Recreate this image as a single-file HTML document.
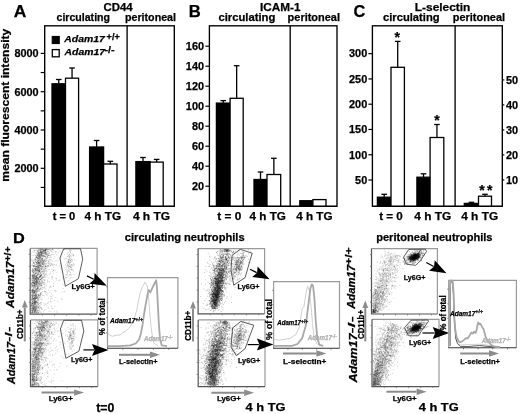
<!DOCTYPE html>
<html><head><meta charset="utf-8"><style>
html,body{margin:0;padding:0;background:#fff;}
svg{display:block;font-family:"Liberation Sans", sans-serif;}
</style></head><body>
<svg width="520" height="414" viewBox="0 0 520 414">
<defs><filter id="bl" x="-5%" y="-5%" width="110%" height="110%"><feGaussianBlur stdDeviation="0.45"/></filter><filter id="gb" x="0" y="0" width="100%" height="100%"><feGaussianBlur stdDeviation="0.35"/></filter></defs>
<g filter="url(#gb)">
<rect width="520" height="414" fill="#fff"/>
<rect x="44.7" y="25.8" width="129.60000000000002" height="180.5" fill="none" stroke="#000" stroke-width="1.35"/>
<line x1="127.1" y1="25.8" x2="127.1" y2="206.3" stroke="#000" stroke-width="1.35"/>
<line x1="40.7" y1="168.3" x2="44.7" y2="168.3" stroke="#000" stroke-width="1.2"/>
<text x="38.6" y="172.10000000000002" font-size="10.8" font-weight="bold" stroke="#000" stroke-width="0.25" text-anchor="end" textLength="24.2" lengthAdjust="spacingAndGlyphs">2000</text>
<line x1="40.7" y1="130.0" x2="44.7" y2="130.0" stroke="#000" stroke-width="1.2"/>
<text x="38.6" y="133.8" font-size="10.8" font-weight="bold" stroke="#000" stroke-width="0.25" text-anchor="end" textLength="24.2" lengthAdjust="spacingAndGlyphs">4000</text>
<line x1="40.7" y1="91.69999999999999" x2="44.7" y2="91.69999999999999" stroke="#000" stroke-width="1.2"/>
<text x="38.6" y="95.49999999999999" font-size="10.8" font-weight="bold" stroke="#000" stroke-width="0.25" text-anchor="end" textLength="24.2" lengthAdjust="spacingAndGlyphs">6000</text>
<line x1="40.7" y1="53.400000000000006" x2="44.7" y2="53.400000000000006" stroke="#000" stroke-width="1.2"/>
<text x="38.6" y="57.2" font-size="10.8" font-weight="bold" stroke="#000" stroke-width="0.25" text-anchor="end" textLength="24.2" lengthAdjust="spacingAndGlyphs">8000</text>
<line x1="40.7" y1="187.45" x2="44.7" y2="187.45" stroke="#000" stroke-width="1.2"/>
<line x1="40.7" y1="149.14999999999998" x2="44.7" y2="149.14999999999998" stroke="#000" stroke-width="1.2"/>
<line x1="40.7" y1="110.85" x2="44.7" y2="110.85" stroke="#000" stroke-width="1.2"/>
<line x1="40.7" y1="72.54999999999998" x2="44.7" y2="72.54999999999998" stroke="#000" stroke-width="1.2"/>
<line x1="58.75" y1="83.8" x2="58.75" y2="79.5" stroke="#000" stroke-width="1.3"/>
<line x1="55.95" y1="79.5" x2="61.55" y2="79.5" stroke="#000" stroke-width="1.3"/>
<rect x="52" y="83.8" width="13.5" height="122.50000000000001" fill="#000" stroke="#000" stroke-width="1.3"/>
<line x1="72.05" y1="78.2" x2="72.05" y2="68.0" stroke="#000" stroke-width="1.3"/>
<line x1="69.25" y1="68.0" x2="74.85" y2="68.0" stroke="#000" stroke-width="1.3"/>
<rect x="65.5" y="78.2" width="13.099999999999994" height="128.10000000000002" fill="#fff" stroke="#000" stroke-width="1.3"/>
<line x1="96.6" y1="147.0" x2="96.6" y2="140.5" stroke="#000" stroke-width="1.3"/>
<line x1="93.8" y1="140.5" x2="99.39999999999999" y2="140.5" stroke="#000" stroke-width="1.3"/>
<rect x="89.6" y="147.0" width="14.0" height="59.30000000000001" fill="#000" stroke="#000" stroke-width="1.3"/>
<line x1="110.3" y1="164.0" x2="110.3" y2="161.3" stroke="#000" stroke-width="1.3"/>
<line x1="107.5" y1="161.3" x2="113.1" y2="161.3" stroke="#000" stroke-width="1.3"/>
<rect x="103.6" y="164.0" width="13.400000000000006" height="42.30000000000001" fill="#fff" stroke="#000" stroke-width="1.3"/>
<line x1="143.0" y1="161.6" x2="143.0" y2="157.5" stroke="#000" stroke-width="1.3"/>
<line x1="140.2" y1="157.5" x2="145.8" y2="157.5" stroke="#000" stroke-width="1.3"/>
<rect x="135.9" y="161.6" width="14.199999999999989" height="44.70000000000002" fill="#000" stroke="#000" stroke-width="1.3"/>
<line x1="156.64999999999998" y1="162.1" x2="156.64999999999998" y2="159.4" stroke="#000" stroke-width="1.3"/>
<line x1="153.84999999999997" y1="159.4" x2="159.45" y2="159.4" stroke="#000" stroke-width="1.3"/>
<rect x="150.1" y="162.1" width="13.099999999999994" height="44.20000000000002" fill="#fff" stroke="#000" stroke-width="1.3"/>
<line x1="44.7" y1="206.3" x2="174.3" y2="206.3" stroke="#000" stroke-width="1.35"/>
<rect x="52.3" y="36.5" width="6.9" height="7.0" fill="#000" stroke="#000" stroke-width="1.2"/>
<rect x="52.3" y="49.6" width="6.9" height="7.2" fill="#fff" stroke="#000" stroke-width="1.3"/>
<text x="64.3" y="42.2" font-size="9.2" font-weight="bold" stroke="#000" stroke-width="0.25" font-style="italic" textLength="40.5" lengthAdjust="spacingAndGlyphs">Adam17</text>
<text x="106.6" y="39.6" font-size="9.4" font-weight="bold" stroke="#000" stroke-width="0.25" textLength="13.2" lengthAdjust="spacingAndGlyphs">+/+</text>
<text x="64.6" y="55.3" font-size="9.2" font-weight="bold" stroke="#000" stroke-width="0.25" font-style="italic" textLength="40.4" lengthAdjust="spacingAndGlyphs">Adam17</text>
<text x="104.4" y="53.2" font-size="9.4" font-weight="bold" stroke="#000" stroke-width="0.25" textLength="10.2" lengthAdjust="spacingAndGlyphs">-/-</text>
<text x="13.7" y="17.4" font-size="16.6" font-weight="bold" stroke="#000" stroke-width="0.25" textLength="12.6" lengthAdjust="spacingAndGlyphs">A</text>
<text x="103.5" y="11.3" font-size="11" font-weight="bold" stroke="#000" stroke-width="0.25" textLength="29.2" lengthAdjust="spacingAndGlyphs">CD44</text>
<text x="56.5" y="21.4" font-size="10.8" font-weight="bold" stroke="#000" stroke-width="0.25" textLength="53.5" lengthAdjust="spacingAndGlyphs">circulating</text>
<text x="125.0" y="21.4" font-size="10.8" font-weight="bold" stroke="#000" stroke-width="0.25" textLength="51.0" lengthAdjust="spacingAndGlyphs">peritoneal</text>
<text x="52.7" y="219.7" font-size="11" font-weight="bold" stroke="#000" stroke-width="0.25" textLength="22.6" lengthAdjust="spacingAndGlyphs">t = 0</text>
<text x="84.6" y="219.7" font-size="11" font-weight="bold" stroke="#000" stroke-width="0.25" textLength="36.4" lengthAdjust="spacingAndGlyphs">4 h TG</text>
<text x="132.9" y="219.7" font-size="11" font-weight="bold" stroke="#000" stroke-width="0.25" textLength="37.2" lengthAdjust="spacingAndGlyphs">4 h TG</text>
<text transform="translate(9.0,181.7) rotate(-90)" font-size="11.2" font-weight="bold" stroke="#000" stroke-width="0.25" textLength="153" lengthAdjust="spacingAndGlyphs">mean fluorescent intensity</text>
<rect x="209.4" y="25.8" width="127.6" height="180.5" fill="none" stroke="#000" stroke-width="1.35"/>
<line x1="290.2" y1="25.8" x2="290.2" y2="206.3" stroke="#000" stroke-width="1.35"/>
<line x1="205.4" y1="186.2" x2="209.4" y2="186.2" stroke="#000" stroke-width="1.2"/>
<text x="204.0" y="190.0" font-size="10.8" font-weight="bold" stroke="#000" stroke-width="0.25" text-anchor="end" textLength="12.1" lengthAdjust="spacingAndGlyphs">20</text>
<line x1="205.4" y1="166.2" x2="209.4" y2="166.2" stroke="#000" stroke-width="1.2"/>
<text x="204.0" y="170.0" font-size="10.8" font-weight="bold" stroke="#000" stroke-width="0.25" text-anchor="end" textLength="12.1" lengthAdjust="spacingAndGlyphs">40</text>
<line x1="205.4" y1="146.2" x2="209.4" y2="146.2" stroke="#000" stroke-width="1.2"/>
<text x="204.0" y="150.0" font-size="10.8" font-weight="bold" stroke="#000" stroke-width="0.25" text-anchor="end" textLength="12.1" lengthAdjust="spacingAndGlyphs">60</text>
<line x1="205.4" y1="126.19999999999999" x2="209.4" y2="126.19999999999999" stroke="#000" stroke-width="1.2"/>
<text x="204.0" y="130.0" font-size="10.8" font-weight="bold" stroke="#000" stroke-width="0.25" text-anchor="end" textLength="12.1" lengthAdjust="spacingAndGlyphs">80</text>
<line x1="205.4" y1="106.19999999999999" x2="209.4" y2="106.19999999999999" stroke="#000" stroke-width="1.2"/>
<text x="204.0" y="109.99999999999999" font-size="10.8" font-weight="bold" stroke="#000" stroke-width="0.25" text-anchor="end" textLength="18.15" lengthAdjust="spacingAndGlyphs">100</text>
<line x1="205.4" y1="86.19999999999999" x2="209.4" y2="86.19999999999999" stroke="#000" stroke-width="1.2"/>
<text x="204.0" y="89.99999999999999" font-size="10.8" font-weight="bold" stroke="#000" stroke-width="0.25" text-anchor="end" textLength="18.15" lengthAdjust="spacingAndGlyphs">120</text>
<line x1="205.4" y1="66.19999999999999" x2="209.4" y2="66.19999999999999" stroke="#000" stroke-width="1.2"/>
<text x="204.0" y="69.99999999999999" font-size="10.8" font-weight="bold" stroke="#000" stroke-width="0.25" text-anchor="end" textLength="18.15" lengthAdjust="spacingAndGlyphs">140</text>
<line x1="205.4" y1="46.19999999999999" x2="209.4" y2="46.19999999999999" stroke="#000" stroke-width="1.2"/>
<text x="204.0" y="49.999999999999986" font-size="10.8" font-weight="bold" stroke="#000" stroke-width="0.25" text-anchor="end" textLength="18.15" lengthAdjust="spacingAndGlyphs">160</text>
<line x1="223.25" y1="103.1" x2="223.25" y2="100.6" stroke="#000" stroke-width="1.3"/>
<line x1="220.45" y1="100.6" x2="226.05" y2="100.6" stroke="#000" stroke-width="1.3"/>
<rect x="216.4" y="103.1" width="13.699999999999989" height="103.20000000000002" fill="#000" stroke="#000" stroke-width="1.3"/>
<line x1="236.64999999999998" y1="98.3" x2="236.64999999999998" y2="65.7" stroke="#000" stroke-width="1.3"/>
<line x1="233.84999999999997" y1="65.7" x2="239.45" y2="65.7" stroke="#000" stroke-width="1.3"/>
<rect x="230.1" y="98.3" width="13.099999999999994" height="108.00000000000001" fill="#fff" stroke="#000" stroke-width="1.3"/>
<line x1="260.5" y1="179.5" x2="260.5" y2="172.0" stroke="#000" stroke-width="1.3"/>
<line x1="257.7" y1="172.0" x2="263.3" y2="172.0" stroke="#000" stroke-width="1.3"/>
<rect x="254.0" y="179.5" width="13.0" height="26.80000000000001" fill="#000" stroke="#000" stroke-width="1.3"/>
<line x1="273.85" y1="174.5" x2="273.85" y2="158.3" stroke="#000" stroke-width="1.3"/>
<line x1="271.05" y1="158.3" x2="276.65000000000003" y2="158.3" stroke="#000" stroke-width="1.3"/>
<rect x="267.0" y="174.5" width="13.699999999999989" height="31.80000000000001" fill="#fff" stroke="#000" stroke-width="1.3"/>
<rect x="299.8" y="200.7" width="13.099999999999966" height="5.600000000000023" fill="#000" stroke="#000" stroke-width="1.3"/>
<rect x="312.9" y="199.6" width="13.100000000000023" height="6.700000000000017" fill="#fff" stroke="#000" stroke-width="1.3"/>
<line x1="209.4" y1="206.3" x2="337.0" y2="206.3" stroke="#000" stroke-width="1.35"/>
<text x="188.8" y="17.4" font-size="16.6" font-weight="bold" stroke="#000" stroke-width="0.25" textLength="12.0" lengthAdjust="spacingAndGlyphs">B</text>
<text x="260.0" y="11.3" font-size="11" font-weight="bold" stroke="#000" stroke-width="0.25" textLength="40.5" lengthAdjust="spacingAndGlyphs">ICAM-1</text>
<text x="218.4" y="21.4" font-size="10.8" font-weight="bold" stroke="#000" stroke-width="0.25" textLength="57.0" lengthAdjust="spacingAndGlyphs">circulating</text>
<text x="287.6" y="21.4" font-size="10.8" font-weight="bold" stroke="#000" stroke-width="0.25" textLength="52.4" lengthAdjust="spacingAndGlyphs">peritoneal</text>
<text x="217.3" y="219.7" font-size="11" font-weight="bold" stroke="#000" stroke-width="0.25" textLength="24.0" lengthAdjust="spacingAndGlyphs">t = 0</text>
<text x="249.6" y="219.7" font-size="11" font-weight="bold" stroke="#000" stroke-width="0.25" textLength="36.3" lengthAdjust="spacingAndGlyphs">4 h TG</text>
<text x="296.2" y="219.7" font-size="11" font-weight="bold" stroke="#000" stroke-width="0.25" textLength="36.3" lengthAdjust="spacingAndGlyphs">4 h TG</text>
<rect x="372.4" y="25.8" width="129.90000000000003" height="180.5" fill="none" stroke="#000" stroke-width="1.35"/>
<line x1="455.1" y1="25.8" x2="455.1" y2="206.3" stroke="#000" stroke-width="1.35"/>
<line x1="368.4" y1="180.025" x2="372.4" y2="180.025" stroke="#000" stroke-width="1.2"/>
<text x="367.2" y="183.82500000000002" font-size="10.8" font-weight="bold" stroke="#000" stroke-width="0.25" text-anchor="end" textLength="12.1" lengthAdjust="spacingAndGlyphs">50</text>
<line x1="368.4" y1="154.75" x2="372.4" y2="154.75" stroke="#000" stroke-width="1.2"/>
<text x="367.2" y="158.55" font-size="10.8" font-weight="bold" stroke="#000" stroke-width="0.25" text-anchor="end" textLength="18.15" lengthAdjust="spacingAndGlyphs">100</text>
<line x1="368.4" y1="129.47500000000002" x2="372.4" y2="129.47500000000002" stroke="#000" stroke-width="1.2"/>
<text x="367.2" y="133.27500000000003" font-size="10.8" font-weight="bold" stroke="#000" stroke-width="0.25" text-anchor="end" textLength="18.15" lengthAdjust="spacingAndGlyphs">150</text>
<line x1="368.4" y1="104.20000000000002" x2="372.4" y2="104.20000000000002" stroke="#000" stroke-width="1.2"/>
<text x="367.2" y="108.00000000000001" font-size="10.8" font-weight="bold" stroke="#000" stroke-width="0.25" text-anchor="end" textLength="18.15" lengthAdjust="spacingAndGlyphs">200</text>
<line x1="368.4" y1="78.92500000000003" x2="372.4" y2="78.92500000000003" stroke="#000" stroke-width="1.2"/>
<text x="367.2" y="82.72500000000002" font-size="10.8" font-weight="bold" stroke="#000" stroke-width="0.25" text-anchor="end" textLength="18.15" lengthAdjust="spacingAndGlyphs">250</text>
<line x1="368.4" y1="53.650000000000034" x2="372.4" y2="53.650000000000034" stroke="#000" stroke-width="1.2"/>
<text x="367.2" y="57.45000000000003" font-size="10.8" font-weight="bold" stroke="#000" stroke-width="0.25" text-anchor="end" textLength="18.15" lengthAdjust="spacingAndGlyphs">300</text>
<line x1="502.3" y1="179.9" x2="504.3" y2="179.9" stroke="#000" stroke-width="1.2"/>
<text x="506.0" y="183.70000000000002" font-size="10.8" font-weight="bold" stroke="#000" stroke-width="0.25" textLength="12.1" lengthAdjust="spacingAndGlyphs">10</text>
<line x1="502.3" y1="154.9" x2="504.3" y2="154.9" stroke="#000" stroke-width="1.2"/>
<text x="506.0" y="158.70000000000002" font-size="10.8" font-weight="bold" stroke="#000" stroke-width="0.25" textLength="12.1" lengthAdjust="spacingAndGlyphs">20</text>
<line x1="502.3" y1="129.9" x2="504.3" y2="129.9" stroke="#000" stroke-width="1.2"/>
<text x="506.0" y="133.70000000000002" font-size="10.8" font-weight="bold" stroke="#000" stroke-width="0.25" textLength="12.1" lengthAdjust="spacingAndGlyphs">30</text>
<line x1="502.3" y1="104.9" x2="504.3" y2="104.9" stroke="#000" stroke-width="1.2"/>
<text x="506.0" y="108.7" font-size="10.8" font-weight="bold" stroke="#000" stroke-width="0.25" textLength="12.1" lengthAdjust="spacingAndGlyphs">40</text>
<line x1="502.3" y1="79.9" x2="504.3" y2="79.9" stroke="#000" stroke-width="1.2"/>
<text x="506.0" y="83.7" font-size="10.8" font-weight="bold" stroke="#000" stroke-width="0.25" textLength="12.1" lengthAdjust="spacingAndGlyphs">50</text>
<line x1="384.2" y1="197.2" x2="384.2" y2="194.3" stroke="#000" stroke-width="1.3"/>
<line x1="381.4" y1="194.3" x2="387.0" y2="194.3" stroke="#000" stroke-width="1.3"/>
<rect x="377.4" y="197.2" width="13.600000000000023" height="9.100000000000023" fill="#000" stroke="#000" stroke-width="1.3"/>
<line x1="397.7" y1="67.3" x2="397.7" y2="41.4" stroke="#000" stroke-width="1.3"/>
<line x1="394.9" y1="41.4" x2="400.5" y2="41.4" stroke="#000" stroke-width="1.3"/>
<rect x="391.0" y="67.3" width="13.399999999999977" height="139.0" fill="#fff" stroke="#000" stroke-width="1.3"/>
<line x1="423.5" y1="177.2" x2="423.5" y2="173.8" stroke="#000" stroke-width="1.3"/>
<line x1="420.7" y1="173.8" x2="426.3" y2="173.8" stroke="#000" stroke-width="1.3"/>
<rect x="416.9" y="177.2" width="13.200000000000045" height="29.100000000000023" fill="#000" stroke="#000" stroke-width="1.3"/>
<line x1="436.95000000000005" y1="137.5" x2="436.95000000000005" y2="124.5" stroke="#000" stroke-width="1.3"/>
<line x1="434.15000000000003" y1="124.5" x2="439.75000000000006" y2="124.5" stroke="#000" stroke-width="1.3"/>
<rect x="430.1" y="137.5" width="13.699999999999989" height="68.80000000000001" fill="#fff" stroke="#000" stroke-width="1.3"/>
<line x1="471.4" y1="203.4" x2="471.4" y2="202.3" stroke="#000" stroke-width="1.3"/>
<line x1="468.59999999999997" y1="202.3" x2="474.2" y2="202.3" stroke="#000" stroke-width="1.3"/>
<rect x="464.3" y="203.4" width="14.199999999999989" height="2.9000000000000057" fill="#000" stroke="#000" stroke-width="1.3"/>
<line x1="485.0" y1="196.2" x2="485.0" y2="194.3" stroke="#000" stroke-width="1.3"/>
<line x1="482.2" y1="194.3" x2="487.8" y2="194.3" stroke="#000" stroke-width="1.3"/>
<rect x="478.5" y="196.2" width="13.0" height="10.100000000000023" fill="#fff" stroke="#000" stroke-width="1.3"/>
<line x1="372.4" y1="206.3" x2="502.3" y2="206.3" stroke="#000" stroke-width="1.35"/>
<text x="397.3" y="41.6" font-size="14" font-weight="bold" stroke="#000" stroke-width="0.25" text-anchor="middle">*</text>
<text x="436.9" y="125.0" font-size="14" font-weight="bold" stroke="#000" stroke-width="0.25" text-anchor="middle">*</text>
<text x="481.9" y="194.8" font-size="14" font-weight="bold" stroke="#000" stroke-width="0.25" text-anchor="middle">*</text>
<text x="489.7" y="194.8" font-size="14" font-weight="bold" stroke="#000" stroke-width="0.25" text-anchor="middle">*</text>
<text x="353.4" y="17.4" font-size="16.6" font-weight="bold" stroke="#000" stroke-width="0.25" textLength="11.8" lengthAdjust="spacingAndGlyphs">C</text>
<text x="414.8" y="11.3" font-size="11" font-weight="bold" stroke="#000" stroke-width="0.25" textLength="55.6" lengthAdjust="spacingAndGlyphs">L-selectin</text>
<text x="383.0" y="21.4" font-size="10.8" font-weight="bold" stroke="#000" stroke-width="0.25" textLength="56.6" lengthAdjust="spacingAndGlyphs">circulating</text>
<text x="452.8" y="21.4" font-size="10.8" font-weight="bold" stroke="#000" stroke-width="0.25" textLength="52.2" lengthAdjust="spacingAndGlyphs">peritoneal</text>
<text x="379.2" y="219.7" font-size="11" font-weight="bold" stroke="#000" stroke-width="0.25" textLength="23.6" lengthAdjust="spacingAndGlyphs">t = 0</text>
<text x="414.3" y="219.7" font-size="11" font-weight="bold" stroke="#000" stroke-width="0.25" textLength="36.9" lengthAdjust="spacingAndGlyphs">4 h TG</text>
<text x="461.2" y="219.7" font-size="11" font-weight="bold" stroke="#000" stroke-width="0.25" textLength="37.0" lengthAdjust="spacingAndGlyphs">4 h TG</text>
<text x="12.9" y="243.4" font-size="14.5" font-weight="bold" stroke="#000" stroke-width="0.25" textLength="11.8" lengthAdjust="spacingAndGlyphs">D</text>
<text x="124.8" y="240.6" font-size="11" font-weight="bold" stroke="#000" stroke-width="0.25" textLength="119.8" lengthAdjust="spacingAndGlyphs">circulating neutrophils</text>
<text x="376.2" y="240.6" font-size="11" font-weight="bold" stroke="#000" stroke-width="0.25" textLength="116.3" lengthAdjust="spacingAndGlyphs">peritoneal neutrophils</text>
<text x="96.2" y="412.3" font-size="12.6" font-weight="bold" stroke="#000" stroke-width="0.25" textLength="18.2" lengthAdjust="spacingAndGlyphs">t=0</text>
<text x="245.5" y="411.4" font-size="11.8" font-weight="bold" stroke="#000" stroke-width="0.25" textLength="40" lengthAdjust="spacingAndGlyphs">4 h TG</text>
<text x="418.7" y="411.4" font-size="11.8" font-weight="bold" stroke="#000" stroke-width="0.25" textLength="40" lengthAdjust="spacingAndGlyphs">4 h TG</text>
<path d="M30.2 248.4H97.1V314.2" stroke="#9a9a9a" stroke-width="1.2" fill="none"/>
<path d="M30.2 248.4V314.2H97.1" stroke="#555" stroke-width="1.2" fill="none"/>
<line x1="30.2" y1="302.23636363636365" x2="28.7" y2="302.23636363636365" stroke="#777" stroke-width="0.8"/>
<line x1="42.36363636363636" y1="314.2" x2="42.36363636363636" y2="315.7" stroke="#777" stroke-width="0.8"/>
<line x1="30.2" y1="290.27272727272725" x2="28.7" y2="290.27272727272725" stroke="#777" stroke-width="0.8"/>
<line x1="54.527272727272724" y1="314.2" x2="54.527272727272724" y2="315.7" stroke="#777" stroke-width="0.8"/>
<line x1="30.2" y1="278.3090909090909" x2="28.7" y2="278.3090909090909" stroke="#777" stroke-width="0.8"/>
<line x1="66.69090909090909" y1="314.2" x2="66.69090909090909" y2="315.7" stroke="#777" stroke-width="0.8"/>
<line x1="30.2" y1="266.3454545454546" x2="28.7" y2="266.3454545454546" stroke="#777" stroke-width="0.8"/>
<line x1="78.85454545454544" y1="314.2" x2="78.85454545454544" y2="315.7" stroke="#777" stroke-width="0.8"/>
<line x1="30.2" y1="254.38181818181818" x2="28.7" y2="254.38181818181818" stroke="#777" stroke-width="0.8"/>
<line x1="91.0181818181818" y1="314.2" x2="91.0181818181818" y2="315.7" stroke="#777" stroke-width="0.8"/>
<path d="M30.5 319.9H97.8V386.6" stroke="#9a9a9a" stroke-width="1.2" fill="none"/>
<path d="M30.5 319.9V386.6H97.8" stroke="#555" stroke-width="1.2" fill="none"/>
<line x1="30.5" y1="374.4727272727273" x2="29.0" y2="374.4727272727273" stroke="#777" stroke-width="0.8"/>
<line x1="42.736363636363635" y1="386.6" x2="42.736363636363635" y2="388.1" stroke="#777" stroke-width="0.8"/>
<line x1="30.5" y1="362.3454545454546" x2="29.0" y2="362.3454545454546" stroke="#777" stroke-width="0.8"/>
<line x1="54.97272727272727" y1="386.6" x2="54.97272727272727" y2="388.1" stroke="#777" stroke-width="0.8"/>
<line x1="30.5" y1="350.21818181818185" x2="29.0" y2="350.21818181818185" stroke="#777" stroke-width="0.8"/>
<line x1="67.2090909090909" y1="386.6" x2="67.2090909090909" y2="388.1" stroke="#777" stroke-width="0.8"/>
<line x1="30.5" y1="338.09090909090907" x2="29.0" y2="338.09090909090907" stroke="#777" stroke-width="0.8"/>
<line x1="79.44545454545454" y1="386.6" x2="79.44545454545454" y2="388.1" stroke="#777" stroke-width="0.8"/>
<line x1="30.5" y1="325.96363636363634" x2="29.0" y2="325.96363636363634" stroke="#777" stroke-width="0.8"/>
<line x1="91.68181818181819" y1="386.6" x2="91.68181818181819" y2="388.1" stroke="#777" stroke-width="0.8"/>
<g filter="url(#bl)">
<path d="M31.5 287.9h1M33.5 299.2h1M39.5 254.6h1M40.4 275.4h1M31.6 282.5h1M39.5 252.9h1M39.9 256.2h1M37.4 268.2h1M32.6 281.1h1M36.5 257.6h1M36.9 275.1h1M37.7 291.1h1M42.5 270.8h1M33.8 305.3h1M33.0 309.1h1M34.0 285.8h1M36.2 301.1h1M31.6 312.7h1M40.2 276.4h1M33.4 274.2h1M37.3 259.3h1M48.9 255.2h1M36.7 270.1h1M32.6 299.7h1M44.7 249.9h1M34.9 279.6h1M31.9 299.0h1M39.5 282.1h1M43.1 260.4h1M41.5 269.2h1M33.5 268.7h1M34.8 282.7h1M40.5 294.3h1M31.7 312.4h1M31.3 305.3h1M32.3 299.4h1M32.6 294.0h1M43.9 253.6h1M37.2 258.3h1M35.3 282.2h1M38.7 276.4h1M33.6 310.8h1M32.1 282.6h1M37.1 277.6h1M35.7 279.5h1M38.6 282.1h1M37.9 258.3h1M30.9 265.5h1M38.4 308.2h1M40.8 268.6h1M36.4 272.5h1M37.2 288.4h1M32.3 279.1h1M37.5 258.3h1M34.7 283.0h1M31.8 301.4h1M38.8 250.3h1M35.4 259.2h1M41.3 308.5h1M34.8 275.2h1M33.2 276.2h1M38.1 263.5h1M35.6 309.7h1M47.7 255.4h1M38.8 271.4h1M36.9 270.4h1M34.6 292.3h1M33.7 265.9h1M32.7 304.4h1M36.2 282.1h1M38.7 305.2h1M34.5 302.6h1M41.8 260.9h1M38.1 260.5h1M45.3 252.5h1M40.4 265.8h1M37.7 263.9h1M43.3 263.1h1M35.5 270.8h1M41.6 283.0h1M42.3 252.4h1M35.1 278.6h1M43.4 261.3h1M31.8 313.1h1M35.4 283.8h1M33.6 291.1h1M36.6 291.4h1M43.1 250.1h1M34.0 299.8h1M38.0 279.1h1M37.1 261.4h1M40.3 293.5h1M34.5 302.2h1M44.8 249.2h1M33.4 266.3h1M31.9 305.7h1M37.2 274.6h1M37.6 272.2h1M35.8 262.9h1M44.3 269.7h1M38.1 273.0h1M32.1 276.3h1M52.8 270.1h1M35.9 276.4h1M33.1 290.6h1M40.7 274.7h1M36.3 283.8h1M47.5 263.3h1M35.2 273.1h1M37.4 310.6h1M37.8 298.1h1M33.9 297.7h1M42.3 263.0h1M42.4 279.1h1M38.4 253.5h1M42.0 271.7h1M33.0 304.7h1M39.6 270.1h1M37.5 300.3h1M41.0 288.9h1M43.9 251.5h1M44.2 253.1h1M39.2 311.1h1M32.8 283.8h1M32.0 289.6h1M32.7 302.7h1M39.5 289.1h1M31.5 306.3h1M34.8 270.5h1M38.7 297.5h1M41.1 249.7h1M38.3 285.9h1M37.3 287.0h1M36.8 261.1h1M33.8 303.1h1M35.2 281.2h1M41.3 283.0h1M36.1 279.2h1M32.6 266.6h1M37.9 255.2h1M38.5 273.0h1M36.6 310.7h1M32.1 309.1h1M32.8 293.2h1M37.5 278.2h1M42.1 249.2h1M42.3 258.3h1M31.9 263.9h1M31.1 305.0h1M33.7 305.9h1M32.8 293.8h1M35.1 290.7h1M49.9 273.3h1M31.3 280.5h1M40.6 261.8h1M46.4 258.7h1M38.1 267.6h1M33.5 303.2h1M45.1 251.0h1M36.1 276.4h1M32.2 296.8h1M32.3 292.4h1M35.6 298.6h1M42.2 267.0h1M35.3 269.0h1M49.3 263.9h1M40.9 286.1h1M37.2 255.4h1M44.1 284.7h1M41.5 251.8h1M40.5 255.1h1M39.2 255.5h1M35.4 307.9h1M41.7 259.1h1M39.4 299.2h1M32.6 285.2h1M32.7 272.0h1M38.1 305.0h1M31.9 276.8h1M48.3 255.0h1M38.2 270.8h1M35.7 284.5h1M40.3 260.2h1M36.0 284.1h1M43.1 266.5h1M38.4 286.0h1M33.6 300.5h1M33.7 268.5h1M36.7 282.6h1M40.9 256.7h1M42.1 264.1h1M33.5 292.3h1M37.8 279.8h1M41.9 309.4h1M35.2 260.3h1M32.7 301.1h1M39.6 297.9h1M34.3 280.3h1M39.5 295.5h1M36.1 273.2h1M40.3 297.0h1M33.5 287.7h1M32.1 280.6h1M41.7 255.9h1M38.5 293.6h1M33.2 282.6h1M34.6 306.8h1M36.9 260.7h1M31.0 290.9h1M33.9 295.7h1M32.6 305.9h1M34.0 299.0h1M35.8 276.8h1M35.6 286.4h1M37.5 258.8h1M36.6 263.6h1M35.3 309.4h1M38.2 253.3h1M40.4 285.1h1M31.9 298.0h1M34.8 255.6h1M41.1 271.2h1M34.6 270.8h1M32.6 272.2h1M38.4 270.2h1M31.7 296.8h1M35.7 272.2h1M35.6 253.1h1M33.3 289.8h1M34.2 288.8h1M48.4 253.2h1M34.2 304.7h1M36.5 262.8h1M36.3 284.6h1M45.0 277.0h1M36.0 297.2h1M33.2 263.2h1M42.3 276.6h1M39.6 254.1h1M41.7 263.3h1M48.4 266.0h1M33.1 294.1h1M36.3 266.3h1M36.5 275.3h1M41.9 249.6h1M33.3 272.6h1M35.2 271.9h1M35.8 280.5h1M34.0 307.4h1M40.6 253.2h1M36.4 302.2h1M32.1 272.0h1M48.2 255.4h1M32.3 286.5h1M39.0 258.1h1M36.4 301.7h1M37.6 279.1h1M31.9 300.2h1M43.1 269.6h1M33.6 307.9h1M31.6 293.1h1M43.1 255.9h1M40.9 277.9h1M39.7 303.1h1M50.8 254.5h1M36.1 266.4h1M40.8 294.1h1M36.3 296.2h1M32.3 278.3h1M39.5 266.2h1M38.9 264.6h1M31.2 310.7h1M34.0 292.5h1M41.9 263.6h1M31.3 290.1h1M32.3 285.9h1M35.5 311.3h1M34.2 284.8h1M34.6 298.5h1M37.8 263.1h1M35.0 287.4h1M33.9 250.1h1M31.8 291.8h1M45.0 265.7h1M47.2 257.7h1M31.7 276.0h1M37.6 266.7h1M43.4 255.6h1M43.5 273.6h1M38.8 283.6h1M37.8 299.3h1M35.5 266.6h1M34.5 302.9h1M39.3 250.8h1M38.5 253.2h1M33.4 276.0h1M43.8 277.3h1M36.9 306.0h1M47.7 261.5h1M40.3 292.9h1M41.1 292.4h1M38.0 270.3h1M38.2 254.0h1M32.9 294.1h1M32.3 270.3h1M34.2 312.0h1M42.1 266.7h1M40.3 286.1h1M38.3 279.4h1M35.9 280.2h1M35.2 291.4h1M33.9 277.2h1M40.1 265.9h1M33.0 278.0h1M43.0 253.7h1M40.7 275.9h1M33.7 302.1h1M33.5 306.5h1M32.6 289.3h1M35.5 311.2h1M41.8 251.7h1M32.3 289.9h1M48.7 253.7h1M49.6 249.3h1M37.8 264.2h1M38.1 252.7h1M36.0 255.9h1M34.8 259.0h1M39.3 284.4h1M41.6 271.7h1M46.3 260.5h1M40.4 268.0h1M38.2 287.7h1M39.9 249.1h1M44.9 251.1h1M34.3 295.6h1M45.0 256.5h1M34.9 298.4h1M33.2 282.1h1M39.5 289.2h1M39.2 249.4h1M40.2 293.9h1M40.0 275.6h1M33.2 298.7h1M36.3 256.9h1M46.7 275.5h1M34.3 304.6h1M38.3 277.5h1M33.2 296.1h1M37.1 250.7h1M31.9 303.7h1M34.9 311.7h1M31.0 290.0h1M43.6 273.0h1M33.2 308.5h1M35.7 291.0h1M48.6 249.5h1M44.9 265.8h1M33.6 280.0h1M36.0 256.5h1M35.1 299.9h1M40.0 273.2h1M41.2 258.9h1M45.8 258.5h1M31.0 284.2h1M39.1 257.9h1M31.1 279.6h1M32.8 306.0h1M43.3 271.8h1M32.1 306.8h1M47.5 265.6h1M42.4 249.1h1M34.1 300.1h1M34.6 298.7h1M45.1 249.7h1M35.3 267.2h1M40.3 264.0h1M44.2 249.5h1M43.7 260.1h1M38.1 295.1h1M37.7 262.1h1M35.0 303.7h1M36.4 297.5h1M38.0 262.7h1M34.8 302.0h1M32.8 305.5h1M39.7 263.6h1M41.5 255.5h1M38.4 290.2h1M33.9 274.3h1M37.3 284.8h1M42.2 256.7h1M36.5 263.0h1M33.7 291.3h1M38.7 289.9h1M36.1 276.7h1M39.9 255.9h1M37.1 287.7h1M47.4 256.8h1M41.5 260.7h1M41.2 279.1h1M39.3 284.4h1M36.9 250.2h1M31.6 297.6h1M37.8 296.4h1M40.3 254.5h1M31.6 286.4h1M36.1 262.7h1M36.6 277.5h1M40.0 261.8h1M34.0 287.1h1M36.7 288.3h1M38.7 307.3h1M63.3 278.8h1M50.4 311.4h1M38.3 301.3h1M42.0 295.3h1M41.3 261.2h1M47.4 281.3h1M44.9 261.5h1M41.1 304.2h1M44.3 287.0h1M40.0 277.3h1M60.1 268.1h1M62.3 284.3h1M50.3 298.7h1M35.7 295.5h1M54.7 270.7h1M42.7 251.2h1M47.7 298.7h1M45.2 261.8h1M44.0 272.0h1M42.8 311.8h1M64.0 291.7h1M55.1 290.4h1M44.9 293.0h1M44.5 256.5h1M55.2 297.5h1M57.9 249.1h1M45.6 260.6h1M48.1 265.9h1M43.6 279.4h1M42.6 282.9h1M43.7 276.1h1M44.8 252.4h1M54.4 290.8h1M51.1 296.5h1M51.6 279.3h1M46.3 252.6h1M44.8 250.1h1M42.4 267.5h1M49.9 296.2h1M38.7 281.6h1M43.7 310.4h1M54.8 251.6h1M49.9 259.4h1M35.4 292.1h1M40.1 287.9h1M46.2 286.1h1M48.0 261.3h1M49.7 257.3h1M40.1 307.5h1M45.6 249.8h1M36.7 312.7h1M38.7 290.2h1M45.2 303.9h1M36.2 283.8h1M48.3 278.0h1M61.3 269.9h1M41.7 299.2h1M39.4 295.6h1M52.8 270.2h1M42.6 249.5h1M43.3 250.5h1M44.6 250.3h1M45.4 251.0h1M43.3 250.7h1M68.0 261.2h1M67.7 261.7h1M67.4 256.5h1M67.0 273.4h1M69.4 258.1h1M72.3 269.7h1M70.2 255.7h1M68.9 263.4h1M68.8 268.4h1M68.5 270.9h1M67.6 270.3h1M67.4 266.8h1M70.9 259.5h1M67.7 271.1h1M67.5 280.4h1M69.4 250.8h1M67.3 275.9h1M69.5 257.0h1M73.2 255.2h1M68.4 259.5h1M67.3 265.4h1M66.8 265.4h1M69.5 265.8h1M66.8 256.2h1M67.2 264.0h1M70.0 260.1h1M70.1 272.9h1M66.6 271.8h1M70.8 277.2h1M68.1 265.7h1M71.7 270.0h1M69.1 266.6h1" stroke="#000" stroke-width="1" stroke-opacity="0.19" fill="none"/>
<path d="M32.2 307.9h1M34.2 311.1h1M40.1 268.5h1M38.3 270.9h1M33.3 292.2h1M33.9 280.7h1M37.9 284.9h1M39.1 297.3h1M42.5 288.0h1M43.2 261.8h1M37.7 262.5h1M32.8 308.4h1M38.7 271.1h1M39.4 263.9h1M37.9 294.4h1M33.6 309.3h1M46.0 266.7h1M34.9 294.7h1M44.0 287.9h1M38.3 279.3h1M39.9 255.7h1M37.0 254.1h1M33.9 311.8h1M35.6 254.0h1M36.6 307.8h1M33.9 300.0h1M38.7 261.4h1M31.0 308.4h1M34.2 276.2h1M38.6 276.1h1M38.4 255.3h1M39.3 258.4h1M38.7 262.9h1M33.2 279.2h1M34.0 297.7h1M39.5 253.5h1M38.0 304.1h1M32.7 285.6h1M37.2 287.9h1M42.0 281.6h1M40.5 250.7h1M31.8 289.7h1M33.4 282.0h1M36.7 266.4h1M37.7 252.0h1M39.2 277.6h1M32.4 309.1h1M32.7 250.9h1M32.2 290.5h1M37.6 280.8h1M33.8 283.7h1M33.2 269.5h1M32.9 278.7h1M33.9 310.7h1M43.6 256.2h1M38.6 260.4h1M34.8 299.5h1M39.1 255.9h1M43.1 264.3h1M36.8 265.4h1M43.7 264.7h1M33.0 276.1h1M41.9 258.6h1M43.9 256.1h1M35.6 305.7h1M34.2 273.1h1M38.1 260.2h1M35.0 257.4h1M40.1 272.3h1M34.4 259.3h1M42.5 259.8h1M36.7 306.0h1M39.7 279.4h1M39.8 288.8h1M37.9 270.9h1M39.9 276.4h1M39.0 262.3h1M34.2 265.0h1M42.1 261.0h1M40.4 275.8h1M48.9 257.2h1M44.8 270.4h1M36.8 288.6h1M40.1 307.4h1M39.3 265.7h1M35.0 270.1h1M31.8 312.4h1M33.6 277.4h1M34.4 302.7h1M41.2 253.1h1M35.2 310.2h1M35.0 281.7h1M35.0 277.3h1M31.4 285.6h1M35.3 298.9h1M34.2 271.5h1M31.6 311.3h1M36.1 293.1h1M35.0 309.9h1M41.4 254.0h1M44.2 276.1h1M31.5 301.2h1M34.0 270.4h1M32.4 261.8h1M38.9 306.2h1M37.2 290.5h1M31.0 292.6h1M35.3 261.7h1M32.4 302.8h1M35.8 296.3h1M34.7 269.1h1M45.0 254.7h1M38.6 254.2h1M36.2 259.7h1M40.8 260.1h1M40.9 281.0h1M35.0 266.5h1M31.8 298.7h1M44.2 280.5h1M41.7 264.2h1M33.1 298.5h1M34.7 274.9h1M43.1 250.8h1M32.3 270.5h1M39.9 274.3h1M33.3 300.7h1M37.0 268.0h1M36.2 280.4h1M35.1 302.1h1M31.9 275.9h1M35.8 277.5h1M42.4 277.5h1M38.7 256.4h1M33.1 295.9h1M34.1 307.5h1M42.8 265.8h1M31.3 282.8h1M35.1 296.8h1M45.0 266.8h1M37.2 268.1h1M40.0 249.7h1M44.2 252.7h1M37.9 257.6h1M46.6 257.2h1M40.2 251.2h1M43.3 261.0h1M39.2 283.6h1M39.4 252.6h1M33.3 292.9h1M36.9 255.3h1M48.6 262.3h1M34.2 275.1h1M35.5 250.7h1M34.4 260.8h1M41.2 275.7h1M35.2 278.5h1M38.9 265.6h1M33.9 295.9h1M34.3 290.9h1M35.6 276.5h1M45.4 249.6h1M41.9 258.6h1M36.9 286.0h1M32.8 298.3h1M34.4 259.3h1M34.5 300.6h1M36.5 288.3h1M36.7 311.8h1M44.2 261.0h1M35.6 306.1h1M37.2 267.7h1M49.5 264.1h1M35.8 282.7h1M32.3 276.9h1M41.0 255.3h1M37.7 302.3h1M44.5 254.4h1M36.1 281.1h1M39.6 265.8h1M33.7 308.0h1M35.2 296.5h1M42.4 253.6h1M33.8 312.6h1M32.3 292.8h1M42.4 263.1h1M37.2 265.3h1M31.8 303.0h1M32.5 307.3h1M35.1 286.8h1M42.4 273.2h1M32.1 295.2h1M33.8 283.3h1M33.2 266.2h1M40.5 254.1h1M35.4 270.6h1M39.4 262.6h1M33.8 290.3h1M36.3 278.4h1M35.8 281.0h1M34.1 271.0h1M36.9 300.1h1M32.6 284.8h1M38.3 306.9h1M37.2 312.3h1M43.2 271.2h1M34.1 283.7h1M38.9 271.0h1M46.4 253.4h1M41.9 262.6h1M38.5 270.9h1M38.7 282.3h1M38.1 267.2h1M33.9 252.0h1M34.0 282.6h1M40.0 249.1h1M38.5 260.5h1M36.0 303.9h1M41.7 253.4h1M35.1 301.1h1M32.1 303.2h1M39.9 275.9h1M38.6 252.9h1M42.4 257.9h1M31.4 291.1h1M39.9 262.0h1M31.2 312.4h1M40.3 250.3h1M39.2 294.9h1M39.3 252.8h1M38.1 283.8h1M37.2 280.9h1M34.0 306.3h1M41.1 265.9h1M33.2 309.9h1M33.8 275.4h1M38.1 264.7h1M38.0 295.6h1M36.3 269.8h1M37.6 262.9h1M45.3 271.1h1M31.8 278.6h1M35.7 289.8h1M32.5 307.1h1M32.3 281.4h1M36.7 283.0h1M34.7 295.6h1M34.6 288.2h1M36.5 305.5h1M36.0 278.9h1M37.2 289.6h1M33.5 310.0h1M31.7 275.7h1M33.1 290.5h1M37.8 288.3h1M46.2 253.0h1M31.5 292.6h1M34.4 276.5h1M36.9 281.8h1M36.1 312.0h1M35.3 296.2h1M32.1 274.6h1M33.1 305.7h1M38.6 256.5h1M34.8 287.5h1M35.5 294.9h1M39.8 252.4h1M33.2 272.9h1M31.4 303.2h1M31.6 297.1h1M35.3 294.4h1M32.8 295.2h1M42.2 260.2h1M34.8 310.2h1M36.5 280.2h1M33.9 282.5h1M31.6 283.5h1M32.4 308.4h1M36.5 264.0h1M41.2 281.3h1M41.0 275.4h1M40.2 273.4h1M35.6 257.5h1M33.0 299.5h1M41.2 255.1h1M34.6 266.6h1M30.9 283.6h1M40.9 253.6h1M32.4 275.1h1M33.4 302.0h1M44.5 250.6h1M37.6 262.0h1M32.9 283.0h1M31.2 260.5h1M35.5 255.9h1M41.5 259.1h1M47.1 256.3h1M35.9 290.9h1M35.8 294.8h1M40.4 260.4h1M39.2 275.3h1M36.2 281.2h1M31.5 295.5h1M36.9 294.7h1M40.9 257.5h1M35.7 270.0h1M34.4 283.1h1M34.0 283.7h1M36.3 280.0h1M35.9 296.7h1M32.2 265.7h1M50.9 257.8h1M32.0 260.0h1M35.6 279.7h1M38.7 271.1h1M34.3 304.5h1M32.3 292.0h1M38.6 284.2h1M39.6 303.4h1M37.3 296.9h1M35.9 295.0h1M45.2 263.7h1M39.1 259.0h1M45.3 258.0h1M37.6 298.7h1M34.8 291.3h1M35.6 310.0h1M31.5 283.9h1M34.0 302.7h1M39.4 296.8h1M37.3 279.8h1M49.1 259.9h1M41.9 278.1h1M34.4 291.4h1M34.8 268.0h1M32.0 282.7h1M36.3 267.0h1M41.4 263.6h1M43.5 252.8h1M32.6 296.9h1M39.1 271.3h1M31.9 298.7h1M36.9 269.4h1M41.9 251.5h1M39.4 252.6h1M34.3 285.4h1M36.6 286.6h1M39.0 270.7h1M42.7 273.8h1M31.7 293.1h1M32.6 310.9h1M43.2 253.5h1M37.6 253.2h1M34.6 269.1h1M32.9 291.8h1M36.8 279.5h1M33.6 292.6h1M35.8 294.9h1M36.5 291.5h1M47.2 256.1h1M35.0 295.3h1M34.9 304.1h1M32.8 262.8h1M35.0 288.9h1M35.9 273.5h1M40.9 275.2h1M34.4 283.7h1M38.2 288.6h1M32.2 268.8h1M44.3 256.7h1M38.6 271.7h1M38.8 271.7h1M35.6 269.2h1M40.8 262.0h1M31.8 280.3h1M34.5 308.1h1M33.6 303.6h1M39.2 269.4h1M32.9 307.9h1M31.6 296.3h1M36.9 290.0h1M37.4 278.2h1M33.2 278.1h1M36.6 284.4h1M34.8 295.8h1M35.1 296.6h1M53.0 250.1h1M36.1 266.5h1M38.0 258.4h1M36.4 270.8h1M36.4 291.3h1M36.3 277.1h1M34.1 304.8h1M40.6 250.0h1M41.0 258.5h1M34.5 302.5h1M35.0 280.8h1M33.0 270.4h1M46.3 254.6h1M37.1 282.4h1M34.1 285.0h1M37.9 304.2h1M51.9 261.0h1M48.9 252.2h1M39.2 303.4h1M32.5 271.1h1M42.8 273.8h1M35.8 249.9h1M33.7 291.2h1M52.1 252.0h1M34.7 298.3h1M38.0 269.9h1M36.4 257.4h1M54.4 306.3h1M35.0 273.2h1M38.7 310.9h1M55.5 251.7h1M43.5 268.7h1M45.6 266.8h1M38.9 265.6h1M47.0 280.1h1M61.6 256.9h1M69.8 249.5h1M34.7 311.3h1M38.6 286.2h1M39.6 281.0h1M57.2 301.7h1M69.7 266.5h1M41.3 282.0h1M58.2 252.3h1M53.5 264.9h1M44.7 265.8h1M45.4 288.9h1M56.1 280.1h1M48.7 274.4h1M65.6 267.7h1M51.8 277.7h1M41.8 284.9h1M33.0 306.3h1M52.2 308.5h1M50.3 265.6h1M60.2 258.1h1M44.8 261.2h1M59.7 263.7h1M47.7 266.2h1M51.3 277.8h1M50.1 266.0h1M41.8 289.4h1M44.4 264.3h1M41.4 287.2h1M48.9 292.4h1M41.9 291.6h1M62.7 288.5h1M50.0 301.3h1M36.0 281.2h1M42.4 277.2h1M59.1 280.2h1M37.8 300.5h1M44.2 305.3h1M61.4 253.0h1M64.2 249.5h1M47.8 265.2h1M46.5 271.6h1M50.5 302.0h1M40.9 302.5h1M39.2 309.2h1M51.0 294.0h1M47.1 303.3h1M49.6 265.1h1M45.7 274.5h1M46.6 294.9h1M46.1 273.0h1M47.0 249.5h1M48.1 251.3h1M46.0 249.4h1M47.1 249.9h1M43.5 250.7h1M45.0 249.8h1M69.9 278.0h1M67.6 252.7h1M67.8 268.1h1M71.8 259.5h1M69.6 269.5h1M68.3 275.9h1M73.0 255.1h1M70.6 261.0h1M68.9 254.8h1M65.1 264.6h1M72.9 255.8h1M69.3 262.3h1M67.8 262.5h1M65.9 275.0h1M65.0 277.4h1M67.3 259.6h1M67.9 262.7h1M74.1 259.9h1M68.1 259.1h1M67.0 253.8h1M70.4 264.7h1M69.1 274.6h1M70.6 258.4h1M68.3 256.3h1M69.7 274.4h1M66.5 263.3h1M66.5 261.9h1M69.5 256.7h1M66.3 277.4h1M70.0 251.9h1M65.5 258.6h1M69.6 253.3h1" stroke="#000" stroke-width="1" stroke-opacity="0.19" fill="none"/>
<path d="M33.9 298.4h1M35.5 306.8h1M41.1 309.7h1M35.0 298.6h1M41.4 271.7h1M31.2 310.5h1M33.6 280.3h1M35.6 285.4h1M46.2 260.0h1M33.6 286.7h1M33.7 274.7h1M36.5 273.6h1M45.0 268.3h1M39.9 250.2h1M34.1 293.9h1M35.2 301.4h1M39.6 273.6h1M32.5 255.4h1M35.5 298.6h1M32.5 309.6h1M41.9 251.9h1M41.4 272.7h1M37.9 269.8h1M34.4 274.1h1M32.5 269.8h1M42.3 255.1h1M38.9 276.5h1M33.2 282.3h1M40.8 308.3h1M40.9 252.3h1M33.3 279.8h1M30.8 259.1h1M37.6 294.5h1M43.4 284.8h1M44.8 253.9h1M38.9 262.0h1M37.9 312.5h1M32.3 303.9h1M36.7 270.0h1M44.5 253.5h1M34.0 278.2h1M33.5 309.7h1M33.9 292.5h1M34.0 301.0h1M32.4 290.3h1M37.4 271.5h1M37.8 299.6h1M40.3 250.9h1M33.4 301.0h1M41.8 262.6h1M32.0 291.1h1M40.4 266.0h1M34.4 283.9h1M41.4 252.6h1M43.1 271.9h1M42.9 266.2h1M36.0 254.9h1M33.2 285.8h1M38.7 257.8h1M32.4 290.6h1M33.5 255.2h1M34.6 285.6h1M37.3 270.1h1M36.8 275.3h1M44.9 250.7h1M40.1 260.0h1M35.4 258.8h1M35.6 268.3h1M31.5 284.3h1M36.2 301.9h1M33.1 290.8h1M35.3 306.4h1M41.3 262.0h1M38.4 257.0h1M34.9 269.3h1M34.3 279.3h1M41.7 254.9h1M37.1 311.2h1M37.4 283.2h1M33.7 268.4h1M35.7 290.0h1M38.8 284.1h1M40.6 259.5h1M40.6 265.7h1M43.1 251.4h1M41.7 264.7h1M34.5 295.0h1M37.2 282.3h1M33.4 309.1h1M40.7 259.9h1M34.3 307.8h1M34.4 312.1h1M36.8 289.4h1M36.3 292.1h1M36.5 280.0h1M35.8 266.5h1M35.6 298.5h1M32.8 310.4h1M33.0 263.0h1M46.6 256.2h1M35.8 260.6h1M42.2 252.9h1M35.5 293.6h1M38.3 267.8h1M46.4 277.2h1M34.0 280.8h1M45.6 249.2h1M39.6 258.3h1M33.2 287.0h1M36.6 270.5h1M43.2 262.0h1M33.4 262.7h1M32.2 311.1h1M40.1 285.0h1M35.3 301.0h1M40.4 262.3h1M36.3 297.6h1M34.9 304.9h1M37.8 267.1h1M33.6 293.1h1M33.4 308.9h1M35.9 285.1h1M37.3 281.5h1M37.8 273.6h1M34.2 309.0h1M36.1 264.7h1M44.3 256.1h1M34.8 308.9h1M32.9 308.0h1M38.4 256.2h1M33.4 265.4h1M33.2 295.6h1M36.1 306.9h1M34.0 306.4h1M35.1 278.5h1M39.0 271.8h1M35.9 276.1h1M32.2 303.5h1M41.8 251.0h1M32.7 284.9h1M41.8 250.0h1M39.8 254.9h1M32.8 283.3h1M36.3 292.4h1M38.9 277.4h1M38.6 277.3h1M37.9 262.0h1M34.5 310.4h1M31.1 306.8h1M32.2 308.9h1M37.8 265.6h1M37.0 252.8h1M33.4 299.9h1M36.1 268.9h1M38.5 309.3h1M32.1 301.3h1M32.5 289.2h1M36.9 308.8h1M35.8 308.4h1M36.8 281.8h1M35.3 308.2h1M34.0 301.0h1M35.8 281.5h1M41.7 258.9h1M39.5 264.2h1M31.6 295.5h1M38.8 285.2h1M40.3 264.7h1M43.1 249.6h1M36.7 276.0h1M35.5 282.9h1M32.6 270.3h1M41.0 284.1h1M35.5 295.3h1M36.3 282.7h1M37.4 263.7h1M44.9 259.3h1M35.5 298.4h1M33.9 312.5h1M35.5 306.0h1M36.2 278.9h1M33.8 303.6h1M35.4 285.0h1M40.1 279.6h1M35.9 257.6h1M43.5 284.0h1M41.2 251.8h1M37.9 265.7h1M33.1 286.0h1M44.8 252.3h1M34.9 309.0h1M48.3 255.2h1M39.1 249.0h1M31.0 304.9h1M37.2 262.9h1M38.2 254.8h1M38.9 281.9h1M35.4 283.2h1M37.3 280.5h1M33.9 250.5h1M45.1 291.5h1M35.2 270.2h1M33.8 266.0h1M38.5 249.9h1M38.7 266.1h1M32.3 279.4h1M37.6 286.3h1M37.1 265.8h1M42.7 261.5h1M36.4 261.8h1M40.0 288.8h1M38.6 280.7h1M37.6 255.5h1M31.9 297.3h1M52.1 254.5h1M33.0 282.0h1M38.0 249.9h1M45.9 263.8h1M37.2 302.3h1M39.0 263.0h1M31.3 275.2h1M42.0 287.7h1M39.2 260.3h1M40.4 254.0h1M35.1 303.3h1M34.0 311.0h1M35.1 293.6h1M33.3 266.0h1M31.9 290.7h1M34.0 285.1h1M40.1 252.1h1M45.9 249.6h1M39.9 275.5h1M33.2 303.2h1M46.6 254.8h1M46.8 265.8h1M37.4 274.2h1M32.7 305.8h1M31.6 308.0h1M39.1 267.7h1M34.6 289.9h1M42.7 261.1h1M41.1 269.3h1M36.5 257.0h1M33.0 266.7h1M31.5 291.0h1M33.1 283.0h1M36.7 267.4h1M37.2 277.5h1M37.8 295.2h1M34.5 282.1h1M34.1 290.7h1M45.2 254.0h1M49.7 249.8h1M44.0 260.2h1M34.9 310.2h1M35.8 289.1h1M51.6 265.0h1M33.2 298.3h1M33.4 276.9h1M44.5 260.0h1M35.1 297.6h1M36.5 289.8h1M38.9 262.9h1M40.3 283.8h1M31.8 282.6h1M37.4 279.1h1M39.3 280.7h1M34.7 313.2h1M33.0 288.0h1M40.4 278.0h1M34.7 300.9h1M47.3 251.4h1M44.8 266.7h1M36.1 275.6h1M37.5 282.0h1M31.2 312.4h1M44.2 262.9h1M34.2 283.8h1M35.3 308.5h1M52.0 249.3h1M46.8 254.0h1M39.9 256.7h1M38.6 263.6h1M36.6 310.8h1M33.3 271.1h1M40.1 272.2h1M33.1 272.6h1M34.3 285.0h1M43.7 267.7h1M36.0 290.4h1M32.3 280.5h1M40.3 252.6h1M35.1 297.6h1M31.9 303.9h1M31.9 309.8h1M35.7 309.2h1M48.7 269.6h1M32.2 291.2h1M36.3 283.2h1M38.0 252.2h1M42.5 277.6h1M33.2 265.4h1M38.5 262.5h1M35.2 310.5h1M44.3 268.1h1M32.1 296.5h1M40.2 251.6h1M36.7 312.7h1M39.1 254.1h1M43.3 250.1h1M43.3 256.1h1M37.6 258.9h1M40.3 261.6h1M41.5 274.6h1M41.0 249.5h1M37.7 287.5h1M38.9 255.9h1M51.1 251.0h1M34.0 311.9h1M34.0 297.5h1M37.6 256.7h1M35.9 298.0h1M35.0 292.0h1M36.1 289.1h1M36.8 264.3h1M35.0 304.8h1M37.3 286.7h1M34.8 272.9h1M38.0 253.4h1M39.9 258.3h1M51.9 249.5h1M36.5 302.4h1M35.2 259.8h1M38.9 267.1h1M49.3 261.2h1M37.0 307.6h1M31.3 309.0h1M35.6 262.4h1M38.5 267.8h1M36.5 271.8h1M36.8 257.3h1M34.6 302.8h1M41.8 253.3h1M38.1 262.3h1M42.9 254.8h1M33.9 277.3h1M38.0 282.6h1M33.1 302.6h1M35.9 271.8h1M34.6 295.2h1M32.9 277.5h1M39.0 277.0h1M43.1 263.6h1M33.5 290.2h1M48.0 249.8h1M33.9 283.8h1M32.4 308.0h1M35.7 262.8h1M38.5 268.0h1M37.4 262.1h1M40.4 312.1h1M35.2 265.2h1M33.1 298.5h1M34.8 285.1h1M38.8 268.5h1M42.0 259.1h1M35.2 273.6h1M37.1 260.1h1M37.9 253.1h1M36.1 275.1h1M42.8 256.8h1M34.8 269.6h1M39.8 257.5h1M38.0 259.9h1M32.2 301.6h1M32.4 275.8h1M33.8 283.1h1M35.4 270.1h1M33.7 280.4h1M38.1 272.4h1M48.4 260.1h1M35.2 268.3h1M39.2 258.0h1M32.8 278.2h1M35.5 281.5h1M44.9 253.8h1M35.4 268.1h1M45.2 252.1h1M31.7 290.7h1M32.0 271.5h1M35.6 269.4h1M41.4 249.1h1M43.4 252.3h1M41.6 260.1h1M38.0 296.0h1M35.3 303.0h1M39.1 255.0h1M35.8 277.9h1M40.8 269.3h1M42.7 282.8h1M33.5 306.5h1M36.0 295.5h1M32.2 286.1h1M40.8 274.8h1M40.0 257.8h1M31.3 303.0h1M35.7 278.0h1M46.3 254.4h1M31.8 275.7h1M35.2 262.1h1M35.1 276.4h1M52.3 271.5h1M47.0 267.1h1M39.5 254.6h1M50.6 287.4h1M44.3 282.9h1M49.7 286.6h1M59.8 251.3h1M45.4 304.3h1M53.0 286.1h1M40.1 276.3h1M40.6 285.5h1M55.7 260.7h1M41.0 279.6h1M56.4 311.2h1M37.3 297.9h1M53.2 270.4h1M41.1 274.1h1M44.2 291.5h1M64.1 254.6h1M42.5 277.3h1M39.7 251.2h1M51.1 269.3h1M62.4 291.8h1M56.0 265.1h1M38.9 289.7h1M49.9 286.0h1M51.1 306.0h1M50.7 260.0h1M52.0 264.2h1M38.9 281.5h1M55.4 291.5h1M47.2 254.9h1M45.4 268.8h1M47.4 293.0h1M49.9 272.0h1M62.0 277.9h1M40.7 307.1h1M38.2 313.0h1M53.8 264.6h1M44.2 291.7h1M47.6 253.8h1M44.4 280.4h1M53.6 311.1h1M40.1 305.1h1M45.5 284.7h1M48.0 263.6h1M34.5 284.8h1M51.1 251.6h1M54.2 256.9h1M61.3 299.3h1M56.3 272.7h1M54.6 261.2h1M42.5 250.1h1M41.9 282.6h1M40.0 293.8h1M43.5 304.0h1M52.9 267.2h1M51.3 276.0h1M48.6 311.4h1M48.0 249.6h1M44.3 250.4h1M49.0 250.1h1M45.1 249.6h1M45.2 250.9h1M44.4 251.1h1M72.9 270.9h1M69.0 266.4h1M69.3 254.9h1M70.0 260.5h1M70.0 252.3h1M67.3 264.4h1M64.3 259.0h1M68.4 261.0h1M73.3 274.2h1M71.1 270.0h1M68.7 264.3h1M68.5 254.7h1M67.8 261.4h1M66.7 272.2h1M68.1 261.1h1M70.9 275.1h1M73.0 263.6h1M69.1 256.9h1M69.8 262.5h1M68.5 265.9h1M73.7 264.4h1M70.6 267.6h1M70.6 250.3h1M65.6 270.0h1M71.8 254.7h1M67.9 262.4h1M72.5 277.4h1M71.8 261.6h1M69.9 267.1h1M69.4 260.3h1M71.6 254.2h1" stroke="#000" stroke-width="1" stroke-opacity="0.19" fill="none"/>
<path d="M36.2 283.0h1M38.8 277.4h1M41.6 278.0h1M37.8 268.9h1M36.2 301.8h1M32.6 310.2h1M36.1 262.9h1M40.9 253.2h1M44.4 266.3h1M43.8 250.9h1M47.3 262.4h1M37.3 277.8h1M41.0 283.5h1M50.2 250.5h1M39.5 266.6h1M36.6 264.3h1M32.6 290.2h1M34.1 302.9h1M40.1 255.2h1M42.9 256.2h1M38.4 307.9h1M42.4 270.1h1M33.4 312.0h1M37.8 266.6h1M35.8 257.3h1M36.5 292.9h1M49.8 255.3h1M33.0 278.8h1M38.3 262.5h1M34.2 307.7h1M35.4 275.5h1M32.5 274.5h1M31.1 285.9h1M34.6 283.1h1M31.3 308.4h1M34.7 259.5h1M39.4 279.8h1M37.9 266.4h1M35.4 302.0h1M33.1 313.0h1M32.6 287.9h1M32.0 304.8h1M40.0 282.8h1M39.2 259.8h1M39.5 251.2h1M35.6 278.2h1M37.1 257.2h1M34.2 297.1h1M42.3 264.3h1M40.0 270.2h1M38.1 252.9h1M31.9 303.5h1M41.0 254.2h1M38.3 279.0h1M37.7 278.9h1M41.4 285.7h1M31.3 295.0h1M37.1 298.6h1M41.7 255.2h1M38.9 270.2h1M35.2 294.5h1M33.3 288.2h1M35.0 286.4h1M37.0 255.2h1M34.3 303.6h1M31.2 300.2h1M45.6 257.3h1M32.0 292.0h1M46.6 265.9h1M42.2 255.8h1M44.2 275.5h1M40.5 266.2h1M38.4 295.3h1M37.2 296.8h1M37.1 285.9h1M31.8 305.0h1M39.1 265.0h1M35.8 302.4h1M36.8 281.4h1M41.9 266.4h1M45.5 264.0h1M34.7 278.7h1M40.8 252.9h1M37.6 266.6h1M34.0 263.3h1M35.4 301.2h1M35.6 267.2h1M39.9 265.6h1M34.7 261.9h1M44.7 268.8h1M41.0 253.0h1M36.9 273.6h1M42.8 264.5h1M34.4 250.8h1M47.5 269.7h1M37.0 306.7h1M39.8 279.5h1M33.5 265.4h1M31.6 310.6h1M37.5 304.0h1M35.6 284.7h1M34.4 265.0h1M41.9 268.7h1M43.7 250.7h1M31.3 299.8h1M40.4 261.2h1M37.7 283.5h1M32.7 282.3h1M36.4 297.9h1M39.8 256.6h1M31.4 294.3h1M36.9 275.4h1M35.0 311.1h1M32.1 312.1h1M43.3 255.7h1M32.4 296.1h1M41.4 280.4h1M33.4 278.9h1M32.5 297.3h1M38.3 269.0h1M33.7 286.8h1M33.5 275.9h1M38.2 274.5h1M33.9 301.8h1M31.9 268.8h1M32.6 289.0h1M37.3 310.2h1M34.0 281.5h1M33.7 302.9h1M33.3 275.2h1M41.4 268.8h1M34.1 279.0h1M37.6 299.1h1M43.7 251.2h1M33.2 299.8h1M33.9 295.2h1M32.6 298.3h1M46.4 249.1h1M31.5 295.5h1M42.6 264.5h1M31.1 304.1h1M34.5 297.8h1M32.5 252.3h1M32.7 281.9h1M37.1 304.2h1M33.5 271.5h1M43.8 259.7h1M37.0 269.1h1M38.3 295.9h1M32.0 285.1h1M46.2 270.2h1M40.4 271.7h1M37.3 284.7h1M38.2 256.7h1M31.3 306.4h1M42.5 251.1h1M39.8 261.0h1M31.4 302.7h1M40.2 252.3h1M30.8 305.6h1M35.1 307.5h1M44.0 263.7h1M39.5 252.6h1M43.1 252.0h1M43.9 270.0h1M37.4 271.0h1M33.2 291.5h1M32.1 302.8h1M35.8 307.3h1M35.0 273.7h1M35.7 306.7h1M35.1 268.8h1M41.1 256.1h1M37.5 303.0h1M35.8 252.4h1M35.4 309.5h1M45.9 255.5h1M37.7 260.5h1M34.6 268.7h1M37.3 278.6h1M40.8 267.0h1M31.5 277.1h1M39.4 257.4h1M37.0 258.4h1M34.7 312.3h1M33.4 260.5h1M34.6 302.5h1M38.1 258.4h1M35.5 269.3h1M40.4 266.2h1M44.1 271.0h1M31.3 302.7h1M31.5 299.6h1M36.8 288.4h1M43.6 260.0h1M38.3 263.5h1M37.0 261.9h1M38.2 312.7h1M35.4 282.0h1M32.8 261.7h1M36.5 268.5h1M32.2 282.5h1M32.0 311.3h1M35.0 301.7h1M31.4 270.5h1M31.0 299.1h1M37.9 249.7h1M39.5 250.0h1M43.6 281.0h1M35.8 313.1h1M34.7 312.5h1M40.2 257.7h1M33.4 308.6h1M34.3 279.0h1M37.7 274.7h1M31.2 304.0h1M37.5 296.1h1M36.5 297.8h1M39.0 269.7h1M32.0 269.2h1M32.0 301.3h1M32.3 311.2h1M38.2 267.7h1M35.2 296.9h1M39.1 277.1h1M37.6 291.3h1M38.7 256.6h1M46.4 258.2h1M38.9 272.1h1M32.1 312.3h1M40.2 302.4h1M36.0 282.6h1M38.3 256.0h1M39.2 259.4h1M51.1 264.0h1M34.3 266.5h1M40.0 283.8h1M37.7 250.9h1M33.5 301.1h1M39.8 279.0h1M35.0 306.8h1M37.3 254.6h1M51.2 249.6h1M38.7 265.2h1M35.6 308.1h1M39.9 285.3h1M36.7 287.3h1M32.1 291.9h1M41.6 255.2h1M36.3 298.5h1M50.7 255.9h1M34.2 296.6h1M40.7 263.2h1M34.4 298.1h1M37.0 251.4h1M39.7 282.6h1M35.3 293.4h1M31.7 309.9h1M43.3 295.4h1M31.5 284.4h1M36.0 312.6h1M36.8 297.8h1M43.4 262.9h1M33.8 298.7h1M41.8 280.9h1M34.8 281.6h1M31.3 298.1h1M35.8 285.8h1M36.1 308.6h1M35.2 279.5h1M34.0 263.2h1M36.5 286.2h1M41.3 278.1h1M34.5 292.7h1M34.1 308.9h1M36.4 281.3h1M38.5 269.0h1M31.0 308.9h1M39.1 256.0h1M34.7 264.6h1M37.4 278.4h1M34.4 293.9h1M45.5 249.4h1M36.0 304.8h1M39.5 269.9h1M41.1 249.2h1M34.3 282.0h1M33.0 304.3h1M39.2 286.5h1M36.7 266.7h1M33.1 292.8h1M36.9 303.4h1M32.1 265.2h1M38.7 254.9h1M38.2 278.5h1M32.3 295.9h1M40.7 251.6h1M34.1 301.3h1M45.4 266.5h1M32.2 277.3h1M32.8 307.2h1M39.8 276.3h1M47.0 251.3h1M32.9 311.9h1M36.7 270.1h1M31.8 310.7h1M36.4 277.1h1M40.5 262.7h1M33.0 275.9h1M41.9 266.4h1M37.0 255.6h1M44.9 250.8h1M37.4 288.4h1M31.6 278.6h1M38.9 274.5h1M32.8 275.4h1M35.0 284.4h1M35.5 277.9h1M34.4 309.5h1M31.5 285.9h1M34.3 291.5h1M32.3 294.7h1M32.0 294.3h1M36.3 288.6h1M38.4 254.5h1M41.5 252.3h1M37.8 251.1h1M33.9 292.5h1M34.3 266.7h1M38.7 291.4h1M33.9 310.7h1M35.4 289.8h1M41.3 278.6h1M43.9 282.7h1M31.3 299.5h1M37.9 273.9h1M40.1 292.9h1M34.7 278.4h1M37.2 267.2h1M35.4 278.3h1M34.5 307.7h1M33.7 285.3h1M36.1 277.7h1M33.0 262.8h1M41.1 299.5h1M32.7 298.5h1M41.7 256.3h1M31.6 308.0h1M33.7 291.5h1M41.3 252.2h1M32.5 285.4h1M38.8 255.2h1M40.4 266.7h1M40.7 254.5h1M35.0 277.3h1M34.6 276.3h1M39.3 265.2h1M34.1 302.1h1M33.3 273.8h1M33.1 308.7h1M38.4 265.6h1M40.3 264.6h1M33.6 297.9h1M45.4 268.1h1M38.1 278.3h1M30.9 287.2h1M38.1 283.4h1M31.7 271.3h1M36.7 253.8h1M36.6 257.4h1M33.1 280.6h1M34.9 289.6h1M37.5 251.7h1M40.5 267.6h1M40.5 252.2h1M39.9 279.7h1M41.2 275.8h1M36.1 277.8h1M42.5 262.1h1M31.6 305.4h1M34.1 293.1h1M36.4 300.5h1M32.0 276.0h1M40.0 276.4h1M39.1 263.6h1M34.0 275.0h1M41.1 268.1h1M34.4 304.0h1M40.9 252.1h1M34.6 278.5h1M32.3 307.2h1M37.2 274.5h1M40.4 264.0h1M34.2 276.4h1M41.2 278.1h1M33.8 286.6h1M41.0 285.0h1M32.1 277.8h1M34.5 303.3h1M33.4 276.0h1M39.7 294.7h1M43.4 275.9h1M34.8 279.4h1M31.0 305.6h1M32.5 272.9h1M33.3 277.3h1M45.1 252.7h1M41.4 254.2h1M31.6 312.1h1M32.5 278.2h1M36.7 302.8h1M44.8 252.8h1M53.3 254.8h1M50.3 263.1h1M46.1 253.7h1M38.2 306.7h1M37.7 310.8h1M49.1 287.6h1M52.9 286.2h1M43.4 287.1h1M52.5 295.8h1M53.0 283.5h1M34.6 299.4h1M37.9 307.7h1M43.2 282.8h1M37.7 307.4h1M44.1 274.6h1M45.2 274.7h1M52.4 265.1h1M39.9 295.2h1M48.1 290.5h1M34.3 278.3h1M46.1 294.4h1M53.3 258.4h1M36.7 283.3h1M50.9 263.8h1M51.5 298.6h1M47.8 307.9h1M43.4 262.6h1M47.9 301.7h1M54.8 252.9h1M56.1 278.5h1M46.1 292.2h1M48.7 282.0h1M56.3 254.8h1M40.4 312.1h1M36.2 302.7h1M52.2 249.0h1M44.3 309.4h1M41.4 269.0h1M47.2 282.0h1M52.2 276.8h1M47.6 303.0h1M54.2 300.4h1M58.4 280.6h1M59.0 266.1h1M44.5 279.4h1M48.7 253.0h1M61.4 298.4h1M35.3 302.0h1M57.3 260.8h1M45.6 253.6h1M55.4 265.2h1M56.7 312.6h1M52.7 273.4h1M44.9 257.1h1M51.5 308.3h1M45.5 273.3h1M55.2 278.2h1M43.4 252.9h1M46.5 305.8h1M45.3 250.9h1M43.5 250.9h1M46.5 251.9h1M46.7 249.9h1M44.4 249.8h1M69.1 271.4h1M71.1 269.5h1M69.5 278.7h1M70.7 261.8h1M68.8 258.8h1M71.6 260.1h1M70.8 265.2h1M71.5 264.3h1M67.4 269.5h1M70.3 267.4h1M68.8 259.8h1M66.3 274.5h1M70.6 269.2h1M65.7 277.9h1M69.9 272.5h1M65.6 258.2h1M68.4 255.5h1M69.0 251.0h1M68.9 263.9h1M68.0 267.2h1M73.2 265.5h1M71.0 266.1h1M70.5 267.8h1M69.8 262.4h1M67.8 262.4h1M71.5 264.7h1M72.5 265.5h1M69.8 275.0h1M66.2 266.2h1M68.5 260.9h1M71.8 267.1h1M71.3 256.2h1" stroke="#000" stroke-width="1" stroke-opacity="0.19" fill="none"/>
</g>
<g filter="url(#bl)">
<path d="M40.7 347.1h1M32.6 368.1h1M32.9 370.8h1M36.6 338.0h1M37.7 359.1h1M41.8 348.9h1M39.3 330.5h1M40.7 352.0h1M52.2 334.6h1M33.6 350.9h1M37.5 349.0h1M43.1 363.3h1M35.3 351.3h1M39.1 351.9h1M42.9 330.9h1M34.7 328.9h1M33.5 356.8h1M38.2 384.8h1M33.2 356.1h1M33.0 374.8h1M31.4 356.6h1M39.8 346.3h1M39.3 342.9h1M37.3 348.4h1M33.3 360.1h1M39.4 323.9h1M33.7 371.0h1M37.8 347.0h1M37.5 342.9h1M35.7 358.9h1M33.1 378.9h1M44.2 337.1h1M43.7 324.5h1M31.9 354.2h1M41.6 373.5h1M43.4 330.2h1M38.8 361.3h1M42.4 352.1h1M35.0 368.0h1M37.5 364.2h1M33.9 370.0h1M32.4 365.8h1M40.7 330.9h1M39.1 346.2h1M41.4 322.3h1M35.8 353.2h1M34.2 355.3h1M37.1 372.9h1M47.6 344.6h1M41.0 336.4h1M36.2 374.6h1M32.0 384.7h1M32.8 380.2h1M38.4 331.9h1M37.7 354.4h1M32.4 377.9h1M38.0 352.4h1M37.5 335.7h1M47.4 326.6h1M32.2 384.7h1M43.6 344.1h1M47.7 323.2h1M35.4 382.8h1M31.2 376.0h1M42.9 325.4h1M36.0 354.6h1M51.0 334.1h1M31.8 385.2h1M36.9 351.5h1M32.4 369.9h1M42.1 326.1h1M36.5 367.6h1M35.4 339.3h1M39.2 348.4h1M39.5 352.8h1M39.6 322.0h1M32.8 369.0h1M32.4 378.4h1M38.2 343.1h1M32.3 363.8h1M36.7 359.2h1M32.9 351.9h1M33.4 375.4h1M32.6 380.3h1M39.5 343.6h1M38.2 334.3h1M39.6 340.3h1M41.0 339.7h1M40.7 324.0h1M32.8 365.8h1M34.8 383.7h1M33.7 381.3h1M36.2 355.4h1M33.1 381.0h1M37.2 340.5h1M36.0 332.4h1M45.0 321.7h1M32.1 367.2h1M35.0 356.7h1M33.6 380.1h1M43.8 336.7h1M50.6 337.0h1M50.3 351.3h1M34.4 350.2h1M31.8 367.6h1M47.3 323.8h1M39.9 347.0h1M35.6 349.0h1M39.2 355.8h1M42.6 351.9h1M37.7 351.6h1M31.6 373.5h1M41.6 353.7h1M46.5 320.8h1M43.1 324.4h1M38.7 362.4h1M43.2 323.6h1M42.0 343.4h1M35.6 348.0h1M36.1 355.2h1M48.4 322.4h1M35.1 372.1h1M31.9 374.0h1M41.2 338.1h1M37.2 342.2h1M37.3 355.5h1M43.8 349.0h1M38.6 367.9h1M35.6 359.9h1M40.4 335.6h1M36.0 370.4h1M36.2 359.8h1M37.9 384.7h1M39.1 321.0h1M32.3 381.2h1M37.1 346.0h1M37.9 377.9h1M38.7 378.4h1M36.9 336.4h1M45.3 347.3h1M35.1 350.6h1M31.7 374.9h1M34.1 344.5h1M32.0 385.6h1M38.0 329.2h1M45.3 321.7h1M40.1 344.6h1M34.6 381.5h1M46.4 321.8h1M36.2 377.8h1M40.9 345.5h1M44.5 336.3h1M33.6 355.3h1M42.2 336.3h1M35.1 358.6h1M46.2 333.5h1M44.9 329.6h1M46.5 338.7h1M37.0 335.7h1M35.7 354.6h1M38.6 329.7h1M35.2 384.1h1M47.4 331.0h1M38.0 364.1h1M37.5 326.7h1M33.7 352.1h1M37.2 361.4h1M39.5 369.3h1M32.9 378.7h1M35.5 357.4h1M40.6 358.0h1M32.7 350.0h1M35.9 359.8h1M33.5 384.5h1M37.5 362.3h1M36.0 325.9h1M43.3 322.5h1M34.5 366.7h1M33.8 355.2h1M38.5 358.5h1M42.2 335.4h1M40.9 325.3h1M35.4 354.6h1M31.8 361.7h1M46.7 325.6h1M33.9 376.9h1M39.5 327.0h1M36.4 332.8h1M40.5 328.1h1M39.0 336.8h1M33.3 385.0h1M37.1 353.5h1M39.8 366.1h1M36.6 365.6h1M42.0 343.7h1M37.6 341.0h1M34.8 358.1h1M39.6 329.9h1M49.6 329.5h1M39.7 348.2h1M35.5 356.7h1M36.8 384.9h1M32.4 368.2h1M31.4 377.4h1M41.1 351.0h1M34.2 382.0h1M34.5 345.5h1M41.4 354.1h1M32.3 379.3h1M38.7 344.9h1M39.8 366.0h1M32.4 382.8h1M41.3 330.2h1M48.0 350.1h1M43.0 330.9h1M45.9 321.7h1M33.7 366.1h1M40.9 350.0h1M34.1 343.2h1M32.3 360.7h1M40.4 347.2h1M38.0 364.9h1M36.4 365.6h1M38.5 331.7h1M33.7 374.2h1M34.7 351.7h1M33.0 341.9h1M31.1 379.3h1M39.0 384.8h1M31.4 364.2h1M34.7 363.8h1M37.9 340.4h1M32.0 361.4h1M37.7 320.6h1M35.2 340.4h1M39.8 335.5h1M32.1 370.7h1M33.0 367.8h1M40.8 348.4h1M36.1 357.9h1M33.3 354.6h1M32.5 385.2h1M42.4 349.1h1M35.3 363.1h1M35.2 358.0h1M42.2 349.1h1M39.8 327.2h1M35.9 377.4h1M45.6 361.3h1M39.6 323.1h1M39.7 347.5h1M33.7 376.8h1M49.5 347.1h1M34.2 346.7h1M35.6 355.1h1M39.5 333.0h1M38.5 327.9h1M46.1 322.0h1M32.8 349.9h1M39.6 328.1h1M33.3 373.4h1M34.8 374.0h1M32.8 362.2h1M33.6 374.6h1M41.1 344.3h1M39.5 361.8h1M36.9 353.3h1M32.5 349.1h1M31.5 367.3h1M43.7 327.8h1M35.4 359.4h1M33.3 377.9h1M32.6 344.4h1M31.9 376.1h1M48.8 322.9h1M41.1 330.4h1M36.1 380.7h1M41.1 330.0h1M50.5 326.4h1M39.6 347.0h1M36.1 356.3h1M32.5 375.8h1M35.3 340.1h1M34.7 362.3h1M40.2 345.3h1M33.1 367.6h1M37.0 359.5h1M41.6 328.9h1M41.7 352.3h1M34.6 359.0h1M36.7 345.8h1M44.7 322.6h1M37.6 350.4h1M42.9 326.0h1M38.2 338.2h1M38.5 332.6h1M35.6 348.1h1M37.8 357.1h1M41.7 327.1h1M36.4 357.7h1M33.1 380.9h1M35.1 364.5h1M32.8 382.3h1M41.0 322.2h1M40.5 328.3h1M41.7 344.3h1M39.1 327.8h1M35.5 333.0h1M38.3 323.3h1M36.1 356.2h1M32.8 355.8h1M36.5 344.5h1M35.2 321.6h1M37.7 356.7h1M37.2 367.7h1M45.9 338.6h1M35.4 377.7h1M39.3 351.2h1M38.2 354.6h1M35.2 344.7h1M48.1 321.8h1M43.9 338.2h1M37.0 366.8h1M40.4 326.8h1M33.9 344.1h1M36.7 322.8h1M35.4 361.4h1M36.7 351.0h1M41.4 331.2h1M33.2 366.6h1M48.0 332.2h1M37.4 361.7h1M39.4 349.0h1M39.2 343.9h1M31.2 385.0h1M41.0 346.3h1M41.3 348.9h1M51.4 332.1h1M41.0 369.0h1M31.7 366.4h1M51.3 333.3h1M32.2 362.7h1M31.2 355.5h1M35.2 347.6h1M39.1 334.7h1M43.4 325.6h1M42.2 336.4h1M36.7 337.4h1M45.6 349.6h1M38.8 334.9h1M50.1 323.5h1M41.9 337.6h1M32.3 353.7h1M36.7 332.7h1M36.5 341.5h1M40.6 321.4h1M36.1 333.3h1M32.6 381.7h1M42.8 325.3h1M34.4 380.4h1M31.1 371.2h1M41.3 330.2h1M47.8 329.5h1M42.8 329.2h1M40.0 347.5h1M36.3 363.0h1M40.2 324.9h1M37.9 351.7h1M40.2 341.2h1M41.8 335.6h1M47.7 331.4h1M41.6 343.4h1M38.2 357.2h1M45.1 339.9h1M39.6 327.1h1M47.2 358.2h1M34.9 348.1h1M36.4 345.8h1M36.6 379.6h1M34.1 383.5h1M44.0 336.6h1M37.7 370.9h1M32.1 378.0h1M37.7 366.2h1M45.5 322.3h1M35.1 351.8h1M35.8 378.8h1M42.1 330.9h1M35.4 366.8h1M37.2 327.8h1M37.2 360.4h1M42.7 348.9h1M44.3 323.7h1M32.1 371.4h1M36.8 345.0h1M34.0 382.4h1M31.8 374.7h1M37.8 370.6h1M33.1 364.6h1M31.7 379.5h1M39.6 350.5h1M36.7 356.3h1M34.8 368.9h1M35.2 339.4h1M39.7 352.6h1M45.9 341.5h1M51.2 380.4h1M41.1 382.1h1M42.2 355.8h1M43.1 361.1h1M35.6 355.6h1M37.2 379.9h1M46.9 365.3h1M54.0 338.8h1M52.1 355.1h1M67.8 354.1h1M48.6 338.0h1M49.0 352.0h1M45.6 357.1h1M46.8 340.1h1M52.9 334.5h1M40.0 379.7h1M46.7 364.5h1M37.5 379.8h1M41.8 373.0h1M63.4 347.8h1M54.9 348.0h1M45.1 357.6h1M54.2 327.9h1M42.5 336.9h1M46.1 345.9h1M39.6 352.4h1M39.8 365.9h1M42.0 370.1h1M39.7 381.4h1M32.2 385.2h1M44.2 351.1h1M42.1 368.0h1M43.1 359.7h1M45.1 385.4h1M42.5 384.8h1M51.2 332.4h1M59.2 366.7h1M42.2 338.5h1M56.5 370.0h1M43.8 340.3h1M50.4 337.7h1M45.8 321.3h1M42.2 328.0h1M37.2 367.4h1M38.9 367.1h1M39.6 349.0h1M43.8 362.3h1M51.3 381.2h1M33.7 385.0h1M43.9 384.9h1M36.0 378.1h1M43.6 381.1h1M47.3 338.1h1M48.6 381.5h1M39.0 369.6h1M44.2 322.8h1M51.4 361.3h1M39.7 323.9h1M59.6 344.8h1M73.8 349.8h1M71.1 335.9h1M73.0 338.0h1M72.1 337.1h1M70.1 334.1h1M73.2 333.1h1M69.7 332.4h1M69.3 335.5h1M69.9 331.4h1M70.3 337.7h1M71.4 346.6h1M68.5 338.9h1M69.9 342.8h1M71.3 341.9h1M73.6 330.7h1M73.0 345.4h1M71.7 340.3h1M68.1 338.4h1M69.9 348.4h1M72.6 338.3h1M68.5 339.3h1M68.7 346.3h1M70.8 321.0h1M71.0 349.2h1M68.9 340.3h1M73.0 338.8h1M67.3 341.5h1M71.4 341.6h1M70.6 338.0h1M72.7 331.7h1M69.6 337.2h1M69.7 336.4h1M70.4 333.9h1M69.6 347.6h1" stroke="#000" stroke-width="1" stroke-opacity="0.17" fill="none"/>
<path d="M34.6 372.9h1M42.5 334.8h1M32.9 332.2h1M35.1 343.5h1M34.1 342.3h1M47.1 321.4h1M32.7 359.0h1M37.7 372.7h1M41.7 321.9h1M36.8 332.3h1M44.0 328.0h1M43.1 326.8h1M38.8 352.7h1M35.7 345.5h1M34.5 380.4h1M32.6 370.9h1M33.9 376.9h1M48.4 335.6h1M38.2 362.5h1M46.2 323.1h1M33.3 380.5h1M37.7 365.6h1M38.3 348.9h1M41.9 331.1h1M38.1 350.9h1M31.8 384.5h1M34.8 337.2h1M39.0 345.2h1M38.7 343.8h1M37.8 332.1h1M41.9 326.2h1M38.3 358.7h1M43.0 343.4h1M45.9 329.8h1M39.5 327.4h1M44.8 339.6h1M34.3 331.5h1M44.9 339.9h1M35.9 348.2h1M39.2 342.0h1M40.2 343.6h1M49.0 332.5h1M33.4 349.1h1M50.9 323.5h1M43.5 341.0h1M31.5 373.1h1M40.2 333.6h1M34.9 380.0h1M36.5 339.8h1M33.7 370.7h1M34.2 360.2h1M45.5 339.6h1M40.6 338.8h1M42.6 327.2h1M31.9 379.6h1M35.3 351.9h1M34.4 341.9h1M40.9 330.0h1M35.0 328.0h1M39.6 337.9h1M41.9 322.9h1M44.9 326.4h1M36.5 371.2h1M33.6 353.7h1M33.6 371.4h1M43.2 330.3h1M37.0 382.5h1M36.0 325.6h1M33.3 377.6h1M45.4 335.5h1M39.3 332.7h1M32.4 381.3h1M45.2 343.0h1M35.2 349.6h1M32.7 343.3h1M35.2 372.8h1M43.8 345.5h1M37.1 365.2h1M46.0 358.2h1M35.9 380.5h1M37.5 345.3h1M34.2 354.8h1M36.5 338.8h1M39.6 350.5h1M41.2 327.2h1M44.3 335.8h1M32.4 367.0h1M44.6 336.4h1M37.2 345.7h1M37.2 329.7h1M32.5 351.4h1M41.8 340.2h1M31.1 370.6h1M39.7 323.8h1M34.7 352.0h1M37.5 385.2h1M35.5 321.0h1M38.7 358.8h1M36.3 368.4h1M42.4 328.7h1M36.6 373.3h1M44.1 346.7h1M36.6 376.3h1M38.3 369.0h1M32.2 333.6h1M38.0 372.5h1M34.0 380.6h1M36.8 344.4h1M55.9 322.1h1M48.1 335.0h1M31.7 365.9h1M41.6 359.6h1M41.5 357.1h1M36.1 380.6h1M42.6 333.3h1M45.1 321.7h1M34.0 364.6h1M34.6 348.1h1M37.5 361.5h1M36.7 370.0h1M33.7 368.1h1M35.9 351.5h1M35.4 385.3h1M35.6 343.6h1M35.0 370.8h1M34.4 384.6h1M45.2 331.1h1M34.5 355.1h1M41.0 349.2h1M45.8 325.8h1M37.9 369.6h1M48.3 340.2h1M37.2 358.0h1M34.2 366.4h1M34.8 343.3h1M40.0 356.9h1M33.6 351.8h1M38.5 329.4h1M40.5 329.8h1M38.8 354.0h1M34.1 377.2h1M37.5 353.0h1M49.2 339.4h1M46.8 337.7h1M34.8 335.0h1M32.0 380.1h1M38.9 331.5h1M41.2 350.2h1M44.1 348.6h1M35.2 351.7h1M37.2 357.3h1M37.7 345.0h1M39.0 353.3h1M38.3 329.2h1M43.7 330.6h1M34.9 369.2h1M35.9 343.1h1M31.6 369.0h1M39.7 331.4h1M44.3 320.9h1M45.7 340.3h1M40.3 327.7h1M34.7 349.7h1M34.7 382.3h1M34.5 334.3h1M32.9 385.0h1M33.3 355.9h1M42.4 346.1h1M32.5 322.8h1M34.1 383.0h1M38.3 350.6h1M41.9 328.5h1M35.5 350.8h1M39.9 336.7h1M35.0 365.6h1M36.8 354.0h1M36.1 352.0h1M45.5 323.3h1M39.4 348.7h1M37.5 326.1h1M33.0 362.6h1M38.8 321.7h1M38.3 365.4h1M56.2 323.5h1M32.0 380.6h1M39.0 373.5h1M40.6 355.7h1M31.7 352.8h1M35.3 356.3h1M33.8 378.3h1M38.5 345.5h1M37.8 337.9h1M46.9 322.2h1M32.6 332.5h1M41.6 329.3h1M36.2 359.9h1M37.9 323.8h1M31.6 333.3h1M37.9 337.9h1M38.9 327.9h1M34.7 373.9h1M39.1 331.0h1M34.7 382.8h1M34.8 361.7h1M40.3 324.2h1M33.8 375.9h1M36.1 356.9h1M34.8 342.6h1M40.2 334.0h1M36.7 356.7h1M45.5 325.8h1M31.4 380.6h1M40.5 336.0h1M36.7 362.8h1M34.2 350.3h1M34.4 383.2h1M31.3 375.1h1M41.7 323.9h1M40.8 329.0h1M35.4 340.7h1M31.2 380.6h1M40.2 356.7h1M48.4 321.6h1M42.7 333.3h1M38.8 338.7h1M36.3 366.3h1M39.4 327.1h1M37.2 367.3h1M32.7 374.2h1M41.6 327.5h1M39.7 334.1h1M36.4 356.4h1M36.9 355.4h1M39.4 376.8h1M32.6 361.4h1M37.1 368.6h1M33.6 344.0h1M40.4 335.1h1M42.6 327.9h1M37.7 354.5h1M31.9 371.9h1M38.1 371.8h1M34.1 362.9h1M37.5 355.2h1M42.7 343.1h1M50.0 324.8h1M37.5 339.7h1M34.8 338.9h1M32.4 356.9h1M41.0 330.5h1M41.3 335.9h1M46.9 320.5h1M34.5 348.9h1M46.1 324.3h1M32.5 366.1h1M40.0 350.5h1M46.3 327.0h1M44.2 323.1h1M44.5 358.4h1M41.0 330.3h1M39.9 351.2h1M33.1 329.5h1M38.9 323.5h1M35.1 366.2h1M37.9 328.2h1M37.0 351.4h1M33.1 362.3h1M40.0 347.9h1M39.4 350.2h1M36.1 345.0h1M35.6 357.9h1M36.8 335.7h1M32.6 371.1h1M48.9 328.9h1M40.2 328.2h1M41.2 324.7h1M39.1 331.4h1M33.1 366.4h1M36.4 334.8h1M35.1 358.0h1M35.2 362.6h1M36.2 350.7h1M35.8 357.6h1M42.4 328.2h1M31.5 359.5h1M48.5 334.3h1M43.6 335.2h1M42.6 337.5h1M52.7 328.3h1M32.6 384.7h1M40.4 364.5h1M34.4 372.3h1M36.2 344.6h1M43.6 323.2h1M42.8 348.8h1M36.9 327.2h1M34.3 369.4h1M45.5 334.1h1M33.6 379.1h1M43.1 345.5h1M32.3 366.0h1M35.9 353.7h1M50.0 321.1h1M33.9 368.7h1M37.8 358.8h1M38.8 366.3h1M39.9 349.7h1M43.1 342.7h1M37.1 358.8h1M34.0 354.5h1M34.5 354.7h1M35.5 327.3h1M35.2 380.8h1M37.8 338.0h1M36.6 321.0h1M33.9 348.4h1M61.4 330.4h1M44.9 339.0h1M43.0 336.8h1M35.5 369.5h1M34.2 383.1h1M41.9 352.3h1M36.1 358.4h1M37.5 375.1h1M39.0 346.5h1M35.3 347.8h1M44.2 344.4h1M36.8 370.6h1M43.9 351.4h1M35.7 335.7h1M32.7 371.8h1M33.2 375.3h1M35.5 364.3h1M44.0 330.6h1M35.2 374.3h1M38.5 341.3h1M34.7 372.4h1M39.0 336.2h1M46.5 336.8h1M34.8 353.5h1M42.9 325.8h1M34.0 383.6h1M36.9 372.2h1M41.1 344.7h1M34.2 335.6h1M36.4 369.3h1M37.6 344.1h1M32.7 355.0h1M42.8 352.3h1M42.9 335.0h1M36.0 345.0h1M45.4 328.7h1M31.2 365.4h1M36.3 348.9h1M38.9 347.3h1M36.3 340.2h1M39.1 335.3h1M37.8 344.7h1M36.4 360.2h1M39.1 343.6h1M33.2 366.5h1M35.7 368.3h1M39.7 370.8h1M46.9 330.5h1M31.5 355.7h1M36.1 369.0h1M41.3 334.0h1M38.6 354.9h1M35.8 342.6h1M32.5 375.2h1M46.3 322.1h1M31.4 381.9h1M37.5 383.5h1M36.8 339.0h1M42.1 353.8h1M32.3 378.3h1M38.8 330.2h1M31.3 368.8h1M31.3 358.4h1M37.4 328.1h1M40.8 352.4h1M32.1 359.7h1M38.9 348.9h1M35.0 337.5h1M36.0 375.8h1M50.9 332.9h1M36.5 327.5h1M38.1 351.0h1M35.7 356.1h1M34.1 353.4h1M38.4 355.3h1M33.2 364.7h1M35.4 372.0h1M43.1 329.3h1M33.8 349.2h1M50.6 331.8h1M40.2 343.8h1M46.7 343.7h1M36.8 380.4h1M38.7 346.6h1M41.4 336.3h1M43.9 327.9h1M44.8 322.6h1M51.5 325.6h1M32.5 355.0h1M64.2 343.1h1M36.2 380.0h1M42.7 353.2h1M45.0 348.3h1M57.0 351.9h1M53.3 380.8h1M47.7 336.1h1M35.2 364.0h1M48.3 336.7h1M52.5 363.8h1M47.8 367.7h1M42.2 344.7h1M39.5 337.6h1M44.3 334.6h1M43.5 342.8h1M50.7 343.0h1M47.7 374.0h1M57.3 331.3h1M57.8 327.0h1M41.0 378.6h1M46.2 351.1h1M46.5 327.6h1M47.8 343.8h1M44.7 338.7h1M50.0 343.9h1M46.4 345.3h1M48.2 355.3h1M49.3 327.5h1M36.7 364.9h1M55.3 330.4h1M45.5 370.1h1M41.7 334.5h1M50.3 348.6h1M41.7 353.7h1M51.1 338.5h1M42.9 339.1h1M62.8 358.0h1M48.1 341.5h1M36.5 355.3h1M42.6 348.1h1M36.5 376.6h1M40.2 342.1h1M41.0 356.5h1M36.3 377.4h1M59.5 342.6h1M37.0 369.6h1M47.2 371.0h1M40.1 380.3h1M66.4 366.0h1M44.9 364.8h1M52.4 365.9h1M38.9 367.3h1M48.9 342.2h1M35.1 366.7h1M46.7 340.8h1M54.3 324.1h1M47.3 376.5h1M38.5 349.2h1M57.5 349.7h1M49.1 326.0h1M72.8 333.1h1M68.7 339.1h1M73.6 331.8h1M67.9 337.7h1M68.9 335.0h1M72.0 342.6h1M69.5 333.0h1M69.4 334.4h1M71.1 339.3h1M72.3 323.7h1M75.4 337.2h1M72.5 330.6h1M69.2 337.0h1M71.9 343.4h1M71.0 338.9h1M68.7 339.7h1M70.3 336.9h1M70.8 342.9h1M72.1 346.9h1M66.9 336.5h1M68.6 336.6h1M73.2 324.8h1M72.7 332.0h1M74.4 333.3h1M70.7 349.0h1M72.0 341.2h1M72.0 351.2h1M71.3 343.5h1M68.9 332.7h1M70.7 334.3h1M69.5 338.8h1M70.5 336.1h1M73.4 332.4h1M69.1 336.5h1" stroke="#000" stroke-width="1" stroke-opacity="0.17" fill="none"/>
<path d="M44.6 324.9h1M45.3 352.8h1M37.6 353.6h1M43.9 331.0h1M36.9 374.3h1M45.6 323.2h1M37.8 348.4h1M32.4 361.1h1M36.0 384.4h1M37.2 353.0h1M32.2 376.8h1M35.3 367.6h1M33.1 376.7h1M40.0 340.3h1M32.0 337.6h1M40.2 344.1h1M37.9 349.6h1M36.6 378.6h1M33.7 383.7h1M42.7 326.9h1M43.8 353.0h1M35.8 340.3h1M31.2 379.1h1M32.3 366.8h1M31.7 372.1h1M34.4 335.7h1M44.0 329.2h1M36.6 365.0h1M33.8 344.0h1M32.4 335.4h1M33.1 364.6h1M38.4 356.2h1M31.3 384.1h1M36.7 359.5h1M38.8 333.1h1M35.1 350.0h1M34.9 371.3h1M44.0 350.8h1M34.2 349.3h1M33.9 358.1h1M40.6 344.3h1M31.5 357.7h1M36.9 369.1h1M32.6 377.8h1M34.4 352.4h1M35.2 361.0h1M43.2 351.2h1M44.2 328.5h1M38.6 348.8h1M33.5 373.4h1M37.5 322.7h1M42.2 355.2h1M41.8 329.9h1M35.8 352.3h1M34.2 352.9h1M32.3 344.1h1M43.9 321.0h1M39.6 351.1h1M34.5 376.6h1M35.6 357.4h1M35.9 333.3h1M41.0 352.8h1M42.6 367.3h1M40.2 334.4h1M34.7 332.7h1M34.4 384.7h1M33.9 366.1h1M33.3 354.6h1M39.7 340.7h1M39.7 335.4h1M36.0 345.8h1M35.4 379.6h1M39.8 352.0h1M40.3 333.3h1M32.8 374.5h1M35.4 354.1h1M35.6 373.5h1M33.8 374.4h1M42.9 332.6h1M39.3 339.1h1M40.9 337.4h1M51.8 332.9h1M36.9 322.0h1M31.3 385.4h1M35.5 348.6h1M36.6 357.4h1M57.9 324.6h1M44.1 327.4h1M31.5 359.4h1M36.6 357.4h1M33.7 349.0h1M41.4 357.8h1M35.3 364.3h1M37.7 336.8h1M44.8 320.5h1M36.0 380.1h1M47.4 321.2h1M33.5 384.2h1M35.4 380.8h1M43.7 328.1h1M39.4 334.2h1M46.2 335.0h1M32.7 372.0h1M35.7 384.9h1M33.0 363.8h1M31.8 362.8h1M32.3 368.4h1M34.3 345.0h1M31.3 364.4h1M46.9 330.0h1M36.4 363.7h1M35.5 370.9h1M33.5 370.8h1M37.7 344.2h1M33.9 362.8h1M35.9 383.0h1M34.3 378.3h1M37.0 367.3h1M37.8 370.2h1M32.9 331.5h1M37.9 360.1h1M31.8 373.9h1M39.4 331.4h1M50.6 325.4h1M41.0 357.3h1M41.4 327.9h1M32.2 348.7h1M43.0 323.0h1M31.8 352.5h1M39.1 364.5h1M39.8 346.5h1M38.2 327.4h1M43.9 327.3h1M39.3 355.5h1M33.7 348.9h1M35.4 346.8h1M37.4 343.7h1M34.3 367.3h1M39.1 336.7h1M32.5 381.1h1M32.3 376.0h1M44.1 322.8h1M37.3 334.2h1M38.6 350.7h1M37.0 347.2h1M33.2 355.9h1M37.9 385.5h1M34.3 357.4h1M34.7 369.7h1M36.6 337.7h1M33.1 337.6h1M43.6 340.8h1M31.8 379.3h1M47.7 328.6h1M35.0 356.4h1M42.7 324.1h1M31.4 353.4h1M45.8 342.8h1M32.5 383.3h1M34.9 359.9h1M34.3 353.9h1M35.9 376.2h1M31.6 361.4h1M36.8 335.3h1M34.5 349.4h1M40.7 337.6h1M32.9 354.1h1M40.8 331.5h1M39.2 343.7h1M32.0 377.4h1M45.8 325.7h1M42.1 352.7h1M37.4 341.8h1M33.5 371.7h1M33.4 365.8h1M49.1 333.4h1M43.9 357.5h1M38.7 360.0h1M42.0 332.2h1M46.9 321.5h1M35.3 350.1h1M33.3 379.4h1M36.1 370.8h1M34.4 349.5h1M44.6 321.3h1M35.3 342.6h1M41.9 368.3h1M34.8 363.0h1M33.6 384.5h1M38.2 344.6h1M31.8 376.3h1M36.0 376.0h1M36.2 373.6h1M35.9 360.9h1M37.2 363.9h1M37.4 327.6h1M46.8 324.5h1M35.1 349.7h1M42.7 326.2h1M41.0 334.7h1M40.5 325.1h1M32.7 376.8h1M36.5 345.7h1M38.0 344.0h1M34.1 380.4h1M41.1 344.1h1M41.7 328.1h1M34.9 346.1h1M33.2 360.3h1M37.1 362.6h1M38.6 350.4h1M39.7 332.2h1M34.3 351.6h1M46.7 333.1h1M34.1 379.6h1M41.3 355.8h1M41.4 367.5h1M37.7 369.7h1M44.2 335.4h1M35.2 339.8h1M31.4 354.6h1M34.0 381.4h1M48.9 343.8h1M34.2 365.8h1M32.9 380.6h1M33.7 341.8h1M52.7 325.8h1M37.8 324.2h1M39.4 345.7h1M32.5 379.2h1M33.5 361.6h1M35.6 341.9h1M51.1 323.6h1M38.8 342.3h1M32.4 373.8h1M31.2 385.1h1M40.5 324.7h1M37.4 341.3h1M31.9 370.8h1M32.9 361.2h1M36.7 347.5h1M38.5 323.2h1M40.4 342.3h1M31.9 362.9h1M34.7 327.4h1M37.0 361.9h1M31.6 347.3h1M39.3 333.3h1M49.3 329.6h1M34.0 373.9h1M45.1 328.6h1M32.2 366.3h1M38.6 360.9h1M34.2 366.2h1M41.0 343.8h1M38.7 321.4h1M37.9 359.2h1M34.3 341.6h1M49.1 325.2h1M32.0 358.6h1M40.9 339.9h1M39.8 338.3h1M41.5 335.1h1M32.9 349.7h1M45.2 335.5h1M35.2 339.8h1M49.9 323.0h1M38.4 333.9h1M50.0 355.1h1M34.8 379.7h1M38.5 363.6h1M36.5 346.9h1M37.8 351.3h1M41.9 326.8h1M34.2 346.6h1M47.7 343.7h1M38.3 362.6h1M34.8 328.8h1M43.1 342.3h1M37.6 359.2h1M33.3 328.2h1M40.0 342.8h1M33.9 359.8h1M34.9 370.4h1M38.5 337.3h1M37.0 384.0h1M37.6 360.7h1M33.8 384.8h1M41.5 322.8h1M36.7 334.2h1M38.5 369.8h1M51.3 330.2h1M31.5 368.4h1M32.1 369.5h1M36.1 372.5h1M49.4 324.2h1M39.9 382.9h1M35.0 367.5h1M40.4 327.9h1M53.0 323.8h1M35.0 377.9h1M36.9 335.9h1M33.3 354.5h1M41.9 323.3h1M40.6 351.5h1M39.3 335.6h1M42.8 322.2h1M39.2 335.7h1M36.5 342.0h1M36.0 346.9h1M36.9 327.7h1M42.8 324.9h1M41.2 347.0h1M41.5 326.5h1M42.0 327.1h1M34.3 352.5h1M36.6 339.8h1M37.3 335.7h1M39.3 327.5h1M32.6 356.6h1M38.4 325.7h1M39.2 332.4h1M44.4 323.5h1M42.8 347.6h1M36.3 359.0h1M43.7 329.7h1M42.4 325.1h1M39.4 329.2h1M31.8 347.4h1M38.6 330.3h1M34.8 340.0h1M35.3 374.2h1M37.6 332.7h1M50.1 327.0h1M34.7 342.6h1M34.6 335.6h1M39.0 324.9h1M34.1 370.9h1M37.2 351.4h1M32.5 368.2h1M42.3 324.7h1M36.5 357.3h1M31.3 374.8h1M38.1 345.8h1M41.5 343.2h1M34.4 359.4h1M35.4 347.1h1M38.6 337.9h1M38.8 326.4h1M36.2 384.8h1M40.9 359.2h1M38.0 339.4h1M39.4 328.6h1M33.5 352.7h1M33.3 365.1h1M40.6 327.5h1M40.9 349.2h1M32.3 380.0h1M43.5 331.0h1M35.5 357.2h1M40.5 332.6h1M36.6 326.8h1M32.8 345.4h1M47.3 323.8h1M37.5 343.5h1M34.4 371.7h1M38.4 349.6h1M41.0 334.0h1M36.3 339.3h1M35.3 348.2h1M42.1 323.2h1M44.0 332.9h1M48.2 331.5h1M33.7 344.7h1M33.8 373.2h1M38.3 332.1h1M51.9 324.6h1M38.3 322.7h1M36.4 373.4h1M40.2 338.6h1M37.8 343.8h1M32.6 379.1h1M32.6 374.9h1M36.3 380.0h1M37.8 372.7h1M39.4 359.1h1M33.3 356.7h1M35.9 383.6h1M40.9 340.3h1M45.1 329.1h1M39.2 380.4h1M40.1 351.6h1M39.7 372.7h1M37.9 383.3h1M34.8 345.0h1M32.6 365.4h1M44.5 328.5h1M38.3 323.7h1M34.2 349.9h1M38.4 354.4h1M32.4 361.4h1M34.8 361.5h1M40.0 335.7h1M36.1 357.7h1M38.4 351.2h1M41.3 321.3h1M49.5 327.6h1M41.7 359.9h1M44.0 343.5h1M52.4 324.2h1M39.3 344.9h1M32.0 374.1h1M46.8 341.9h1M46.7 324.8h1M40.7 376.4h1M45.1 345.2h1M46.2 372.7h1M43.6 322.8h1M44.5 331.2h1M58.1 336.3h1M39.7 377.3h1M62.6 333.8h1M42.0 382.7h1M39.4 380.9h1M52.1 350.7h1M42.7 323.6h1M50.6 382.2h1M40.9 383.5h1M49.9 369.8h1M51.0 322.7h1M51.4 331.9h1M60.4 347.9h1M49.7 327.9h1M61.7 380.7h1M47.2 372.8h1M36.9 378.5h1M57.3 330.8h1M38.3 383.7h1M53.9 364.4h1M34.9 360.8h1M43.3 357.4h1M46.7 343.6h1M49.4 334.4h1M43.9 365.8h1M38.6 374.2h1M52.9 321.6h1M47.1 363.8h1M55.7 341.0h1M47.0 373.6h1M40.1 379.6h1M47.3 377.0h1M44.5 383.4h1M44.8 359.8h1M53.9 331.2h1M41.6 338.9h1M34.2 379.7h1M54.0 329.0h1M37.2 374.9h1M43.2 349.9h1M65.0 335.3h1M38.8 361.6h1M59.8 342.2h1M53.7 370.2h1M38.1 367.4h1M45.6 330.7h1M73.6 333.9h1M70.9 328.7h1M73.2 333.8h1M73.6 329.3h1M67.8 341.8h1M72.2 331.4h1M69.3 335.0h1M74.5 329.8h1M74.1 339.9h1M65.3 331.1h1M72.2 325.2h1M69.9 324.8h1M73.4 336.4h1M71.7 338.5h1M70.3 333.2h1M73.2 340.0h1M67.9 339.5h1M70.1 343.9h1M71.8 332.7h1M70.7 347.6h1M70.6 325.3h1M75.0 326.3h1M71.6 342.2h1M67.7 327.6h1M69.0 342.8h1M69.5 349.0h1M72.6 341.4h1M73.9 335.8h1M70.3 330.1h1M66.5 334.7h1M69.9 335.5h1M71.4 342.6h1M70.0 335.3h1M73.0 345.4h1" stroke="#000" stroke-width="1" stroke-opacity="0.17" fill="none"/>
<path d="M40.7 349.3h1M47.5 331.9h1M36.2 364.9h1M40.1 343.7h1M44.2 332.5h1M33.7 367.0h1M43.7 333.7h1M40.1 342.6h1M33.3 378.2h1M44.0 327.1h1M33.7 348.2h1M34.3 323.6h1M38.8 324.6h1M44.8 337.7h1M32.8 381.2h1M31.8 379.4h1M32.7 354.5h1M34.4 323.7h1M34.7 358.2h1M32.2 368.6h1M38.1 348.3h1M42.4 339.6h1M38.5 366.0h1M38.1 370.5h1M38.1 371.7h1M41.8 330.1h1M39.1 364.6h1M36.1 345.1h1M35.7 361.0h1M35.8 371.9h1M34.1 374.2h1M32.9 369.0h1M38.7 341.0h1M38.6 358.3h1M34.2 360.9h1M43.2 327.0h1M39.7 334.2h1M37.9 385.3h1M47.3 333.2h1M36.0 359.7h1M32.8 378.9h1M37.4 352.4h1M37.7 327.9h1M38.1 359.2h1M32.0 360.4h1M45.8 325.3h1M37.3 354.8h1M38.3 355.0h1M38.6 356.8h1M33.2 361.8h1M45.4 339.7h1M37.7 370.2h1M32.6 345.8h1M33.4 369.0h1M38.0 340.7h1M40.0 328.3h1M48.1 330.7h1M40.3 355.0h1M33.3 358.9h1M42.2 325.5h1M35.8 338.0h1M42.5 336.2h1M40.3 339.9h1M36.3 359.5h1M44.4 336.2h1M32.5 378.7h1M41.1 360.3h1M41.4 335.5h1M31.3 344.8h1M32.2 371.8h1M39.9 325.0h1M37.6 364.6h1M43.5 326.4h1M43.1 327.6h1M42.2 344.1h1M36.7 350.3h1M34.6 365.0h1M38.3 361.4h1M31.7 385.2h1M32.6 378.8h1M31.5 364.0h1M34.5 348.0h1M34.8 350.7h1M31.2 382.6h1M38.4 385.5h1M32.1 333.3h1M43.2 327.2h1M45.9 345.0h1M35.7 378.8h1M44.1 325.8h1M45.2 339.2h1M45.5 323.1h1M33.3 348.0h1M35.1 370.6h1M37.1 338.2h1M32.7 385.4h1M39.2 361.2h1M40.2 348.9h1M32.0 382.8h1M45.4 324.3h1M46.7 331.4h1M37.1 369.6h1M33.4 345.0h1M34.2 349.3h1M48.7 327.2h1M38.3 340.6h1M39.0 339.2h1M38.4 368.5h1M37.8 326.6h1M41.2 329.7h1M40.0 341.1h1M35.0 353.6h1M36.0 348.3h1M32.9 370.3h1M49.3 325.9h1M32.5 383.7h1M38.9 342.5h1M45.9 336.7h1M51.1 350.3h1M34.0 374.2h1M32.2 370.0h1M41.9 321.7h1M36.7 367.9h1M35.9 333.3h1M34.5 362.5h1M42.4 325.6h1M38.5 379.5h1M38.2 352.0h1M32.1 376.7h1M35.6 377.0h1M43.7 320.8h1M41.3 359.6h1M42.9 327.1h1M45.7 330.2h1M49.3 326.7h1M32.6 365.2h1M37.2 329.2h1M32.4 384.8h1M43.2 322.5h1M32.7 360.9h1M33.0 376.3h1M43.9 339.1h1M33.2 347.9h1M35.5 334.3h1M35.4 384.8h1M41.6 366.4h1M42.0 348.2h1M35.2 349.7h1M46.7 327.5h1M32.1 352.0h1M38.7 355.7h1M31.9 363.3h1M36.8 340.3h1M47.1 334.3h1M40.3 329.1h1M32.7 366.8h1M36.0 363.1h1M34.7 350.2h1M44.4 339.0h1M35.4 349.6h1M39.8 354.0h1M35.9 342.9h1M45.6 320.7h1M42.9 338.7h1M32.4 375.3h1M34.7 366.9h1M37.9 358.2h1M34.1 368.1h1M41.6 362.5h1M41.1 343.5h1M44.7 334.4h1M33.9 333.8h1M32.2 369.2h1M32.8 355.6h1M34.1 342.1h1M38.2 353.2h1M42.6 338.2h1M40.2 326.3h1M48.6 325.8h1M33.8 385.5h1M39.4 321.2h1M37.2 369.1h1M41.4 334.3h1M39.3 329.5h1M34.3 384.6h1M35.8 348.9h1M32.3 383.2h1M36.3 343.4h1M45.4 359.2h1M38.5 344.5h1M42.0 329.7h1M41.1 322.4h1M46.8 331.8h1M32.8 381.9h1M35.6 336.2h1M39.0 333.7h1M40.5 377.5h1M38.0 348.4h1M33.9 358.3h1M31.5 366.3h1M34.6 370.6h1M32.0 364.2h1M34.3 364.2h1M41.5 339.9h1M32.8 380.3h1M44.3 324.0h1M41.4 322.1h1M35.4 353.1h1M41.1 345.7h1M37.2 356.0h1M38.0 378.0h1M41.6 343.7h1M36.8 363.3h1M40.5 331.3h1M36.9 354.5h1M31.2 384.1h1M43.0 349.5h1M37.8 374.5h1M40.0 335.9h1M34.6 342.3h1M37.5 353.2h1M34.2 352.7h1M32.6 377.8h1M31.6 351.7h1M36.2 336.5h1M34.7 364.9h1M38.0 353.5h1M36.6 372.3h1M42.2 338.3h1M42.1 354.1h1M42.4 327.5h1M35.4 361.2h1M40.1 346.2h1M38.2 342.3h1M49.3 320.8h1M35.8 363.0h1M34.1 362.0h1M41.1 343.4h1M32.2 379.4h1M40.6 332.8h1M38.6 343.5h1M33.3 374.6h1M40.6 352.9h1M39.7 358.7h1M36.5 332.1h1M43.1 327.2h1M33.8 368.7h1M31.3 358.8h1M44.5 325.5h1M33.6 371.4h1M33.6 330.8h1M37.0 345.3h1M35.3 337.5h1M34.9 362.4h1M39.2 352.8h1M33.8 357.2h1M36.0 354.4h1M47.5 328.0h1M35.7 379.5h1M37.8 334.4h1M41.5 337.7h1M33.6 377.2h1M33.9 368.9h1M32.0 342.8h1M39.1 363.1h1M35.1 357.8h1M38.7 331.6h1M33.9 360.4h1M39.2 335.0h1M37.3 374.2h1M34.3 349.2h1M41.4 345.0h1M31.3 363.7h1M36.5 326.7h1M31.4 375.0h1M41.7 336.5h1M45.2 349.8h1M32.7 351.8h1M42.1 354.2h1M33.5 357.1h1M38.1 345.6h1M35.0 356.2h1M46.3 322.8h1M42.2 348.3h1M39.5 356.7h1M31.6 341.7h1M34.8 367.7h1M41.0 320.8h1M40.1 346.4h1M40.1 335.5h1M40.9 326.4h1M35.1 357.5h1M33.7 339.1h1M40.9 326.6h1M46.9 321.0h1M41.1 348.4h1M41.4 335.2h1M36.6 383.2h1M32.4 376.7h1M48.8 336.4h1M43.6 327.8h1M37.5 368.5h1M31.4 376.9h1M45.3 321.3h1M34.6 376.6h1M33.8 358.5h1M38.6 347.5h1M33.2 358.7h1M37.8 372.8h1M40.1 339.2h1M38.0 366.7h1M42.1 331.5h1M33.6 372.6h1M35.8 380.1h1M33.8 328.3h1M40.3 320.6h1M38.6 358.8h1M36.4 338.8h1M46.9 332.6h1M38.4 324.1h1M35.9 375.4h1M43.7 335.1h1M35.7 363.7h1M32.1 379.7h1M33.9 362.9h1M36.4 348.8h1M38.0 335.5h1M33.9 352.5h1M42.1 350.5h1M40.0 333.1h1M38.8 349.1h1M43.1 322.2h1M40.2 368.1h1M38.5 366.4h1M41.0 323.7h1M32.8 384.8h1M31.6 384.8h1M40.5 349.6h1M41.7 360.0h1M34.1 367.8h1M40.9 325.2h1M36.4 325.6h1M37.4 383.5h1M33.3 379.3h1M33.9 339.0h1M39.2 344.4h1M39.5 339.5h1M36.7 358.1h1M36.5 347.4h1M32.9 363.2h1M40.9 321.0h1M36.2 361.4h1M40.8 352.1h1M32.0 376.9h1M31.7 364.3h1M39.2 348.3h1M42.6 334.4h1M38.0 353.2h1M47.6 332.3h1M37.7 364.5h1M36.1 362.8h1M39.5 362.5h1M34.1 375.9h1M36.4 359.6h1M44.6 372.7h1M37.2 333.1h1M37.3 335.4h1M43.9 325.5h1M39.5 334.7h1M36.6 371.8h1M46.6 337.2h1M39.5 349.4h1M40.5 329.1h1M45.5 321.8h1M48.1 324.5h1M43.6 356.9h1M38.0 353.7h1M41.9 341.0h1M41.4 353.8h1M37.7 363.6h1M37.7 360.1h1M34.0 379.4h1M33.5 348.5h1M41.1 378.3h1M44.6 349.2h1M38.4 348.8h1M40.9 336.2h1M54.8 322.4h1M35.9 332.7h1M40.9 324.2h1M35.5 332.0h1M39.4 359.6h1M34.5 364.0h1M38.5 368.2h1M42.7 343.5h1M53.9 324.2h1M35.9 340.6h1M42.0 345.6h1M37.0 348.4h1M32.1 375.2h1M42.5 326.9h1M33.8 360.3h1M39.7 365.5h1M40.7 355.3h1M53.9 325.2h1M47.5 325.4h1M34.4 373.2h1M52.8 377.9h1M45.9 378.9h1M53.3 334.3h1M42.8 355.0h1M60.1 363.3h1M56.4 369.5h1M39.4 332.8h1M61.3 356.3h1M33.6 364.6h1M45.7 326.6h1M55.9 328.3h1M36.5 377.7h1M41.6 342.5h1M37.5 380.5h1M56.0 346.4h1M47.4 343.9h1M36.0 382.6h1M58.5 336.8h1M71.5 334.0h1M52.4 341.3h1M46.6 371.7h1M49.4 333.5h1M45.4 365.9h1M50.7 383.0h1M41.9 323.1h1M41.1 342.7h1M52.4 355.0h1M34.1 374.1h1M39.5 333.2h1M42.1 368.5h1M40.2 353.4h1M49.0 362.1h1M49.0 331.4h1M41.5 342.0h1M46.9 364.7h1M44.9 360.5h1M55.6 350.3h1M38.8 350.3h1M44.9 344.2h1M42.2 373.3h1M53.0 340.1h1M65.3 323.1h1M48.0 330.8h1M49.9 326.7h1M55.2 353.6h1M42.4 367.6h1M43.9 374.6h1M51.8 324.9h1M54.2 367.3h1M47.3 364.8h1M39.3 367.9h1M38.6 349.5h1M53.9 374.3h1M45.3 355.1h1M53.8 332.6h1M40.0 342.7h1M52.4 364.9h1M69.6 329.2h1M69.5 337.7h1M72.1 338.7h1M68.4 332.4h1M65.9 354.2h1M73.1 326.0h1M71.3 335.6h1M75.2 328.7h1M71.0 339.0h1M70.8 338.2h1M73.2 331.6h1M72.2 345.7h1M70.4 345.3h1M71.1 328.2h1M72.5 339.1h1M70.1 334.8h1M67.9 331.8h1M67.3 335.8h1M69.8 328.9h1M70.8 344.7h1M72.3 340.4h1M72.6 336.3h1M70.2 335.5h1M71.0 341.2h1M72.6 332.1h1M72.9 328.4h1M68.8 332.4h1M69.6 338.2h1M72.6 330.4h1M69.0 346.4h1M73.7 338.3h1M73.4 334.6h1M69.1 344.1h1M72.5 334.1h1" stroke="#000" stroke-width="1" stroke-opacity="0.17" fill="none"/>
</g>
<polygon points="63.7,248.8 80.5,248.8 82.7,259.1 78.4,278.7 65.3,286.3 59.9,258" fill="none" stroke="#333" stroke-width="0.8"/>
<polygon points="63.7,320.3 81.6,320.3 83.8,331.1 78.9,351.2 65.9,358.3 60.4,329" fill="none" stroke="#333" stroke-width="0.8"/>
<path d="M198.1 248.6H264.6V313.8" stroke="#9a9a9a" stroke-width="1.2" fill="none"/>
<path d="M198.1 248.6V313.8H264.6" stroke="#555" stroke-width="1.2" fill="none"/>
<line x1="198.1" y1="301.94545454545454" x2="196.6" y2="301.94545454545454" stroke="#777" stroke-width="0.8"/>
<line x1="210.1909090909091" y1="313.8" x2="210.1909090909091" y2="315.3" stroke="#777" stroke-width="0.8"/>
<line x1="198.1" y1="290.0909090909091" x2="196.6" y2="290.0909090909091" stroke="#777" stroke-width="0.8"/>
<line x1="222.28181818181818" y1="313.8" x2="222.28181818181818" y2="315.3" stroke="#777" stroke-width="0.8"/>
<line x1="198.1" y1="278.23636363636365" x2="196.6" y2="278.23636363636365" stroke="#777" stroke-width="0.8"/>
<line x1="234.37272727272727" y1="313.8" x2="234.37272727272727" y2="315.3" stroke="#777" stroke-width="0.8"/>
<line x1="198.1" y1="266.3818181818182" x2="196.6" y2="266.3818181818182" stroke="#777" stroke-width="0.8"/>
<line x1="246.46363636363637" y1="313.8" x2="246.46363636363637" y2="315.3" stroke="#777" stroke-width="0.8"/>
<line x1="198.1" y1="254.5272727272727" x2="196.6" y2="254.5272727272727" stroke="#777" stroke-width="0.8"/>
<line x1="258.55454545454546" y1="313.8" x2="258.55454545454546" y2="315.3" stroke="#777" stroke-width="0.8"/>
<path d="M198.2 319.9H265.0V386.6" stroke="#9a9a9a" stroke-width="1.2" fill="none"/>
<path d="M198.2 319.9V386.6H265.0" stroke="#555" stroke-width="1.2" fill="none"/>
<line x1="198.2" y1="374.4727272727273" x2="196.7" y2="374.4727272727273" stroke="#777" stroke-width="0.8"/>
<line x1="210.34545454545454" y1="386.6" x2="210.34545454545454" y2="388.1" stroke="#777" stroke-width="0.8"/>
<line x1="198.2" y1="362.3454545454546" x2="196.7" y2="362.3454545454546" stroke="#777" stroke-width="0.8"/>
<line x1="222.4909090909091" y1="386.6" x2="222.4909090909091" y2="388.1" stroke="#777" stroke-width="0.8"/>
<line x1="198.2" y1="350.21818181818185" x2="196.7" y2="350.21818181818185" stroke="#777" stroke-width="0.8"/>
<line x1="234.63636363636363" y1="386.6" x2="234.63636363636363" y2="388.1" stroke="#777" stroke-width="0.8"/>
<line x1="198.2" y1="338.09090909090907" x2="196.7" y2="338.09090909090907" stroke="#777" stroke-width="0.8"/>
<line x1="246.78181818181818" y1="386.6" x2="246.78181818181818" y2="388.1" stroke="#777" stroke-width="0.8"/>
<line x1="198.2" y1="325.96363636363634" x2="196.7" y2="325.96363636363634" stroke="#777" stroke-width="0.8"/>
<line x1="258.92727272727274" y1="386.6" x2="258.92727272727274" y2="388.1" stroke="#777" stroke-width="0.8"/>
<g filter="url(#bl)">
<path d="M219.6 269.3h1M212.2 277.2h1M220.7 275.7h1M219.5 293.6h1M212.0 308.7h1M217.0 281.3h1M217.0 294.4h1M217.5 275.0h1M214.8 301.2h1M216.8 283.4h1M215.7 303.0h1M209.0 292.8h1M214.0 307.2h1M214.8 304.5h1M224.1 263.4h1M216.7 293.0h1M217.1 297.8h1M218.3 290.2h1M220.1 283.9h1M211.2 297.8h1M214.1 287.9h1M214.3 300.4h1M217.0 289.4h1M220.7 292.4h1M211.4 280.6h1M214.4 300.4h1M220.4 282.2h1M222.1 276.8h1M213.1 303.4h1M217.7 294.4h1M223.1 283.5h1M225.6 251.2h1M212.3 287.5h1M216.2 297.2h1M221.0 285.6h1M213.1 298.2h1M221.4 280.4h1M220.4 249.6h1M213.5 301.4h1M223.0 271.0h1M217.5 280.5h1M222.9 269.6h1M213.2 297.7h1M222.8 275.3h1M216.7 270.6h1M221.8 270.5h1M212.7 297.1h1M215.4 294.6h1M219.7 269.6h1M214.2 277.1h1M213.9 290.4h1M226.2 268.8h1M217.6 298.5h1M220.0 289.6h1M217.3 285.5h1M215.4 275.7h1M215.7 278.2h1M216.9 302.1h1M215.2 289.5h1M211.7 291.5h1M213.6 300.6h1M226.1 258.9h1M228.5 271.0h1M212.2 305.1h1M215.3 298.3h1M218.1 291.8h1M211.8 306.0h1M221.9 261.1h1M215.0 279.7h1M217.2 276.2h1M227.4 264.7h1M218.9 285.5h1M218.3 261.5h1M213.8 298.5h1M212.9 295.1h1M211.4 286.2h1M218.8 264.4h1M218.7 286.9h1M215.2 265.8h1M220.6 281.2h1M227.1 251.9h1M219.8 268.5h1M219.1 283.1h1M220.8 266.8h1M216.0 298.3h1M218.5 282.9h1M212.2 301.9h1M222.8 254.8h1M221.7 277.2h1M224.4 266.8h1M221.4 275.3h1M224.9 260.4h1M215.6 276.8h1M220.0 268.8h1M219.9 281.1h1M213.0 296.4h1M216.2 296.9h1M214.4 300.2h1M216.2 278.0h1M218.0 279.0h1M219.9 299.4h1M217.8 281.2h1M213.5 292.7h1M223.4 285.2h1M219.1 277.9h1M213.3 292.6h1M217.0 287.3h1M218.4 278.9h1M223.4 265.1h1M219.7 271.9h1M217.3 294.4h1M224.1 268.5h1M219.0 261.6h1M216.9 265.9h1M216.6 295.9h1M221.8 293.6h1M219.2 261.6h1M212.6 296.7h1M212.9 283.7h1M219.9 281.8h1M221.8 278.9h1M214.6 288.2h1M217.8 288.7h1M219.2 278.3h1M213.7 302.5h1M212.8 289.7h1M221.1 293.3h1M214.4 301.3h1M214.9 296.2h1M219.5 288.3h1M217.3 290.9h1M216.1 299.9h1M227.5 253.6h1M218.1 292.3h1M217.6 268.9h1M213.1 308.7h1M217.5 288.3h1M216.0 268.4h1M212.6 282.4h1M216.9 278.1h1M216.8 286.3h1M217.1 275.3h1M214.9 295.7h1M216.2 283.0h1M218.4 294.0h1M213.8 293.3h1M217.8 286.2h1M217.2 284.6h1M218.9 292.1h1M219.4 281.6h1M213.7 299.6h1M216.3 297.8h1M213.2 296.3h1M221.7 256.4h1M216.3 270.4h1M218.4 286.4h1M217.1 264.6h1M222.1 261.1h1M226.9 254.3h1M218.2 291.5h1M217.3 272.5h1M217.8 295.8h1M213.0 297.8h1M221.9 293.7h1M212.4 308.3h1M219.6 276.5h1M211.4 290.8h1M216.1 295.5h1M217.7 280.8h1M217.9 291.2h1M214.0 303.6h1M209.2 294.9h1M216.6 294.9h1M212.9 290.3h1M223.9 266.2h1M215.1 301.8h1M228.1 265.7h1M216.1 300.1h1M213.8 286.3h1M214.3 295.6h1M214.2 293.9h1M219.0 271.1h1M213.2 306.2h1M214.4 298.9h1M218.5 295.7h1M225.2 271.9h1M223.1 284.8h1M214.0 270.8h1M223.5 250.2h1M220.5 258.2h1M221.6 280.3h1M219.1 259.1h1M217.1 275.0h1M214.6 288.4h1M216.3 295.1h1M226.0 272.8h1M221.8 261.4h1M216.0 279.4h1M222.3 282.4h1M220.2 275.2h1M220.4 282.6h1M215.4 281.7h1M218.7 292.2h1M221.0 300.4h1M219.6 304.0h1M213.2 294.7h1M218.5 251.1h1M223.2 278.8h1M222.7 261.5h1M219.0 294.9h1M217.4 285.3h1M211.0 304.9h1M217.2 275.1h1M213.5 299.8h1M210.7 299.9h1M214.3 288.1h1M215.5 278.7h1M216.6 285.8h1M210.9 275.8h1M212.5 288.3h1M215.1 285.7h1M219.6 262.7h1M226.1 259.6h1M225.1 275.5h1M217.2 289.9h1M213.8 271.8h1M218.4 296.5h1M215.3 275.6h1M221.4 276.2h1M220.3 277.0h1M224.2 277.7h1M213.3 292.2h1M214.9 293.8h1M215.0 295.2h1M216.6 275.1h1M218.8 292.6h1M216.7 294.7h1M212.7 297.7h1M215.7 278.6h1M210.8 298.5h1M212.9 302.7h1M226.3 268.3h1M215.3 302.4h1M218.3 294.6h1M221.7 296.3h1M213.8 306.3h1M221.9 266.0h1M217.8 299.9h1M225.3 277.0h1M217.9 279.5h1M215.2 276.9h1M211.3 294.6h1M215.8 296.1h1M215.5 295.6h1M214.1 258.3h1M215.9 276.5h1M216.1 299.5h1M218.0 274.5h1M217.6 278.2h1M219.1 300.8h1M220.1 293.7h1M211.4 292.5h1M219.4 302.5h1M223.4 271.5h1M215.8 299.9h1M215.6 293.5h1M214.7 292.2h1M213.5 280.9h1M220.5 296.5h1M225.8 278.1h1M218.3 285.2h1M219.4 274.9h1M224.6 259.4h1M214.5 288.5h1M216.8 283.3h1M225.3 258.1h1M211.6 300.1h1M224.9 264.3h1M214.5 303.7h1M219.8 272.5h1M218.3 288.4h1M224.0 285.5h1M216.3 286.7h1M217.9 267.9h1M215.8 282.6h1M215.6 293.2h1M216.8 293.5h1M212.0 307.8h1M228.8 284.1h1M222.8 264.6h1M215.3 304.7h1M216.9 281.3h1M222.1 274.3h1M222.4 260.8h1M217.0 303.6h1M222.2 290.8h1M215.4 287.7h1M213.7 294.6h1M213.2 296.3h1M209.8 292.2h1M221.4 294.7h1M215.8 295.3h1M221.9 269.7h1M225.3 249.9h1M216.1 290.5h1M215.0 305.8h1M213.3 300.0h1M219.5 284.1h1M217.4 291.4h1M211.7 283.8h1M216.0 276.7h1M215.1 279.1h1M218.2 299.5h1M217.5 296.5h1M214.7 304.5h1M225.3 257.9h1M217.6 306.0h1M223.1 271.0h1M232.9 258.5h1M217.7 289.0h1M216.1 271.6h1M224.1 270.5h1M218.4 296.5h1M212.9 306.9h1M217.1 295.1h1M222.2 268.7h1M213.0 272.6h1M216.0 266.2h1M220.8 269.0h1M222.6 271.8h1M215.9 300.6h1M225.5 259.5h1M222.2 280.4h1M216.0 297.0h1M218.7 288.0h1M216.5 299.1h1M209.2 283.6h1M213.1 291.3h1M221.4 283.0h1M222.1 258.2h1M216.0 265.7h1M222.3 278.9h1M218.2 279.9h1M213.2 296.2h1M212.8 300.7h1M208.5 289.1h1M218.0 283.8h1M220.6 279.6h1M214.9 299.5h1M215.8 295.6h1M213.6 302.1h1M218.8 305.7h1M218.6 268.5h1M219.6 277.2h1M223.5 266.3h1M213.7 294.4h1M212.4 292.0h1M216.5 283.4h1M214.9 268.6h1M218.5 300.7h1M214.6 288.7h1M210.6 289.7h1M216.3 266.3h1M211.2 300.0h1M216.2 295.9h1M216.0 281.1h1M212.2 294.9h1M220.5 294.7h1M221.5 280.9h1M218.7 260.3h1M212.0 283.7h1M216.0 287.2h1M218.7 260.2h1M227.8 264.2h1M217.6 294.7h1M212.7 293.7h1M217.7 280.0h1M215.5 281.9h1M213.5 294.9h1M215.3 283.3h1M216.6 281.9h1M229.5 257.4h1M220.0 264.1h1M217.2 285.7h1M218.6 279.9h1M214.2 272.2h1M218.3 280.7h1M220.5 268.4h1M216.8 288.0h1M218.6 273.4h1M212.1 292.9h1M215.9 304.2h1M215.4 289.8h1M213.5 300.5h1M228.2 260.6h1M217.4 300.7h1M216.0 268.4h1M217.0 293.3h1M221.1 266.2h1M228.2 256.2h1M217.8 287.4h1M218.9 292.9h1M223.7 264.2h1M214.0 298.9h1M213.9 302.1h1M221.1 274.7h1M226.0 259.6h1M223.7 254.4h1M218.2 266.9h1M216.3 302.2h1M220.2 290.1h1M224.8 268.3h1M213.9 290.7h1M222.1 276.4h1M213.1 303.9h1M218.4 274.5h1M226.8 273.7h1M216.2 300.2h1M221.3 286.5h1M218.7 274.0h1M216.0 299.0h1M216.1 293.0h1M217.0 290.0h1M222.1 291.6h1M217.7 273.0h1M216.8 301.3h1M215.5 301.6h1M218.9 275.4h1M217.4 297.8h1M218.8 277.4h1M215.0 289.9h1M218.2 282.7h1M212.8 282.6h1M213.6 294.3h1M215.2 302.2h1M218.0 294.4h1M214.8 291.4h1M213.2 299.8h1M212.3 288.0h1M216.7 279.9h1M219.5 285.6h1M214.9 295.9h1M212.8 284.7h1M217.2 299.8h1M214.7 287.3h1M215.4 292.6h1M216.3 300.1h1M216.7 292.4h1M220.9 274.4h1M211.1 297.0h1M214.2 300.2h1M224.9 276.3h1M221.5 285.4h1M226.3 264.9h1M221.6 257.6h1M225.6 267.7h1M228.0 263.3h1M212.1 282.8h1M214.4 308.2h1M219.1 263.9h1M215.1 287.3h1M218.7 296.5h1M217.2 306.4h1M224.9 268.3h1M219.1 297.9h1M217.7 294.3h1M215.2 283.6h1M218.1 297.5h1M210.4 303.0h1M222.4 268.4h1M219.7 252.1h1M215.6 297.6h1M210.9 289.9h1M216.0 288.6h1M218.8 275.3h1M211.4 306.0h1M217.4 294.6h1M229.6 250.1h1M217.9 280.1h1M212.3 298.2h1M220.8 286.0h1M227.3 265.7h1M219.7 274.5h1M214.9 304.0h1M222.2 276.0h1M212.4 301.2h1M218.6 293.0h1M215.8 279.2h1M211.6 299.0h1M220.1 295.7h1M210.7 280.0h1M218.8 294.8h1M214.2 278.7h1M209.9 299.1h1M224.1 271.9h1M214.1 265.2h1M214.7 281.6h1M219.3 272.8h1M215.9 281.2h1M220.9 274.8h1M221.9 290.7h1M220.1 290.2h1M219.5 288.2h1M216.8 292.0h1M216.2 291.1h1M219.9 261.5h1M217.6 273.9h1M213.0 303.1h1M223.2 272.9h1M222.8 255.7h1M214.8 297.8h1M213.9 299.0h1M223.9 269.9h1M214.8 289.4h1M214.1 288.9h1M217.1 297.1h1M230.2 262.9h1M214.3 299.2h1M219.3 297.0h1M220.5 296.4h1M220.1 274.2h1M214.1 308.3h1M213.5 289.9h1M211.1 307.6h1M213.5 292.9h1M221.6 284.7h1M213.9 277.4h1M215.8 283.7h1M215.6 277.2h1M214.2 283.0h1M214.8 278.3h1M213.2 292.4h1M213.6 278.5h1M215.9 303.6h1M215.5 293.2h1M218.8 292.5h1M211.5 306.8h1M211.3 289.3h1M212.0 308.3h1M210.6 303.0h1M214.4 268.0h1M221.4 273.3h1M220.0 287.5h1M224.2 274.3h1M211.5 303.3h1M220.0 256.3h1M217.3 260.9h1M218.0 288.2h1M211.7 294.0h1M216.4 287.2h1M217.5 287.5h1M221.2 280.0h1M217.0 286.1h1M213.8 291.9h1M218.4 266.5h1M220.3 289.1h1M220.3 280.1h1M216.0 295.7h1M214.7 291.2h1M223.3 274.3h1M226.4 260.9h1M220.0 288.9h1M208.8 300.5h1M215.4 294.1h1M219.5 283.7h1M215.1 307.1h1M220.4 288.7h1M216.4 295.9h1M216.4 279.8h1M216.8 296.9h1M221.6 254.5h1M217.6 289.6h1M215.3 291.2h1M219.9 262.7h1M223.7 283.2h1M216.0 252.5h1M216.5 291.9h1M226.1 267.5h1M212.3 291.2h1M225.7 251.2h1M210.2 279.1h1M213.7 280.6h1M220.8 260.1h1M211.3 290.2h1M217.9 274.2h1M221.2 293.0h1M234.8 287.4h1M231.9 257.5h1M217.2 308.0h1M213.1 310.3h1M210.7 302.3h1M218.2 290.5h1M226.3 298.4h1M229.4 272.4h1M226.0 271.9h1M218.8 275.0h1M226.0 279.4h1M231.6 274.6h1M215.8 259.4h1M213.1 279.7h1M212.5 281.7h1M209.7 294.4h1M219.4 259.3h1M214.7 287.9h1M212.6 295.1h1M222.4 251.0h1M212.7 297.5h1M215.9 304.8h1M210.1 297.9h1M208.9 256.1h1M214.2 281.6h1M233.9 260.4h1M200.2 296.6h1M209.7 310.1h1M224.1 271.9h1M212.5 306.4h1M209.7 284.1h1M217.2 267.6h1M216.7 280.7h1M231.1 297.1h1M213.4 270.5h1M217.7 282.7h1M226.7 282.2h1M224.3 265.8h1M207.7 300.9h1M209.2 283.4h1M220.3 304.0h1M209.8 278.4h1M233.1 252.4h1M216.6 290.0h1M231.2 257.9h1M220.3 256.9h1M209.1 256.9h1M222.0 272.8h1M235.6 261.7h1M216.0 305.5h1M220.4 261.1h1M232.7 257.0h1M237.0 257.6h1M234.3 267.4h1M219.2 284.8h1M221.9 297.1h1M225.8 279.0h1M231.0 302.4h1M225.5 288.7h1M233.3 255.2h1M228.4 283.6h1M205.1 284.2h1M203.4 308.3h1M218.4 293.5h1M230.5 259.9h1M204.8 269.7h1M229.8 271.3h1M238.7 266.9h1M208.5 275.4h1M226.1 273.1h1M218.0 310.5h1M226.9 276.9h1M219.4 281.2h1M213.6 311.1h1M225.4 249.6h1M211.3 297.0h1M216.4 279.4h1M218.4 273.9h1M211.7 284.8h1M237.4 280.1h1M210.9 279.8h1M229.3 284.6h1M214.9 282.7h1M203.4 289.1h1M211.8 301.5h1M233.8 256.9h1M210.9 281.7h1M208.8 272.1h1M233.3 257.6h1M220.2 282.2h1M221.9 277.0h1M241.7 262.5h1M233.9 272.7h1M241.6 256.4h1M237.7 268.8h1M236.0 265.9h1M237.1 279.7h1M240.2 256.7h1M237.9 250.8h1M234.3 269.9h1M237.7 266.5h1M235.3 270.1h1M239.4 273.7h1M238.8 266.7h1M233.8 268.9h1M242.7 261.5h1M237.6 269.4h1M238.1 266.4h1M235.7 280.3h1M236.4 268.6h1M233.1 269.6h1M238.1 268.3h1M239.0 258.2h1M239.9 269.2h1M243.1 256.1h1M231.8 273.8h1M237.6 268.5h1M237.8 259.7h1M238.7 265.3h1M236.1 269.0h1M243.5 252.5h1M241.9 260.9h1M238.2 262.3h1M242.9 253.2h1M232.1 270.6h1M239.7 270.0h1M238.4 261.5h1M239.4 257.4h1M239.9 263.0h1M236.6 261.2h1M232.7 272.1h1M235.9 270.7h1M241.6 268.9h1M235.8 271.4h1M237.3 257.8h1M239.8 267.1h1M237.8 257.9h1M238.7 264.8h1M236.0 270.2h1M234.8 258.2h1M241.0 266.8h1M235.2 264.4h1M241.4 255.7h1M232.3 269.8h1M236.8 260.2h1M239.9 263.5h1M237.2 270.9h1M240.1 269.5h1M238.8 263.8h1M240.0 261.3h1M235.6 270.2h1M237.1 264.8h1M238.9 269.0h1M233.0 276.1h1M240.3 265.1h1M237.8 267.7h1M243.5 257.2h1M241.2 258.9h1M232.7 266.1h1M239.3 269.4h1M236.8 267.6h1M236.0 264.7h1M235.0 257.9h1M236.8 261.6h1M237.8 264.8h1M240.9 266.1h1M242.2 264.2h1M242.6 257.5h1M237.3 273.8h1M236.0 266.4h1M233.9 262.9h1M240.7 267.3h1M241.9 257.5h1M225.4 249.3h1M226.5 249.9h1M226.7 250.6h1M225.9 251.4h1M227.7 250.1h1M225.6 250.0h1M227.5 250.3h1M225.4 250.8h1M226.4 250.3h1M227.0 251.8h1" stroke="#000" stroke-width="1" stroke-opacity="0.22" fill="none"/>
<path d="M218.4 283.6h1M229.6 250.6h1M217.2 287.0h1M215.1 297.9h1M220.3 285.8h1M216.2 297.0h1M209.2 300.9h1M225.2 256.9h1M213.8 280.2h1M214.0 290.7h1M221.0 278.6h1M209.3 306.8h1M218.8 284.9h1M225.7 264.4h1M213.6 302.1h1M215.1 278.0h1M224.3 267.2h1M217.7 266.0h1M213.2 284.7h1M221.5 297.6h1M216.9 302.4h1M220.7 273.7h1M219.9 270.4h1M230.3 254.8h1M220.4 263.4h1M220.0 293.9h1M218.2 273.1h1M222.4 257.1h1M214.2 299.9h1M223.9 279.5h1M218.4 273.1h1M218.8 304.6h1M218.1 302.0h1M216.2 291.2h1M220.7 296.5h1M214.9 300.6h1M215.8 293.3h1M217.9 282.3h1M212.8 303.6h1M219.3 271.3h1M219.0 281.1h1M231.4 259.6h1M214.6 301.4h1M215.6 298.4h1M218.7 277.8h1M219.5 278.9h1M227.8 272.3h1M216.2 290.4h1M222.9 275.3h1M213.7 306.4h1M216.9 282.6h1M214.2 285.9h1M217.4 293.2h1M214.4 300.9h1M220.9 267.9h1M223.0 294.8h1M220.4 293.5h1M212.4 306.6h1M219.0 277.4h1M214.9 293.7h1M210.5 301.0h1M217.4 281.9h1M221.1 281.3h1M220.5 278.1h1M222.2 286.0h1M214.5 304.1h1M215.5 305.5h1M220.6 272.1h1M214.2 293.9h1M214.1 287.7h1M216.1 298.5h1M216.9 285.0h1M219.8 288.8h1M225.1 254.6h1M217.1 278.4h1M217.3 281.0h1M215.4 290.8h1M221.9 271.5h1M212.5 305.3h1M215.0 305.7h1M216.5 283.5h1M213.2 302.6h1M228.2 251.9h1M220.7 288.3h1M213.1 266.6h1M212.5 305.9h1M218.6 289.0h1M218.9 300.0h1M214.8 298.0h1M219.8 270.5h1M219.4 302.0h1M221.5 259.6h1M214.5 303.2h1M215.6 285.0h1M214.8 292.7h1M222.3 264.8h1M218.6 269.4h1M220.7 280.0h1M212.2 305.1h1M217.3 293.4h1M224.0 262.9h1M217.8 280.9h1M217.0 286.2h1M215.2 304.9h1M211.9 289.3h1M210.1 287.7h1M217.5 265.0h1M220.5 280.7h1M212.1 263.6h1M220.2 286.4h1M215.2 294.7h1M217.0 285.2h1M211.7 294.8h1M221.6 280.1h1M215.3 278.6h1M211.4 282.0h1M214.7 296.9h1M219.3 289.0h1M217.9 277.5h1M225.0 254.1h1M219.7 288.2h1M215.8 301.7h1M219.0 289.6h1M225.5 275.7h1M218.0 279.1h1M219.5 276.6h1M221.2 294.7h1M219.6 279.5h1M221.2 291.6h1M218.2 284.9h1M220.0 277.2h1M220.0 256.3h1M214.9 281.9h1M216.7 297.5h1M220.1 261.7h1M208.7 296.6h1M219.6 298.7h1M225.7 252.2h1M215.6 299.6h1M222.8 275.4h1M221.5 274.6h1M213.0 286.1h1M221.5 294.8h1M225.3 265.7h1M218.4 293.0h1M214.0 287.5h1M218.5 274.9h1M214.6 276.3h1M214.5 279.2h1M226.8 250.2h1M231.0 251.6h1M214.6 289.6h1M215.5 294.5h1M219.7 299.9h1M213.6 304.0h1M213.2 301.8h1M220.0 264.7h1M220.1 288.2h1M218.5 289.8h1M221.4 274.0h1M218.5 274.8h1M213.3 294.2h1M209.7 303.1h1M218.6 296.2h1M219.7 278.7h1M217.0 295.3h1M225.8 259.3h1M213.5 270.4h1M214.8 297.8h1M219.5 264.3h1M217.3 297.4h1M220.6 289.7h1M217.7 282.1h1M228.9 249.8h1M216.6 278.8h1M214.4 297.1h1M219.6 270.1h1M214.4 293.9h1M231.9 253.1h1M218.4 280.7h1M221.2 279.2h1M216.1 283.2h1M215.4 282.1h1M220.8 258.1h1M211.9 300.5h1M224.5 279.2h1M226.8 261.0h1M222.0 290.6h1M220.8 274.9h1M215.7 296.7h1M218.5 286.3h1M215.3 295.7h1M211.3 285.6h1M219.8 250.4h1M220.8 300.3h1M218.4 292.1h1M219.3 287.3h1M214.9 303.2h1M218.0 300.4h1M221.7 283.7h1M212.7 295.7h1M217.6 293.0h1M224.7 265.1h1M219.0 290.4h1M220.3 280.0h1M211.7 304.3h1M221.6 267.4h1M221.3 280.6h1M215.0 292.6h1M215.1 299.4h1M224.5 270.8h1M219.4 270.5h1M215.0 284.6h1M219.4 281.8h1M222.5 277.6h1M217.7 286.3h1M214.7 283.5h1M220.0 272.7h1M211.5 300.9h1M214.8 278.4h1M226.7 255.8h1M212.9 292.9h1M214.9 294.1h1M215.2 274.1h1M223.9 253.8h1M215.4 297.9h1M219.4 283.3h1M216.1 283.2h1M215.7 303.7h1M216.0 300.3h1M221.0 268.4h1M225.7 263.3h1M218.7 288.7h1M215.3 294.4h1M215.9 302.5h1M217.7 279.9h1M220.9 274.7h1M222.4 264.5h1M217.7 272.0h1M222.8 283.7h1M212.4 303.1h1M221.1 289.8h1M215.3 278.6h1M214.6 285.6h1M215.7 305.1h1M217.0 277.0h1M228.3 254.7h1M214.8 299.6h1M212.1 296.4h1M219.6 294.4h1M213.6 289.3h1M215.8 283.0h1M216.8 255.2h1M220.3 291.2h1M219.2 278.1h1M223.2 291.3h1M214.0 292.7h1M218.7 269.8h1M214.0 282.1h1M214.3 304.5h1M216.5 285.5h1M223.5 281.6h1M221.1 290.9h1M221.1 285.3h1M216.0 293.0h1M213.5 300.6h1M217.6 297.8h1M212.5 283.6h1M220.1 253.0h1M213.5 299.8h1M214.9 297.8h1M216.6 294.9h1M213.5 307.4h1M217.9 277.0h1M221.7 275.3h1M221.2 273.8h1M228.9 276.9h1M224.4 266.4h1M217.2 288.0h1M215.4 300.3h1M218.5 307.3h1M219.5 257.2h1M225.2 256.9h1M226.5 259.9h1M215.2 292.3h1M214.9 287.4h1M210.0 272.9h1M219.3 264.1h1M218.1 276.1h1M217.3 263.3h1M217.2 266.0h1M228.6 265.5h1M212.9 265.4h1M212.2 270.7h1M221.3 276.5h1M221.8 275.1h1M213.2 302.0h1M221.8 286.1h1M212.8 297.8h1M219.1 286.0h1M218.0 295.5h1M223.8 272.1h1M221.5 294.4h1M218.1 282.9h1M226.4 287.2h1M216.3 296.6h1M222.8 266.8h1M219.7 282.1h1M223.5 268.5h1M211.6 296.1h1M213.3 300.2h1M218.2 282.4h1M209.8 302.2h1M221.2 287.4h1M218.4 295.5h1M221.2 276.7h1M222.4 263.5h1M212.8 297.0h1M219.3 282.1h1M216.3 308.3h1M215.5 297.6h1M216.5 291.6h1M221.4 283.6h1M217.6 284.2h1M218.1 290.4h1M217.5 297.7h1M217.4 295.7h1M220.2 289.9h1M219.0 261.4h1M215.7 294.8h1M219.8 273.0h1M223.6 270.8h1M228.5 257.2h1M214.4 302.1h1M215.6 295.0h1M228.0 268.6h1M216.4 285.8h1M216.6 277.8h1M218.5 273.3h1M221.9 288.5h1M215.4 304.5h1M220.8 265.5h1M217.8 293.3h1M220.1 252.0h1M215.9 282.4h1M218.6 255.3h1M217.1 275.9h1M218.8 286.3h1M218.5 288.2h1M215.3 281.6h1M213.9 302.7h1M213.7 302.1h1M220.6 290.5h1M222.9 281.3h1M215.9 303.5h1M216.4 299.0h1M219.1 271.3h1M216.1 295.1h1M211.8 301.9h1M214.7 278.2h1M222.1 280.1h1M219.5 265.2h1M214.9 278.8h1M214.3 302.0h1M225.6 269.3h1M225.5 277.0h1M217.8 262.9h1M220.0 278.3h1M215.1 306.8h1M211.3 285.7h1M221.9 291.3h1M219.1 266.6h1M216.9 299.4h1M214.9 294.3h1M210.2 302.7h1M216.6 289.9h1M210.1 304.0h1M222.3 266.6h1M217.2 283.7h1M217.6 297.7h1M223.4 254.4h1M217.9 277.0h1M211.6 298.8h1M217.2 278.9h1M215.1 302.8h1M221.2 283.4h1M212.1 295.0h1M221.3 274.1h1M214.1 291.9h1M214.6 294.7h1M212.8 281.2h1M216.3 289.6h1M216.5 306.1h1M221.5 272.8h1M214.2 305.7h1M217.1 281.4h1M209.9 286.2h1M209.0 300.7h1M220.6 270.9h1M216.9 295.1h1M226.2 254.8h1M220.0 284.9h1M226.1 265.1h1M214.1 304.5h1M212.5 299.3h1M222.1 291.4h1M214.6 269.8h1M219.9 268.9h1M224.2 267.4h1M220.9 287.4h1M214.9 284.4h1M219.3 260.7h1M220.9 295.3h1M215.0 294.9h1M217.6 281.4h1M223.6 261.1h1M215.9 290.8h1M218.6 273.5h1M215.1 293.0h1M219.0 268.2h1M212.9 294.4h1M222.2 273.5h1M217.6 278.5h1M218.4 285.7h1M210.9 300.4h1M222.0 294.1h1M224.7 269.3h1M214.6 298.3h1M215.4 290.8h1M214.4 281.3h1M214.2 302.0h1M212.9 286.3h1M221.0 269.7h1M217.7 288.8h1M218.0 282.7h1M216.1 291.8h1M223.5 262.7h1M216.5 299.6h1M213.4 290.5h1M215.5 284.2h1M214.5 298.0h1M222.1 283.3h1M220.2 262.9h1M220.7 257.3h1M219.1 269.5h1M221.7 280.7h1M223.4 261.2h1M217.5 279.7h1M222.1 281.3h1M216.7 308.5h1M215.7 287.1h1M213.2 302.3h1M221.9 285.0h1M216.4 298.7h1M223.0 292.6h1M217.6 279.8h1M218.0 298.2h1M222.6 261.6h1M218.0 289.3h1M213.3 308.3h1M216.4 279.1h1M221.2 283.1h1M222.1 280.5h1M219.8 280.5h1M214.3 294.6h1M215.7 280.6h1M218.6 283.1h1M219.2 270.0h1M217.2 275.3h1M213.7 288.7h1M220.8 287.0h1M221.5 285.9h1M218.4 289.4h1M223.2 255.6h1M215.7 303.3h1M232.6 254.8h1M210.9 291.8h1M214.7 274.5h1M212.2 291.2h1M219.0 261.4h1M232.8 251.7h1M215.6 299.9h1M218.9 273.0h1M218.3 287.5h1M217.1 300.7h1M217.4 273.4h1M220.2 280.4h1M220.4 281.0h1M220.1 277.2h1M221.1 251.8h1M215.1 303.0h1M211.8 291.9h1M214.0 304.5h1M216.7 302.3h1M218.9 286.6h1M220.3 279.5h1M217.6 298.8h1M219.4 277.9h1M229.0 279.2h1M230.1 268.9h1M220.5 298.4h1M233.9 258.7h1M212.9 293.6h1M228.4 254.7h1M212.4 295.1h1M218.7 266.0h1M222.4 271.3h1M220.7 260.5h1M224.7 268.9h1M226.7 249.8h1M220.8 275.6h1M215.1 308.9h1M217.1 286.6h1M218.0 276.9h1M221.6 273.9h1M217.4 278.1h1M218.3 286.2h1M213.3 281.8h1M214.7 303.0h1M226.2 272.2h1M216.4 296.9h1M217.5 303.7h1M220.6 282.6h1M231.0 271.0h1M217.1 291.2h1M221.6 270.3h1M214.4 302.4h1M216.3 296.9h1M223.6 271.5h1M224.1 277.5h1M219.8 282.1h1M219.9 290.5h1M211.1 280.4h1M217.6 284.3h1M220.2 257.4h1M213.5 296.9h1M221.3 279.9h1M216.7 297.8h1M216.3 288.6h1M225.2 289.6h1M214.7 294.0h1M212.1 299.6h1M227.5 249.6h1M225.6 274.7h1M220.2 292.1h1M222.0 288.2h1M214.9 281.1h1M219.8 290.6h1M212.6 297.9h1M222.5 269.4h1M224.1 266.0h1M211.9 302.0h1M218.7 282.0h1M221.6 284.9h1M217.9 288.5h1M217.2 285.3h1M216.3 303.9h1M222.9 283.1h1M220.7 277.7h1M215.2 292.6h1M218.9 280.8h1M213.5 279.3h1M222.8 270.2h1M225.0 258.1h1M220.8 289.6h1M210.6 292.9h1M213.1 297.2h1M224.0 260.8h1M221.4 272.4h1M214.7 308.6h1M224.2 249.3h1M220.9 260.6h1M215.6 283.4h1M223.0 263.9h1M215.6 258.9h1M216.5 300.5h1M219.1 293.1h1M225.5 262.5h1M215.2 283.9h1M220.3 268.2h1M215.4 288.9h1M218.6 275.8h1M208.4 291.3h1M222.7 276.0h1M231.2 251.9h1M215.1 288.2h1M213.9 269.6h1M207.1 262.4h1M212.0 264.8h1M215.4 305.4h1M235.0 261.9h1M230.6 261.1h1M225.0 301.1h1M228.1 257.5h1M220.9 270.2h1M214.9 302.2h1M217.9 292.7h1M235.6 263.2h1M211.6 304.6h1M228.1 261.5h1M233.0 251.2h1M214.8 284.8h1M222.3 257.8h1M221.2 281.2h1M236.6 262.4h1M219.0 281.9h1M226.6 296.8h1M206.6 309.3h1M208.9 265.8h1M216.6 286.3h1M220.1 276.0h1M207.6 293.8h1M213.6 288.3h1M231.0 263.6h1M227.8 260.1h1M231.9 263.9h1M226.1 292.1h1M226.2 258.5h1M205.1 279.8h1M224.9 257.3h1M222.6 253.3h1M214.4 294.8h1M224.8 258.7h1M224.0 251.9h1M225.3 276.9h1M209.7 264.5h1M233.5 252.8h1M226.6 275.6h1M225.9 269.4h1M244.2 257.9h1M208.9 304.7h1M219.1 253.3h1M212.1 299.9h1M218.0 289.8h1M212.5 276.9h1M225.4 253.3h1M222.3 277.0h1M219.5 263.8h1M215.6 291.1h1M211.4 298.6h1M209.3 295.1h1M219.8 276.1h1M233.2 268.6h1M214.0 257.4h1M214.7 271.5h1M225.5 259.0h1M224.0 302.6h1M232.6 278.0h1M215.1 295.0h1M228.6 258.3h1M215.6 294.4h1M204.1 272.5h1M215.9 252.2h1M227.7 277.7h1M234.3 267.2h1M224.1 263.4h1M215.8 279.2h1M202.8 303.3h1M211.3 309.7h1M230.0 279.0h1M222.0 264.1h1M228.1 272.4h1M219.3 272.5h1M221.9 287.6h1M215.2 268.0h1M232.5 279.1h1M207.7 253.2h1M210.5 284.0h1M206.5 304.1h1M217.7 304.3h1M218.3 290.8h1M221.7 290.7h1M214.6 310.5h1M222.8 295.2h1M230.6 260.7h1M229.6 284.1h1M227.3 253.5h1M238.9 255.0h1M233.8 276.5h1M239.8 270.9h1M237.1 264.9h1M240.3 261.7h1M238.9 266.0h1M237.6 266.4h1M238.1 263.5h1M235.9 274.6h1M239.5 267.0h1M244.4 257.6h1M236.1 270.5h1M241.8 262.7h1M236.3 269.3h1M245.8 256.0h1M240.8 258.8h1M232.0 266.6h1M241.1 261.3h1M242.1 260.3h1M236.6 260.8h1M235.5 269.0h1M233.9 266.2h1M240.6 262.8h1M238.8 278.8h1M232.5 268.1h1M236.0 270.1h1M242.7 256.4h1M237.5 261.6h1M232.5 275.0h1M236.5 263.4h1M235.5 263.9h1M241.6 265.2h1M239.4 263.2h1M235.1 276.7h1M240.9 262.4h1M236.6 260.4h1M240.3 262.5h1M234.7 260.2h1M240.8 259.7h1M235.2 272.6h1M243.0 254.8h1M230.7 275.3h1M235.1 264.4h1M233.7 273.0h1M235.8 257.5h1M235.4 260.8h1M237.1 256.9h1M233.3 272.9h1M234.9 268.9h1M242.2 258.9h1M238.7 262.5h1M239.5 264.9h1M241.1 262.9h1M241.7 251.3h1M234.2 266.5h1M241.7 254.1h1M238.2 265.4h1M236.1 262.1h1M241.1 266.4h1M238.5 278.8h1M239.9 263.7h1M243.1 264.5h1M238.0 269.5h1M234.7 269.0h1M238.8 272.6h1M238.5 260.0h1M240.1 268.6h1M244.8 255.6h1M231.4 273.1h1M244.0 256.9h1M236.0 267.9h1M238.3 260.5h1M235.7 264.9h1M241.6 268.0h1M236.0 265.3h1M241.3 268.9h1M234.9 272.5h1M235.3 262.5h1M232.7 274.0h1M248.1 262.5h1M235.9 261.1h1M227.1 249.8h1M225.6 251.1h1M225.1 251.5h1M225.9 250.2h1M227.4 249.9h1M226.1 250.8h1M224.0 249.7h1M228.0 249.8h1M227.3 250.5h1M227.1 251.4h1M229.8 250.8h1" stroke="#000" stroke-width="1" stroke-opacity="0.22" fill="none"/>
<path d="M221.8 265.7h1M216.0 290.4h1M218.9 291.5h1M214.2 301.0h1M218.2 263.5h1M212.4 294.3h1M219.8 265.1h1M220.5 274.1h1M215.0 256.9h1M214.1 295.8h1M215.8 294.9h1M215.6 272.8h1M217.4 278.6h1M216.4 302.2h1M216.7 263.8h1M226.0 267.6h1M215.7 306.1h1M214.0 305.8h1M227.4 255.4h1M221.7 299.4h1M216.5 286.1h1M216.4 285.2h1M215.4 285.5h1M217.5 290.2h1M214.9 300.0h1M219.4 290.7h1M223.9 268.2h1M215.0 300.9h1M216.2 301.9h1M213.9 288.5h1M224.8 256.4h1M215.2 293.9h1M216.1 288.4h1M216.5 284.8h1M214.1 304.1h1M219.9 269.7h1M212.3 279.0h1M209.9 294.2h1M211.5 268.0h1M224.5 280.7h1M221.7 272.5h1M209.9 299.9h1M212.8 293.5h1M216.5 297.0h1M211.5 298.7h1M214.9 286.3h1M214.0 308.1h1M218.3 289.4h1M214.7 300.9h1M218.7 305.6h1M215.6 269.3h1M221.4 291.0h1M228.0 257.7h1M212.1 295.3h1M216.5 281.6h1M219.2 288.2h1M222.7 271.9h1M213.9 284.8h1M217.1 275.2h1M221.7 268.8h1M215.9 291.7h1M220.8 275.6h1M218.4 292.2h1M216.3 273.9h1M214.2 302.5h1M214.3 278.5h1M223.2 281.0h1M224.6 257.8h1M216.2 290.8h1M217.8 283.7h1M217.4 292.1h1M222.4 273.4h1M221.3 278.3h1M211.7 305.3h1M216.1 287.6h1M226.2 267.1h1M224.1 281.8h1M216.8 289.6h1M219.4 281.9h1M215.9 279.3h1M217.7 295.5h1M220.5 258.5h1M219.0 285.1h1M211.9 296.7h1M213.8 302.7h1M217.4 293.4h1M218.3 296.8h1M215.4 302.4h1M216.5 298.1h1M217.5 278.6h1M221.7 281.0h1M214.7 294.3h1M218.9 283.7h1M219.6 277.6h1M214.1 305.9h1M213.3 302.9h1M225.1 259.6h1M217.0 279.1h1M218.6 280.3h1M220.4 289.3h1M222.7 255.5h1M221.8 297.2h1M215.6 305.8h1M216.9 305.9h1M215.6 295.7h1M210.1 287.0h1M226.4 266.4h1M214.6 302.0h1M211.2 284.2h1M217.2 293.8h1M219.6 295.7h1M216.8 289.9h1M219.4 298.0h1M222.9 265.0h1M212.7 280.5h1M217.5 294.2h1M218.6 290.7h1M218.3 284.9h1M232.0 257.8h1M213.5 270.4h1M222.1 278.1h1M222.5 268.8h1M214.9 303.7h1M222.1 277.3h1M223.8 277.3h1M223.5 249.6h1M218.0 285.5h1M211.7 301.4h1M217.4 303.5h1M224.2 272.5h1M223.5 296.4h1M213.2 293.0h1M224.7 266.8h1M216.0 287.5h1M217.1 271.1h1M218.4 279.8h1M216.8 284.9h1M220.8 290.0h1M210.7 277.2h1M218.7 300.8h1M215.4 289.6h1M214.2 269.8h1M215.6 307.0h1M218.9 282.7h1M220.8 265.1h1M220.3 287.6h1M216.9 296.9h1M219.3 276.8h1M231.2 250.7h1M216.0 286.1h1M214.8 300.3h1M220.3 296.2h1M220.5 298.0h1M212.1 303.8h1M221.2 257.8h1M220.7 300.5h1M219.5 280.9h1M228.0 256.6h1M225.1 259.1h1M214.6 296.4h1M216.2 270.6h1M228.8 262.0h1M215.0 295.7h1M223.6 273.8h1M214.3 292.0h1M216.9 290.0h1M216.7 290.7h1M218.2 275.9h1M219.8 266.3h1M216.6 276.0h1M221.0 270.3h1M217.6 295.6h1M221.6 261.3h1M210.6 298.0h1M213.2 289.1h1M218.8 301.6h1M212.5 300.0h1M213.0 308.5h1M210.5 301.6h1M222.0 274.1h1M227.7 265.8h1M218.6 254.8h1M217.4 297.3h1M213.8 300.1h1M217.2 290.9h1M218.1 293.5h1M218.0 273.0h1M216.1 284.8h1M223.9 268.8h1M210.6 305.0h1M217.0 291.4h1M220.4 273.5h1M216.0 300.3h1M220.5 275.2h1M214.2 308.1h1M216.1 301.4h1M220.1 270.8h1M219.3 289.4h1M221.1 260.8h1M212.3 300.6h1M219.4 279.7h1M224.3 288.1h1M219.8 269.9h1M216.8 286.7h1M216.8 301.2h1M217.8 276.2h1M221.6 283.3h1M212.1 308.0h1M211.6 287.3h1M215.2 294.8h1M215.0 287.2h1M226.9 260.8h1M218.2 294.9h1M214.0 294.7h1M224.1 280.5h1M214.2 308.5h1M221.9 277.4h1M215.5 296.0h1M212.3 294.2h1M211.9 303.1h1M222.1 269.4h1M219.3 290.2h1M212.9 300.1h1M218.0 282.7h1M212.6 294.5h1M216.9 294.5h1M217.3 271.2h1M216.8 287.0h1M221.5 259.9h1M211.5 300.3h1M216.4 291.2h1M215.5 307.2h1M229.5 257.2h1M215.9 296.3h1M222.1 281.4h1M216.5 274.4h1M213.2 296.7h1M214.7 295.6h1M228.9 253.7h1M219.4 287.0h1M210.9 298.9h1M221.2 278.0h1M212.9 286.1h1M223.0 283.0h1M213.8 297.9h1M217.7 268.6h1M222.1 278.6h1M225.7 279.8h1M217.5 289.7h1M220.9 282.6h1M213.9 303.1h1M219.2 289.2h1M221.2 270.7h1M213.2 283.3h1M218.7 286.7h1M222.6 277.6h1M211.9 273.1h1M216.7 308.9h1M222.1 282.0h1M223.4 274.9h1M217.2 297.0h1M219.6 282.5h1M219.1 290.7h1M220.7 286.8h1M216.8 297.8h1M215.4 298.0h1M219.5 272.8h1M219.2 284.2h1M216.0 295.7h1M218.1 296.9h1M224.5 274.8h1M214.6 283.6h1M216.5 263.0h1M216.5 258.7h1M214.3 302.6h1M217.6 281.0h1M214.7 268.3h1M216.5 290.8h1M224.5 283.8h1M214.9 288.1h1M217.4 294.7h1M209.3 303.8h1M224.0 249.8h1M213.2 302.1h1M215.2 299.6h1M219.4 290.1h1M214.6 294.7h1M214.5 296.9h1M216.8 294.8h1M221.8 280.9h1M217.3 287.4h1M219.2 271.9h1M221.3 276.2h1M223.8 266.5h1M216.6 301.1h1M218.1 280.7h1M217.9 299.5h1M214.4 302.2h1M213.7 304.7h1M214.1 293.3h1M217.7 282.0h1M218.3 283.6h1M221.4 281.3h1M220.9 281.6h1M225.9 251.0h1M216.9 289.0h1M214.9 302.2h1M215.8 303.4h1M225.3 269.3h1M225.3 275.9h1M223.6 263.3h1M218.7 290.5h1M214.7 282.5h1M225.3 249.6h1M217.8 305.0h1M219.9 276.1h1M229.2 275.9h1M215.4 292.9h1M215.3 291.3h1M221.5 279.1h1M215.8 293.2h1M213.4 286.9h1M224.7 283.2h1M216.5 287.2h1M213.9 294.0h1M222.4 287.4h1M219.4 286.7h1M213.8 278.2h1M210.6 282.4h1M221.4 295.6h1M225.1 265.2h1M227.0 262.6h1M221.5 266.0h1M216.6 266.5h1M215.9 293.9h1M215.2 289.3h1M214.6 261.4h1M225.6 266.8h1M218.9 283.7h1M221.4 252.6h1M219.7 291.2h1M217.4 281.9h1M226.7 257.0h1M213.0 306.3h1M225.2 273.7h1M221.5 272.7h1M212.6 286.8h1M216.5 294.0h1M216.1 290.8h1M216.2 298.2h1M210.8 298.9h1M221.7 266.1h1M217.5 305.0h1M213.4 290.9h1M213.5 304.7h1M221.0 278.5h1M221.0 266.4h1M221.0 273.3h1M218.4 266.3h1M224.5 266.3h1M226.4 262.2h1M214.0 295.8h1M218.1 278.9h1M230.0 255.9h1M217.1 269.6h1M215.7 281.9h1M216.5 271.8h1M214.8 260.9h1M216.8 307.3h1M218.5 301.5h1M222.8 257.6h1M212.7 298.1h1M213.6 269.3h1M207.4 304.5h1M222.5 280.4h1M212.8 280.1h1M222.4 272.8h1M218.2 265.6h1M223.1 272.7h1M216.7 283.3h1M217.9 298.7h1M219.3 302.7h1M219.7 276.0h1M212.8 297.0h1M215.5 285.8h1M218.3 284.5h1M221.7 265.7h1M220.5 270.4h1M218.3 258.2h1M217.7 296.2h1M215.7 302.4h1M217.7 284.1h1M212.5 278.2h1M226.2 253.7h1M218.2 288.3h1M220.7 275.7h1M215.8 291.3h1M215.2 288.7h1M215.1 281.3h1M212.0 305.4h1M213.1 293.4h1M216.2 280.8h1M224.7 274.6h1M211.1 306.4h1M215.7 303.1h1M211.1 301.1h1M214.5 278.7h1M214.3 289.9h1M220.4 272.6h1M217.5 299.1h1M216.3 304.2h1M227.0 262.3h1M217.0 281.1h1M225.6 258.6h1M218.8 281.2h1M216.3 285.5h1M216.1 299.7h1M214.6 287.2h1M216.4 299.2h1M215.0 283.4h1M216.1 301.0h1M221.1 250.5h1M216.1 298.9h1M214.0 291.5h1M211.2 284.6h1M217.9 300.6h1M223.3 260.6h1M219.2 296.6h1M215.2 290.2h1M222.5 273.5h1M216.2 267.2h1M211.3 301.8h1M210.4 294.4h1M222.2 277.8h1M228.2 251.3h1M212.9 300.5h1M217.6 288.5h1M226.8 262.3h1M218.2 258.7h1M220.0 289.8h1M216.1 284.8h1M215.0 283.0h1M223.3 287.2h1M218.2 263.7h1M221.2 270.0h1M220.2 298.8h1M220.0 255.4h1M217.2 290.4h1M219.7 271.7h1M214.2 273.0h1M222.2 279.3h1M219.9 277.8h1M211.0 293.8h1M218.0 291.7h1M213.3 308.2h1M217.3 301.6h1M219.3 275.4h1M225.7 257.1h1M221.6 286.2h1M217.1 294.7h1M212.4 299.7h1M227.3 274.6h1M214.9 277.2h1M218.8 264.5h1M216.7 270.6h1M211.5 298.5h1M213.8 298.9h1M220.3 287.0h1M226.3 259.2h1M221.8 257.9h1M216.9 294.8h1M213.5 296.8h1M215.2 296.5h1M215.5 292.9h1M221.2 281.3h1M218.3 283.5h1M213.6 296.0h1M214.4 298.5h1M222.5 258.3h1M220.5 290.2h1M212.6 291.0h1M222.8 277.8h1M229.2 259.1h1M214.8 288.8h1M222.7 277.5h1M216.3 297.4h1M223.4 269.4h1M216.0 291.9h1M215.5 296.6h1M219.5 257.3h1M214.7 276.4h1M217.9 294.8h1M221.9 278.5h1M219.9 281.3h1M216.6 282.6h1M215.1 290.9h1M216.6 295.0h1M218.7 288.1h1M213.8 308.7h1M217.9 305.1h1M218.2 291.6h1M213.7 297.8h1M218.7 296.8h1M218.5 260.7h1M217.4 284.5h1M219.9 267.5h1M215.7 292.1h1M213.3 304.5h1M213.6 296.8h1M217.9 283.4h1M220.9 257.7h1M214.9 296.3h1M221.0 254.7h1M224.2 267.3h1M215.6 297.5h1M211.1 308.3h1M217.9 296.2h1M224.9 262.8h1M213.0 276.1h1M225.5 272.3h1M216.8 276.3h1M224.9 287.7h1M215.1 277.5h1M216.7 295.7h1M216.3 267.6h1M229.0 250.8h1M218.6 293.0h1M217.3 271.3h1M211.9 283.9h1M218.4 276.3h1M221.3 250.9h1M216.6 288.4h1M215.5 278.9h1M217.9 292.3h1M215.6 303.6h1M213.9 294.4h1M223.3 274.9h1M213.5 300.0h1M215.9 281.0h1M217.2 284.3h1M211.3 295.0h1M218.7 280.3h1M217.9 286.6h1M212.5 299.1h1M225.0 261.5h1M212.9 286.9h1M219.0 281.0h1M218.2 274.8h1M218.7 267.1h1M212.2 301.7h1M211.5 295.8h1M217.0 302.3h1M216.5 271.1h1M215.6 300.5h1M211.8 269.7h1M214.3 286.9h1M214.4 303.7h1M215.4 302.1h1M216.1 292.9h1M218.1 291.9h1M214.9 300.0h1M217.0 299.9h1M214.2 302.3h1M216.6 297.0h1M217.4 293.9h1M226.4 254.5h1M211.9 279.3h1M211.3 285.4h1M221.2 285.0h1M216.4 294.3h1M220.7 272.7h1M216.7 296.3h1M218.5 278.1h1M216.5 297.5h1M205.7 298.7h1M221.7 265.9h1M219.6 250.3h1M205.0 309.4h1M217.1 252.0h1M212.1 294.1h1M215.1 306.0h1M230.5 257.5h1M243.3 263.4h1M219.1 274.4h1M212.3 300.5h1M219.2 272.6h1M211.3 288.5h1M224.0 286.8h1M220.9 272.0h1M229.4 271.3h1M226.1 259.6h1M213.9 301.6h1M212.2 291.4h1M234.5 253.2h1M221.4 257.2h1M230.7 278.7h1M216.4 267.7h1M212.7 273.9h1M222.2 288.5h1M212.9 265.1h1M212.6 312.0h1M230.5 281.2h1M221.8 307.2h1M217.6 278.1h1M229.7 271.3h1M209.6 295.7h1M218.9 296.3h1M230.5 280.8h1M216.9 298.5h1M232.3 252.9h1M209.9 287.4h1M219.6 251.5h1M211.4 305.2h1M226.7 261.4h1M227.7 276.6h1M212.3 306.6h1M221.6 303.4h1M229.2 254.7h1M208.5 308.6h1M210.0 303.0h1M221.3 253.9h1M211.9 295.4h1M222.0 285.5h1M227.0 262.2h1M218.4 269.1h1M216.1 294.5h1M228.6 269.4h1M227.2 250.3h1M209.6 276.5h1M217.5 291.4h1M215.5 305.4h1M229.1 250.7h1M232.8 264.3h1M205.3 290.8h1M216.2 283.9h1M210.8 303.1h1M214.8 281.3h1M228.2 263.6h1M216.2 280.2h1M223.1 259.1h1M219.4 299.1h1M215.7 265.9h1M219.4 286.5h1M223.1 262.0h1M216.9 299.6h1M216.1 265.5h1M212.9 259.2h1M222.5 282.4h1M210.5 306.2h1M210.5 296.1h1M213.2 303.7h1M217.5 280.7h1M214.0 299.0h1M214.9 273.4h1M223.4 270.1h1M223.7 294.2h1M201.0 283.9h1M214.9 279.4h1M214.7 278.3h1M221.7 285.5h1M215.3 271.4h1M222.5 253.4h1M216.5 300.3h1M223.9 295.0h1M217.0 286.7h1M212.8 267.8h1M218.4 297.3h1M221.0 277.5h1M220.6 270.8h1M221.7 299.7h1M215.8 279.3h1M233.1 251.4h1M214.4 303.6h1M210.7 282.8h1M222.5 256.3h1M222.1 302.2h1M224.2 295.5h1M240.1 267.1h1M243.7 257.9h1M241.4 267.2h1M234.9 269.1h1M241.8 263.7h1M238.3 253.0h1M242.4 260.5h1M235.9 267.1h1M238.5 268.8h1M238.4 269.0h1M238.0 274.0h1M237.1 264.7h1M241.4 253.5h1M241.6 257.4h1M239.3 259.9h1M239.2 266.9h1M240.9 258.3h1M237.3 254.6h1M238.7 270.5h1M234.2 273.0h1M238.2 259.7h1M234.2 272.6h1M233.5 278.8h1M248.2 253.7h1M237.2 276.0h1M238.6 271.3h1M234.7 275.7h1M238.4 271.9h1M238.9 269.7h1M235.9 260.5h1M240.9 257.4h1M242.2 255.5h1M240.7 257.1h1M238.2 258.6h1M236.6 265.7h1M232.5 269.1h1M246.8 256.4h1M240.9 257.3h1M233.7 275.8h1M239.6 257.9h1M234.3 277.6h1M233.7 271.1h1M231.3 268.2h1M238.2 268.5h1M243.3 257.9h1M247.9 259.3h1M237.8 259.3h1M236.9 264.9h1M238.6 266.8h1M243.0 259.7h1M233.6 271.0h1M237.8 261.8h1M239.2 250.8h1M237.0 262.8h1M238.5 265.1h1M232.3 271.2h1M238.9 269.5h1M234.8 268.2h1M237.6 261.9h1M235.4 273.2h1M236.6 267.2h1M239.5 274.1h1M236.1 267.3h1M238.3 272.4h1M239.7 268.6h1M235.9 263.4h1M234.9 265.9h1M235.3 269.2h1M235.9 259.6h1M237.6 267.8h1M237.3 261.2h1M235.8 258.4h1M232.9 274.0h1M241.2 270.2h1M233.7 260.9h1M240.4 263.5h1M235.5 264.9h1M241.3 263.1h1M247.8 249.8h1M235.6 268.2h1M239.4 258.5h1M225.3 249.6h1M226.6 251.9h1M227.3 250.6h1M222.5 251.2h1M223.8 251.5h1M223.8 251.7h1M223.8 250.5h1M225.6 249.3h1M224.5 250.8h1M225.4 250.8h1" stroke="#000" stroke-width="1" stroke-opacity="0.22" fill="none"/>
<path d="M215.3 299.6h1M216.4 285.7h1M220.5 262.3h1M226.7 258.9h1M220.5 278.6h1M218.1 282.1h1M220.9 258.9h1M225.4 270.7h1M218.9 293.9h1M217.6 287.3h1M214.3 273.8h1M215.2 303.0h1M220.7 271.1h1M220.0 275.6h1M224.8 257.3h1M208.5 266.5h1M212.7 308.1h1M212.1 296.6h1M216.1 274.9h1M214.2 302.3h1M222.1 291.4h1M221.4 280.4h1M209.2 303.4h1M222.4 249.3h1M221.0 271.9h1M216.6 283.3h1M212.2 291.4h1M216.4 297.3h1M216.6 296.8h1M215.7 283.8h1M219.6 287.3h1M219.7 266.3h1M221.5 270.6h1M217.6 299.6h1M222.3 276.3h1M226.0 255.0h1M218.5 269.2h1M215.0 281.8h1M211.3 261.9h1M221.3 276.6h1M213.4 262.5h1M223.2 274.5h1M214.6 294.4h1M213.3 305.1h1M209.2 289.9h1M219.2 293.6h1M210.9 306.1h1M220.4 294.7h1M217.5 281.8h1M217.0 295.2h1M212.7 296.9h1M219.2 276.6h1M223.6 277.8h1M218.1 284.9h1M212.3 280.9h1M224.4 263.0h1M216.0 280.8h1M225.6 256.2h1M215.0 290.8h1M211.7 294.1h1M212.7 301.5h1M222.1 298.9h1M214.5 305.0h1M217.0 279.6h1M217.1 292.2h1M225.4 261.3h1M216.6 301.8h1M219.6 288.3h1M216.9 290.7h1M222.5 282.4h1M220.7 279.6h1M221.9 252.1h1M220.7 280.6h1M214.9 290.7h1M218.9 306.1h1M221.0 290.8h1M218.4 266.9h1M216.6 292.8h1M217.2 297.2h1M223.8 259.5h1M216.3 293.5h1M225.0 274.0h1M218.0 277.9h1M214.6 304.2h1M226.5 268.7h1M221.8 251.2h1M215.5 280.5h1M219.6 275.7h1M222.3 270.6h1M221.1 265.5h1M211.1 306.7h1M220.5 279.1h1M219.5 291.9h1M223.5 270.7h1M216.5 278.5h1M216.6 296.4h1M216.3 275.9h1M216.8 284.6h1M218.4 274.3h1M217.0 290.8h1M228.3 257.0h1M220.6 270.8h1M215.5 290.3h1M214.9 274.6h1M219.4 303.5h1M219.9 285.6h1M218.9 277.8h1M215.4 268.7h1M229.8 270.5h1M228.9 258.6h1M215.4 306.1h1M218.9 291.8h1M221.2 262.4h1M227.1 253.0h1M225.8 272.3h1M220.6 291.9h1M226.4 260.5h1M218.4 300.6h1M222.6 291.0h1M217.8 268.8h1M219.0 287.7h1M219.2 292.5h1M219.2 266.1h1M215.1 283.5h1M220.3 291.7h1M218.2 292.6h1M219.8 249.4h1M208.5 293.4h1M215.7 268.5h1M216.9 290.2h1M222.6 268.6h1M218.9 256.6h1M215.0 308.9h1M218.7 281.2h1M215.1 297.0h1M216.9 293.3h1M227.4 258.2h1M213.1 303.1h1M213.5 290.1h1M220.6 255.2h1M211.5 289.6h1M216.9 285.5h1M217.8 301.9h1M215.4 297.2h1M219.6 297.2h1M212.8 287.6h1M217.3 297.0h1M217.3 281.6h1M221.0 278.0h1M219.2 288.6h1M215.7 292.8h1M219.1 268.7h1M216.4 277.3h1M219.3 273.1h1M227.3 269.7h1M216.9 278.5h1M222.1 265.5h1M212.3 294.1h1M218.8 264.9h1M219.3 280.6h1M222.7 276.9h1M211.9 296.6h1M224.5 250.9h1M218.7 264.7h1M219.9 267.0h1M214.1 272.9h1M218.4 285.7h1M215.8 287.6h1M210.4 298.3h1M221.5 293.0h1M216.3 288.6h1M217.0 281.6h1M223.5 250.9h1M215.1 294.0h1M219.0 288.1h1M217.5 287.5h1M211.5 290.6h1M232.4 263.6h1M217.6 292.0h1M217.0 292.3h1M223.9 287.9h1M216.2 284.7h1M222.5 283.7h1M220.5 286.6h1M218.0 282.5h1M215.7 285.2h1M213.9 287.5h1M225.9 250.7h1M218.4 271.9h1M216.7 286.5h1M219.0 287.6h1M213.8 307.0h1M222.0 274.0h1M223.3 287.3h1M210.6 306.6h1M222.0 267.2h1M217.1 269.1h1M212.0 304.4h1M220.2 283.7h1M218.6 270.4h1M226.5 254.7h1M223.1 275.0h1M219.8 259.8h1M220.0 278.8h1M215.3 284.3h1M220.8 285.4h1M213.8 295.8h1M217.9 294.5h1M212.5 290.9h1M217.4 283.8h1M214.9 299.5h1M220.8 290.5h1M226.9 269.6h1M217.2 286.6h1M210.8 279.9h1M219.9 285.8h1M224.3 277.9h1M210.3 294.8h1M214.7 280.5h1M218.5 272.9h1M219.5 276.0h1M212.8 293.1h1M222.7 291.9h1M229.3 258.5h1M216.5 303.6h1M213.7 300.8h1M218.4 291.5h1M219.3 282.8h1M214.1 289.6h1M217.5 264.9h1M219.0 265.3h1M219.4 299.0h1M222.7 280.5h1M221.9 279.7h1M213.6 300.0h1M228.7 268.3h1M216.6 282.8h1M221.7 277.2h1M219.9 273.3h1M218.4 294.4h1M219.5 281.6h1M213.6 302.3h1M219.8 287.5h1M213.9 303.4h1M217.1 287.1h1M212.5 293.4h1M226.4 253.9h1M215.0 289.5h1M227.1 257.9h1M218.4 284.2h1M222.2 271.7h1M222.2 262.3h1M214.2 294.6h1M220.2 281.3h1M222.1 272.9h1M221.2 300.2h1M217.8 287.8h1M219.5 293.9h1M223.8 280.0h1M210.9 282.3h1M219.5 296.3h1M222.0 256.2h1M213.7 290.5h1M215.4 296.3h1M211.4 303.9h1M216.4 296.5h1M215.3 306.7h1M221.6 254.5h1M219.6 292.1h1M219.3 277.0h1M212.2 285.2h1M226.5 260.5h1M218.4 269.7h1M219.5 274.6h1M214.8 295.4h1M217.4 285.1h1M214.0 298.1h1M220.8 279.3h1M221.6 286.1h1M218.1 268.9h1M215.6 282.2h1M221.8 267.0h1M211.5 306.1h1M218.7 281.2h1M222.6 270.5h1M220.7 300.1h1M225.9 267.9h1M213.2 303.7h1M222.1 277.4h1M216.5 283.7h1M216.7 289.1h1M219.3 276.3h1M214.8 308.6h1M212.2 295.1h1M213.6 286.2h1M211.1 297.6h1M212.4 296.5h1M215.2 296.4h1M214.8 290.2h1M216.6 306.3h1M217.9 288.7h1M217.1 294.4h1M214.2 304.5h1M218.2 286.4h1M210.6 299.1h1M218.4 287.6h1M217.3 292.7h1M215.4 258.4h1M218.3 289.5h1M213.6 283.2h1M212.6 301.7h1M215.0 300.8h1M221.2 268.2h1M217.7 297.8h1M213.0 292.9h1M228.1 271.7h1M216.8 283.7h1M218.4 286.8h1M214.1 296.7h1M219.1 278.1h1M225.8 271.1h1M228.8 269.0h1M213.4 301.6h1M222.4 262.5h1M214.2 275.7h1M218.3 281.0h1M216.4 282.7h1M224.3 270.7h1M223.1 269.6h1M218.0 290.9h1M216.4 292.9h1M220.0 281.8h1M224.1 271.4h1M216.9 289.6h1M218.5 255.4h1M213.2 283.0h1M214.1 297.8h1M212.1 300.4h1M216.9 294.9h1M209.5 303.9h1M216.9 298.5h1M215.2 289.4h1M210.7 274.1h1M222.6 268.6h1M211.5 281.4h1M216.0 306.1h1M213.5 283.5h1M212.8 282.8h1M215.9 283.2h1M221.1 272.3h1M216.5 293.6h1M221.0 291.8h1M213.6 292.7h1M227.0 254.7h1M226.6 267.0h1M213.8 300.7h1M214.5 295.4h1M219.5 274.5h1M215.7 294.2h1M216.1 288.6h1M217.8 272.8h1M213.7 294.1h1M217.8 272.8h1M216.4 297.8h1M212.4 301.2h1M226.5 258.7h1M223.4 259.5h1M216.3 303.8h1M221.0 269.2h1M221.3 281.4h1M217.3 287.3h1M210.8 301.2h1M217.2 301.6h1M213.3 303.8h1M218.0 288.8h1M215.4 285.8h1M213.2 293.9h1M217.4 298.0h1M211.8 308.0h1M215.5 279.7h1M215.5 291.9h1M213.7 304.4h1M218.1 277.3h1M217.0 290.4h1M214.6 300.6h1M225.0 282.6h1M226.4 263.3h1M225.6 268.5h1M212.0 291.3h1M223.3 257.1h1M222.6 268.3h1M217.1 285.4h1M216.8 304.4h1M218.3 278.8h1M224.3 288.9h1M213.1 296.3h1M227.4 271.5h1M218.2 295.2h1M213.9 306.6h1M219.1 272.3h1M216.4 278.9h1M215.5 301.2h1M217.2 266.2h1M218.5 299.3h1M211.7 301.5h1M220.1 258.3h1M216.2 275.0h1M221.9 287.6h1M217.6 292.1h1M222.9 256.0h1M219.3 280.6h1M217.5 275.8h1M218.1 292.9h1M214.6 304.8h1M219.7 282.8h1M222.0 276.7h1M210.6 294.9h1M220.4 276.0h1M216.4 279.4h1M214.3 268.7h1M222.5 257.4h1M216.8 282.2h1M221.6 294.8h1M219.2 300.3h1M212.7 293.7h1M213.4 266.0h1M221.4 262.3h1M216.3 294.4h1M214.3 266.4h1M212.6 284.4h1M214.1 300.4h1M215.8 283.6h1M217.0 292.6h1M212.9 265.9h1M220.6 265.9h1M218.8 294.5h1M219.9 285.1h1M209.9 301.4h1M215.0 304.0h1M213.3 301.5h1M212.9 298.8h1M217.7 271.9h1M218.6 274.6h1M219.2 277.5h1M216.2 296.2h1M218.6 298.2h1M220.2 260.9h1M219.7 283.7h1M213.7 295.9h1M216.4 285.8h1M228.4 272.3h1M219.9 288.0h1M214.3 303.2h1M211.7 299.4h1M222.7 270.5h1M224.8 278.2h1M218.5 261.7h1M217.8 282.1h1M223.0 272.1h1M220.9 274.8h1M214.2 285.3h1M207.5 263.4h1M214.2 307.6h1M214.6 301.6h1M216.6 288.1h1M223.7 265.0h1M224.4 275.7h1M214.3 268.4h1M223.4 256.8h1M220.3 277.5h1M222.3 264.5h1M214.1 271.3h1M214.7 296.7h1M216.3 292.4h1M222.5 259.5h1M215.3 301.3h1M213.1 284.6h1M222.6 269.7h1M223.2 273.0h1M218.0 302.3h1M217.1 304.0h1M213.9 270.1h1M211.0 293.7h1M223.4 277.8h1M212.5 296.5h1M219.6 274.1h1M219.8 289.7h1M216.2 299.4h1M220.5 278.1h1M218.8 273.1h1M209.3 260.0h1M221.9 268.7h1M223.4 279.7h1M225.7 284.3h1M229.3 273.4h1M212.6 307.2h1M217.8 287.1h1M220.8 298.3h1M213.0 270.4h1M228.0 260.5h1M213.8 292.8h1M213.3 276.2h1M213.5 293.0h1M221.8 271.1h1M219.2 270.0h1M217.1 283.2h1M213.6 305.2h1M219.8 281.4h1M226.1 267.1h1M225.7 259.0h1M222.5 283.8h1M219.9 283.9h1M223.3 281.9h1M211.7 305.5h1M214.7 300.6h1M222.9 269.3h1M217.0 292.0h1M219.9 283.3h1M220.7 283.7h1M213.1 294.5h1M220.9 283.0h1M214.6 270.2h1M219.6 285.7h1M210.0 297.6h1M218.2 283.4h1M217.0 305.6h1M213.6 298.6h1M217.5 289.2h1M220.9 259.0h1M216.7 264.1h1M215.8 306.5h1M218.6 270.5h1M214.6 307.2h1M218.9 288.7h1M215.8 304.5h1M223.1 280.5h1M214.7 289.5h1M213.6 307.7h1M215.5 304.6h1M213.3 299.2h1M211.9 305.6h1M229.7 251.8h1M215.6 268.9h1M222.6 270.1h1M217.6 261.4h1M219.9 275.8h1M213.9 304.9h1M216.2 286.7h1M221.2 270.5h1M213.1 299.7h1M210.5 301.4h1M218.1 282.4h1M222.6 281.7h1M218.7 309.7h1M213.6 302.3h1M228.4 253.9h1M217.0 297.6h1M218.6 263.7h1M218.7 298.2h1M222.6 273.5h1M226.4 265.2h1M225.1 271.4h1M218.7 291.5h1M214.2 293.7h1M217.1 283.0h1M213.2 307.2h1M218.0 272.7h1M216.8 304.5h1M219.2 288.0h1M225.5 276.7h1M214.3 280.4h1M219.3 292.4h1M210.8 293.9h1M226.3 275.4h1M224.5 263.1h1M229.7 263.9h1M206.7 290.7h1M218.2 258.5h1M207.2 289.8h1M216.7 253.5h1M219.3 302.0h1M230.0 264.8h1M215.8 308.2h1M220.5 271.6h1M228.5 271.1h1M217.2 290.9h1M217.5 293.6h1M214.1 278.3h1M210.0 285.3h1M222.9 304.5h1M210.0 278.4h1M236.6 255.1h1M215.7 302.7h1M224.4 265.0h1M236.6 252.5h1M238.4 281.5h1M226.2 263.3h1M204.5 300.5h1M217.3 288.7h1M216.8 276.1h1M214.1 278.3h1M220.0 275.4h1M208.7 292.3h1M229.2 281.2h1M221.6 298.3h1M222.5 309.2h1M225.5 284.1h1M206.9 305.3h1M211.9 307.6h1M215.3 296.0h1M222.6 291.2h1M229.0 262.4h1M213.2 311.1h1M205.9 305.6h1M222.2 250.4h1M210.9 268.2h1M219.8 288.7h1M214.4 307.6h1M231.7 278.0h1M213.8 307.9h1M210.2 310.4h1M224.8 283.5h1M211.4 294.3h1M226.0 283.4h1M214.3 291.6h1M219.4 254.0h1M220.9 298.6h1M227.1 277.4h1M227.3 283.2h1M205.5 266.5h1M226.4 272.9h1M222.3 275.7h1M219.1 264.0h1M221.1 306.2h1M226.4 250.7h1M223.6 262.9h1M222.3 259.7h1M213.3 267.6h1M215.0 305.7h1M220.5 311.6h1M217.1 251.1h1M219.6 260.3h1M206.9 296.2h1M226.2 260.1h1M207.6 282.2h1M235.1 264.1h1M215.0 308.7h1M216.6 289.1h1M214.9 282.4h1M223.4 263.3h1M219.1 286.9h1M223.5 264.2h1M211.8 277.9h1M226.9 273.7h1M219.7 261.8h1M229.6 263.7h1M213.4 289.9h1M232.2 252.5h1M219.0 269.8h1M211.6 283.1h1M220.0 274.1h1M229.6 260.4h1M217.0 278.9h1M208.8 296.9h1M217.5 275.2h1M210.5 304.9h1M217.9 268.5h1M225.3 278.7h1M216.1 261.7h1M221.4 260.9h1M217.2 269.4h1M241.5 266.7h1M223.3 269.8h1M222.3 269.3h1M221.2 263.1h1M206.4 271.1h1M237.6 272.5h1M237.8 274.4h1M238.3 268.5h1M238.5 257.5h1M239.3 268.2h1M239.4 260.5h1M236.6 262.9h1M234.7 262.6h1M239.7 262.6h1M241.4 258.1h1M239.1 264.2h1M241.7 257.8h1M235.7 269.5h1M237.1 268.7h1M236.8 264.3h1M238.6 265.4h1M233.1 259.7h1M236.7 258.1h1M241.1 261.6h1M236.1 262.9h1M239.5 264.4h1M237.0 266.7h1M236.0 268.7h1M242.6 254.0h1M241.0 273.2h1M237.5 266.5h1M232.9 274.3h1M242.1 257.0h1M237.3 267.2h1M233.6 268.9h1M236.9 278.0h1M237.5 266.7h1M243.0 255.4h1M241.8 259.9h1M234.5 276.3h1M237.5 262.9h1M231.8 259.5h1M240.5 269.5h1M243.4 258.4h1M238.9 267.5h1M243.4 259.5h1M242.7 259.6h1M238.8 270.6h1M231.1 274.9h1M244.9 257.2h1M239.5 262.6h1M236.5 264.0h1M235.9 267.1h1M235.6 271.4h1M240.8 270.0h1M238.9 270.0h1M235.3 264.6h1M237.6 260.1h1M229.9 276.9h1M239.3 264.9h1M230.5 273.6h1M250.0 251.2h1M241.7 263.3h1M233.2 278.1h1M242.2 261.8h1M240.2 260.5h1M233.5 279.0h1M239.9 275.0h1M235.1 251.0h1M232.7 272.0h1M236.3 262.6h1M240.5 257.7h1M233.9 264.6h1M240.6 261.5h1M242.3 253.4h1M240.0 253.4h1M238.3 259.7h1M235.7 272.2h1M237.3 271.0h1M239.8 262.3h1M232.9 269.8h1M239.7 261.5h1M240.9 265.2h1M236.1 274.8h1M243.2 252.4h1M237.7 267.5h1M237.6 261.8h1M227.9 250.1h1M227.7 249.4h1M227.7 251.5h1M226.5 250.4h1M228.5 251.1h1M227.5 251.7h1M226.7 250.2h1M226.5 250.6h1M226.2 250.8h1M226.6 250.3h1" stroke="#000" stroke-width="1" stroke-opacity="0.22" fill="none"/>
</g>
<g filter="url(#bl)">
<path d="M222.6 345.3h1M224.5 353.2h1M220.7 340.6h1M209.6 377.6h1M212.6 365.7h1M215.4 358.9h1M214.3 329.8h1M212.3 372.6h1M216.4 352.0h1M220.8 376.1h1M209.5 369.8h1M218.9 341.3h1M211.6 372.9h1M211.2 360.5h1M223.2 370.3h1M215.6 355.4h1M210.1 356.0h1M212.3 368.8h1M216.9 335.1h1M220.7 348.6h1M215.1 342.3h1M216.0 365.4h1M213.0 343.1h1M204.1 361.8h1M218.9 352.1h1M225.3 333.6h1M207.7 375.2h1M211.4 377.8h1M220.3 343.0h1M208.1 367.2h1M215.1 365.0h1M217.1 342.2h1M218.2 342.9h1M224.4 333.3h1M216.1 336.5h1M215.4 356.9h1M212.0 368.7h1M209.2 360.7h1M212.5 375.3h1M215.8 370.6h1M218.1 330.2h1M211.1 357.5h1M215.2 364.6h1M219.9 338.2h1M209.2 357.4h1M213.3 341.9h1M215.6 341.5h1M212.9 351.9h1M210.4 378.0h1M219.4 346.4h1M216.4 361.6h1M222.3 357.9h1M214.5 347.4h1M214.4 354.1h1M219.9 322.7h1M214.6 379.2h1M212.7 378.1h1M214.5 363.3h1M212.3 384.3h1M216.0 381.2h1M218.3 347.3h1M217.7 345.8h1M219.9 339.8h1M210.7 362.4h1M211.4 369.0h1M221.2 325.7h1M211.8 375.2h1M210.5 351.3h1M213.5 358.3h1M212.9 357.8h1M207.6 353.6h1M214.2 364.1h1M209.5 357.1h1M214.5 357.3h1M210.4 359.1h1M212.6 367.2h1M220.5 346.4h1M212.1 379.3h1M213.4 341.2h1M220.1 336.8h1M215.0 362.2h1M210.6 365.7h1M208.6 364.9h1M216.3 365.6h1M213.5 354.0h1M215.0 351.8h1M215.2 380.6h1M211.6 359.6h1M213.5 369.5h1M228.8 330.5h1M221.6 342.4h1M216.7 369.9h1M214.8 361.9h1M213.3 376.7h1M218.2 348.8h1M214.3 368.0h1M223.6 324.9h1M223.6 350.4h1M211.6 378.0h1M218.0 343.0h1M210.5 368.4h1M211.4 359.2h1M212.0 363.9h1M216.4 350.0h1M214.2 362.2h1M211.0 361.2h1M209.1 351.4h1M217.3 365.7h1M213.4 377.2h1M216.0 335.6h1M216.0 346.1h1M214.9 352.2h1M213.5 380.0h1M210.0 356.3h1M219.4 332.9h1M209.7 357.0h1M216.7 350.7h1M220.9 355.2h1M211.4 366.9h1M213.5 378.8h1M215.5 367.6h1M218.6 330.3h1M215.4 366.2h1M217.3 332.0h1M215.3 359.3h1M212.5 367.2h1M211.0 370.0h1M211.8 375.9h1M217.1 347.6h1M210.0 354.8h1M225.0 334.3h1M218.6 350.0h1M218.1 354.2h1M215.6 360.3h1M216.0 360.7h1M217.6 380.6h1M213.4 375.0h1M207.8 378.0h1M211.7 371.8h1M215.3 328.9h1M215.0 353.3h1M232.0 328.9h1M213.2 343.1h1M209.4 368.6h1M211.8 333.0h1M212.1 370.4h1M206.0 370.4h1M209.6 381.7h1M211.2 356.5h1M217.0 350.1h1M216.0 359.7h1M217.2 380.1h1M213.2 352.2h1M219.7 356.1h1M209.0 344.9h1M213.0 357.0h1M211.8 371.3h1M214.9 362.6h1M210.5 373.4h1M217.8 353.9h1M229.1 347.3h1M210.7 375.0h1M211.9 358.6h1M207.6 359.6h1M208.3 376.2h1M214.6 335.3h1M213.0 369.0h1M209.2 371.4h1M225.2 330.2h1M218.1 342.0h1M208.7 369.7h1M225.7 329.7h1M216.4 354.2h1M219.2 355.1h1M212.2 375.7h1M220.6 339.5h1M211.7 380.3h1M207.7 367.9h1M205.8 349.9h1M218.9 344.7h1M215.0 342.6h1M215.5 344.8h1M217.5 345.4h1M214.0 353.6h1M215.9 346.4h1M214.1 382.2h1M220.0 343.3h1M209.5 381.3h1M206.2 381.8h1M215.5 371.7h1M232.2 327.7h1M204.0 365.6h1M215.1 368.3h1M222.3 335.6h1M212.4 369.5h1M217.2 329.1h1M221.0 325.6h1M208.2 360.8h1M218.2 340.6h1M213.1 384.8h1M213.9 380.7h1M214.6 379.2h1M222.8 321.9h1M217.1 356.2h1M217.9 362.6h1M215.1 359.5h1M216.8 330.3h1M210.8 351.9h1M214.1 380.1h1M207.7 359.5h1M216.3 373.8h1M210.2 362.9h1M216.5 325.6h1M220.0 331.4h1M209.1 373.7h1M219.2 337.5h1M215.2 336.5h1M226.9 322.4h1M213.1 382.2h1M210.6 361.8h1M218.2 361.8h1M211.9 378.4h1M211.1 360.6h1M213.0 376.5h1M211.7 369.9h1M227.1 334.4h1M221.2 355.6h1M217.3 363.6h1M211.5 344.1h1M222.9 327.3h1M214.7 361.5h1M216.5 351.0h1M216.4 350.4h1M210.6 371.2h1M215.6 370.4h1M224.2 353.7h1M211.1 373.1h1M210.2 368.4h1M208.1 383.3h1M216.0 345.2h1M206.6 357.9h1M218.4 324.0h1M209.3 371.2h1M209.4 353.9h1M216.1 325.7h1M218.0 360.3h1M217.0 367.7h1M221.3 347.0h1M222.0 342.7h1M219.3 366.2h1M211.4 373.5h1M210.1 375.7h1M207.5 371.1h1M209.7 379.4h1M224.9 324.3h1M222.3 340.3h1M216.0 366.0h1M213.8 367.3h1M208.5 323.0h1M212.2 363.2h1M211.3 351.6h1M216.3 379.5h1M216.9 327.0h1M218.0 330.1h1M222.5 339.7h1M216.5 341.8h1M214.4 380.5h1M220.0 327.4h1M215.3 364.8h1M205.0 382.8h1M218.9 346.6h1M216.7 377.0h1M213.2 379.8h1M208.3 358.3h1M221.6 329.9h1M212.5 383.0h1M213.0 378.1h1M214.4 358.2h1M216.0 342.1h1M215.1 330.6h1M212.4 374.9h1M207.5 367.1h1M212.4 369.4h1M217.0 361.8h1M216.8 368.0h1M218.8 336.1h1M207.1 352.3h1M216.6 362.0h1M216.6 377.7h1M209.3 382.8h1M209.5 340.2h1M223.0 340.6h1M212.6 359.5h1M218.1 373.8h1M217.8 363.4h1M216.4 362.0h1M220.6 355.0h1M207.8 380.3h1M208.4 372.1h1M216.5 379.8h1M210.6 382.0h1M208.9 364.4h1M211.1 375.5h1M215.9 373.5h1M212.8 377.0h1M222.8 353.8h1M209.9 385.3h1M212.3 369.0h1M215.4 358.3h1M218.9 342.6h1M218.7 342.8h1M215.1 363.5h1M212.1 373.5h1M209.3 374.6h1M211.1 367.4h1M208.3 372.4h1M210.8 357.9h1M215.5 358.8h1M211.6 375.2h1M226.2 323.2h1M228.9 327.3h1M208.9 365.2h1M214.1 339.0h1M220.7 364.3h1M214.7 345.2h1M219.2 354.5h1M213.0 366.5h1M209.3 360.7h1M210.4 360.8h1M218.3 382.0h1M210.8 345.5h1M211.3 377.3h1M211.7 362.3h1M216.1 351.2h1M217.4 322.1h1M211.9 351.2h1M214.2 351.0h1M208.8 374.6h1M211.4 383.7h1M206.5 361.6h1M209.6 359.3h1M214.5 359.7h1M211.4 358.9h1M215.1 360.0h1M219.4 383.2h1M211.8 375.0h1M225.1 326.9h1M215.2 332.6h1M209.1 373.4h1M224.7 328.7h1M219.7 382.7h1M210.1 367.8h1M215.7 367.8h1M208.7 341.6h1M209.6 384.4h1M214.7 358.4h1M212.7 361.9h1M216.6 344.6h1M221.1 329.6h1M222.5 336.1h1M209.3 359.6h1M214.1 366.9h1M223.6 343.5h1M225.0 337.5h1M214.3 352.6h1M218.5 360.1h1M215.3 356.4h1M212.1 359.9h1M211.9 350.9h1M206.3 367.3h1M215.6 371.9h1M207.7 376.4h1M215.2 359.9h1M217.9 349.4h1M216.3 335.0h1M210.8 349.8h1M212.1 371.2h1M219.4 349.1h1M214.6 337.9h1M215.8 325.7h1M228.8 334.1h1M217.6 331.3h1M207.0 340.2h1M210.2 376.2h1M209.7 373.8h1M210.3 379.0h1M213.0 352.4h1M209.9 383.0h1M211.4 358.5h1M213.9 366.1h1M214.1 369.4h1M210.8 362.7h1M214.5 357.0h1M215.2 366.3h1M209.3 365.6h1M221.7 330.7h1M209.3 366.8h1M208.7 385.0h1M218.3 328.2h1M219.4 333.1h1M211.7 350.0h1M224.1 324.7h1M205.1 363.5h1M210.4 351.9h1M217.8 334.5h1M214.3 362.0h1M211.2 340.6h1M214.5 371.5h1M216.4 354.8h1M208.9 374.8h1M209.4 359.4h1M211.7 366.0h1M211.9 353.9h1M212.1 371.5h1M215.5 378.7h1M213.6 366.0h1M209.6 383.8h1M219.4 360.0h1M216.5 339.3h1M213.2 360.5h1M206.2 367.6h1M209.7 368.7h1M214.5 363.4h1M214.4 369.3h1M216.6 355.8h1M223.8 338.3h1M221.0 355.5h1M222.4 334.8h1M218.3 345.3h1M214.7 342.5h1M215.0 376.2h1M209.4 360.7h1M217.6 358.7h1M206.5 368.4h1M211.1 385.2h1M217.5 353.5h1M206.1 373.1h1M223.5 350.3h1M211.8 357.7h1M227.8 336.4h1M208.9 373.2h1M212.8 376.4h1M216.5 331.4h1M215.8 363.7h1M223.4 339.2h1M208.9 366.7h1M212.7 376.7h1M211.6 367.0h1M214.7 370.1h1M212.1 354.7h1M218.9 373.1h1M214.0 383.1h1M214.2 339.8h1M210.6 370.6h1M220.6 346.7h1M225.2 323.8h1M217.6 355.1h1M213.6 362.8h1M219.5 344.1h1M227.9 351.5h1M221.9 366.9h1M211.1 363.4h1M213.9 377.3h1M209.2 373.3h1M220.3 350.4h1M213.6 366.2h1M218.2 350.3h1M221.4 329.3h1M216.2 346.5h1M220.1 343.5h1M209.4 371.6h1M217.0 343.7h1M217.9 382.7h1M225.9 341.9h1M215.5 371.0h1M218.1 365.9h1M216.7 349.8h1M212.9 357.8h1M214.2 358.0h1M209.0 361.8h1M220.2 333.7h1M212.8 358.3h1M211.0 378.0h1M209.5 348.1h1M215.3 349.3h1M209.6 366.3h1M208.5 348.2h1M218.5 334.1h1M209.7 369.2h1M218.8 350.9h1M212.3 367.5h1M218.2 344.9h1M210.6 377.3h1M219.9 354.5h1M207.3 385.5h1M218.8 351.9h1M218.9 349.6h1M213.8 382.5h1M215.9 333.2h1M213.2 377.9h1M214.7 344.7h1M214.6 384.1h1M217.4 355.8h1M219.5 355.8h1M213.4 365.8h1M215.2 361.0h1M221.6 337.6h1M216.0 336.7h1M215.4 355.0h1M214.9 325.5h1M216.8 351.1h1M210.2 380.6h1M214.4 345.1h1M214.8 359.0h1M205.8 363.1h1M220.1 341.0h1M209.8 377.4h1M211.1 370.2h1M211.5 374.7h1M220.3 342.2h1M215.3 374.8h1M212.8 346.0h1M205.6 368.2h1M215.3 354.5h1M215.4 335.7h1M212.5 336.5h1M212.8 362.9h1M207.7 357.7h1M226.2 326.1h1M212.4 359.7h1M218.7 365.7h1M213.1 335.8h1M213.8 375.8h1M227.0 337.9h1M220.2 343.2h1M212.9 345.9h1M210.6 376.4h1M213.1 348.9h1M228.7 329.9h1M217.2 354.3h1M223.0 357.0h1M213.6 353.3h1M221.0 331.4h1M211.4 371.6h1M211.3 357.4h1M210.6 366.0h1M220.6 341.8h1M218.0 354.1h1M218.0 370.5h1M222.8 330.6h1M213.3 338.1h1M212.4 339.6h1M215.4 361.3h1M216.9 343.4h1M224.8 325.0h1M213.1 355.0h1M213.1 378.1h1M217.3 367.6h1M217.1 361.8h1M222.8 345.7h1M211.9 354.0h1M220.1 356.0h1M217.8 366.7h1M216.2 363.6h1M219.1 352.4h1M217.5 375.2h1M224.1 339.3h1M216.7 372.4h1M210.2 377.0h1M213.6 383.5h1M213.8 343.4h1M218.9 325.1h1M210.7 352.7h1M223.8 324.2h1M220.5 351.5h1M208.2 372.9h1M208.8 363.4h1M220.2 343.8h1M218.9 362.5h1M213.5 360.5h1M213.3 348.2h1M214.5 381.2h1M219.1 363.9h1M215.9 358.4h1M207.2 358.8h1M219.4 359.3h1M206.2 353.0h1M207.2 351.6h1M222.4 340.4h1M220.8 347.0h1M215.7 329.4h1M216.0 371.6h1M213.9 377.5h1M220.4 346.5h1M214.8 358.6h1M215.9 332.8h1M216.0 380.4h1M208.8 373.9h1M214.0 373.9h1M209.0 382.5h1M216.8 383.0h1M208.1 352.1h1M211.2 362.6h1M218.4 363.2h1M213.3 352.3h1M217.0 341.2h1M216.4 369.7h1M212.4 371.0h1M213.4 376.5h1M218.3 356.8h1M217.0 328.6h1M215.3 385.2h1M215.4 364.3h1M217.9 364.3h1M224.0 332.4h1M221.1 339.0h1M204.6 377.3h1M217.1 343.7h1M214.4 359.2h1M219.3 359.4h1M204.6 383.1h1M205.9 376.3h1M212.1 339.5h1M215.1 330.8h1M215.0 349.1h1M213.3 367.0h1M224.8 330.0h1M219.7 349.8h1M214.4 365.6h1M208.2 376.8h1M224.8 336.8h1M219.7 326.9h1M213.0 370.7h1M221.9 329.6h1M209.6 353.2h1M210.8 359.5h1M212.7 373.7h1M210.5 359.8h1M221.0 333.0h1M214.4 385.5h1M212.8 358.1h1M215.7 383.3h1M213.7 376.2h1M211.8 356.9h1M214.0 381.7h1M218.2 341.1h1M224.4 338.8h1M210.2 363.3h1M220.7 360.6h1M205.8 380.3h1M215.8 363.8h1M219.6 338.7h1M208.2 370.8h1M225.2 323.2h1M225.4 359.3h1M215.7 344.6h1M219.6 322.8h1M208.3 328.1h1M215.5 378.5h1M207.6 341.5h1M201.7 383.6h1M218.4 348.8h1M210.9 381.4h1M219.3 373.5h1M209.3 384.7h1M224.7 350.2h1M209.5 365.3h1M217.9 338.9h1M210.3 382.0h1M221.2 333.4h1M223.1 350.9h1M222.4 350.8h1M205.6 379.9h1M205.8 347.9h1M214.0 343.7h1M211.1 361.4h1M231.0 348.6h1M227.2 324.9h1M221.2 321.7h1M228.8 343.4h1M217.8 322.5h1M215.4 364.2h1M215.3 378.1h1M226.0 357.1h1M222.0 345.3h1M212.7 331.6h1M217.7 385.6h1M221.4 347.2h1M211.6 385.6h1M213.7 335.4h1M222.8 354.4h1M214.3 370.0h1M229.1 349.6h1M226.4 344.5h1M208.7 351.5h1M224.5 349.0h1M205.2 372.4h1M199.0 383.3h1M208.1 339.9h1M216.6 380.9h1M217.6 340.6h1M202.6 367.8h1M207.5 367.0h1M201.7 362.3h1M210.0 377.2h1M212.6 343.7h1M225.7 380.2h1M206.8 367.8h1M212.8 367.5h1M215.9 335.1h1M215.6 351.3h1M210.1 378.0h1M214.6 354.1h1M227.2 343.1h1M211.3 340.7h1M218.6 327.6h1M237.0 354.1h1M219.7 369.8h1M209.0 377.9h1M223.7 339.9h1M216.1 372.9h1M208.1 345.6h1M216.2 382.8h1M222.7 337.8h1M224.0 349.0h1M218.2 328.0h1M220.4 379.8h1M211.0 338.9h1M224.6 345.5h1M223.1 358.9h1M209.5 384.6h1M222.2 355.7h1M223.4 344.0h1M207.0 375.0h1M220.5 373.1h1M209.1 342.6h1M220.7 349.0h1M219.3 356.4h1M225.3 364.6h1M219.4 354.9h1M211.4 371.7h1M216.6 353.2h1M212.4 367.5h1M206.0 380.0h1M226.3 355.1h1M213.3 375.2h1M207.2 370.2h1M212.6 376.7h1M208.8 367.7h1M212.2 345.2h1M212.2 359.4h1M207.2 323.1h1M215.1 368.4h1M205.7 373.6h1M221.3 330.7h1M224.7 378.2h1M222.3 356.2h1M214.7 330.2h1M215.0 353.1h1M205.2 361.5h1M219.5 347.5h1M222.0 368.6h1M204.1 338.6h1M230.4 326.9h1M213.5 382.9h1M204.4 384.0h1M211.9 359.1h1M210.7 371.8h1M202.7 349.3h1M230.5 338.6h1M224.3 359.6h1M214.5 373.0h1M230.6 339.3h1M210.0 354.3h1M224.1 349.9h1M218.1 345.3h1M218.9 350.0h1M210.0 346.9h1M207.1 362.2h1M213.7 325.2h1M236.2 367.5h1M215.2 335.9h1M229.7 353.6h1M207.5 378.8h1M206.8 372.7h1M216.0 385.1h1M219.6 341.6h1M231.6 334.1h1M220.6 359.9h1M224.7 348.3h1M215.0 356.6h1M213.7 321.5h1M212.7 380.8h1M227.1 337.5h1M233.5 353.1h1M233.1 340.4h1M242.0 339.3h1M234.0 330.4h1M244.1 340.1h1M239.1 348.5h1M234.3 333.6h1M232.1 333.6h1M233.4 337.4h1M243.1 336.4h1M235.6 342.7h1M237.8 340.6h1M239.8 344.6h1M237.9 340.3h1M236.4 344.4h1M231.8 348.1h1M237.6 341.8h1M244.6 331.5h1M234.5 343.6h1M239.5 330.4h1M236.5 337.3h1M236.4 351.6h1M238.8 341.7h1M241.0 342.2h1M237.8 328.6h1M236.7 347.5h1M238.5 343.9h1M234.2 329.6h1M239.7 339.3h1M237.2 348.9h1M240.4 333.6h1M245.9 332.4h1M231.5 351.4h1M237.9 343.1h1M236.9 339.4h1M239.5 348.2h1M236.1 330.0h1M245.4 340.0h1M237.6 341.0h1M237.7 342.7h1M236.6 339.4h1M236.7 343.1h1M231.8 354.2h1M241.1 332.3h1M233.2 328.4h1M232.3 346.1h1M239.1 335.4h1M234.8 341.3h1M242.5 328.7h1M244.0 332.6h1M230.9 346.7h1M239.8 325.0h1M234.2 334.5h1M232.6 348.8h1M236.9 348.1h1M239.5 343.1h1M239.1 331.2h1M238.4 337.1h1M242.1 331.6h1M232.5 354.2h1M234.0 350.1h1M237.3 331.5h1M240.9 330.1h1M240.1 334.5h1M245.2 330.4h1M236.2 331.3h1M238.7 348.3h1M239.8 331.0h1M242.8 324.7h1M240.8 353.3h1M240.7 334.9h1M237.0 330.2h1M235.5 337.0h1M241.3 339.8h1M238.6 333.7h1M237.5 354.7h1M245.2 332.4h1M238.6 331.7h1M240.1 327.1h1M240.1 328.9h1M237.1 333.2h1M239.9 332.7h1M237.0 340.9h1M228.9 339.4h1M240.8 342.2h1M229.7 339.0h1M246.1 325.3h1M234.3 346.2h1M237.3 346.5h1M243.6 334.8h1M242.7 332.1h1M238.8 340.3h1M238.4 331.0h1M235.5 341.8h1M236.0 348.8h1M243.7 334.0h1M238.7 332.9h1M225.3 321.2h1M222.8 321.6h1M223.6 322.0h1M225.3 322.0h1M225.3 321.6h1M226.6 322.9h1M224.1 321.8h1M225.6 322.1h1M226.9 323.4h1M224.3 323.9h1M225.7 323.4h1M223.8 322.3h1" stroke="#000" stroke-width="1" stroke-opacity="0.21" fill="none"/>
<path d="M214.1 360.1h1M210.8 358.9h1M220.1 342.3h1M217.9 364.1h1M211.2 365.4h1M219.2 340.4h1M217.1 355.1h1M211.6 368.9h1M210.5 374.0h1M209.9 363.2h1M225.3 323.8h1M216.6 345.3h1M217.2 355.8h1M213.6 368.9h1M215.7 370.5h1M223.5 326.4h1M217.0 345.2h1M220.9 355.2h1M221.1 358.9h1M208.8 358.9h1M215.1 366.2h1M219.0 369.5h1M220.6 347.7h1M216.1 359.4h1M213.8 372.1h1M219.7 356.5h1M208.7 359.5h1M212.3 352.5h1M215.8 363.2h1M210.8 385.1h1M220.1 371.2h1M212.4 384.2h1M210.8 370.1h1M213.7 359.7h1M218.0 363.2h1M213.2 357.2h1M218.9 344.9h1M214.8 367.0h1M216.9 368.0h1M210.8 376.5h1M206.0 376.7h1M221.0 338.7h1M214.0 383.1h1M214.1 351.2h1M209.1 361.5h1M216.3 369.5h1M219.4 380.1h1M216.0 343.9h1M206.5 366.7h1M209.9 362.1h1M219.1 377.9h1M208.3 357.5h1M223.2 331.0h1M206.6 380.2h1M227.1 331.4h1M206.5 371.7h1M220.8 339.0h1M215.5 353.6h1M215.3 377.3h1M212.4 351.7h1M213.8 366.0h1M225.5 343.4h1M217.9 338.7h1M224.2 338.4h1M210.8 379.2h1M214.4 367.7h1M212.9 368.0h1M217.7 344.3h1M212.1 377.2h1M209.0 368.2h1M216.3 355.5h1M219.1 362.4h1M211.5 344.4h1M213.6 355.2h1M219.2 343.5h1M217.3 384.2h1M213.8 353.9h1M221.3 357.1h1M213.7 369.4h1M206.7 371.6h1M215.7 368.6h1M221.1 343.8h1M213.2 362.7h1M211.7 383.6h1M209.1 372.2h1M220.3 336.7h1M225.7 327.2h1M214.9 338.9h1M212.5 338.2h1M221.0 378.9h1M223.6 345.7h1M219.6 363.2h1M215.1 365.9h1M215.3 378.6h1M224.1 342.6h1M226.1 324.5h1M213.0 379.3h1M215.4 382.5h1M215.2 353.3h1M220.9 337.4h1M212.2 371.8h1M221.5 355.6h1M209.4 343.8h1M223.7 333.1h1M215.5 357.3h1M209.4 374.1h1M206.3 369.4h1M206.7 357.5h1M213.6 366.9h1M212.3 354.0h1M210.3 350.6h1M208.5 372.6h1M213.2 366.1h1M211.8 373.7h1M223.0 344.9h1M215.5 378.5h1M212.1 341.6h1M216.2 323.0h1M211.8 357.0h1M210.0 369.2h1M225.0 321.0h1M212.1 363.7h1M213.1 351.2h1M214.1 341.8h1M229.0 325.4h1M213.2 370.6h1M223.8 329.6h1M211.7 344.8h1M223.7 345.2h1M209.6 373.9h1M217.0 365.4h1M221.6 339.0h1M213.5 370.9h1M216.8 361.0h1M216.5 353.3h1M206.5 378.7h1M218.1 370.7h1M220.3 354.7h1M218.7 372.1h1M226.1 331.9h1M219.3 364.3h1M213.1 385.1h1M223.8 337.6h1M214.0 379.4h1M218.8 343.7h1M213.5 343.2h1M218.4 371.6h1M229.4 325.6h1M214.2 368.6h1M212.6 384.7h1M226.0 345.6h1M212.2 360.4h1M212.1 370.8h1M214.7 372.8h1M215.4 344.7h1M217.5 361.2h1M212.6 356.6h1M212.5 383.4h1M218.6 372.6h1M212.6 379.6h1M209.1 366.7h1M218.1 371.8h1M209.6 337.9h1M214.0 363.5h1M217.3 357.9h1M208.1 373.8h1M214.4 341.0h1M215.8 346.3h1M214.7 357.8h1M215.8 346.1h1M219.9 356.1h1M224.2 345.0h1M220.3 334.4h1M223.3 341.0h1M208.5 368.7h1M214.0 357.4h1M214.1 350.2h1M211.1 345.5h1M209.6 370.0h1M211.7 345.5h1M209.5 364.4h1M219.8 361.2h1M219.9 332.0h1M212.1 369.5h1M226.9 339.5h1M219.1 340.4h1M214.2 359.2h1M214.4 367.2h1M224.6 349.8h1M216.9 350.3h1M219.2 343.7h1M214.4 369.5h1M211.1 377.1h1M212.2 359.9h1M220.7 365.8h1M230.4 343.7h1M212.4 339.7h1M217.5 337.3h1M220.3 365.3h1M223.4 357.3h1M213.8 349.1h1M222.4 350.4h1M210.9 356.8h1M223.9 330.5h1M211.8 381.4h1M207.9 367.7h1M218.5 372.0h1M215.7 339.8h1M209.9 363.9h1M214.5 379.1h1M218.5 355.0h1M214.6 355.8h1M216.7 346.9h1M212.6 375.3h1M215.7 344.9h1M225.0 348.5h1M210.6 362.3h1M215.7 350.8h1M216.7 332.5h1M210.2 380.9h1M213.8 373.3h1M215.3 351.8h1M223.6 331.0h1M229.7 330.8h1M215.9 357.1h1M209.3 366.6h1M210.4 358.4h1M212.8 349.8h1M213.7 354.4h1M210.8 366.4h1M214.6 351.7h1M209.8 376.3h1M218.9 331.9h1M226.6 334.4h1M219.6 370.9h1M217.2 360.5h1M214.2 384.1h1M225.9 331.6h1M210.5 384.1h1M215.6 345.1h1M216.6 374.6h1M217.3 341.3h1M217.4 373.4h1M217.1 357.8h1M219.0 350.6h1M216.4 374.0h1M209.2 375.2h1M211.6 364.1h1M216.2 337.1h1M215.8 357.4h1M213.7 378.7h1M214.8 358.9h1M214.1 375.4h1M215.5 353.0h1M209.7 365.8h1M222.2 355.3h1M214.3 358.7h1M219.5 347.3h1M226.1 330.1h1M211.5 373.0h1M214.6 382.4h1M225.6 323.2h1M221.3 338.7h1M214.4 364.0h1M214.5 365.2h1M220.6 332.2h1M210.1 384.4h1M214.8 369.8h1M217.7 363.6h1M205.9 359.9h1M219.0 344.6h1M215.6 358.7h1M223.8 339.3h1M215.1 365.3h1M209.7 354.7h1M220.6 332.9h1M215.9 373.0h1M217.2 348.7h1M212.3 366.8h1M220.8 355.3h1M208.5 365.4h1M224.1 338.2h1M207.0 382.9h1M214.1 354.7h1M207.6 363.9h1M225.5 351.6h1M213.5 359.3h1M214.6 362.0h1M210.8 384.0h1M211.1 365.1h1M216.3 323.9h1M216.2 354.1h1M216.6 361.4h1M216.5 340.4h1M213.6 359.9h1M212.6 345.8h1M209.3 376.9h1M210.6 354.1h1M207.6 351.5h1M211.4 368.1h1M209.7 376.2h1M215.7 370.2h1M223.5 344.1h1M218.8 363.9h1M216.5 364.0h1M218.8 341.7h1M210.0 383.7h1M225.9 349.8h1M216.5 362.2h1M223.2 327.1h1M217.0 352.8h1M214.3 330.5h1M214.1 364.8h1M217.5 363.3h1M215.6 371.4h1M208.2 346.9h1M215.0 354.7h1M213.8 344.5h1M217.0 331.8h1M229.2 322.9h1M211.3 380.8h1M225.2 333.2h1M215.3 356.6h1M215.1 372.2h1M207.9 362.7h1M215.3 339.6h1M209.9 359.3h1M208.4 378.5h1M212.0 385.1h1M212.5 368.4h1M215.9 353.4h1M209.9 375.2h1M207.9 383.8h1M208.3 356.4h1M217.9 354.6h1M209.9 360.2h1M216.6 366.7h1M215.8 349.6h1M221.3 341.5h1M211.8 352.0h1M216.7 347.6h1M208.9 372.2h1M213.9 351.8h1M221.5 345.6h1M211.1 343.3h1M216.2 364.8h1M210.2 382.5h1M216.6 334.9h1M215.5 358.8h1M210.9 366.3h1M222.4 327.4h1M213.2 352.1h1M213.6 371.5h1M223.9 342.2h1M214.4 334.8h1M212.2 347.6h1M210.9 384.1h1M229.1 326.9h1M207.6 359.3h1M216.8 349.0h1M218.9 349.5h1M215.0 381.2h1M207.9 379.7h1M214.3 345.7h1M208.9 376.2h1M229.5 328.5h1M209.2 359.4h1M210.7 356.3h1M218.7 333.6h1M215.7 370.2h1M215.8 373.9h1M212.5 375.4h1M220.0 342.4h1M215.5 382.2h1M215.6 350.0h1M210.6 376.2h1M212.9 345.4h1M221.2 338.5h1M204.3 361.1h1M211.9 364.2h1M210.2 372.6h1M214.8 345.1h1M216.5 373.6h1M212.2 338.4h1M214.8 366.3h1M217.3 369.7h1M217.9 366.0h1M206.6 373.4h1M209.9 348.1h1M213.6 349.4h1M211.6 367.5h1M212.2 370.2h1M223.9 341.8h1M214.9 374.7h1M211.1 344.2h1M215.9 354.7h1M219.5 349.4h1M211.9 357.6h1M214.3 359.1h1M226.4 324.1h1M210.6 379.3h1M215.8 382.2h1M221.3 340.2h1M214.9 362.1h1M209.8 380.2h1M216.0 341.8h1M212.4 366.4h1M215.0 347.5h1M214.7 344.1h1M216.1 346.7h1M225.1 328.1h1M212.4 381.8h1M213.6 344.8h1M210.3 365.6h1M213.9 378.6h1M209.7 382.9h1M216.1 350.4h1M208.2 351.3h1M213.1 359.0h1M218.6 347.8h1M211.1 371.0h1M213.1 375.9h1M223.9 336.5h1M216.3 371.2h1M220.5 322.9h1M208.3 365.8h1M216.7 328.5h1M211.5 369.6h1M221.8 333.2h1M220.0 348.3h1M218.7 333.7h1M216.7 378.4h1M209.7 367.7h1M217.0 345.2h1M211.6 362.7h1M212.9 346.0h1M211.6 376.8h1M209.7 372.8h1M212.0 328.0h1M207.4 378.7h1M212.8 347.8h1M216.1 356.2h1M212.6 362.9h1M210.3 359.7h1M217.4 368.2h1M214.2 347.3h1M208.7 371.4h1M211.8 350.3h1M225.7 323.0h1M210.3 377.3h1M208.9 364.7h1M212.6 350.2h1M207.2 372.2h1M210.7 383.5h1M216.3 347.0h1M217.5 349.4h1M212.8 334.6h1M214.1 384.1h1M211.0 372.9h1M211.7 381.3h1M220.5 342.8h1M221.9 355.1h1M207.9 349.4h1M215.5 377.9h1M213.1 383.1h1M209.0 367.8h1M208.3 360.6h1M217.1 350.7h1M207.7 384.3h1M214.7 369.3h1M214.6 366.4h1M214.1 357.3h1M214.9 378.6h1M214.0 367.4h1M216.8 340.4h1M216.7 343.9h1M213.6 372.9h1M213.5 366.5h1M213.9 382.2h1M205.5 369.2h1M212.2 361.9h1M229.0 324.5h1M210.5 332.6h1M214.2 354.0h1M207.3 370.2h1M229.0 334.4h1M213.1 381.6h1M225.4 331.5h1M216.8 358.8h1M211.5 359.3h1M220.7 336.8h1M211.5 372.5h1M212.8 357.2h1M215.4 354.2h1M227.2 327.6h1M216.2 341.1h1M226.2 340.0h1M214.8 368.7h1M212.6 379.9h1M216.3 384.5h1M215.8 374.6h1M211.1 380.6h1M215.1 345.2h1M206.7 355.2h1M211.8 382.4h1M205.1 373.0h1M219.3 338.7h1M214.1 363.9h1M214.6 371.5h1M217.2 346.6h1M217.7 369.8h1M215.9 355.6h1M219.9 342.2h1M211.7 341.3h1M221.5 336.9h1M212.9 368.3h1M227.3 338.9h1M220.6 354.7h1M214.6 334.7h1M219.4 359.8h1M214.0 381.2h1M221.8 343.6h1M228.0 330.3h1M209.0 381.7h1M213.8 385.1h1M216.0 324.5h1M218.1 364.7h1M220.3 329.3h1M206.6 366.6h1M213.3 346.7h1M216.4 366.4h1M222.5 357.3h1M216.0 357.1h1M217.9 362.4h1M218.6 346.7h1M225.5 327.0h1M211.3 360.8h1M211.2 378.0h1M208.0 368.3h1M215.1 374.1h1M212.6 360.1h1M213.1 359.4h1M204.9 373.6h1M211.7 379.9h1M205.8 340.0h1M218.7 364.8h1M209.2 374.5h1M216.5 361.5h1M218.8 339.3h1M209.0 380.9h1M219.2 342.1h1M216.6 362.7h1M207.3 332.9h1M220.5 370.4h1M211.2 368.4h1M212.5 356.0h1M212.3 384.5h1M211.1 373.8h1M218.6 352.7h1M208.9 372.7h1M212.3 366.0h1M215.8 372.0h1M213.4 383.7h1M215.5 360.0h1M205.1 350.0h1M213.1 373.2h1M210.0 357.5h1M222.3 354.6h1M213.8 358.7h1M215.7 369.6h1M213.1 358.0h1M216.4 376.6h1M215.6 362.2h1M215.3 357.9h1M217.8 354.2h1M213.7 363.4h1M222.6 343.4h1M210.8 336.6h1M217.6 341.3h1M211.1 365.0h1M221.6 333.5h1M213.5 341.9h1M214.4 376.7h1M213.5 363.3h1M211.3 350.4h1M216.4 345.5h1M226.4 323.6h1M209.7 364.1h1M220.4 349.1h1M210.7 372.3h1M211.5 371.1h1M214.5 380.6h1M210.3 360.9h1M205.0 355.5h1M213.0 355.4h1M219.6 361.2h1M211.7 369.7h1M214.6 363.8h1M217.9 344.7h1M211.8 338.7h1M212.4 380.4h1M215.3 357.2h1M214.4 357.7h1M218.3 366.3h1M208.9 365.2h1M214.1 358.4h1M207.8 362.4h1M207.9 364.9h1M211.0 364.3h1M220.3 342.4h1M213.8 365.5h1M207.5 373.4h1M218.8 359.6h1M216.9 348.4h1M215.2 349.1h1M221.7 347.9h1M209.3 375.2h1M221.3 332.7h1M217.1 349.6h1M209.7 373.8h1M215.0 367.6h1M216.9 355.3h1M214.1 358.5h1M217.2 335.5h1M219.0 358.1h1M216.3 342.8h1M215.2 379.5h1M222.4 338.8h1M220.1 341.8h1M220.0 357.0h1M214.6 355.9h1M208.5 346.0h1M208.7 369.4h1M216.4 349.7h1M208.1 373.9h1M206.4 368.7h1M212.0 375.5h1M209.5 373.8h1M211.8 362.2h1M221.5 363.3h1M221.9 354.4h1M225.1 345.5h1M219.9 350.8h1M212.0 384.7h1M214.0 349.3h1M221.8 361.9h1M213.0 346.7h1M216.6 381.0h1M210.2 367.9h1M216.9 353.8h1M217.0 350.0h1M222.3 336.9h1M211.6 350.9h1M220.7 380.2h1M210.1 385.5h1M235.5 336.3h1M215.2 329.1h1M205.4 376.5h1M206.2 363.2h1M208.8 334.8h1M212.2 331.6h1M215.3 377.9h1M220.2 354.2h1M219.7 327.0h1M205.3 343.6h1M207.1 343.9h1M210.2 353.0h1M225.5 340.9h1M205.9 333.0h1M220.7 350.6h1M222.7 351.4h1M214.7 372.1h1M205.9 327.9h1M220.2 356.2h1M226.8 351.7h1M221.8 364.6h1M209.1 371.4h1M234.3 343.3h1M206.8 332.2h1M212.9 334.0h1M206.5 366.2h1M211.0 380.2h1M221.1 344.4h1M230.5 361.9h1M211.9 345.2h1M221.4 331.6h1M238.1 337.0h1M205.0 372.8h1M217.3 372.7h1M224.5 350.3h1M220.8 341.6h1M219.2 365.8h1M227.5 354.6h1M207.9 372.9h1M223.1 334.5h1M200.8 358.9h1M207.2 364.2h1M205.9 379.6h1M216.6 372.6h1M203.6 348.0h1M199.2 353.5h1M212.7 341.4h1M226.5 325.3h1M220.8 363.9h1M223.8 354.5h1M203.6 350.6h1M215.6 333.6h1M214.8 372.3h1M206.4 383.4h1M220.8 359.1h1M204.9 344.6h1M216.0 336.7h1M210.9 374.8h1M215.6 373.2h1M211.3 372.6h1M220.8 355.0h1M205.5 375.6h1M232.8 351.8h1M218.5 377.6h1M209.1 339.2h1M226.2 333.6h1M204.0 349.3h1M208.7 371.5h1M215.4 361.2h1M226.8 346.0h1M211.2 375.4h1M219.0 355.8h1M209.7 362.1h1M210.8 356.6h1M212.4 355.9h1M229.8 328.1h1M202.7 355.5h1M218.2 381.3h1M205.2 342.3h1M204.9 370.7h1M216.6 350.6h1M212.9 385.4h1M212.4 370.5h1M208.2 381.4h1M202.5 358.7h1M215.3 349.3h1M215.4 339.9h1M223.3 322.2h1M207.5 383.1h1M223.6 333.1h1M231.8 333.6h1M222.0 357.3h1M214.7 369.8h1M207.6 369.2h1M222.4 333.1h1M223.7 341.7h1M206.4 384.7h1M204.3 351.2h1M223.3 349.0h1M231.1 329.9h1M213.5 362.5h1M206.1 340.4h1M216.4 361.2h1M199.1 362.7h1M221.7 381.5h1M220.7 336.2h1M214.2 374.2h1M228.7 323.4h1M215.2 333.7h1M211.5 382.3h1M217.0 358.9h1M203.5 371.7h1M214.5 378.1h1M222.9 328.4h1M224.7 345.9h1M203.2 381.9h1M234.1 352.3h1M205.6 380.1h1M225.3 347.5h1M204.1 367.2h1M203.8 364.9h1M219.7 349.9h1M223.4 366.7h1M200.4 385.0h1M205.7 359.1h1M213.6 341.9h1M218.3 358.1h1M221.8 354.7h1M209.1 343.3h1M217.9 382.2h1M219.1 327.6h1M213.4 366.3h1M217.7 354.4h1M213.1 343.1h1M207.2 361.8h1M219.1 338.0h1M225.0 335.8h1M215.4 380.5h1M236.5 348.6h1M236.1 338.0h1M237.0 346.3h1M237.0 346.3h1M241.7 344.0h1M239.0 335.3h1M241.0 337.5h1M238.5 340.7h1M236.1 333.1h1M241.4 336.0h1M237.4 333.0h1M245.3 327.4h1M238.8 341.3h1M237.3 336.9h1M231.2 363.4h1M233.6 339.9h1M235.2 334.3h1M239.6 328.0h1M236.2 346.3h1M243.0 321.8h1M235.3 342.9h1M239.4 338.7h1M238.6 339.9h1M238.8 347.6h1M241.0 347.9h1M239.7 324.9h1M242.6 329.2h1M232.7 345.1h1M238.0 336.8h1M239.7 326.7h1M243.2 330.9h1M242.4 350.2h1M238.7 332.1h1M239.2 337.8h1M235.6 345.2h1M246.8 339.2h1M241.2 329.9h1M239.5 331.0h1M237.1 329.4h1M240.3 335.7h1M235.9 333.1h1M239.8 333.5h1M236.3 337.1h1M241.3 333.6h1M243.8 337.9h1M232.5 347.1h1M238.2 340.4h1M231.9 350.7h1M240.8 325.2h1M239.6 326.5h1M240.3 340.0h1M237.6 337.2h1M236.6 358.9h1M243.6 335.7h1M237.6 345.2h1M239.1 343.9h1M240.5 329.3h1M243.0 342.6h1M241.4 339.4h1M244.2 325.8h1M240.7 327.9h1M243.9 332.3h1M234.9 334.6h1M242.2 334.8h1M238.4 335.7h1M239.0 328.1h1M240.1 331.2h1M235.6 327.0h1M243.8 334.8h1M243.3 333.4h1M241.9 332.1h1M236.9 341.2h1M233.3 339.4h1M242.2 328.4h1M232.6 342.1h1M230.3 343.6h1M245.5 336.9h1M245.5 340.5h1M235.2 341.8h1M239.2 328.7h1M240.5 326.8h1M236.1 335.6h1M239.6 339.3h1M233.6 335.9h1M243.3 337.6h1M235.1 336.3h1M235.1 354.0h1M248.8 322.8h1M240.5 332.7h1M235.4 335.5h1M238.5 334.0h1M236.3 329.3h1M244.5 322.7h1M241.1 337.0h1M231.7 356.1h1M241.3 338.4h1M237.6 337.3h1M239.7 335.5h1M225.0 322.4h1M224.0 322.9h1M222.3 322.5h1M222.5 323.9h1M222.6 322.6h1M222.5 322.8h1M220.0 321.6h1M224.7 321.2h1M223.4 324.7h1M224.7 322.3h1M226.4 322.2h1M224.1 323.3h1" stroke="#000" stroke-width="1" stroke-opacity="0.21" fill="none"/>
<path d="M215.2 376.4h1M212.3 370.4h1M220.5 359.2h1M213.9 346.3h1M223.9 328.9h1M205.7 377.5h1M228.3 327.7h1M212.6 347.7h1M210.1 368.6h1M214.4 337.5h1M215.3 365.3h1M209.4 370.5h1M211.7 372.1h1M211.4 377.7h1M210.6 362.3h1M214.3 361.8h1M217.0 355.0h1M213.0 371.2h1M219.0 343.6h1M217.6 364.3h1M216.2 376.2h1M217.8 367.2h1M205.2 367.9h1M214.3 336.9h1M218.1 368.2h1M213.4 361.8h1M216.4 341.6h1M219.1 346.7h1M215.0 346.1h1M220.0 339.2h1M209.0 367.3h1M227.9 324.5h1M207.1 368.5h1M214.4 373.5h1M214.1 370.4h1M212.0 353.4h1M216.3 339.9h1M212.8 379.4h1M213.1 370.6h1M216.7 356.8h1M205.7 379.0h1M219.7 376.8h1M208.7 371.9h1M215.8 350.1h1M212.9 378.5h1M208.1 364.4h1M210.8 378.2h1M217.7 347.6h1M209.7 359.6h1M212.0 378.6h1M215.8 344.7h1M213.7 348.7h1M214.7 382.3h1M214.4 346.2h1M216.0 372.9h1M212.2 370.0h1M226.6 325.5h1M209.8 365.3h1M216.7 360.6h1M211.7 348.6h1M216.3 359.8h1M210.5 352.9h1M221.3 337.8h1M212.4 356.5h1M218.2 371.8h1M208.0 368.8h1M209.4 376.4h1M213.9 359.6h1M213.2 346.0h1M220.8 343.1h1M224.3 343.2h1M220.2 362.3h1M213.0 347.9h1M212.6 355.2h1M216.4 381.3h1M215.2 355.0h1M209.9 381.3h1M209.6 346.8h1M204.2 358.0h1M218.9 372.2h1M217.1 348.1h1M213.3 330.6h1M218.3 346.5h1M215.2 338.5h1M213.6 369.8h1M208.7 365.7h1M208.6 377.8h1M227.6 327.5h1M217.2 376.7h1M220.2 340.8h1M218.0 380.4h1M214.1 366.7h1M212.6 369.8h1M218.4 351.9h1M215.1 377.0h1M216.9 371.5h1M212.7 348.3h1M209.7 365.0h1M213.6 384.3h1M215.3 340.4h1M213.1 365.3h1M224.8 328.4h1M218.2 350.0h1M212.2 367.4h1M222.7 344.3h1M213.0 350.6h1M222.7 333.2h1M211.3 346.6h1M211.5 375.9h1M214.3 365.4h1M217.2 371.3h1M210.3 359.7h1M212.0 359.5h1M214.3 367.7h1M206.5 366.1h1M215.1 351.1h1M226.9 334.8h1M213.3 369.1h1M213.1 365.4h1M221.1 343.1h1M217.3 374.6h1M226.5 334.3h1M207.8 364.6h1M202.8 384.2h1M215.3 357.4h1M218.3 349.1h1M208.4 371.6h1M215.4 350.1h1M219.2 362.1h1M216.2 368.5h1M213.7 345.0h1M211.6 361.2h1M215.7 347.1h1M218.6 332.9h1M209.9 379.3h1M214.3 360.0h1M211.7 359.1h1M216.0 341.3h1M221.3 349.4h1M218.9 325.0h1M215.0 365.3h1M210.5 382.3h1M226.5 325.3h1M212.2 380.8h1M212.7 353.5h1M205.6 372.2h1M215.6 350.0h1M213.7 382.1h1M210.1 373.2h1M209.3 369.7h1M211.7 361.3h1M209.7 381.3h1M211.9 370.0h1M217.8 340.8h1M207.0 382.6h1M209.3 355.4h1M214.1 344.4h1M210.3 382.7h1M207.0 373.3h1M223.5 334.7h1M217.8 379.4h1M212.5 351.1h1M218.6 357.5h1M218.0 339.4h1M208.1 370.1h1M220.3 333.6h1M212.9 381.1h1M209.3 366.3h1M214.6 340.4h1M214.3 351.8h1M210.7 371.1h1M214.8 358.0h1M210.1 373.5h1M223.4 349.4h1M211.8 374.9h1M211.0 362.8h1M227.0 330.9h1M208.9 354.1h1M211.3 349.3h1M214.4 342.0h1M213.3 347.5h1M215.9 353.6h1M225.5 321.4h1M210.6 357.8h1M212.1 344.0h1M213.8 370.0h1M212.2 361.6h1M226.8 322.8h1M217.1 362.3h1M216.2 352.7h1M208.5 381.9h1M208.6 385.0h1M219.0 345.4h1M213.1 377.0h1M214.8 362.3h1M214.7 374.9h1M215.1 341.2h1M211.1 358.1h1M212.6 343.8h1M214.3 361.4h1M216.7 344.1h1M212.6 360.2h1M209.8 373.8h1M216.9 342.6h1M220.6 339.9h1M214.4 377.1h1M211.7 384.3h1M215.9 351.1h1M215.1 340.0h1M219.8 347.2h1M212.1 365.8h1M220.7 350.6h1M214.1 326.0h1M218.9 357.8h1M222.8 328.0h1M211.7 355.5h1M213.5 372.2h1M217.2 350.5h1M224.7 343.9h1M229.2 345.4h1M212.0 358.7h1M210.7 381.4h1M215.0 376.9h1M224.0 328.8h1M216.6 335.7h1M211.5 376.0h1M213.3 373.6h1M217.4 357.0h1M211.2 354.3h1M220.4 346.4h1M210.6 362.5h1M212.7 379.0h1M212.4 348.4h1M209.2 384.1h1M215.0 363.8h1M222.3 358.4h1M209.7 355.8h1M216.6 362.9h1M211.9 382.9h1M219.9 349.3h1M210.9 376.5h1M215.4 357.1h1M220.2 350.9h1M217.0 368.0h1M212.4 353.9h1M212.5 348.8h1M207.0 379.6h1M212.6 367.2h1M213.7 368.1h1M213.5 363.4h1M220.3 360.8h1M222.6 341.7h1M218.3 353.7h1M209.0 383.3h1M212.6 378.3h1M215.6 353.1h1M208.6 364.7h1M222.3 325.3h1M221.9 359.0h1M222.8 330.7h1M210.3 377.7h1M225.2 331.3h1M213.0 361.9h1M219.5 341.5h1M208.8 383.1h1M213.5 378.0h1M212.4 377.0h1M207.5 384.5h1M214.7 349.8h1M215.1 362.5h1M209.5 366.9h1M213.6 374.1h1M211.7 347.7h1M227.2 339.0h1M209.8 364.3h1M210.9 379.1h1M210.4 349.5h1M212.1 374.7h1M210.7 375.6h1M210.4 379.0h1M216.1 362.4h1M222.8 359.2h1M215.9 354.6h1M215.0 385.1h1M217.9 350.2h1M215.0 349.7h1M223.5 327.7h1M218.1 361.8h1M216.2 363.7h1M221.7 357.5h1M215.8 356.9h1M211.9 367.3h1M216.9 359.7h1M212.3 360.0h1M216.6 347.0h1M214.3 379.5h1M213.3 360.7h1M226.1 360.3h1M214.8 380.0h1M214.6 354.9h1M212.8 362.6h1M219.9 355.6h1M218.6 359.0h1M213.2 345.3h1M219.2 369.5h1M212.8 370.1h1M223.7 322.5h1M217.3 366.9h1M220.6 351.9h1M217.7 344.8h1M217.0 376.1h1M215.1 358.9h1M213.4 360.4h1M217.7 361.5h1M212.2 381.1h1M227.6 322.2h1M222.1 343.1h1M215.5 381.0h1M214.5 379.1h1M222.4 354.7h1M209.3 370.7h1M215.1 374.5h1M206.1 371.5h1M209.8 376.8h1M211.9 375.3h1M211.8 359.9h1M220.8 369.6h1M215.4 359.0h1M223.5 344.1h1M206.4 357.1h1M219.4 335.8h1M209.5 377.5h1M206.6 377.9h1M207.9 380.7h1M215.5 375.7h1M217.8 377.1h1M222.4 343.7h1M214.6 374.5h1M211.9 370.4h1M219.1 353.7h1M208.9 364.8h1M209.9 376.5h1M217.0 355.1h1M209.9 362.1h1M204.5 368.6h1M216.3 359.7h1M207.1 358.1h1M218.3 357.2h1M218.9 352.0h1M210.2 373.7h1M215.3 358.5h1M209.9 350.6h1M208.4 365.0h1M214.3 353.6h1M212.5 358.1h1M215.9 372.2h1M213.6 344.9h1M209.5 373.3h1M213.1 362.8h1M222.4 340.3h1M213.8 346.5h1M212.4 373.5h1M211.5 345.8h1M211.9 373.9h1M212.4 378.8h1M212.8 378.3h1M212.8 348.6h1M217.7 347.7h1M221.2 335.6h1M207.8 370.6h1M208.5 372.5h1M214.7 350.8h1M212.9 362.1h1M215.3 384.9h1M218.3 377.9h1M212.5 371.7h1M207.2 366.3h1M216.7 373.7h1M216.8 372.3h1M219.2 338.6h1M222.6 324.7h1M221.7 346.9h1M218.9 369.4h1M221.8 343.7h1M211.0 348.6h1M209.7 377.8h1M219.5 321.0h1M208.4 365.2h1M210.7 367.4h1M211.3 382.9h1M208.2 371.8h1M212.4 379.2h1M215.6 369.9h1M218.6 328.2h1M213.7 369.2h1M214.6 354.6h1M217.0 352.4h1M212.0 380.9h1M224.6 323.0h1M213.5 364.2h1M214.1 368.5h1M227.2 345.9h1M218.1 332.3h1M214.5 361.9h1M209.6 360.3h1M207.3 372.0h1M217.8 383.9h1M218.5 337.6h1M215.0 376.4h1M219.1 349.3h1M212.0 376.8h1M212.2 379.2h1M219.0 353.4h1M213.7 360.7h1M213.4 329.2h1M214.3 348.0h1M219.9 351.1h1M216.9 350.8h1M209.9 374.4h1M207.6 382.6h1M220.0 320.6h1M216.6 362.8h1M210.0 331.8h1M210.3 376.7h1M216.9 374.5h1M214.4 358.8h1M212.0 383.0h1M210.7 345.9h1M212.4 355.0h1M213.8 371.8h1M206.7 362.1h1M208.1 359.2h1M211.2 382.8h1M220.8 342.9h1M213.0 356.0h1M219.8 360.4h1M216.5 362.7h1M211.2 365.9h1M215.0 334.0h1M211.6 383.6h1M216.4 362.2h1M215.8 365.0h1M216.4 368.2h1M215.7 355.4h1M223.2 350.4h1M214.6 383.7h1M208.5 372.4h1M215.9 356.9h1M213.8 330.7h1M216.9 346.5h1M217.1 378.7h1M214.5 332.9h1M215.3 353.5h1M214.1 356.7h1M209.9 370.3h1M213.5 368.6h1M214.9 361.1h1M216.2 361.8h1M212.0 351.3h1M210.6 334.1h1M206.0 359.1h1M208.1 378.1h1M211.2 383.8h1M217.7 330.9h1M211.3 360.6h1M222.0 348.3h1M213.0 368.5h1M217.4 352.7h1M212.7 373.1h1M213.7 345.2h1M213.6 358.5h1M209.0 362.2h1M203.9 369.4h1M212.9 359.2h1M210.0 369.2h1M212.6 357.0h1M211.7 379.8h1M206.9 371.5h1M205.6 358.5h1M208.5 351.5h1M217.3 325.2h1M216.2 361.5h1M211.7 355.2h1M218.9 364.9h1M226.6 333.4h1M220.2 333.0h1M221.8 338.5h1M212.7 360.2h1M218.5 335.3h1M210.6 382.4h1M225.9 321.8h1M212.8 353.7h1M213.3 381.9h1M219.5 330.8h1M219.5 342.7h1M215.4 380.2h1M208.8 382.0h1M209.6 350.4h1M211.5 355.9h1M215.1 351.2h1M220.1 353.7h1M214.3 362.2h1M211.2 379.7h1M223.1 331.3h1M219.9 370.7h1M218.7 336.2h1M212.1 365.3h1M216.7 351.3h1M213.5 382.1h1M214.4 377.7h1M208.4 379.9h1M220.9 355.1h1M209.4 364.5h1M211.4 374.2h1M215.1 362.2h1M205.5 370.6h1M215.3 339.6h1M216.2 343.6h1M214.9 365.5h1M224.3 335.6h1M212.9 382.8h1M213.7 380.8h1M218.5 340.5h1M211.0 366.1h1M222.6 341.8h1M215.2 370.6h1M215.9 361.1h1M213.8 367.6h1M210.0 362.2h1M211.8 361.1h1M215.4 354.2h1M221.5 334.6h1M216.6 329.7h1M206.4 359.3h1M212.9 373.4h1M212.0 367.5h1M211.0 335.1h1M214.8 345.5h1M211.0 371.3h1M214.0 373.8h1M214.8 362.2h1M220.3 348.6h1M209.5 375.0h1M219.9 343.5h1M219.4 368.1h1M213.6 382.6h1M213.6 367.0h1M218.3 371.9h1M216.1 349.8h1M210.2 373.0h1M212.7 357.1h1M216.2 336.6h1M214.0 365.6h1M214.5 353.0h1M219.8 372.4h1M222.0 327.6h1M217.8 330.8h1M216.6 364.7h1M218.7 342.8h1M211.9 379.9h1M209.1 368.4h1M202.8 377.1h1M212.6 361.6h1M221.4 337.3h1M206.0 377.5h1M212.8 360.1h1M213.4 347.3h1M212.9 384.7h1M213.9 380.0h1M215.2 360.2h1M223.0 327.6h1M214.3 384.6h1M215.5 371.5h1M211.3 376.2h1M222.4 339.0h1M213.4 372.1h1M214.5 366.2h1M217.5 341.4h1M212.0 372.8h1M216.5 359.3h1M215.9 346.2h1M219.4 367.5h1M220.2 336.3h1M207.0 383.5h1M220.1 366.3h1M208.2 369.7h1M215.8 354.6h1M211.5 378.7h1M221.8 363.3h1M211.7 365.1h1M202.9 367.1h1M219.2 340.3h1M226.2 327.9h1M219.0 362.2h1M211.1 366.3h1M218.4 338.9h1M210.5 383.7h1M227.9 324.9h1M208.8 362.1h1M217.8 364.3h1M221.2 356.9h1M209.8 370.7h1M215.5 370.3h1M219.4 343.6h1M215.4 372.8h1M214.0 338.6h1M210.6 377.2h1M211.7 351.1h1M212.5 358.6h1M208.4 354.2h1M218.8 353.1h1M216.4 365.6h1M213.6 353.2h1M209.3 357.4h1M210.1 358.6h1M210.7 365.3h1M228.5 327.4h1M213.6 336.4h1M208.4 380.7h1M217.4 356.9h1M208.2 370.4h1M217.3 344.2h1M212.4 362.0h1M213.1 352.9h1M208.5 376.9h1M213.9 359.5h1M212.5 375.2h1M211.9 354.4h1M212.7 356.1h1M215.0 347.8h1M221.4 322.9h1M227.4 340.2h1M218.4 365.8h1M210.7 354.0h1M209.6 373.0h1M207.0 374.6h1M214.5 340.0h1M215.7 339.7h1M213.3 353.9h1M208.6 379.4h1M209.4 342.3h1M217.9 335.6h1M216.7 343.9h1M219.3 347.4h1M222.5 324.2h1M220.6 374.8h1M208.6 356.8h1M208.6 342.5h1M208.8 339.5h1M218.0 326.8h1M210.2 336.9h1M214.2 332.1h1M208.2 382.0h1M222.0 384.7h1M222.5 354.8h1M200.3 382.6h1M232.7 342.5h1M203.6 361.0h1M225.8 360.5h1M223.1 384.0h1M201.2 368.3h1M210.9 358.9h1M232.8 355.2h1M216.0 349.2h1M216.5 355.7h1M208.1 357.0h1M213.8 385.3h1M210.5 368.2h1M222.4 330.0h1M222.1 350.6h1M232.4 349.8h1M237.0 334.1h1M221.8 351.1h1M218.3 339.0h1M204.8 379.8h1M208.9 360.2h1M204.7 377.3h1M201.4 383.1h1M215.4 333.1h1M224.5 351.7h1M230.8 344.4h1M211.4 375.3h1M214.4 371.0h1M220.2 366.2h1M224.4 348.6h1M226.5 322.5h1M219.1 336.0h1M217.4 375.6h1M237.5 332.2h1M212.9 340.0h1M199.5 350.9h1M226.2 338.2h1M223.4 361.9h1M222.5 351.6h1M226.6 359.8h1M205.0 336.0h1M221.3 370.1h1M217.0 343.6h1M229.4 338.8h1M224.9 355.9h1M219.7 335.4h1M233.2 350.3h1M224.4 340.0h1M219.4 371.9h1M212.7 362.8h1M199.5 378.1h1M221.9 323.5h1M200.1 378.8h1M220.4 338.9h1M217.8 330.5h1M227.0 323.6h1M225.6 328.4h1M211.3 364.1h1M225.9 328.2h1M219.5 344.4h1M199.1 360.4h1M213.2 361.0h1M208.7 380.3h1M211.3 352.7h1M207.6 359.7h1M210.9 333.3h1M229.1 328.0h1M219.4 377.9h1M206.1 378.7h1M206.2 369.8h1M222.1 364.6h1M217.4 354.6h1M217.3 384.4h1M230.2 366.3h1M211.3 331.0h1M214.8 383.9h1M227.8 326.0h1M211.6 378.3h1M202.7 356.7h1M215.1 349.9h1M219.8 365.3h1M203.7 378.6h1M232.3 327.1h1M209.5 368.8h1M207.8 384.7h1M222.2 357.4h1M225.5 348.6h1M206.4 382.4h1M206.1 371.8h1M218.6 327.1h1M217.7 331.2h1M207.8 374.7h1M209.9 354.7h1M212.6 343.7h1M225.8 361.2h1M208.5 360.4h1M218.4 341.9h1M213.0 360.2h1M209.8 375.2h1M203.5 344.9h1M215.5 332.3h1M217.2 380.7h1M212.9 363.6h1M218.5 352.0h1M211.8 332.6h1M208.7 363.2h1M222.4 332.9h1M205.6 373.5h1M210.4 356.5h1M202.5 375.6h1M209.8 371.8h1M208.7 371.4h1M220.2 361.5h1M219.5 372.3h1M211.2 378.5h1M204.9 384.0h1M213.8 350.3h1M214.8 368.2h1M203.5 378.8h1M221.8 380.2h1M228.0 347.5h1M222.9 341.8h1M215.1 326.8h1M213.6 358.4h1M209.9 383.0h1M216.1 380.1h1M202.5 363.4h1M211.9 345.4h1M211.3 349.6h1M244.7 336.7h1M209.3 348.2h1M223.4 325.7h1M224.7 338.9h1M211.6 373.9h1M211.0 351.4h1M218.7 377.0h1M221.1 365.0h1M222.1 325.8h1M247.8 322.2h1M239.3 343.6h1M239.2 335.7h1M232.4 342.1h1M239.8 329.7h1M238.7 347.1h1M242.9 331.1h1M236.8 343.1h1M238.1 334.6h1M239.3 346.3h1M231.5 335.8h1M238.7 347.0h1M239.6 339.0h1M232.0 344.4h1M236.8 344.1h1M241.3 324.7h1M230.9 359.3h1M238.9 334.6h1M240.9 338.1h1M237.8 333.6h1M237.9 338.7h1M230.9 341.1h1M240.9 343.3h1M234.0 341.1h1M233.1 341.0h1M236.1 343.7h1M238.1 336.1h1M232.0 349.5h1M233.8 359.4h1M234.1 339.3h1M239.3 336.9h1M238.1 349.3h1M235.8 354.0h1M235.8 340.7h1M241.7 342.4h1M238.8 326.3h1M232.4 344.2h1M241.7 336.2h1M249.1 321.2h1M241.4 335.5h1M244.9 338.0h1M242.9 335.3h1M248.2 331.7h1M231.7 337.7h1M237.3 345.0h1M234.5 348.9h1M248.1 335.9h1M237.6 337.2h1M235.1 343.5h1M237.4 339.0h1M242.7 336.4h1M238.2 335.5h1M230.0 341.3h1M233.3 342.6h1M241.2 331.5h1M236.3 344.8h1M234.3 336.9h1M234.5 343.7h1M233.9 337.1h1M246.4 331.7h1M234.3 336.0h1M238.0 339.9h1M234.8 337.8h1M239.5 337.9h1M244.6 329.2h1M240.8 326.9h1M240.4 348.6h1M241.0 334.3h1M244.4 331.2h1M240.0 340.6h1M239.9 338.3h1M243.2 340.6h1M231.9 329.7h1M240.5 339.8h1M240.5 336.5h1M241.6 324.2h1M235.2 349.1h1M232.1 332.6h1M239.7 331.3h1M241.0 339.8h1M242.4 323.0h1M234.1 340.1h1M242.8 339.6h1M237.6 331.4h1M239.0 345.7h1M234.5 339.0h1M241.1 324.6h1M239.6 335.3h1M239.1 338.7h1M244.2 335.4h1M242.7 326.9h1M239.2 337.7h1M236.1 338.7h1M237.5 328.6h1M234.9 352.6h1M239.1 334.9h1M238.1 333.1h1M235.4 345.0h1M224.2 321.2h1M224.3 323.2h1M223.2 322.7h1M224.3 324.3h1M224.8 323.0h1M225.7 320.6h1M224.0 321.2h1M224.9 323.8h1M227.2 322.0h1M225.5 322.0h1M225.3 322.5h1" stroke="#000" stroke-width="1" stroke-opacity="0.21" fill="none"/>
<path d="M209.9 353.8h1M221.1 336.0h1M215.3 349.9h1M213.8 350.5h1M210.2 354.9h1M211.4 366.2h1M211.5 364.6h1M212.7 346.8h1M212.4 365.3h1M213.6 337.0h1M215.8 361.7h1M213.8 383.4h1M210.0 378.0h1M227.1 329.5h1M219.3 360.8h1M214.4 375.6h1M201.5 356.4h1M212.7 364.2h1M216.5 367.5h1M216.6 348.3h1M210.2 372.9h1M212.6 356.3h1M211.4 359.4h1M210.6 363.4h1M213.9 382.3h1M219.3 329.1h1M212.6 370.0h1M229.3 337.1h1M220.4 367.7h1M210.2 373.6h1M213.2 359.6h1M220.9 345.7h1M213.5 345.8h1M214.3 379.1h1M216.7 353.2h1M219.7 337.7h1M205.3 359.6h1M216.5 350.9h1M208.3 365.7h1M207.2 375.7h1M228.5 339.4h1M211.7 349.3h1M213.9 369.7h1M219.7 321.4h1M219.5 350.4h1M215.3 382.0h1M211.3 373.7h1M222.0 322.5h1M217.8 362.6h1M211.6 376.9h1M216.8 359.7h1M213.2 359.8h1M216.5 356.8h1M225.3 341.2h1M210.9 362.4h1M211.3 378.4h1M213.0 327.4h1M208.0 347.7h1M216.4 354.0h1M210.6 367.4h1M206.6 354.8h1M213.7 379.3h1M212.2 352.5h1M211.5 342.3h1M210.8 378.3h1M204.7 361.1h1M214.8 363.8h1M217.8 354.4h1M219.5 347.2h1M212.6 360.1h1M215.1 357.8h1M216.8 374.9h1M213.1 364.3h1M215.2 348.8h1M214.4 377.2h1M212.1 372.1h1M216.6 379.6h1M209.4 355.2h1M216.8 360.7h1M224.9 330.2h1M218.1 335.4h1M207.5 356.6h1M210.2 363.6h1M210.4 372.7h1M209.3 374.8h1M214.4 345.7h1M215.7 357.8h1M211.7 377.1h1M216.9 370.3h1M217.9 354.8h1M214.3 356.1h1M205.9 376.1h1M217.6 322.8h1M221.9 350.1h1M215.1 383.6h1M210.0 371.6h1M219.9 331.3h1M213.2 325.1h1M214.2 349.9h1M214.2 332.9h1M213.6 370.9h1M206.0 373.4h1M213.8 381.3h1M216.6 345.1h1M216.4 355.4h1M212.1 361.5h1M223.7 342.3h1M210.4 374.7h1M208.1 383.4h1M217.3 354.4h1M223.7 334.6h1M209.7 384.6h1M211.6 378.8h1M208.8 373.9h1M216.4 367.9h1M212.4 377.6h1M209.8 352.9h1M215.5 349.1h1M210.9 376.2h1M220.0 330.7h1M207.6 365.2h1M214.4 349.0h1M222.0 347.2h1M212.0 365.6h1M215.5 374.4h1M216.7 328.5h1M214.6 374.3h1M222.1 343.1h1M207.9 355.0h1M224.5 330.1h1M208.3 376.3h1M215.4 366.3h1M213.1 359.7h1M216.0 375.9h1M207.0 368.8h1M211.3 360.5h1M218.2 347.1h1M215.3 351.9h1M209.8 371.1h1M220.1 349.4h1M206.2 365.9h1M213.5 378.1h1M215.3 350.8h1M214.3 329.0h1M213.1 351.2h1M215.5 380.3h1M214.9 334.5h1M214.1 370.0h1M214.9 384.8h1M213.6 350.0h1M213.4 373.8h1M214.6 364.6h1M214.8 361.7h1M215.5 369.6h1M214.5 356.6h1M210.4 356.3h1M214.8 366.9h1M221.3 326.5h1M215.0 369.4h1M211.6 363.8h1M216.7 358.7h1M213.9 325.2h1M212.1 363.2h1M217.3 374.1h1M219.1 328.4h1M215.9 353.4h1M214.0 364.1h1M222.4 337.4h1M208.2 365.4h1M208.1 352.3h1M209.2 377.2h1M216.2 384.7h1M215.0 368.7h1M216.4 367.6h1M207.6 366.7h1M211.8 374.4h1M208.8 350.5h1M211.5 346.2h1M223.6 338.4h1M213.9 358.6h1M211.5 381.1h1M217.0 370.4h1M211.5 369.6h1M213.6 365.4h1M217.5 355.6h1M222.1 336.2h1M220.5 346.4h1M217.7 351.0h1M213.1 346.3h1M212.6 371.2h1M208.0 381.8h1M213.8 372.2h1M215.4 336.5h1M217.9 341.4h1M219.6 322.6h1M221.2 331.4h1M208.6 369.6h1M215.1 371.9h1M214.8 367.8h1M221.6 363.6h1M211.7 341.1h1M216.6 374.2h1M219.5 371.5h1M216.8 345.5h1M225.8 327.2h1M226.1 345.8h1M216.3 363.9h1M222.4 359.6h1M213.8 384.6h1M216.5 354.1h1M211.2 345.9h1M213.3 359.5h1M208.2 373.8h1M217.0 335.9h1M223.2 343.8h1M215.9 360.2h1M221.2 345.9h1M209.7 376.8h1M217.7 356.0h1M212.9 362.7h1M207.5 367.3h1M213.5 354.6h1M215.4 371.8h1M211.7 356.8h1M207.9 352.2h1M217.7 352.5h1M214.5 380.8h1M218.7 369.2h1M217.5 341.8h1M218.9 350.4h1M216.3 376.3h1M215.0 379.3h1M213.6 351.2h1M213.9 373.0h1M210.0 373.0h1M220.0 343.0h1M210.7 374.8h1M209.0 356.9h1M212.4 365.1h1M220.3 349.9h1M207.0 356.0h1M213.6 347.6h1M228.6 328.3h1M217.6 355.9h1M217.9 352.4h1M221.1 329.1h1M209.4 364.3h1M215.9 349.8h1M218.2 340.1h1M210.9 364.3h1M226.0 344.1h1M220.3 328.6h1M223.5 357.2h1M209.1 366.0h1M212.4 358.6h1M212.9 383.4h1M220.6 331.3h1M213.5 360.2h1M218.1 363.6h1M223.0 322.9h1M218.0 382.4h1M223.2 345.8h1M219.7 323.7h1M216.0 368.9h1M223.5 374.1h1M213.3 359.7h1M207.2 370.7h1M215.8 370.4h1M216.6 357.2h1M210.5 362.2h1M223.1 341.7h1M200.4 357.2h1M218.6 348.4h1M215.8 366.9h1M226.9 326.4h1M218.2 342.2h1M224.7 338.4h1M212.7 370.0h1M228.5 322.9h1M232.5 332.4h1M218.1 357.1h1M216.0 347.6h1M217.6 351.5h1M213.0 378.0h1M222.8 348.5h1M213.6 365.8h1M211.1 372.7h1M212.2 364.2h1M208.3 378.7h1M217.7 348.9h1M217.5 362.0h1M213.2 370.4h1M212.2 341.9h1M217.3 366.6h1M211.7 377.0h1M216.0 369.3h1M222.7 348.6h1M213.4 341.5h1M214.6 365.7h1M213.2 357.1h1M209.2 362.7h1M211.7 362.3h1M227.1 341.8h1M216.4 342.6h1M210.2 376.5h1M217.4 373.3h1M215.6 322.5h1M214.8 358.9h1M229.0 340.8h1M218.3 349.2h1M218.8 323.3h1M212.1 339.9h1M211.9 351.5h1M211.8 354.8h1M217.6 364.1h1M216.8 351.7h1M217.8 349.8h1M213.1 364.5h1M213.9 359.1h1M225.4 330.5h1M217.4 350.8h1M218.4 357.9h1M209.0 384.0h1M212.5 382.1h1M215.3 348.6h1M219.6 368.5h1M209.2 354.7h1M203.1 354.5h1M222.3 337.5h1M218.0 347.8h1M210.4 381.9h1M209.7 376.6h1M209.1 374.9h1M217.8 346.0h1M213.1 350.6h1M205.4 375.1h1M216.3 368.7h1M217.7 363.8h1M214.5 369.6h1M214.9 324.0h1M205.5 380.3h1M211.1 373.8h1M216.7 334.9h1M214.9 365.2h1M211.1 362.8h1M218.6 346.5h1M218.3 352.9h1M213.2 376.1h1M216.4 382.4h1M220.5 365.7h1M218.0 380.2h1M217.1 347.9h1M212.4 370.8h1M211.5 326.4h1M212.2 379.9h1M221.2 332.2h1M213.3 355.2h1M214.1 378.5h1M216.1 380.1h1M215.3 351.0h1M211.0 373.3h1M209.5 379.5h1M213.9 383.6h1M222.2 327.5h1M214.1 373.9h1M216.3 332.2h1M213.8 377.4h1M215.6 360.9h1M210.1 325.9h1M216.2 347.9h1M211.1 361.8h1M217.8 338.0h1M216.1 345.2h1M214.6 379.9h1M216.0 329.3h1M224.5 335.7h1M224.4 332.2h1M214.2 365.9h1M211.3 364.7h1M214.8 338.7h1M218.1 355.0h1M220.2 345.1h1M216.2 352.9h1M211.8 368.2h1M225.3 326.6h1M212.0 367.6h1M207.2 377.7h1M221.1 327.8h1M223.7 357.0h1M215.2 359.3h1M218.7 335.2h1M206.7 360.5h1M220.7 364.8h1M215.8 363.2h1M215.3 355.5h1M213.3 358.7h1M222.5 344.8h1M216.9 375.1h1M220.3 354.6h1M213.1 385.6h1M224.8 334.9h1M219.9 337.2h1M208.0 360.0h1M219.1 374.2h1M214.1 349.9h1M215.2 366.9h1M214.4 341.5h1M215.0 375.3h1M213.9 361.8h1M212.3 344.9h1M223.1 350.4h1M214.2 357.3h1M211.5 376.2h1M226.2 326.1h1M214.7 364.5h1M212.8 373.7h1M207.9 368.8h1M208.8 372.7h1M217.2 360.3h1M219.5 329.9h1M210.8 383.0h1M205.9 363.1h1M211.6 382.1h1M217.7 346.4h1M206.1 379.1h1M221.4 345.5h1M213.2 350.2h1M218.9 376.6h1M218.0 355.2h1M209.9 375.9h1M210.5 375.7h1M216.9 347.5h1M226.4 341.0h1M217.9 360.8h1M213.3 328.3h1M219.5 329.4h1M217.4 366.9h1M215.3 326.9h1M215.1 351.4h1M210.7 364.6h1M217.6 323.5h1M213.5 380.5h1M208.8 359.2h1M218.6 346.5h1M213.4 333.1h1M214.3 365.9h1M217.7 361.9h1M218.4 324.7h1M218.6 365.6h1M211.0 366.4h1M216.9 354.0h1M212.4 372.5h1M207.9 383.1h1M212.4 375.0h1M213.8 377.1h1M215.8 363.5h1M212.3 373.9h1M221.5 350.0h1M229.3 338.9h1M219.4 344.0h1M225.5 336.0h1M219.2 349.2h1M222.2 337.1h1M221.6 321.9h1M214.8 362.6h1M215.5 380.7h1M214.2 374.0h1M221.8 350.2h1M214.5 339.3h1M216.7 351.6h1M202.8 344.1h1M217.5 337.3h1M216.6 341.9h1M213.5 383.1h1M223.2 328.0h1M215.2 350.8h1M215.5 363.4h1M206.0 355.2h1M216.2 383.2h1M218.4 354.9h1M208.7 379.5h1M210.0 368.1h1M220.4 322.2h1M211.4 354.1h1M214.9 352.3h1M220.4 334.1h1M218.4 354.0h1M222.2 347.8h1M214.0 376.0h1M213.5 380.7h1M225.1 338.7h1M223.2 330.7h1M214.4 365.1h1M221.0 326.7h1M216.4 369.1h1M214.7 371.4h1M223.2 338.7h1M217.4 372.1h1M220.5 351.5h1M216.4 380.4h1M205.6 380.6h1M211.4 376.2h1M205.6 360.3h1M215.3 379.8h1M222.8 327.8h1M212.0 380.0h1M213.1 347.1h1M216.6 349.2h1M209.5 373.6h1M209.3 382.1h1M212.7 346.0h1M213.5 363.5h1M222.0 341.8h1M221.8 363.0h1M218.6 346.4h1M209.8 359.7h1M220.6 335.0h1M217.7 360.8h1M209.6 353.1h1M217.5 358.8h1M215.7 345.1h1M219.9 321.2h1M210.4 385.1h1M221.5 338.5h1M219.3 346.5h1M212.0 352.7h1M209.4 381.2h1M211.6 373.1h1M218.0 360.1h1M220.3 350.6h1M220.3 342.4h1M218.4 353.4h1M208.0 383.8h1M213.7 368.3h1M209.5 381.5h1M211.9 374.2h1M210.3 349.6h1M212.8 358.8h1M216.0 374.3h1M220.0 360.8h1M214.6 357.1h1M225.8 326.4h1M217.4 357.4h1M217.7 339.3h1M214.5 351.2h1M220.1 346.0h1M208.9 360.2h1M214.1 382.1h1M212.7 367.2h1M207.4 382.2h1M221.4 346.4h1M228.7 327.9h1M212.8 373.0h1M213.9 346.1h1M211.1 360.6h1M212.4 378.4h1M208.1 365.1h1M212.4 369.4h1M219.9 361.6h1M217.5 361.1h1M209.3 353.8h1M216.6 364.8h1M219.4 350.2h1M215.6 340.2h1M209.9 379.2h1M206.1 357.4h1M217.2 361.0h1M219.3 363.1h1M212.4 380.3h1M219.1 347.9h1M218.0 343.5h1M221.3 357.0h1M221.0 334.9h1M223.7 352.8h1M213.1 369.6h1M222.9 353.5h1M214.5 385.3h1M208.7 364.6h1M208.4 378.0h1M213.9 363.2h1M214.1 365.3h1M211.0 334.3h1M226.0 343.4h1M214.5 351.6h1M207.0 367.4h1M215.2 364.9h1M220.8 342.3h1M212.3 371.4h1M218.2 360.1h1M215.9 362.3h1M213.1 381.3h1M221.6 336.9h1M210.6 380.3h1M215.9 347.6h1M213.7 375.9h1M214.9 360.3h1M210.2 367.9h1M214.2 359.5h1M213.6 385.5h1M207.4 355.9h1M213.0 381.8h1M218.2 347.8h1M211.9 372.2h1M221.5 350.4h1M209.8 379.6h1M205.6 356.3h1M227.7 329.3h1M221.4 337.9h1M230.7 328.2h1M216.1 363.5h1M214.4 365.1h1M217.4 360.6h1M220.8 333.9h1M213.4 372.2h1M215.6 349.2h1M221.9 354.7h1M219.8 334.7h1M224.3 336.4h1M219.9 345.4h1M219.4 334.1h1M221.8 338.1h1M214.0 382.5h1M225.7 345.2h1M222.3 347.2h1M212.8 333.0h1M212.3 372.1h1M219.5 359.8h1M215.4 366.2h1M212.5 351.7h1M212.3 369.9h1M214.9 371.8h1M217.6 331.0h1M218.6 334.6h1M218.5 368.7h1M217.4 360.7h1M214.9 375.9h1M212.1 374.5h1M213.9 364.5h1M213.0 379.9h1M225.8 326.1h1M216.4 369.4h1M214.4 349.6h1M209.5 378.4h1M213.8 370.0h1M220.6 350.2h1M220.8 361.8h1M218.5 378.4h1M210.6 344.2h1M207.6 370.6h1M219.0 343.3h1M205.1 364.2h1M211.6 368.8h1M218.3 332.9h1M214.4 337.5h1M213.5 376.1h1M201.3 379.7h1M216.0 365.1h1M199.1 349.7h1M206.7 374.0h1M228.9 353.4h1M215.0 377.3h1M206.0 365.5h1M212.3 360.2h1M209.5 356.4h1M219.9 363.3h1M227.7 356.8h1M212.2 374.3h1M219.1 340.5h1M208.0 331.9h1M223.3 353.5h1M227.5 337.9h1M212.2 343.3h1M209.5 384.4h1M218.8 332.5h1M201.3 378.9h1M210.9 353.6h1M212.4 367.0h1M231.1 336.2h1M224.8 325.2h1M213.0 327.6h1M200.4 327.4h1M222.4 356.5h1M200.4 368.0h1M219.1 359.4h1M227.3 338.8h1M226.6 325.4h1M211.6 376.0h1M208.0 378.1h1M211.6 357.0h1M216.5 384.4h1M216.5 353.9h1M219.7 361.3h1M200.8 362.3h1M225.3 363.0h1M207.6 383.3h1M210.8 342.1h1M205.1 382.0h1M222.8 372.7h1M204.6 366.0h1M208.5 371.3h1M205.4 329.0h1M205.1 363.1h1M209.3 345.5h1M201.4 358.5h1M203.9 385.0h1M208.8 358.4h1M211.7 349.9h1M211.2 375.9h1M215.0 375.3h1M214.2 376.2h1M225.9 364.4h1M216.8 349.7h1M218.2 344.2h1M214.6 356.6h1M221.8 343.2h1M204.2 380.3h1M200.4 354.5h1M205.5 368.1h1M215.7 370.4h1M222.2 352.7h1M221.1 368.0h1M211.7 345.8h1M210.8 376.4h1M228.5 361.1h1M204.4 355.6h1M205.0 369.5h1M211.1 369.4h1M223.5 372.5h1M213.3 375.9h1M220.1 330.2h1M210.5 354.2h1M212.9 372.5h1M211.3 342.2h1M212.8 355.5h1M213.8 336.3h1M220.4 335.4h1M211.3 357.8h1M200.5 375.7h1M209.8 369.4h1M211.6 352.1h1M236.6 337.5h1M229.2 327.9h1M209.1 368.9h1M205.7 376.7h1M212.4 358.2h1M230.7 354.3h1M209.5 359.9h1M229.3 342.6h1M231.9 323.9h1M205.7 347.3h1M224.0 328.8h1M225.1 334.9h1M209.5 341.1h1M218.1 363.6h1M199.4 377.3h1M209.4 347.2h1M216.3 367.0h1M218.3 327.3h1M221.0 367.8h1M226.1 350.9h1M207.9 374.5h1M214.1 366.8h1M211.3 354.5h1M213.4 374.6h1M226.2 329.4h1M212.5 357.9h1M216.5 342.0h1M225.8 352.7h1M215.2 370.9h1M210.9 385.2h1M212.3 380.3h1M224.2 321.0h1M219.7 362.6h1M214.3 338.6h1M209.7 331.1h1M211.9 376.2h1M214.6 370.6h1M216.8 351.8h1M224.1 345.2h1M204.9 369.0h1M232.1 334.0h1M227.7 359.9h1M222.9 335.4h1M234.9 335.1h1M206.1 378.3h1M221.2 348.0h1M208.3 335.3h1M205.5 353.6h1M217.8 351.9h1M210.8 348.2h1M211.6 352.6h1M213.4 376.9h1M230.9 337.3h1M238.5 336.2h1M245.8 330.3h1M236.5 346.9h1M237.1 334.7h1M239.1 340.7h1M234.0 346.1h1M242.7 337.4h1M236.4 336.4h1M238.8 338.5h1M235.9 339.2h1M240.0 334.4h1M237.3 342.4h1M239.5 331.1h1M236.3 341.1h1M239.2 334.5h1M240.4 336.0h1M239.2 336.9h1M241.5 339.7h1M237.8 335.4h1M235.8 340.5h1M244.9 332.2h1M234.5 346.1h1M236.4 341.6h1M238.0 343.8h1M231.6 344.7h1M240.8 331.0h1M239.9 337.6h1M239.6 333.5h1M237.2 335.1h1M239.6 341.0h1M235.5 338.7h1M235.2 346.7h1M243.6 320.9h1M239.1 348.1h1M230.9 350.1h1M237.1 338.7h1M242.8 339.4h1M237.8 344.6h1M243.1 343.7h1M238.6 335.5h1M240.1 328.9h1M235.8 340.0h1M228.9 350.5h1M242.4 328.8h1M239.4 330.7h1M232.9 346.4h1M237.8 335.9h1M237.4 354.5h1M235.2 330.9h1M244.3 333.9h1M242.0 328.5h1M232.6 345.7h1M240.5 345.6h1M233.9 345.2h1M241.3 322.4h1M237.2 342.1h1M236.4 346.3h1M232.0 353.9h1M236.8 347.0h1M239.9 325.4h1M240.1 338.7h1M238.9 334.8h1M235.1 346.0h1M232.1 345.7h1M235.9 335.1h1M242.7 338.8h1M236.9 345.0h1M232.2 346.1h1M238.7 339.2h1M239.9 333.4h1M236.1 348.3h1M239.4 330.3h1M246.0 330.9h1M236.8 336.7h1M234.6 342.4h1M238.0 338.5h1M242.6 324.8h1M236.0 343.6h1M239.8 348.4h1M236.6 345.9h1M238.0 341.6h1M240.5 334.3h1M236.7 340.2h1M237.4 325.1h1M243.0 334.9h1M233.6 337.4h1M239.7 339.4h1M236.7 343.2h1M241.2 335.4h1M232.7 346.4h1M234.1 357.2h1M234.7 343.4h1M243.7 326.5h1M245.2 329.4h1M237.0 339.8h1M237.8 337.2h1M232.1 335.9h1M222.9 322.3h1M223.6 323.4h1M223.4 321.3h1M223.6 323.4h1M224.1 322.4h1M222.6 323.3h1M224.0 322.5h1M226.3 321.7h1M221.8 321.2h1M225.6 324.7h1M223.5 321.9h1M224.3 321.2h1" stroke="#000" stroke-width="1" stroke-opacity="0.21" fill="none"/>
</g>
<polygon points="232.1,255.3 240.2,249.3 252.2,253.2 245.1,277.6 233.7,285.2 231,270" fill="none" stroke="#333" stroke-width="0.8"/>
<polygon points="232.6,328 240.8,321.4 253.8,325.2 245.1,348.6 236.4,355.7 231,347" fill="none" stroke="#333" stroke-width="0.8"/>
<path d="M371.5 248.6H437.4V314.0" stroke="#9a9a9a" stroke-width="1.2" fill="none"/>
<path d="M371.5 248.6V314.0H437.4" stroke="#555" stroke-width="1.2" fill="none"/>
<line x1="371.5" y1="302.1090909090909" x2="370.0" y2="302.1090909090909" stroke="#777" stroke-width="0.8"/>
<line x1="383.4818181818182" y1="314.0" x2="383.4818181818182" y2="315.5" stroke="#777" stroke-width="0.8"/>
<line x1="371.5" y1="290.2181818181818" x2="370.0" y2="290.2181818181818" stroke="#777" stroke-width="0.8"/>
<line x1="395.46363636363634" y1="314.0" x2="395.46363636363634" y2="315.5" stroke="#777" stroke-width="0.8"/>
<line x1="371.5" y1="278.3272727272727" x2="370.0" y2="278.3272727272727" stroke="#777" stroke-width="0.8"/>
<line x1="407.44545454545454" y1="314.0" x2="407.44545454545454" y2="315.5" stroke="#777" stroke-width="0.8"/>
<line x1="371.5" y1="266.43636363636364" x2="370.0" y2="266.43636363636364" stroke="#777" stroke-width="0.8"/>
<line x1="419.4272727272727" y1="314.0" x2="419.4272727272727" y2="315.5" stroke="#777" stroke-width="0.8"/>
<line x1="371.5" y1="254.54545454545456" x2="370.0" y2="254.54545454545456" stroke="#777" stroke-width="0.8"/>
<line x1="431.4090909090909" y1="314.0" x2="431.4090909090909" y2="315.5" stroke="#777" stroke-width="0.8"/>
<path d="M372.0 319.3H439.0V386.6" stroke="#9a9a9a" stroke-width="1.2" fill="none"/>
<path d="M372.0 319.3V386.6H439.0" stroke="#555" stroke-width="1.2" fill="none"/>
<line x1="372.0" y1="374.3636363636364" x2="370.5" y2="374.3636363636364" stroke="#777" stroke-width="0.8"/>
<line x1="384.1818181818182" y1="386.6" x2="384.1818181818182" y2="388.1" stroke="#777" stroke-width="0.8"/>
<line x1="372.0" y1="362.1272727272727" x2="370.5" y2="362.1272727272727" stroke="#777" stroke-width="0.8"/>
<line x1="396.3636363636364" y1="386.6" x2="396.3636363636364" y2="388.1" stroke="#777" stroke-width="0.8"/>
<line x1="372.0" y1="349.8909090909091" x2="370.5" y2="349.8909090909091" stroke="#777" stroke-width="0.8"/>
<line x1="408.54545454545456" y1="386.6" x2="408.54545454545456" y2="388.1" stroke="#777" stroke-width="0.8"/>
<line x1="372.0" y1="337.6545454545455" x2="370.5" y2="337.6545454545455" stroke="#777" stroke-width="0.8"/>
<line x1="420.72727272727275" y1="386.6" x2="420.72727272727275" y2="388.1" stroke="#777" stroke-width="0.8"/>
<line x1="372.0" y1="325.41818181818184" x2="370.5" y2="325.41818181818184" stroke="#777" stroke-width="0.8"/>
<line x1="432.9090909090909" y1="386.6" x2="432.9090909090909" y2="388.1" stroke="#777" stroke-width="0.8"/>
<g filter="url(#bl)">
<path d="M389.2 274.1h1M388.0 261.1h1M375.9 279.1h1M394.5 259.4h1M374.7 293.5h1M380.7 281.5h1M378.4 299.0h1M386.8 293.8h1M375.2 289.6h1M392.2 265.3h1M381.9 297.8h1M377.8 298.7h1M386.2 268.7h1M383.6 288.2h1M375.2 306.8h1M376.5 277.1h1M375.6 273.3h1M378.2 298.3h1M382.0 307.1h1M388.1 270.5h1M385.1 280.8h1M390.0 262.5h1M374.9 309.2h1M380.7 285.9h1M388.6 261.4h1M388.9 279.2h1M373.0 310.9h1M384.8 264.7h1M378.4 297.1h1M380.8 289.4h1M372.4 296.3h1M392.1 285.2h1M382.4 286.4h1M375.6 283.4h1M373.1 309.2h1M374.2 308.6h1M386.0 290.7h1M377.5 279.0h1M381.0 290.4h1M381.1 287.1h1M389.7 261.3h1M378.7 288.6h1M394.0 267.3h1M373.8 311.8h1M402.8 269.0h1M373.9 310.8h1M396.5 258.0h1M374.2 291.1h1M372.6 305.9h1M374.9 291.7h1M378.1 289.1h1M373.8 294.6h1M374.5 305.5h1M380.7 285.5h1M375.5 303.8h1M378.0 302.2h1M387.4 282.1h1M380.4 288.6h1M395.3 255.7h1M372.8 295.3h1M385.8 288.9h1M380.5 303.9h1M375.3 292.2h1M375.0 299.0h1M391.7 269.9h1M388.6 302.7h1M384.5 268.8h1M378.8 309.6h1M389.3 267.1h1M378.8 300.9h1M387.3 300.9h1M377.2 308.6h1M383.7 260.9h1M381.1 285.8h1M399.9 256.5h1M381.1 280.7h1M376.7 306.3h1M388.2 254.0h1M382.4 289.3h1M372.7 311.3h1M387.4 269.6h1M375.7 290.7h1M390.2 256.1h1M385.0 268.5h1M372.5 310.4h1M382.4 292.4h1M375.6 300.6h1M376.8 289.1h1M378.4 302.5h1M372.5 303.3h1M374.7 309.5h1M381.8 287.2h1M385.1 273.1h1M390.9 264.9h1M381.3 306.6h1M373.2 311.7h1M393.0 259.1h1M388.7 304.1h1M374.7 302.4h1M384.0 289.8h1M383.9 281.1h1M397.7 261.2h1M391.4 257.0h1M374.5 311.1h1M383.4 275.5h1M375.7 293.4h1M386.1 286.4h1M376.7 299.4h1M393.9 266.1h1M389.2 259.0h1M384.1 298.5h1M379.0 306.8h1M395.7 266.4h1M385.7 262.4h1M382.3 288.0h1M379.1 299.0h1M380.3 304.6h1M382.7 265.1h1M378.8 274.0h1M373.6 310.3h1M391.2 263.9h1M389.4 274.4h1M378.7 303.9h1M373.5 300.7h1M389.4 257.1h1M380.5 257.3h1M389.4 270.7h1M375.5 290.3h1M392.7 288.2h1M387.7 265.4h1M379.7 296.4h1M379.9 292.0h1M379.9 297.0h1M375.3 274.1h1M384.1 282.0h1M378.9 273.3h1M375.9 293.7h1M380.5 281.8h1M374.5 292.6h1M373.7 308.1h1M389.9 274.0h1M395.0 269.3h1M391.3 286.3h1M384.6 255.8h1M372.6 301.4h1M380.5 278.5h1M379.9 308.8h1M393.7 287.3h1M379.1 287.3h1M387.2 302.8h1M387.8 279.4h1M383.7 260.8h1M385.6 268.7h1M373.6 309.0h1M391.5 292.5h1M378.5 309.2h1M385.5 296.4h1M386.6 269.4h1M377.6 300.2h1M382.1 293.5h1M377.0 299.2h1M376.4 297.7h1M383.9 286.1h1M373.7 294.0h1M375.1 291.1h1M381.4 276.7h1M386.2 258.0h1M380.2 292.5h1M374.0 298.0h1M378.5 282.3h1M398.3 261.1h1M379.3 300.8h1M376.7 261.9h1M394.5 256.6h1M383.2 260.2h1M396.8 265.3h1M376.4 307.7h1M391.9 278.0h1M374.0 312.1h1M379.5 276.3h1M378.3 294.7h1M378.4 283.5h1M392.9 262.2h1M375.5 291.1h1M374.3 303.1h1M381.0 291.0h1M379.6 291.8h1M390.5 263.3h1M376.1 286.0h1M374.7 306.8h1M372.4 311.6h1M373.3 312.2h1M378.6 287.3h1M380.8 285.4h1M378.1 278.4h1M380.7 310.6h1M390.6 254.0h1M396.5 277.9h1M377.7 283.5h1M382.6 293.9h1M385.0 289.2h1M384.3 281.1h1M372.2 287.1h1M392.2 286.0h1M372.7 312.0h1M388.1 283.2h1M387.8 282.4h1M384.8 290.0h1M389.9 263.7h1M387.8 252.5h1M379.0 303.0h1M386.5 281.2h1M382.6 291.1h1M379.7 296.2h1M372.8 311.7h1M394.6 270.8h1M396.0 255.2h1M379.9 307.1h1M381.9 282.9h1M386.4 296.4h1M375.0 300.0h1M383.7 277.1h1M382.3 292.9h1M382.0 301.1h1M378.3 306.2h1M379.9 306.2h1M372.9 300.3h1M382.5 293.8h1M378.2 304.5h1M382.3 274.5h1M383.6 289.9h1M381.6 287.5h1M383.7 307.2h1M384.7 275.3h1M374.1 295.9h1M388.4 265.9h1M375.1 310.1h1M383.1 277.4h1M374.8 286.4h1M378.2 310.5h1M377.7 298.0h1M388.8 259.3h1M385.5 277.0h1M380.8 280.2h1M372.7 304.7h1M384.8 286.0h1M375.3 289.9h1M373.4 298.0h1M381.8 280.9h1M375.2 304.8h1M372.6 306.3h1M376.8 285.3h1M372.7 298.9h1M386.3 283.8h1M383.4 275.0h1M383.1 274.5h1M398.1 270.9h1M388.5 262.4h1M381.1 301.5h1M394.2 259.7h1M378.6 272.7h1M386.3 270.6h1M383.6 283.6h1M380.2 258.0h1M381.6 305.6h1M390.1 258.5h1M373.4 312.3h1M377.5 295.0h1M381.5 282.8h1M377.1 292.1h1M375.6 299.5h1M384.1 273.6h1M395.6 275.3h1M383.7 280.3h1M384.4 294.4h1M376.4 299.4h1M379.2 298.7h1M394.7 267.6h1M374.7 307.8h1M372.6 311.6h1M376.7 287.2h1M393.2 277.5h1M388.2 287.9h1M385.9 286.2h1M378.4 274.6h1M386.3 306.2h1M388.6 272.6h1M390.1 274.3h1M391.4 259.7h1M381.7 294.9h1M379.7 295.6h1M372.3 305.2h1M374.4 299.8h1M403.4 261.3h1M382.9 262.7h1M382.8 269.9h1M380.0 300.7h1M379.1 288.8h1M392.8 281.4h1M391.8 282.7h1M383.1 292.2h1M374.5 293.3h1M382.0 279.5h1M372.9 311.8h1M389.9 273.7h1M388.4 309.7h1M386.9 266.3h1M389.9 277.1h1M392.0 280.7h1M386.8 267.5h1M387.8 260.8h1M377.3 283.7h1M384.3 306.9h1M374.2 308.6h1M380.9 296.7h1M374.9 295.7h1M372.8 311.8h1M384.0 262.3h1M382.4 273.0h1M372.2 310.4h1M379.5 294.1h1M375.6 306.3h1M386.9 281.4h1M378.2 272.6h1M375.8 305.0h1M377.9 303.7h1M374.4 302.8h1M382.8 292.2h1M376.2 299.5h1M389.3 261.7h1M376.3 305.6h1M386.0 281.2h1M396.8 256.7h1M377.7 295.6h1M396.0 264.4h1M386.2 280.3h1M374.1 311.4h1M375.3 300.5h1M379.0 301.4h1M373.7 311.3h1M372.3 312.0h1M374.5 311.7h1M375.0 307.5h1M374.0 312.8h1M374.2 312.8h1M374.5 310.6h1M373.3 309.4h1M373.2 311.0h1M374.9 311.3h1M374.2 311.2h1" stroke="#000" stroke-width="1" stroke-opacity="0.15" fill="none"/>
<path d="M383.3 308.0h1M375.1 302.6h1M387.0 290.0h1M375.2 294.1h1M385.9 285.7h1M392.6 285.4h1M375.3 312.3h1M380.2 303.8h1M377.2 287.1h1M386.2 259.7h1M383.2 281.3h1M397.2 271.3h1M381.8 296.1h1M383.8 261.8h1M384.1 288.6h1M378.0 297.7h1M373.3 307.7h1M378.2 295.3h1M379.9 295.9h1M391.8 258.3h1M386.6 264.4h1M375.7 291.8h1M379.2 268.7h1M379.9 262.2h1M384.9 291.3h1M399.1 256.4h1M386.4 291.8h1M383.4 304.8h1M384.8 296.6h1M373.0 312.7h1M376.5 294.6h1M375.7 303.1h1M385.8 306.4h1M377.6 296.3h1M376.2 304.1h1M372.5 309.2h1M394.3 267.3h1M382.9 296.5h1M388.7 293.6h1M392.9 256.1h1M382.5 270.8h1M390.3 261.8h1M377.1 286.2h1M379.9 275.0h1M377.3 271.6h1M383.6 268.2h1M383.7 284.9h1M375.9 302.7h1M380.4 303.8h1M385.3 293.9h1M378.3 309.1h1M380.2 276.1h1M384.7 276.3h1M373.5 311.8h1M389.8 257.4h1M376.8 307.2h1M381.8 298.9h1M376.8 290.1h1M375.1 310.1h1M387.3 275.6h1M377.1 270.2h1M379.0 293.6h1M377.2 307.8h1M379.7 281.2h1M388.0 278.6h1M382.7 270.0h1M382.7 283.6h1M386.3 285.4h1M375.5 291.5h1M373.9 310.9h1M373.1 309.4h1M389.7 281.1h1M375.3 293.1h1M379.5 302.9h1M373.1 309.8h1M374.6 298.4h1M385.8 282.2h1M388.7 263.3h1M372.7 312.7h1M386.3 273.0h1M375.0 310.5h1M372.3 309.3h1M392.2 274.1h1M395.4 272.1h1M382.8 282.1h1M381.6 303.3h1M381.6 282.9h1M377.4 297.0h1M384.8 282.7h1M379.7 309.6h1M383.9 302.1h1M393.9 285.9h1M392.8 256.2h1M382.5 284.9h1M382.0 266.8h1M381.1 297.6h1M390.8 268.8h1M378.5 302.7h1M381.5 303.4h1M374.6 298.0h1M378.6 290.5h1M386.1 274.8h1M376.4 307.0h1M376.0 307.4h1M381.3 309.9h1M388.1 276.8h1M379.9 291.9h1M378.9 301.8h1M382.7 293.9h1M378.2 308.8h1M377.1 286.6h1M377.5 293.8h1M377.2 296.7h1M376.9 293.7h1M393.9 270.7h1M377.5 309.1h1M383.6 262.0h1M379.3 297.5h1M377.8 307.8h1M378.5 270.4h1M382.6 270.7h1M375.2 293.6h1M382.5 276.1h1M378.3 303.3h1M391.7 285.8h1M406.6 256.4h1M381.4 292.7h1M390.1 264.6h1M382.5 307.1h1M376.1 299.9h1M386.1 281.7h1M391.1 257.2h1M386.8 252.8h1M378.1 284.4h1M382.1 276.1h1M374.8 303.7h1M382.1 298.6h1M391.3 286.2h1M374.7 307.5h1M392.7 261.7h1M376.5 293.9h1M391.9 267.6h1M381.3 301.3h1M384.1 302.0h1M375.7 310.2h1M384.3 263.9h1M391.0 256.3h1M380.8 274.0h1M385.3 260.2h1M384.5 293.8h1M373.4 298.5h1M382.6 270.0h1M376.5 293.3h1M384.8 299.6h1M384.7 265.3h1M385.1 273.7h1M374.4 307.4h1M383.7 284.5h1M384.6 251.7h1M377.1 303.3h1M382.2 293.6h1M372.2 311.9h1M397.9 262.9h1M392.1 264.3h1M375.6 312.7h1M377.6 303.0h1M372.2 293.8h1M379.8 286.3h1M382.9 308.8h1M384.3 282.8h1M377.0 288.3h1M378.4 311.1h1M380.4 296.9h1M374.3 309.9h1M381.1 256.3h1M373.9 282.6h1M390.6 276.9h1M385.3 300.5h1M388.1 252.1h1M379.4 292.2h1M385.7 301.1h1M390.6 279.3h1M375.0 296.9h1M376.0 303.8h1M394.1 272.7h1M381.6 279.6h1M381.3 285.6h1M386.0 287.8h1M385.9 278.6h1M381.0 283.7h1M372.9 310.3h1M372.3 297.5h1M378.2 289.8h1M394.8 272.9h1M372.6 312.9h1M377.5 287.6h1M376.3 305.6h1M378.1 287.2h1M383.3 274.5h1M384.0 289.9h1M383.1 285.5h1M378.9 274.5h1M410.1 266.4h1M374.7 279.3h1M375.2 300.7h1M372.7 296.2h1M372.6 306.3h1M379.2 307.2h1M376.1 290.9h1M387.5 276.5h1M373.6 294.6h1M375.2 306.2h1M396.7 271.0h1M388.4 276.7h1M381.0 288.9h1M373.9 288.7h1M376.2 282.7h1M389.5 281.1h1M386.6 284.5h1M380.4 278.5h1M374.2 307.0h1M382.1 284.2h1M395.0 255.2h1M375.2 304.1h1M395.6 278.2h1M385.0 262.0h1M372.5 309.6h1M386.1 255.0h1M396.5 260.3h1M377.9 300.2h1M380.6 273.6h1M382.4 258.2h1M375.9 289.6h1M375.8 309.7h1M389.2 255.5h1M375.1 293.3h1M383.4 294.2h1M378.8 299.5h1M377.5 291.8h1M382.4 266.1h1M378.5 289.4h1M373.3 304.5h1M383.3 292.2h1M376.5 310.7h1M385.3 280.4h1M379.2 284.9h1M396.5 272.5h1M378.0 288.0h1M372.4 310.1h1M391.7 285.6h1M389.9 269.2h1M382.4 292.6h1M388.2 257.4h1M387.4 290.3h1M395.6 260.2h1M374.5 308.4h1M377.4 293.3h1M388.9 282.0h1M373.6 295.9h1M394.0 266.8h1M374.2 285.2h1M389.2 264.8h1M390.4 258.7h1M390.0 273.1h1M382.0 282.2h1M377.7 287.8h1M386.7 291.4h1M382.8 284.8h1M385.0 293.4h1M395.0 281.5h1M382.3 299.8h1M383.2 297.7h1M387.9 274.0h1M381.8 268.7h1M381.2 310.8h1M377.9 311.1h1M383.3 271.0h1M374.8 296.7h1M378.5 269.3h1M372.7 303.3h1M378.9 286.8h1M375.5 300.8h1M380.7 291.4h1M380.0 294.2h1M390.1 254.0h1M390.9 272.1h1M377.1 295.5h1M382.5 296.5h1M375.8 309.7h1M381.4 296.1h1M375.1 276.5h1M398.2 255.1h1M372.7 309.6h1M382.4 280.9h1M385.8 275.1h1M384.3 299.3h1M377.2 301.0h1M387.0 272.8h1M386.8 296.5h1M387.6 289.0h1M378.4 284.9h1M386.6 280.1h1M403.5 258.4h1M383.1 279.5h1M374.8 292.3h1M393.5 253.5h1M376.1 310.2h1M376.3 279.1h1M383.6 261.6h1M396.9 258.9h1M402.1 268.5h1M388.8 271.3h1M381.8 293.6h1M376.2 294.6h1M376.3 301.3h1M382.8 273.2h1M382.1 294.1h1M381.0 269.7h1M386.5 294.3h1M374.2 285.9h1M379.5 291.4h1M378.4 300.0h1M372.1 312.8h1M377.0 312.5h1M380.4 296.4h1M385.0 274.9h1M384.5 293.1h1M387.7 281.5h1M374.3 312.4h1M380.7 304.9h1M378.2 284.9h1M385.2 270.1h1M379.5 310.6h1M380.3 267.2h1M378.7 294.9h1M380.1 281.5h1M384.5 282.9h1M389.5 284.3h1M379.5 297.9h1M374.2 310.3h1M373.8 310.9h1M372.2 311.9h1M372.2 309.8h1M377.4 311.8h1M372.9 310.6h1M374.4 310.6h1M373.3 310.8h1M373.6 309.4h1M373.0 309.7h1M372.6 309.7h1" stroke="#000" stroke-width="1" stroke-opacity="0.15" fill="none"/>
<path d="M385.8 276.7h1M389.7 280.4h1M381.6 272.6h1M377.6 309.7h1M380.9 295.4h1M385.5 288.8h1M400.0 264.2h1M379.3 277.1h1M384.2 279.1h1M393.0 273.2h1M387.3 281.3h1M382.9 278.8h1M374.8 293.2h1M385.0 270.1h1M385.1 285.7h1M404.1 271.8h1M378.9 304.0h1M381.6 301.2h1M379.1 269.4h1M404.4 257.1h1M395.7 265.2h1M391.5 261.6h1M375.9 310.5h1M375.1 285.9h1M372.5 297.7h1M380.1 292.5h1M399.4 285.5h1M381.0 299.0h1M396.6 265.2h1M391.1 268.9h1M386.7 285.5h1M390.2 275.2h1M376.3 291.4h1M376.8 287.2h1M377.3 311.3h1M392.8 260.2h1M385.1 265.8h1M395.0 256.1h1M374.6 290.6h1M390.0 302.1h1M391.5 270.5h1M383.3 302.3h1M383.5 288.5h1M386.0 277.3h1M375.3 301.9h1M374.4 291.9h1M390.2 269.7h1M410.6 260.5h1M381.1 296.7h1M378.2 291.9h1M378.0 300.7h1M392.4 277.2h1M384.8 288.0h1M374.8 304.9h1M383.2 271.9h1M373.4 293.2h1M384.8 301.3h1M382.2 256.9h1M380.4 263.0h1M396.9 262.7h1M388.4 272.1h1M374.9 282.1h1M374.8 308.3h1M386.9 263.3h1M387.6 273.2h1M387.9 291.4h1M385.4 283.0h1M381.4 299.3h1M379.7 301.2h1M379.8 292.0h1M379.8 274.2h1M383.0 265.6h1M375.1 300.8h1M381.4 299.3h1M383.2 300.5h1M390.6 293.1h1M391.8 272.5h1M373.7 311.4h1M383.1 269.5h1M373.7 305.3h1M385.3 277.2h1M382.1 263.7h1M375.7 284.4h1M373.7 308.6h1M377.5 305.1h1M389.9 291.7h1M378.4 308.2h1M390.4 276.1h1M390.6 261.5h1M383.8 288.1h1M375.8 309.1h1M381.2 287.2h1M380.9 255.1h1M392.0 272.4h1M382.1 285.4h1M373.1 295.0h1M385.4 279.8h1M383.9 300.9h1M391.2 301.2h1M394.8 257.5h1M383.6 286.5h1M386.0 285.3h1M380.9 289.0h1M379.1 313.0h1M375.7 280.2h1M393.4 275.0h1M380.8 299.6h1M386.1 270.1h1M374.0 304.0h1M385.7 284.9h1M394.1 266.4h1M376.1 301.7h1M384.5 253.9h1M379.8 290.7h1M385.4 305.1h1M404.1 256.0h1M390.7 263.4h1M373.6 290.3h1M394.5 282.0h1M383.6 299.5h1M384.4 280.0h1M388.9 293.8h1M387.6 256.9h1M385.3 268.4h1M375.6 307.0h1M374.6 289.1h1M382.4 293.5h1M379.1 307.1h1M382.2 273.7h1M396.8 255.5h1M379.6 302.9h1M374.5 305.7h1M374.5 304.4h1M388.2 292.5h1M388.7 264.8h1M382.5 291.2h1M384.0 250.0h1M379.5 278.4h1M388.4 260.3h1M380.3 282.0h1M379.7 274.3h1M383.1 291.2h1M379.3 298.5h1M390.4 257.3h1M380.4 280.7h1M382.0 285.8h1M390.3 257.8h1M374.4 312.4h1M388.5 263.8h1M388.3 270.2h1M372.4 305.6h1M386.8 269.2h1M397.6 260.5h1M377.0 311.1h1M386.6 278.7h1M374.3 312.3h1M379.0 293.5h1M387.6 285.4h1M372.9 309.5h1M388.2 293.8h1M375.4 305.7h1M379.7 308.9h1M376.4 295.4h1M377.2 291.4h1M374.4 305.8h1M384.8 266.6h1M378.7 299.8h1M395.0 268.6h1M388.0 276.3h1M399.6 257.0h1M380.4 295.6h1M396.1 256.8h1M386.2 273.4h1M377.9 303.3h1M372.9 292.3h1M386.7 285.8h1M374.7 310.1h1M372.7 305.7h1M375.4 290.4h1M383.3 270.3h1M395.2 257.4h1M381.8 278.8h1M377.0 308.1h1M390.4 274.3h1M381.8 305.0h1M382.7 269.9h1M374.7 292.9h1M392.5 263.8h1M382.8 276.9h1M380.0 286.5h1M382.4 277.1h1M381.0 297.8h1M372.6 312.4h1M375.3 303.1h1M379.1 299.4h1M383.9 293.3h1M394.6 260.0h1M375.2 310.7h1M383.1 270.6h1M383.0 271.8h1M384.9 283.9h1M378.8 301.1h1M376.2 271.8h1M376.0 277.0h1M385.5 261.9h1M388.0 260.9h1M373.2 303.4h1M383.6 290.5h1M380.3 290.4h1M379.5 267.0h1M376.3 309.0h1M374.4 301.3h1M392.1 276.6h1M380.0 289.3h1M382.8 291.9h1M380.6 280.1h1M390.6 278.9h1M389.5 278.1h1M377.1 292.2h1M373.3 312.8h1M393.1 269.7h1M378.7 293.0h1M375.0 308.5h1M374.3 270.9h1M375.1 304.1h1M389.5 260.4h1M387.4 254.8h1M399.5 260.3h1M376.8 297.3h1M374.1 290.3h1M377.6 298.6h1M388.7 270.7h1M377.5 290.5h1M375.4 298.0h1M385.9 285.6h1M372.8 312.9h1M389.6 277.7h1M390.4 260.0h1M378.5 280.0h1M394.5 277.7h1M381.9 296.5h1M383.7 286.6h1M382.7 294.9h1M386.8 258.2h1M388.2 278.1h1M383.8 295.2h1M382.3 277.0h1M394.1 277.6h1M376.5 296.5h1M376.7 292.2h1M376.1 299.2h1M373.2 301.2h1M382.6 297.5h1M379.6 275.8h1M375.2 306.6h1M380.6 308.5h1M391.0 259.0h1M374.9 294.4h1M394.4 281.7h1M381.1 303.7h1M378.2 294.0h1M387.9 290.1h1M390.7 267.0h1M381.5 269.4h1M390.6 260.3h1M374.6 283.4h1M393.9 256.0h1M383.9 288.1h1M373.7 312.4h1M384.3 256.4h1M375.2 310.2h1M381.0 302.3h1M385.0 258.7h1M391.0 289.2h1M380.3 279.9h1M381.6 274.0h1M385.4 270.1h1M387.2 268.8h1M382.5 298.7h1M387.0 288.5h1M393.5 298.2h1M385.7 279.0h1M383.3 301.0h1M393.7 265.9h1M380.6 278.7h1M375.2 310.9h1M385.4 281.6h1M382.8 279.3h1M373.4 303.0h1M392.1 273.9h1M385.6 272.2h1M377.0 281.3h1M377.0 303.4h1M374.8 306.7h1M383.4 268.5h1M374.2 294.7h1M379.2 280.2h1M374.9 312.7h1M372.2 298.3h1M376.1 299.5h1M381.2 293.0h1M383.2 287.2h1M394.3 280.6h1M374.4 295.2h1M379.5 287.3h1M382.8 304.0h1M373.8 289.4h1M373.3 303.0h1M376.7 312.5h1M384.2 295.0h1M383.9 295.6h1M377.2 290.1h1M384.1 300.3h1M375.8 298.1h1M379.8 289.7h1M373.0 310.5h1M381.7 295.4h1M376.4 305.4h1M389.0 253.4h1M385.4 287.1h1M380.3 261.4h1M374.4 305.2h1M375.2 289.4h1M391.6 262.9h1M377.4 292.8h1M388.1 267.7h1M386.3 276.6h1M380.7 307.4h1M381.4 292.2h1M374.3 311.6h1M382.1 294.2h1M384.4 306.2h1M377.1 294.0h1M388.6 294.6h1M380.5 302.9h1M383.0 298.1h1M383.4 277.1h1M374.8 312.8h1M398.7 262.7h1M373.3 309.8h1M372.9 310.6h1M373.3 312.2h1M373.7 311.6h1M372.6 310.3h1M374.1 309.4h1M373.0 311.1h1M374.6 311.9h1M373.3 311.5h1M375.0 312.3h1M373.3 311.9h1" stroke="#000" stroke-width="1" stroke-opacity="0.15" fill="none"/>
<path d="M386.5 258.0h1M375.5 292.7h1M390.5 281.1h1M395.5 270.4h1M388.5 282.9h1M387.0 280.3h1M374.8 304.7h1M376.8 306.0h1M379.8 297.4h1M374.4 305.9h1M388.5 275.2h1M397.7 265.6h1M381.1 298.6h1M382.1 297.1h1M387.6 271.2h1M394.3 278.9h1M387.8 274.0h1M380.6 291.7h1M373.0 307.1h1M374.5 301.3h1M385.3 254.3h1M382.7 280.5h1M374.3 294.6h1M375.2 305.5h1M384.4 299.7h1M377.6 294.0h1M372.2 312.7h1M392.5 259.0h1M374.2 312.3h1M378.1 281.1h1M375.7 297.8h1M375.2 296.4h1M392.1 257.5h1M382.3 291.6h1M385.7 279.6h1M374.1 303.8h1M379.8 305.7h1M372.4 295.4h1M385.6 288.1h1M395.4 258.1h1M384.5 274.8h1M379.2 281.9h1M393.1 266.4h1M372.2 303.5h1M377.4 298.2h1M378.5 288.8h1M387.7 258.4h1M397.7 261.0h1M382.4 277.1h1M379.4 268.8h1M388.7 288.8h1M376.2 311.2h1M375.6 296.5h1M382.4 309.5h1M379.1 304.5h1M383.0 295.8h1M393.2 260.0h1M374.5 311.1h1M379.5 280.6h1M378.2 303.5h1M378.6 287.5h1M374.8 286.2h1M382.6 307.2h1M390.3 267.1h1M377.1 297.2h1M373.5 307.7h1M398.3 259.6h1M372.6 283.5h1M382.0 304.3h1M378.7 294.1h1M372.6 294.9h1M372.8 292.3h1M375.4 307.1h1M383.1 289.5h1M372.3 306.2h1M380.3 275.7h1M372.9 304.4h1M377.3 296.7h1M382.0 289.5h1M376.5 282.8h1M377.8 295.3h1M372.4 307.6h1M390.5 265.1h1M380.6 287.4h1M377.1 295.8h1M375.4 297.4h1M374.0 297.9h1M393.3 268.9h1M378.7 296.0h1M386.2 306.3h1M388.8 302.3h1M376.1 306.8h1M379.1 290.7h1M377.6 304.9h1M377.3 287.7h1M379.5 292.4h1M391.4 259.1h1M387.2 264.2h1M389.7 275.7h1M373.4 299.3h1M377.0 304.2h1M375.3 289.6h1M378.5 280.1h1M372.9 309.5h1M373.8 310.0h1M378.3 296.6h1M394.8 261.4h1M375.2 305.4h1M392.6 266.4h1M375.6 298.1h1M396.7 269.9h1M382.2 267.3h1M390.1 254.2h1M377.7 295.8h1M394.9 256.6h1M407.4 260.2h1M373.6 292.2h1M372.9 296.6h1M382.4 285.3h1M376.7 302.9h1M390.8 294.7h1M374.2 298.2h1M397.7 261.0h1M376.6 303.2h1M374.8 309.0h1M386.9 275.6h1M390.0 261.8h1M372.9 307.3h1M393.5 254.3h1M387.9 279.1h1M398.8 258.9h1M385.9 292.8h1M378.0 294.3h1M375.6 307.5h1M379.8 300.9h1M390.1 275.3h1M376.1 302.4h1M395.4 275.3h1M387.0 270.6h1M381.6 285.9h1M376.3 310.1h1M389.5 261.5h1M375.4 305.1h1M373.2 312.6h1M385.9 291.4h1M372.8 311.2h1M382.0 278.5h1M385.8 275.8h1M379.3 287.4h1M380.3 283.8h1M377.4 298.9h1M379.2 287.4h1M383.1 295.4h1M375.9 311.7h1M397.0 258.1h1M382.0 299.3h1M381.5 280.9h1M395.2 275.7h1M395.2 286.7h1M379.3 285.1h1M396.2 269.6h1M396.8 255.9h1M376.5 306.3h1M384.5 263.0h1M398.2 277.3h1M384.2 273.3h1M375.3 304.3h1M377.0 311.7h1M377.5 286.7h1M400.3 262.6h1M397.6 256.0h1M396.9 268.1h1M376.9 294.3h1M376.5 293.0h1M386.0 288.5h1M380.6 292.4h1M387.4 275.1h1M382.8 304.4h1M377.2 296.9h1M384.5 272.1h1M385.3 284.4h1M392.4 261.9h1M385.5 288.0h1M384.3 273.3h1M383.0 299.3h1M379.6 263.2h1M386.5 289.3h1M384.3 255.8h1M399.3 255.2h1M379.4 283.5h1M377.2 287.8h1M375.2 279.6h1M382.1 283.0h1M378.6 305.6h1M381.7 297.9h1M382.7 295.4h1M379.1 272.9h1M379.8 295.3h1M387.3 296.1h1M394.3 266.2h1M373.1 297.6h1M374.9 293.1h1M384.0 262.6h1M377.7 282.6h1M387.6 268.5h1M383.4 292.7h1M376.5 300.6h1M378.0 292.0h1M376.8 299.2h1M393.1 286.1h1M391.1 260.9h1M385.7 298.8h1M390.4 261.1h1M393.9 277.5h1M388.9 274.7h1M384.6 252.9h1M377.7 310.4h1M375.7 296.1h1M375.5 302.9h1M387.1 299.5h1M372.3 295.9h1M372.9 300.5h1M387.3 255.7h1M376.6 304.9h1M383.4 274.8h1M379.6 294.9h1M381.2 268.1h1M393.2 260.8h1M379.4 306.1h1M382.9 291.8h1M372.8 311.3h1M379.1 287.3h1M385.2 299.6h1M376.1 290.2h1M387.5 273.2h1M381.1 275.3h1M389.1 260.2h1M379.5 303.8h1M377.3 311.1h1M375.9 297.4h1M387.9 255.3h1M375.9 310.6h1M380.0 305.1h1M386.1 297.3h1M391.9 255.0h1M390.9 288.1h1M374.8 312.1h1M384.6 283.8h1M374.1 308.3h1M381.7 301.6h1M382.4 293.0h1M394.7 285.5h1M390.4 265.0h1M396.1 259.0h1M374.3 299.9h1M386.7 270.6h1M373.3 311.0h1M381.9 288.9h1M374.5 309.5h1M375.8 295.4h1M395.1 288.7h1M384.0 269.3h1M377.9 306.5h1M373.8 302.1h1M377.0 304.6h1M380.3 287.1h1M388.9 266.2h1M382.6 280.8h1M384.7 273.9h1M373.4 275.2h1M385.5 298.5h1M377.4 298.6h1M377.2 302.7h1M380.2 296.4h1M377.0 307.2h1M386.2 264.4h1M397.2 268.3h1M384.2 263.4h1M373.4 311.7h1M381.5 294.0h1M376.6 262.4h1M380.8 297.2h1M382.3 305.4h1M390.0 259.5h1M386.1 292.6h1M374.8 294.1h1M379.7 284.2h1M378.2 312.3h1M384.4 276.6h1M391.8 269.9h1M389.2 268.1h1M388.9 294.1h1M374.1 306.4h1M379.2 308.4h1M393.0 269.1h1M378.8 286.4h1M382.9 303.7h1M389.0 268.5h1M372.8 310.9h1M380.1 280.0h1M382.3 274.6h1M376.6 283.8h1M386.0 280.8h1M382.2 304.5h1M382.3 305.6h1M391.0 281.2h1M377.2 307.2h1M390.1 271.0h1M382.5 278.1h1M378.7 309.5h1M394.2 269.4h1M385.9 274.2h1M399.2 267.7h1M375.1 308.5h1M374.3 306.0h1M385.5 265.3h1M376.2 295.3h1M381.8 263.1h1M393.8 257.7h1M389.2 260.2h1M399.7 269.8h1M380.7 299.7h1M377.8 307.2h1M398.2 255.4h1M377.4 311.6h1M394.8 268.4h1M374.9 307.9h1M391.0 253.3h1M384.1 272.1h1M376.8 301.8h1M391.8 273.4h1M386.6 261.7h1M372.9 305.8h1M397.5 276.2h1M390.1 256.8h1M375.3 308.5h1M393.4 265.1h1M388.5 265.4h1M377.1 311.5h1M375.4 310.2h1M372.1 311.1h1M375.1 310.9h1M372.9 311.7h1M372.3 313.0h1M375.4 311.5h1M374.0 312.4h1M375.4 312.1h1M372.2 311.4h1M376.0 311.7h1M374.8 310.4h1" stroke="#000" stroke-width="1" stroke-opacity="0.15" fill="none"/>
</g>
<g filter="url(#bl)">
<path d="M413.5 257.4h1M417.7 257.2h1M415.1 258.6h1M417.7 257.5h1M415.3 256.8h1M416.5 258.1h1M415.2 257.0h1M414.9 255.9h1M417.4 254.1h1M412.1 257.6h1M415.5 256.6h1M410.3 258.8h1M413.6 259.5h1M410.1 256.9h1M417.3 257.5h1M416.4 254.4h1M415.3 255.8h1M416.3 255.7h1M415.4 258.9h1M415.0 258.3h1M415.7 254.5h1M417.6 255.6h1M414.3 256.7h1M410.5 256.1h1M412.0 258.3h1M418.1 258.6h1M412.5 258.5h1M412.8 258.0h1M412.5 257.7h1M414.1 256.2h1M417.2 255.6h1M414.3 257.8h1M418.0 256.8h1M415.2 258.9h1M412.7 257.2h1M414.6 256.3h1M412.0 258.0h1M415.3 256.6h1M414.5 257.9h1M409.8 261.8h1M415.7 255.6h1M413.9 258.5h1M412.9 256.1h1M416.6 259.2h1M414.5 256.2h1M414.0 260.7h1M417.6 254.8h1M414.7 258.3h1M409.6 259.4h1M412.5 256.9h1M414.9 255.8h1M416.3 255.6h1M412.2 257.5h1M413.3 257.2h1M409.9 260.3h1M411.5 257.8h1M411.6 258.2h1M415.0 255.4h1M413.7 258.6h1M412.8 256.6h1M415.5 257.0h1M414.0 257.8h1M417.4 256.2h1M410.6 258.1h1M414.9 257.4h1M409.2 258.3h1M412.4 259.4h1M410.6 259.4h1M416.3 256.1h1M416.0 256.1h1M413.7 255.4h1M415.0 258.3h1M413.7 258.7h1M415.5 255.4h1M412.2 258.7h1M414.1 258.7h1M412.0 257.8h1M416.5 255.4h1M411.0 259.1h1M411.5 259.9h1M413.8 256.4h1M412.8 258.4h1M412.6 258.1h1M414.5 254.4h1M416.9 257.7h1M416.6 255.9h1M413.7 258.0h1M413.7 255.7h1M415.0 256.0h1M413.6 258.4h1M414.9 258.3h1M411.2 259.2h1M411.6 259.5h1M414.7 254.8h1M416.7 256.9h1M415.1 256.8h1M413.5 256.4h1M413.7 257.6h1M411.4 257.8h1M411.4 257.7h1M411.5 256.9h1M419.2 254.8h1M409.0 258.8h1M416.0 257.3h1M412.0 257.0h1M411.9 256.8h1M416.4 257.8h1M414.0 254.8h1M415.9 257.1h1M411.7 259.5h1M412.5 257.2h1M412.9 257.4h1M416.2 254.6h1M415.4 256.6h1M415.2 254.2h1M412.1 255.3h1M410.3 253.4h1M419.3 250.2h1M408.3 263.0h1M417.0 254.3h1M413.4 255.0h1M410.6 257.6h1M417.0 253.6h1M413.8 259.3h1M411.6 254.5h1M404.2 263.5h1M407.9 258.4h1M415.2 258.8h1M411.6 259.8h1M412.2 252.8h1M416.1 256.2h1M417.5 253.1h1M419.8 250.7h1M409.1 257.9h1M413.0 258.0h1M408.5 257.0h1M414.3 254.5h1M420.0 257.1h1M416.1 258.6h1M412.3 255.7h1M402.8 262.0h1M419.0 251.8h1M419.1 254.8h1M412.3 258.4h1M412.4 254.6h1M413.9 253.1h1M419.6 253.1h1M412.7 260.0h1M406.8 256.3h1M416.4 250.9h1M415.7 254.1h1M405.6 261.4h1M414.0 258.8h1M414.2 260.8h1M411.9 255.9h1M408.0 259.1h1M415.6 257.3h1M412.8 259.4h1M408.3 259.6h1M422.8 251.0h1M413.5 261.8h1M408.8 257.9h1M415.9 250.8h1M417.1 259.3h1M419.5 252.3h1M414.8 258.7h1M415.7 257.3h1M417.4 257.5h1M418.8 250.0h1M420.1 255.6h1M418.6 255.9h1M416.8 256.3h1M413.8 255.1h1M414.5 260.3h1M410.4 258.4h1M420.3 259.9h1M422.9 255.8h1M414.7 255.0h1M414.0 257.0h1M407.8 254.7h1M404.0 264.5h1M411.9 260.5h1M417.7 256.6h1M407.3 263.2h1M415.5 252.3h1M410.8 255.7h1M418.1 255.5h1M414.6 262.0h1M421.2 252.2h1M406.8 258.6h1M417.2 253.9h1M409.7 262.5h1M404.6 258.3h1M412.6 263.6h1M414.9 253.1h1M415.8 255.1h1M411.9 257.9h1M414.1 255.8h1M411.2 257.3h1M417.1 251.7h1M415.5 260.0h1M412.9 260.8h1M409.3 258.5h1M411.8 256.5h1M403.9 259.7h1M408.8 251.6h1M412.7 258.6h1M421.4 258.0h1M416.8 254.9h1M410.1 261.9h1M411.2 256.5h1M410.1 259.7h1M415.7 255.5h1M413.4 257.5h1M404.3 260.2h1M419.8 249.9h1M410.2 258.9h1M419.1 256.7h1M405.7 260.0h1M415.7 254.7h1M413.9 253.9h1M410.8 255.6h1M411.2 258.7h1M411.0 254.9h1M417.0 258.0h1" stroke="#000" stroke-width="1" stroke-opacity="0.28" fill="none"/>
<path d="M417.4 255.0h1M413.0 256.2h1M411.3 256.6h1M412.8 257.5h1M415.4 257.3h1M414.0 258.5h1M412.2 259.1h1M415.8 257.8h1M413.9 256.5h1M416.7 254.7h1M411.8 256.4h1M413.3 259.1h1M411.7 256.5h1M414.6 256.6h1M412.6 255.6h1M411.4 256.3h1M415.6 255.7h1M410.7 256.0h1M414.0 258.5h1M415.9 257.1h1M413.1 256.0h1M414.2 257.7h1M409.3 257.4h1M413.5 256.2h1M411.5 257.4h1M416.5 256.1h1M412.4 257.9h1M409.5 257.7h1M416.6 258.5h1M416.9 258.1h1M411.6 256.0h1M414.0 255.9h1M412.2 258.0h1M409.4 259.9h1M416.6 256.7h1M413.4 258.6h1M415.2 256.5h1M414.8 258.4h1M411.8 257.6h1M415.3 256.8h1M413.8 257.9h1M414.2 257.2h1M416.3 257.6h1M413.1 258.0h1M414.7 257.1h1M411.8 259.0h1M413.0 255.9h1M418.3 257.2h1M417.2 258.1h1M415.9 256.3h1M414.6 256.1h1M411.7 256.0h1M414.5 259.5h1M417.8 256.6h1M414.3 256.1h1M416.4 257.8h1M414.8 258.4h1M414.0 257.9h1M410.9 258.7h1M415.1 254.8h1M414.5 257.7h1M411.0 257.0h1M412.7 259.9h1M418.8 256.8h1M413.8 257.8h1M412.7 257.6h1M412.1 257.2h1M413.4 255.0h1M413.0 256.8h1M412.7 260.1h1M419.3 254.1h1M410.6 259.6h1M411.9 258.2h1M414.5 255.0h1M414.1 254.7h1M410.4 260.0h1M410.1 257.8h1M411.5 258.3h1M411.8 259.3h1M413.6 256.7h1M413.4 259.1h1M416.0 258.1h1M414.2 258.8h1M418.4 257.8h1M413.2 259.5h1M414.1 257.3h1M412.8 258.3h1M411.7 259.0h1M409.8 258.0h1M415.2 257.1h1M414.4 256.8h1M412.4 259.7h1M410.3 257.3h1M415.2 259.2h1M417.7 256.6h1M415.0 255.6h1M414.8 257.1h1M417.6 257.3h1M415.3 257.0h1M415.6 255.3h1M414.0 259.7h1M414.2 256.5h1M418.5 254.4h1M414.3 256.7h1M416.8 256.0h1M409.0 257.4h1M416.4 255.5h1M415.1 257.2h1M413.4 257.5h1M413.3 255.5h1M413.4 258.2h1M410.6 259.0h1M415.4 259.1h1M408.9 254.9h1M421.0 260.6h1M417.1 255.1h1M414.1 258.3h1M413.6 254.8h1M408.6 256.3h1M417.5 253.2h1M412.9 253.8h1M418.9 256.1h1M411.8 258.4h1M414.5 257.2h1M407.2 259.9h1M411.6 262.1h1M413.7 257.4h1M411.4 259.0h1M418.9 252.4h1M418.4 253.5h1M402.4 261.1h1M417.0 253.8h1M411.7 254.9h1M414.9 260.6h1M412.8 259.1h1M417.1 258.3h1M406.4 257.0h1M415.4 255.4h1M412.0 261.4h1M417.8 257.1h1M415.2 257.0h1M410.3 259.7h1M411.7 255.1h1M411.8 261.8h1M411.8 259.0h1M418.0 249.6h1M409.5 260.9h1M410.6 258.8h1M412.4 261.5h1M412.4 258.3h1M417.2 255.5h1M410.4 259.7h1M416.8 255.6h1M420.3 258.0h1M417.2 257.5h1M410.3 254.1h1M409.1 259.3h1M415.2 259.5h1M417.1 259.4h1M419.0 256.4h1M412.8 262.0h1M411.2 256.6h1M415.1 255.8h1M412.2 258.1h1M407.6 257.2h1M423.1 253.3h1M415.9 255.5h1M414.3 257.3h1M408.6 262.0h1M409.0 256.5h1M406.5 259.9h1M410.3 256.1h1M412.5 260.4h1M416.5 259.8h1M412.1 257.2h1M414.7 259.7h1M418.3 257.2h1M415.3 262.5h1M413.8 256.2h1M416.2 255.1h1M411.3 261.2h1M406.3 257.4h1M414.9 256.6h1M417.3 258.1h1M413.1 260.5h1M414.3 262.4h1M408.0 256.7h1M415.9 256.5h1M420.3 250.4h1M410.3 258.9h1M412.4 255.7h1M406.4 261.1h1M409.5 256.3h1M410.3 257.7h1M411.4 259.6h1M411.2 261.0h1M409.9 259.4h1M407.3 257.0h1M409.6 257.8h1M413.0 253.5h1M407.6 255.2h1M404.4 263.2h1M413.4 257.4h1M412.6 258.0h1M414.7 255.8h1M418.3 255.4h1M415.2 257.8h1M414.7 261.1h1M415.7 253.9h1M410.2 257.9h1M417.2 250.9h1M407.4 258.8h1M410.3 258.6h1M418.7 256.9h1M415.8 258.0h1M409.8 260.9h1M407.7 256.7h1M414.1 254.7h1M412.6 258.6h1M416.2 258.9h1M418.1 254.9h1M411.1 258.4h1M413.1 255.0h1M407.8 257.5h1M418.1 255.8h1" stroke="#000" stroke-width="1" stroke-opacity="0.28" fill="none"/>
<path d="M415.6 257.9h1M413.1 257.2h1M417.9 258.6h1M412.6 258.9h1M414.5 257.1h1M415.2 257.3h1M414.1 256.6h1M412.7 256.0h1M416.0 256.0h1M416.5 257.1h1M413.5 257.1h1M413.3 259.4h1M412.9 259.5h1M417.2 254.4h1M413.8 258.0h1M418.1 255.6h1M415.7 254.3h1M413.4 257.2h1M416.4 258.0h1M416.9 257.2h1M413.0 257.5h1M415.1 256.9h1M412.5 257.0h1M415.1 254.9h1M411.7 258.1h1M413.5 254.6h1M415.4 256.9h1M417.6 255.4h1M415.1 256.2h1M411.4 257.5h1M412.5 257.2h1M412.5 257.9h1M413.7 257.3h1M418.0 256.3h1M416.1 254.3h1M412.0 257.5h1M414.3 255.6h1M415.5 255.1h1M416.5 254.7h1M412.9 258.0h1M414.9 257.7h1M415.0 254.6h1M415.1 256.8h1M410.9 256.8h1M414.6 258.1h1M413.7 257.4h1M412.1 257.5h1M416.4 258.0h1M414.5 256.0h1M415.7 258.5h1M415.2 257.1h1M414.1 260.5h1M413.7 253.7h1M412.9 256.8h1M413.5 258.2h1M415.4 253.8h1M412.6 256.7h1M412.3 256.5h1M413.8 257.8h1M414.5 259.3h1M409.2 260.1h1M416.2 258.4h1M411.7 258.0h1M416.1 255.6h1M416.1 255.2h1M415.9 257.6h1M411.2 259.0h1M413.7 257.9h1M414.5 256.9h1M415.1 256.2h1M414.6 256.5h1M416.4 257.8h1M416.9 253.9h1M412.5 255.7h1M413.7 259.5h1M410.0 261.0h1M415.2 258.3h1M414.1 256.2h1M413.4 258.1h1M410.7 257.5h1M415.9 257.1h1M417.2 256.7h1M414.8 258.3h1M413.6 257.0h1M416.0 257.9h1M413.6 255.9h1M413.2 257.4h1M414.3 256.7h1M411.9 258.4h1M413.2 256.6h1M414.8 254.9h1M416.2 255.3h1M415.9 255.3h1M416.4 257.2h1M411.5 259.5h1M414.4 255.8h1M414.7 256.6h1M418.4 255.5h1M417.5 258.0h1M414.0 258.3h1M413.1 259.3h1M411.3 256.4h1M417.9 256.0h1M413.6 258.2h1M412.8 259.7h1M413.4 254.6h1M410.7 255.4h1M415.7 256.8h1M413.3 257.9h1M419.6 255.1h1M415.0 255.3h1M415.1 255.7h1M406.4 262.8h1M407.5 257.8h1M411.3 256.4h1M418.1 254.3h1M411.8 251.8h1M415.5 254.4h1M409.6 259.0h1M418.2 254.2h1M413.3 258.4h1M416.1 259.9h1M423.4 251.0h1M412.1 258.0h1M414.7 254.8h1M410.1 256.4h1M420.1 254.5h1M416.5 257.1h1M409.3 260.3h1M414.0 258.6h1M416.9 255.6h1M412.4 256.3h1M407.0 264.1h1M419.3 254.0h1M422.3 253.2h1M416.4 255.5h1M412.2 256.3h1M413.7 256.6h1M418.1 257.9h1M404.0 258.5h1M411.7 255.4h1M414.8 253.7h1M417.7 257.1h1M414.3 260.0h1M407.7 259.0h1M417.3 255.1h1M418.8 253.1h1M411.6 252.7h1M410.0 258.7h1M410.9 262.8h1M414.3 255.4h1M417.0 255.8h1M414.9 251.8h1M414.0 263.3h1M418.7 255.0h1M413.4 259.2h1M407.9 259.7h1M419.2 256.3h1M412.3 257.2h1M411.4 259.6h1M416.8 254.6h1M421.0 253.0h1M422.3 253.6h1M414.6 257.9h1M419.1 257.3h1M417.6 259.9h1M414.2 253.6h1M418.3 251.6h1M409.7 256.9h1M414.2 256.7h1M412.7 263.9h1M411.9 256.5h1M416.7 257.6h1M412.6 259.3h1M411.1 257.9h1M412.7 260.9h1M414.6 255.0h1M422.2 255.3h1M413.6 255.5h1M410.0 256.6h1M412.6 262.9h1M413.0 257.2h1M418.1 256.5h1M411.8 258.2h1M417.0 258.1h1M411.2 260.3h1M414.1 253.2h1M409.6 255.4h1M419.7 257.9h1M408.7 256.5h1M413.8 252.0h1M410.1 254.2h1M404.0 262.3h1M414.8 255.7h1M421.4 256.0h1M411.1 258.9h1M416.8 256.1h1M409.8 261.1h1M408.8 257.5h1M415.1 257.7h1M410.1 257.7h1M415.3 254.3h1M415.8 254.8h1M422.2 253.9h1M413.4 255.0h1M415.1 255.3h1M409.9 257.2h1M410.3 256.9h1M419.2 257.2h1M419.6 251.9h1M414.6 259.5h1M417.8 253.1h1M415.5 252.2h1M414.4 256.8h1M408.5 259.0h1M419.1 251.5h1M423.9 254.0h1M419.7 250.5h1M410.7 256.8h1M416.6 257.8h1M402.5 258.1h1M417.8 259.2h1M417.2 259.9h1M414.2 249.7h1" stroke="#000" stroke-width="1" stroke-opacity="0.28" fill="none"/>
<path d="M409.3 258.3h1M412.4 257.7h1M417.9 256.5h1M413.0 257.1h1M414.1 254.4h1M415.1 256.9h1M414.4 258.3h1M413.7 256.7h1M415.9 257.8h1M414.5 256.7h1M410.8 261.1h1M415.1 257.0h1M413.2 258.1h1M415.9 257.3h1M413.7 259.2h1M412.9 258.8h1M414.3 255.9h1M413.5 254.5h1M417.8 253.2h1M414.4 256.9h1M413.5 257.5h1M413.8 256.0h1M412.1 257.8h1M415.7 256.0h1M415.7 256.5h1M410.1 261.2h1M411.4 258.2h1M418.7 255.2h1M413.9 257.7h1M415.1 257.7h1M414.2 257.5h1M415.8 255.9h1M410.3 258.5h1M410.9 255.4h1M410.6 258.4h1M414.5 257.6h1M415.6 256.6h1M415.1 256.3h1M413.7 255.7h1M413.7 255.5h1M420.1 253.1h1M413.3 260.4h1M413.6 256.8h1M419.5 255.2h1M413.0 255.7h1M414.4 257.7h1M417.3 254.2h1M412.9 255.7h1M416.4 257.3h1M412.0 257.2h1M413.5 255.2h1M414.4 258.6h1M413.3 258.6h1M416.2 256.5h1M409.4 258.4h1M417.2 255.3h1M409.9 257.3h1M411.6 258.4h1M416.5 255.7h1M414.9 256.9h1M409.0 256.2h1M414.4 255.4h1M411.0 258.2h1M415.3 256.9h1M413.5 258.6h1M413.7 256.9h1M413.1 256.1h1M416.0 255.6h1M416.4 255.6h1M418.0 254.3h1M414.5 256.8h1M415.0 257.5h1M411.1 258.2h1M417.8 257.3h1M412.6 259.3h1M414.2 256.4h1M413.1 258.5h1M412.2 258.4h1M414.9 255.2h1M413.0 260.6h1M415.5 255.1h1M413.7 258.5h1M412.0 259.3h1M417.1 256.7h1M414.7 257.3h1M411.6 259.9h1M414.5 254.8h1M415.9 253.5h1M410.1 258.1h1M418.0 257.1h1M418.8 256.6h1M417.0 256.0h1M412.0 258.3h1M413.1 257.2h1M415.3 258.3h1M414.4 255.1h1M412.5 258.7h1M415.7 257.5h1M413.4 258.4h1M411.0 258.2h1M418.5 258.0h1M411.8 258.3h1M412.6 258.9h1M415.3 258.0h1M415.8 257.6h1M417.7 254.6h1M414.3 257.0h1M411.9 256.6h1M410.4 261.0h1M412.7 260.3h1M415.5 255.9h1M414.2 255.6h1M422.3 255.7h1M417.2 255.5h1M415.2 255.9h1M410.3 257.7h1M415.5 258.6h1M415.6 256.3h1M418.0 253.5h1M414.9 258.4h1M417.4 253.4h1M410.9 257.8h1M418.3 252.2h1M415.7 256.8h1M412.0 259.2h1M413.6 256.6h1M405.7 263.5h1M415.5 255.2h1M418.1 253.8h1M413.0 259.7h1M417.3 254.3h1M414.3 258.7h1M414.9 253.7h1M417.5 258.1h1M421.2 253.2h1M420.2 261.0h1M417.0 256.3h1M414.3 255.8h1M408.8 258.2h1M415.7 255.8h1M415.5 259.5h1M404.4 259.2h1M409.4 261.5h1M420.6 257.2h1M414.2 258.8h1M409.3 258.4h1M415.0 258.0h1M418.7 254.6h1M416.6 255.5h1M409.3 257.6h1M411.1 258.4h1M412.2 259.6h1M417.3 257.0h1M419.0 256.9h1M416.5 255.0h1M418.2 254.3h1M421.3 253.2h1M416.1 258.9h1M413.2 260.1h1M412.7 259.5h1M417.9 255.5h1M416.1 255.4h1M421.0 251.9h1M413.7 256.4h1M412.2 254.4h1M413.7 256.7h1M412.0 263.3h1M418.3 257.0h1M410.9 260.0h1M413.0 255.9h1M419.2 251.7h1M420.2 254.4h1M415.2 258.8h1M407.2 262.7h1M413.2 258.8h1M419.2 255.7h1M421.2 260.1h1M412.6 256.8h1M414.7 260.6h1M412.2 255.8h1M413.1 260.0h1M416.3 255.2h1M409.6 255.4h1M418.7 253.9h1M410.6 255.0h1M411.1 254.4h1M415.0 255.2h1M405.8 260.3h1M412.3 258.5h1M417.9 252.6h1M421.4 254.1h1M408.1 260.0h1M412.9 260.3h1M417.3 254.0h1M413.0 253.0h1M409.7 254.3h1M417.6 260.9h1M412.3 255.9h1M413.1 258.3h1M414.6 258.5h1M413.0 254.2h1M417.7 256.9h1M414.5 253.3h1M411.0 257.1h1M410.6 259.6h1M412.5 259.0h1M417.2 253.8h1M411.8 258.2h1M405.2 264.1h1M414.9 254.6h1M410.3 261.1h1M423.4 255.1h1M413.0 257.2h1M417.3 254.8h1M413.6 257.3h1M409.4 257.9h1M420.9 250.6h1M414.5 255.9h1M418.5 260.7h1M417.1 259.5h1M407.9 259.1h1M412.9 256.8h1M414.4 250.6h1M411.2 254.3h1" stroke="#000" stroke-width="1" stroke-opacity="0.28" fill="none"/>
</g>
<g filter="url(#bl)">
<path d="M375.5 360.1h1M389.1 336.8h1M384.8 383.9h1M386.5 348.1h1M387.5 379.9h1M396.8 347.5h1M382.1 355.9h1M377.6 383.8h1M390.5 355.5h1M382.3 365.1h1M382.9 349.0h1M379.5 356.3h1M395.3 343.6h1M387.1 347.1h1M383.0 359.9h1M378.1 357.4h1M379.7 372.7h1M382.5 365.0h1M384.1 369.3h1M390.0 325.4h1M389.1 327.1h1M387.0 332.3h1M385.8 372.1h1M395.2 344.9h1M396.1 325.1h1M381.1 356.5h1M375.8 384.7h1M374.1 373.1h1M392.7 327.6h1M403.0 328.3h1M386.0 341.0h1M384.2 346.9h1M375.8 373.3h1M380.7 346.7h1M385.0 359.2h1M374.2 384.8h1M378.9 384.9h1M388.9 345.3h1M377.9 364.0h1M392.4 343.2h1M389.0 341.3h1M374.8 383.0h1M377.3 370.6h1M388.2 360.2h1M388.8 366.0h1M397.7 326.0h1M394.2 329.5h1M381.1 369.6h1M376.5 368.4h1M375.4 383.6h1M379.9 368.5h1M391.0 332.1h1M393.8 337.1h1M392.0 342.0h1M390.4 360.5h1M403.0 342.7h1M383.5 338.5h1M394.1 346.3h1M374.8 381.9h1M395.9 330.7h1M380.1 365.7h1M380.7 358.8h1M393.4 337.2h1M386.8 340.5h1M396.8 330.2h1M394.8 336.0h1M380.2 338.1h1M379.7 354.2h1M382.6 359.8h1M376.0 372.2h1M380.4 344.6h1M376.7 384.5h1M377.9 370.1h1M384.5 368.8h1M384.3 335.7h1M398.2 351.8h1M373.0 381.4h1M392.9 344.0h1M380.7 351.3h1M379.2 342.9h1M390.5 348.6h1M379.3 356.5h1M376.8 384.2h1M378.6 352.4h1M389.8 342.7h1M376.9 359.2h1M373.1 379.3h1M383.5 332.2h1M379.3 340.3h1M383.6 340.9h1M375.3 359.2h1M388.5 346.8h1M380.1 378.6h1M382.1 347.8h1M395.5 329.0h1M378.3 359.7h1M394.5 330.6h1M376.4 348.8h1M390.3 336.5h1M379.1 365.6h1M376.9 374.5h1M384.7 351.9h1M403.2 329.1h1M377.3 374.8h1M375.0 379.1h1M388.9 355.1h1M375.7 355.1h1M390.5 335.2h1M379.5 345.2h1M382.5 358.5h1M388.1 363.1h1M388.4 352.5h1M377.8 362.2h1M386.8 371.4h1M391.4 334.1h1M373.9 381.2h1M384.0 363.3h1M400.8 338.9h1M384.6 374.7h1M383.5 369.0h1M372.9 374.5h1M390.5 338.4h1M382.8 379.5h1M374.2 367.5h1M386.2 333.4h1M378.3 376.8h1M385.4 356.6h1M397.6 345.9h1M391.2 362.1h1M385.9 350.7h1M379.4 382.1h1M380.0 351.7h1M391.4 328.1h1M384.6 357.3h1M377.8 376.5h1M380.4 372.2h1M389.8 360.3h1M379.6 342.0h1M388.7 348.1h1M385.1 337.4h1M380.2 372.1h1M393.9 349.8h1M386.4 372.7h1M372.6 385.3h1M374.4 378.8h1M387.5 347.7h1M397.0 337.5h1M377.9 383.8h1M374.6 361.1h1M380.7 367.7h1M378.3 363.5h1M391.3 351.0h1M378.4 350.5h1M400.9 327.1h1M378.5 368.3h1M377.7 372.4h1M382.2 344.2h1M376.3 367.1h1M391.1 360.4h1M380.3 376.5h1M373.2 348.5h1M390.0 335.9h1M389.0 359.9h1M374.8 380.3h1M394.0 334.5h1M384.3 364.7h1M387.9 379.6h1M391.1 365.6h1M384.4 339.8h1M374.2 372.1h1M387.9 375.4h1M374.3 374.9h1M388.3 329.3h1M380.5 372.1h1M390.8 330.1h1M379.5 361.4h1M377.4 380.6h1M393.7 356.6h1M383.3 345.5h1M385.2 345.1h1M376.9 360.6h1M396.5 333.8h1M379.4 370.3h1M379.4 358.2h1M376.4 378.1h1M375.0 374.0h1M379.8 382.0h1M394.2 358.0h1M372.8 382.9h1M378.9 377.6h1M376.8 367.3h1M387.2 346.6h1M390.5 345.3h1M390.0 356.3h1M374.1 379.0h1M381.7 359.6h1M393.7 330.5h1M377.3 358.2h1M396.8 332.1h1M377.3 362.8h1M380.2 345.8h1M379.9 361.3h1M373.5 385.2h1M378.2 382.2h1M373.2 382.6h1M383.5 320.3h1M387.4 355.7h1M396.2 336.5h1M386.4 339.2h1M377.5 382.9h1M391.9 354.7h1M375.3 380.5h1M377.5 366.5h1M375.6 373.8h1M374.2 373.1h1M388.7 329.2h1M376.2 367.8h1M377.5 363.0h1M384.9 322.9h1M378.5 366.4h1M379.0 352.7h1M377.3 376.1h1M381.7 363.7h1M391.4 329.4h1M372.7 374.8h1M372.7 360.3h1M374.1 383.0h1M388.2 353.2h1M390.9 349.8h1M381.6 363.2h1M374.9 371.5h1M377.8 341.0h1M387.6 336.5h1M392.8 325.2h1M374.9 360.3h1M381.7 361.9h1M390.4 332.5h1M375.9 372.4h1M389.8 349.0h1M373.6 375.2h1M374.7 385.4h1M380.5 372.8h1M390.4 342.0h1M394.1 346.9h1M377.5 368.7h1M376.9 384.3h1M385.0 330.6h1M391.6 327.0h1M381.9 375.3h1M374.8 371.1h1M401.4 332.2h1M377.4 376.3h1M372.8 361.8h1M377.0 381.0h1M385.2 353.4h1M399.8 333.2h1M378.3 363.7h1M390.8 351.7h1M374.0 382.7h1M388.6 355.3h1M380.8 339.4h1M385.9 356.5h1M392.9 338.2h1M375.3 357.1h1M393.7 325.4h1M378.4 363.8h1M377.8 375.2h1M375.4 377.6h1M382.2 366.1h1M396.9 330.5h1M377.6 379.6h1M395.6 328.2h1M384.7 346.2h1M375.6 374.8h1M379.7 378.0h1M381.2 352.7h1M396.7 337.1h1M394.9 359.2h1M388.1 330.4h1M386.9 327.2h1M375.0 383.9h1M375.6 369.1h1M386.2 347.7h1M380.8 357.9h1M374.9 376.9h1M384.8 361.7h1M378.4 371.4h1M393.7 335.4h1M384.9 347.2h1M385.4 360.7h1M389.3 336.7h1M382.1 335.1h1M393.1 332.2h1M391.3 337.8h1M372.7 377.5h1M392.2 349.4h1M376.3 381.5h1M377.1 373.4h1M387.8 340.0h1M391.3 356.6h1M374.1 375.5h1M389.6 341.6h1M384.6 352.7h1M385.3 352.3h1M377.1 334.1h1M383.9 354.3h1M378.7 373.4h1M377.3 374.5h1M377.8 383.9h1M389.7 330.8h1M375.0 370.4h1M373.8 382.2h1M388.1 351.6h1M374.2 381.3h1M388.8 328.9h1M385.1 369.4h1M378.2 370.6h1M381.3 377.5h1M387.1 341.4h1M383.6 332.4h1M375.4 373.7h1M375.6 384.7h1M394.3 336.0h1M377.5 354.1h1M375.4 373.7h1M385.7 367.7h1M372.8 353.5h1M378.8 369.4h1M387.2 361.8h1M394.8 351.2h1M386.2 339.3h1M378.6 356.5h1M379.0 370.7h1M391.7 330.1h1M377.5 344.6h1M376.7 367.3h1M394.4 355.7h1M382.1 367.9h1M383.3 358.7h1M385.9 350.5h1M387.8 335.3h1M375.9 356.5h1M394.9 338.7h1M384.4 368.3h1M378.8 364.9h1M375.0 381.7h1M381.0 352.6h1M385.0 377.0h1M398.7 335.2h1M377.2 381.6h1M372.9 383.4h1M389.6 349.0h1M384.9 352.1h1M379.1 373.2h1M374.4 381.0h1M374.7 383.0h1M376.3 378.1h1M401.0 339.8h1M383.7 363.3h1M393.4 328.5h1M380.5 354.9h1M383.8 384.7h1M377.2 354.7h1M390.5 361.0h1M372.9 384.5h1M380.8 374.0h1M382.3 372.9h1M376.6 383.0h1M395.9 353.7h1M380.8 380.8h1M373.8 384.4h1M392.1 335.4h1M383.8 344.9h1M387.2 335.0h1M389.9 338.0h1M383.1 372.7h1M382.3 361.1h1M376.8 364.9h1M385.3 342.7h1M374.4 375.7h1M376.4 372.5h1M392.1 328.2h1M387.3 330.3h1M394.7 327.9h1M375.5 351.1h1M373.4 371.9h1M392.1 373.5h1M377.0 379.4h1M377.7 366.1h1M382.8 341.4h1M376.2 370.5h1M378.7 379.6h1M391.3 352.6h1M380.3 364.6h1M375.0 383.5h1M396.4 331.9h1M373.0 378.5h1M393.8 338.4h1M396.1 331.7h1M385.1 359.7h1M387.5 342.4h1M377.5 360.8h1M386.7 362.5h1M374.6 378.7h1M381.0 358.0h1M383.4 360.5h1M377.5 367.6h1M376.8 369.1h1M399.7 327.9h1M375.3 379.9h1M378.4 381.5h1M389.7 364.1h1M394.7 325.8h1M383.2 338.7h1M390.5 322.7h1M372.8 384.3h1M374.2 358.3h1M391.1 342.7h1M381.9 375.1h1M379.3 339.5h1M379.7 364.9h1M376.9 370.0h1M379.4 353.7h1M375.1 364.8h1M387.0 376.5h1M382.4 370.3h1M377.3 326.6h1M395.3 343.7h1M375.9 371.3h1M382.4 358.1h1M388.3 329.2h1M387.1 335.8h1M386.1 355.1h1M381.5 370.4h1M382.0 355.3h1M378.3 370.5h1M384.7 347.1h1M378.4 381.6h1M388.2 332.3h1M379.1 377.6h1M381.2 367.8h1M374.3 378.3h1M375.9 356.1h1M375.8 382.4h1M377.4 384.5h1M382.2 347.1h1M384.1 370.3h1M379.8 369.1h1M373.8 378.3h1M380.1 365.3h1M375.2 384.5h1M382.8 354.8h1M376.5 364.3h1M374.5 382.2h1M380.8 379.0h1M385.8 341.0h1M378.3 373.5h1M382.4 360.7h1M390.1 341.9h1M385.6 356.6h1M376.8 373.9h1M385.7 357.3h1M392.3 352.5h1M388.0 352.6h1M383.4 351.1h1M372.8 369.3h1M393.6 331.5h1M383.0 333.5h1M379.9 361.9h1M381.8 349.7h1M382.7 345.9h1M380.8 372.7h1M385.7 362.9h1M372.6 385.3h1M382.2 376.0h1M375.3 371.3h1M381.3 376.2h1M373.4 375.1h1M381.5 379.4h1M391.0 331.1h1M382.6 359.7h1M384.0 352.8h1M384.6 364.7h1M394.1 337.0h1M378.6 379.4h1M391.5 337.0h1M384.1 343.3h1M388.8 346.1h1M388.7 337.1h1M384.3 330.3h1M386.6 355.5h1M390.7 336.9h1M381.3 337.1h1M387.2 341.3h1M380.8 343.4h1M387.1 354.1h1M378.0 377.3h1M379.3 351.6h1M389.3 363.4h1M372.7 374.7h1M387.9 374.5h1M397.0 326.3h1M381.7 367.6h1M376.4 373.5h1M391.3 347.1h1M383.4 329.0h1M388.0 333.3h1M401.9 337.6h1M391.0 348.1h1M379.9 385.4h1M390.1 331.0h1M373.7 377.4h1M377.4 360.0h1M396.9 349.6h1M375.8 375.7h1M376.0 378.0h1M384.7 378.8h1M383.8 330.2h1M373.3 364.4h1M393.4 324.8h1M372.6 381.0h1M375.2 372.9h1M397.4 328.2h1M389.2 336.7h1M373.8 385.1h1M374.7 383.0h1M372.9 385.4h1M373.5 384.3h1M373.7 383.9h1M375.6 383.1h1M377.7 384.1h1M372.8 384.9h1M374.8 385.2h1" stroke="#000" stroke-width="1" stroke-opacity="0.16" fill="none"/>
<path d="M394.1 348.6h1M372.8 376.4h1M382.2 363.8h1M375.0 345.0h1M385.0 358.0h1M376.3 379.9h1M398.2 329.4h1M373.3 381.1h1M394.9 354.2h1M373.3 382.8h1M399.9 328.6h1M388.3 336.0h1M375.6 359.3h1M372.8 378.2h1M386.9 342.5h1M376.3 376.0h1M380.6 345.9h1M390.9 351.8h1M385.2 346.3h1M387.4 348.4h1M391.3 338.3h1M375.9 349.4h1M390.6 330.1h1M389.5 332.1h1M380.4 343.1h1M385.8 343.3h1M380.8 377.5h1M384.2 371.6h1M389.9 330.2h1M382.1 379.8h1M381.2 364.7h1M384.3 362.6h1M379.0 328.1h1M402.5 328.4h1M383.7 372.9h1M378.6 384.5h1M379.1 384.5h1M393.8 343.4h1M386.1 363.5h1M397.3 331.0h1M392.2 337.3h1M373.9 382.7h1M386.6 327.6h1M373.2 374.9h1M378.6 373.8h1M381.2 365.6h1M382.4 341.9h1M386.8 359.3h1M380.3 367.4h1M389.8 328.9h1M382.8 355.4h1M391.1 346.2h1M379.0 370.1h1M377.2 378.0h1M388.4 363.5h1M389.9 357.0h1M394.6 326.3h1M392.9 352.5h1M377.3 372.2h1M390.4 333.6h1M383.0 359.0h1M394.5 352.4h1M392.0 343.7h1M385.1 348.8h1M383.3 346.2h1M386.4 350.7h1M391.2 328.2h1M377.1 370.4h1M386.3 377.8h1M396.3 333.0h1M387.0 348.0h1M372.8 380.9h1M399.0 335.3h1M380.0 356.2h1M382.2 343.1h1M401.9 329.5h1M383.3 354.9h1M376.1 370.6h1M389.0 360.5h1M388.3 366.3h1M396.0 351.4h1M378.5 385.2h1M395.7 324.7h1M379.1 378.0h1M389.8 352.7h1M385.3 358.7h1M382.6 345.8h1M387.3 343.8h1M372.8 368.5h1M377.5 354.9h1M375.5 362.8h1M384.7 343.8h1M374.3 383.2h1M378.7 353.7h1M387.6 355.6h1M376.4 376.5h1M385.7 321.1h1M384.4 372.8h1M377.5 348.3h1M388.6 349.6h1M381.4 355.0h1M383.2 365.7h1M377.1 354.6h1M391.6 326.0h1M386.6 330.4h1M372.6 379.8h1M375.2 368.5h1M391.6 328.3h1M386.4 356.3h1M379.8 364.3h1M373.1 361.1h1M380.9 357.5h1M388.5 338.8h1M390.8 357.6h1M381.8 373.4h1M394.7 345.0h1M383.4 327.4h1M384.9 340.0h1M393.4 356.2h1M388.2 361.0h1M372.9 381.5h1M388.3 360.7h1M389.9 374.0h1M383.7 373.3h1M387.4 364.7h1M386.7 328.5h1M376.7 380.2h1M384.5 353.7h1M391.6 344.5h1M372.8 376.7h1M394.5 330.5h1M386.5 342.5h1M382.5 360.0h1M385.5 370.1h1M387.9 323.2h1M395.8 342.9h1M386.2 339.2h1M377.1 364.2h1M376.6 377.1h1M389.6 359.0h1M379.8 365.6h1M391.0 342.0h1M381.9 358.0h1M394.4 345.0h1M373.9 372.1h1M384.3 347.9h1M379.5 362.4h1M375.9 350.5h1M382.2 354.2h1M382.7 367.3h1M381.7 365.7h1M384.0 330.9h1M375.5 375.2h1M380.6 339.1h1M384.3 367.3h1M390.5 350.2h1M392.1 363.7h1M400.1 327.9h1M374.1 377.9h1M392.7 351.0h1M376.1 366.9h1M374.4 381.6h1M381.6 353.8h1M372.9 384.9h1M392.6 345.3h1M384.9 330.1h1M384.8 353.6h1M394.5 339.0h1M378.6 383.5h1M385.4 368.3h1M375.2 374.9h1M376.7 369.8h1M379.8 345.1h1M376.8 374.5h1M383.0 372.5h1M379.2 334.6h1M377.6 366.0h1M377.0 384.2h1M386.9 355.3h1M382.5 341.9h1M393.5 334.2h1M396.9 336.0h1M374.9 375.3h1M384.0 347.4h1M386.9 338.5h1M377.1 381.2h1M385.3 326.0h1M391.7 349.1h1M382.8 356.0h1M391.0 333.2h1M375.6 372.7h1M374.0 371.6h1M377.5 370.2h1M374.8 379.2h1M391.6 336.9h1M387.1 359.1h1M386.0 341.2h1M380.0 376.5h1M378.8 368.5h1M377.6 342.6h1M387.8 341.0h1M386.0 364.1h1M386.8 338.0h1M391.9 350.6h1M385.6 346.5h1M377.3 367.1h1M382.4 329.8h1M378.4 348.3h1M377.8 361.6h1M385.7 348.9h1M381.4 362.3h1M400.8 331.5h1M397.3 344.4h1M377.1 365.3h1M398.0 334.7h1M381.9 352.0h1M381.3 366.1h1M391.2 363.8h1M382.4 374.2h1M375.5 365.9h1M372.8 383.4h1M388.7 337.4h1M387.9 354.4h1M392.4 324.4h1M385.5 368.8h1M388.0 341.1h1M378.0 364.0h1M385.3 356.2h1M393.0 326.1h1M393.2 354.6h1M380.7 354.5h1M392.7 323.8h1M379.2 369.3h1M396.4 329.0h1M384.1 359.0h1M388.1 340.0h1M376.9 346.8h1M372.6 382.2h1M380.6 347.3h1M391.8 323.4h1M376.9 385.1h1M373.3 361.6h1M388.4 330.5h1M385.2 325.5h1M392.9 341.6h1M380.1 371.2h1M384.8 377.0h1M375.5 359.3h1M380.5 380.8h1M379.8 384.8h1M380.7 346.0h1M385.3 366.1h1M381.6 337.5h1M376.5 380.4h1M376.8 357.8h1M373.8 357.8h1M389.3 345.3h1M377.2 369.7h1M383.9 371.8h1M380.3 338.7h1M382.5 343.0h1M383.2 374.8h1M378.0 361.1h1M374.7 375.9h1M378.0 355.1h1M382.8 377.9h1M373.2 375.6h1M379.5 381.2h1M378.0 375.9h1M374.8 377.1h1M396.7 326.4h1M377.1 374.2h1M378.3 361.1h1M380.8 383.6h1M380.2 359.5h1M374.9 374.9h1M375.3 379.8h1M377.9 382.0h1M376.8 363.0h1M375.9 376.0h1M380.8 356.7h1M378.4 348.6h1M375.6 371.0h1M378.6 349.2h1M387.2 372.2h1M389.6 346.0h1M389.9 342.1h1M375.1 367.6h1M377.6 378.8h1M374.7 326.6h1M379.6 359.7h1M375.0 342.3h1M388.5 327.4h1M395.5 324.8h1M381.9 373.2h1M380.6 367.9h1M383.9 361.7h1M396.1 350.3h1M394.5 335.8h1M379.8 340.8h1M377.0 370.5h1M394.7 350.8h1M375.7 382.0h1M377.3 363.9h1M384.2 364.8h1M379.6 385.3h1M384.6 345.7h1M392.5 326.1h1M377.3 377.9h1M384.7 334.3h1M382.6 364.8h1M373.2 373.7h1M379.4 369.4h1M389.1 329.6h1M377.0 370.5h1M377.9 378.9h1M386.1 361.9h1M394.1 328.9h1M396.1 348.3h1M383.2 340.1h1M393.2 330.9h1M382.3 375.4h1M381.4 339.9h1M375.6 352.5h1M379.3 361.7h1M391.4 335.0h1M391.2 355.3h1M373.1 378.7h1M377.4 371.4h1M390.8 342.1h1M389.3 364.8h1M373.6 374.7h1M377.6 384.9h1M372.7 382.5h1M387.8 327.8h1M389.2 355.5h1M373.8 354.8h1M380.8 371.8h1M391.4 350.1h1M385.1 350.1h1M393.4 324.5h1M377.0 370.0h1M377.4 382.3h1M378.4 362.8h1M372.8 382.5h1M373.9 379.6h1M375.5 383.6h1M379.8 373.0h1M375.2 351.2h1M390.5 341.2h1M378.9 356.0h1M387.6 361.3h1M380.7 371.1h1M387.4 352.0h1M384.5 365.6h1M385.5 367.2h1M385.9 365.7h1M379.8 385.5h1M377.6 373.9h1M386.1 370.4h1M385.1 375.4h1M379.3 366.9h1M377.4 370.6h1M379.9 382.1h1M373.9 363.3h1M373.1 373.3h1M400.9 333.2h1M382.3 374.1h1M375.7 385.3h1M379.1 349.4h1M376.8 369.8h1M398.6 333.2h1M391.8 339.9h1M379.0 365.7h1M389.7 347.6h1M393.1 355.0h1M383.4 338.2h1M386.5 340.1h1M400.3 336.8h1M377.4 360.4h1M376.4 379.3h1M381.8 365.2h1M391.4 346.1h1M382.4 346.0h1M383.8 366.7h1M374.2 377.3h1M386.2 339.5h1M400.5 332.7h1M382.9 345.0h1M386.2 353.7h1M380.1 349.5h1M377.5 371.1h1M383.8 345.8h1M386.4 355.7h1M379.1 372.8h1M375.0 378.6h1M388.6 341.7h1M376.2 382.6h1M387.4 330.1h1M391.6 357.1h1M386.0 343.7h1M380.4 350.7h1M386.0 340.0h1M395.8 333.8h1M395.0 336.6h1M385.2 346.4h1M382.5 363.2h1M377.8 353.1h1M378.8 376.7h1M382.6 375.3h1M391.3 353.6h1M378.8 356.3h1M379.2 352.3h1M384.7 348.0h1M385.0 344.9h1M374.2 374.6h1M376.3 365.2h1M385.6 373.9h1M378.7 381.4h1M396.1 339.4h1M377.6 357.2h1M383.6 353.1h1M377.1 374.3h1M384.7 346.8h1M382.5 376.9h1M390.0 352.8h1M373.9 370.8h1M384.6 359.4h1M376.4 379.0h1M377.9 363.8h1M377.8 345.0h1M386.6 339.4h1M375.4 384.1h1M398.2 339.7h1M380.2 377.9h1M397.2 342.5h1M389.3 356.2h1M380.5 362.6h1M384.7 357.9h1M373.4 369.9h1M381.6 361.6h1M376.5 373.0h1M373.8 350.9h1M375.5 355.3h1M398.0 329.1h1M377.2 372.9h1M391.0 345.3h1M373.7 380.9h1M388.1 345.9h1M382.4 334.9h1M377.7 373.2h1M374.6 371.4h1M395.2 332.1h1M378.7 352.7h1M397.1 366.6h1M375.6 366.6h1M373.8 362.2h1M373.7 374.2h1M379.6 357.4h1M381.5 352.3h1M376.2 364.1h1M378.3 365.2h1M377.5 349.3h1M380.4 353.8h1M390.9 348.7h1M395.4 328.8h1M382.4 365.5h1M381.9 369.3h1M395.1 346.0h1M383.2 358.1h1M375.5 367.4h1M389.6 335.7h1M387.9 366.8h1M392.2 324.7h1M378.9 338.3h1M389.5 324.6h1M379.3 380.4h1M375.9 383.4h1M393.0 338.9h1M375.8 342.1h1M381.7 360.0h1M380.7 363.6h1M376.2 370.4h1M383.4 348.3h1M376.3 379.8h1M375.4 371.6h1M392.1 336.1h1M373.2 365.9h1M378.7 362.9h1M390.2 323.8h1M373.8 381.5h1M378.7 384.3h1M376.6 366.9h1M383.4 338.7h1M378.5 366.0h1M381.1 349.9h1M395.6 345.1h1M394.9 341.1h1M387.6 347.5h1M393.0 327.1h1M385.6 331.6h1M376.2 363.6h1M375.7 384.7h1M382.3 329.6h1M396.2 351.0h1M377.8 363.5h1M377.8 376.4h1M382.7 375.4h1M376.5 364.1h1M378.8 383.3h1M375.0 378.1h1M372.7 377.0h1M392.9 332.3h1M374.0 376.3h1M376.2 377.9h1M395.9 326.7h1M382.2 353.6h1M390.2 330.1h1M377.5 368.9h1M391.2 339.0h1M385.8 342.5h1M398.8 345.9h1M396.9 345.8h1M384.5 347.7h1M377.1 384.1h1M372.9 384.4h1M373.8 383.8h1M375.1 384.9h1M374.8 383.0h1M375.3 384.4h1M373.9 384.9h1M372.7 385.1h1M373.6 383.4h1" stroke="#000" stroke-width="1" stroke-opacity="0.16" fill="none"/>
<path d="M386.1 379.1h1M374.1 354.5h1M393.2 331.1h1M385.0 374.9h1M374.8 375.3h1M383.8 357.0h1M383.8 360.4h1M374.9 368.9h1M376.5 329.0h1M390.3 356.5h1M383.9 361.9h1M380.0 378.4h1M376.9 376.5h1M386.1 338.0h1M387.1 332.4h1M385.7 336.1h1M373.9 372.3h1M379.3 359.0h1M374.6 384.2h1M393.8 336.6h1M373.9 378.5h1M383.2 351.4h1M379.4 361.6h1M376.2 373.8h1M377.3 369.6h1M394.9 352.4h1M392.6 337.7h1M384.8 368.1h1M382.1 333.8h1M390.1 342.8h1M397.7 327.8h1M376.2 364.2h1M384.2 356.3h1M382.1 354.2h1M402.4 338.7h1M384.8 360.5h1M377.4 374.0h1M379.4 348.8h1M393.6 357.0h1M376.7 382.5h1M378.8 359.5h1M383.8 345.7h1M379.3 360.3h1M386.1 359.0h1M387.8 337.7h1M379.5 378.0h1M383.1 363.7h1M390.3 330.6h1M387.6 340.2h1M394.3 345.6h1M379.9 362.7h1M387.8 330.4h1M386.9 339.5h1M382.9 325.3h1M392.9 362.7h1M392.3 353.7h1M393.6 338.5h1M378.4 372.9h1M377.2 357.3h1M383.4 341.8h1M374.9 381.0h1M382.1 343.0h1M390.9 337.7h1M376.3 374.9h1M383.1 372.2h1M382.0 361.1h1M377.9 342.9h1M392.1 327.6h1M373.6 374.4h1M384.3 380.7h1M379.7 372.6h1M390.6 349.9h1M380.0 368.9h1M377.7 375.4h1M379.2 380.7h1M393.1 342.4h1M388.2 349.6h1M381.2 375.5h1M387.9 374.9h1M385.9 339.5h1M386.9 361.3h1M387.5 325.7h1M383.8 336.9h1M395.0 327.0h1M389.1 343.9h1M391.6 354.8h1M385.8 359.3h1M378.4 352.6h1M376.5 335.1h1M373.7 379.7h1M386.8 351.2h1M386.5 377.7h1M390.2 343.6h1M384.3 355.4h1M388.9 344.4h1M378.2 360.3h1M382.4 357.2h1M395.2 334.0h1M377.6 379.4h1M381.2 363.2h1M383.2 368.5h1M391.0 332.8h1M388.8 324.2h1M385.0 343.5h1M374.9 379.2h1M392.0 330.2h1M381.4 356.5h1M391.6 327.8h1M375.4 380.5h1M382.3 366.0h1M380.8 370.4h1M386.6 346.6h1M389.0 333.8h1M375.7 378.9h1M389.2 361.1h1M379.9 382.8h1M389.5 338.0h1M377.6 373.2h1M379.7 342.1h1M377.7 384.5h1M377.1 376.9h1M394.8 350.1h1M385.6 361.2h1M375.1 371.6h1M387.6 326.7h1M388.0 328.9h1M392.7 339.2h1M382.4 361.4h1M380.9 382.7h1M380.5 363.9h1M380.2 379.2h1M383.8 353.1h1M396.3 329.1h1M387.3 352.9h1M390.8 342.4h1M389.4 330.0h1M391.1 329.5h1M381.1 362.3h1M379.2 378.6h1M380.4 381.4h1M378.4 385.6h1M378.6 372.2h1M388.0 345.6h1M387.2 336.3h1M392.4 342.4h1M376.9 374.4h1M388.1 343.0h1M381.4 333.4h1M377.5 359.6h1M387.6 336.1h1M378.1 381.3h1M375.9 375.2h1M382.1 376.3h1M378.3 384.3h1M374.3 373.0h1M392.1 330.8h1M375.6 368.1h1M387.5 336.7h1M379.4 363.0h1M374.6 380.7h1M379.3 347.0h1M380.0 358.1h1M400.5 328.0h1M377.5 366.8h1M397.1 352.6h1M378.2 371.0h1M375.5 355.4h1M378.3 367.1h1M384.0 357.4h1M376.2 349.1h1M374.2 376.9h1M383.7 332.7h1M379.1 356.1h1M387.6 338.1h1M375.5 351.8h1M389.6 349.9h1M377.5 374.4h1M391.8 330.3h1M380.5 361.2h1M387.8 361.3h1M375.1 370.9h1M386.2 333.6h1M387.6 330.9h1M384.5 337.8h1M394.3 356.1h1M391.3 346.3h1M392.6 337.6h1M375.6 376.2h1M379.2 365.3h1M374.9 367.9h1M389.9 340.4h1M399.1 336.6h1M393.8 359.1h1M380.5 329.1h1M378.7 378.4h1M380.2 355.7h1M375.3 353.6h1M375.5 373.7h1M390.8 345.2h1M382.6 362.1h1M378.4 372.5h1M390.0 343.8h1M379.9 337.6h1M378.6 367.5h1M386.0 341.6h1M382.0 373.7h1M394.3 325.3h1M382.6 350.1h1M391.4 328.9h1M386.8 352.8h1M387.2 332.4h1M383.0 347.7h1M373.3 383.7h1M379.5 364.6h1M385.9 323.3h1M381.0 374.6h1M385.3 371.8h1M391.8 323.5h1M377.8 335.0h1M381.9 347.2h1M379.9 365.2h1M381.4 364.3h1M374.0 383.2h1M379.0 383.0h1M377.6 383.4h1M389.2 363.0h1M390.1 355.3h1M384.9 344.4h1M392.9 346.8h1M392.9 366.3h1M384.1 343.3h1M389.1 342.7h1M382.7 348.3h1M378.6 328.5h1M381.4 360.1h1M383.0 384.0h1M386.5 359.9h1M387.3 349.5h1M388.0 334.1h1M395.4 350.8h1M383.3 330.1h1M373.0 378.9h1M384.7 337.4h1M397.5 334.1h1M377.8 360.5h1M385.8 344.4h1M376.2 370.8h1M389.3 359.7h1M380.0 349.8h1M387.4 347.6h1M388.1 338.2h1M385.8 344.9h1M381.8 363.2h1M395.1 332.2h1M388.2 335.7h1M379.3 362.4h1M374.6 380.9h1M380.1 372.1h1M379.5 344.4h1M373.9 375.2h1M393.0 330.4h1M394.1 349.6h1M394.4 333.4h1M384.0 365.3h1M377.5 369.2h1M400.5 338.1h1M380.3 347.4h1M389.8 355.0h1M389.7 332.1h1M380.8 363.2h1M388.2 344.0h1M377.0 372.2h1M381.6 341.3h1M380.5 352.0h1M390.4 365.7h1M384.9 346.9h1M395.2 332.0h1M385.7 347.7h1M377.7 380.1h1M388.2 353.9h1M374.9 380.4h1M388.7 362.1h1M385.9 359.8h1M381.5 347.4h1M393.0 353.6h1M373.3 372.7h1M384.7 351.5h1M379.8 367.5h1M374.8 365.5h1M380.8 372.9h1M373.2 354.5h1M406.7 335.0h1M375.5 382.7h1M397.5 358.8h1M382.7 370.9h1M388.9 366.8h1M380.3 346.9h1M399.3 356.7h1M387.0 341.0h1M379.7 378.9h1M392.6 338.2h1M386.7 335.4h1M381.7 361.5h1M388.6 351.4h1M382.4 368.7h1M380.1 357.3h1M385.1 350.8h1M380.0 382.0h1M381.2 379.5h1M378.4 374.1h1M380.6 347.3h1M385.6 349.1h1M383.8 356.7h1M384.0 339.5h1M378.8 381.6h1M379.1 383.4h1M373.1 381.9h1M387.5 358.1h1M394.0 364.9h1M396.0 333.4h1M391.5 356.3h1M389.6 354.6h1M384.7 381.8h1M383.2 358.0h1M381.3 381.6h1M385.5 345.5h1M391.2 326.0h1M381.6 361.0h1M374.1 382.9h1M373.4 351.2h1M392.8 347.2h1M391.5 331.7h1M386.0 354.4h1M377.6 352.5h1M384.4 348.1h1M380.8 377.9h1M376.8 365.4h1M380.0 379.4h1M385.5 363.6h1M390.7 327.7h1M373.9 374.8h1M373.7 370.0h1M391.8 332.3h1M376.9 349.2h1M394.5 342.4h1M376.8 371.7h1M389.5 380.3h1M387.5 352.3h1M384.4 348.8h1M373.8 362.7h1M374.5 373.8h1M387.2 340.5h1M378.9 348.5h1M372.8 376.7h1M381.2 355.5h1M377.0 364.8h1M377.2 365.2h1M374.8 366.2h1M380.4 362.0h1M379.0 355.6h1M391.5 362.4h1M390.4 348.8h1M377.6 366.6h1M380.9 351.7h1M387.1 338.6h1M383.3 355.2h1M375.1 372.9h1M382.4 377.6h1M387.9 333.8h1M379.0 378.3h1M379.0 365.6h1M377.0 383.1h1M398.1 334.6h1M378.6 365.2h1M375.4 376.9h1M376.6 377.7h1M384.3 366.3h1M396.6 336.2h1M377.1 353.3h1M385.1 361.7h1M388.6 352.2h1M380.9 364.9h1M388.6 340.8h1M375.7 366.3h1M381.6 358.9h1M375.7 373.4h1M385.7 370.3h1M381.6 371.4h1M374.8 356.6h1M377.6 370.0h1M387.1 347.4h1M392.2 337.6h1M376.3 384.9h1M389.6 338.1h1M388.4 338.5h1M379.9 379.2h1M381.8 363.1h1M382.0 380.7h1M399.0 334.6h1M382.7 329.5h1M375.7 373.8h1M387.3 366.8h1M376.1 376.0h1M399.7 336.1h1M379.3 368.6h1M402.2 342.6h1M377.8 363.4h1M391.6 345.0h1M391.2 338.2h1M376.6 379.5h1M382.6 354.3h1M392.7 339.2h1M400.0 339.5h1M388.8 358.5h1M388.4 342.2h1M383.3 362.6h1M388.0 353.7h1M383.8 367.5h1M387.2 348.5h1M378.7 373.7h1M373.7 366.3h1M374.8 376.3h1M388.8 340.6h1M375.7 351.5h1M383.9 342.4h1M379.4 367.8h1M395.4 328.4h1M385.5 353.0h1M378.0 364.8h1M379.7 328.0h1M380.2 328.7h1M393.5 341.9h1M386.1 351.1h1M391.4 337.8h1M377.6 382.2h1M379.2 369.1h1M379.1 366.8h1M386.0 355.2h1M387.9 328.8h1M397.0 343.7h1M380.5 378.6h1M389.0 355.2h1M386.8 347.8h1M392.8 327.4h1M377.1 378.1h1M376.1 350.1h1M390.0 339.3h1M394.6 339.6h1M381.1 376.8h1M378.2 366.2h1M378.7 375.6h1M381.1 368.9h1M384.1 362.5h1M375.8 374.7h1M380.1 349.1h1M374.1 374.5h1M386.5 348.1h1M388.4 355.6h1M377.7 380.5h1M399.7 335.0h1M374.4 376.7h1M382.9 369.6h1M377.3 385.0h1M373.0 377.0h1M373.7 384.5h1M374.5 383.3h1M393.5 325.1h1M373.5 379.4h1M375.9 378.6h1M385.5 342.8h1M383.3 346.9h1M380.2 362.5h1M378.8 362.7h1M384.7 336.5h1M378.6 380.8h1M380.2 358.9h1M385.9 346.7h1M375.1 358.3h1M380.7 351.8h1M375.9 345.3h1M389.7 339.2h1M375.9 375.8h1M375.5 373.1h1M387.1 338.3h1M391.0 334.2h1M376.0 346.9h1M384.9 342.4h1M385.2 345.3h1M379.1 375.6h1M387.4 335.8h1M377.8 381.4h1M379.7 360.8h1M392.8 343.0h1M381.9 362.5h1M378.1 385.1h1M398.2 334.4h1M391.3 333.4h1M374.6 368.9h1M383.1 370.2h1M375.7 379.8h1M373.4 381.3h1M377.0 372.0h1M378.6 352.2h1M383.6 339.3h1M382.7 355.0h1M389.4 358.3h1M387.7 351.9h1M399.0 342.1h1M385.6 360.1h1M379.9 374.8h1M381.1 376.8h1M390.7 344.8h1M377.2 378.6h1M393.4 324.0h1M374.6 372.3h1M373.4 381.3h1M373.1 372.0h1M378.3 375.2h1M389.3 339.4h1M376.2 383.5h1M396.1 328.9h1M390.2 355.8h1M392.9 369.8h1M373.7 382.7h1M375.1 382.8h1M373.7 383.3h1M375.7 383.4h1M375.7 382.1h1M373.3 385.1h1M373.9 382.1h1M375.0 385.0h1M373.0 383.0h1M372.8 384.7h1" stroke="#000" stroke-width="1" stroke-opacity="0.16" fill="none"/>
<path d="M375.5 354.2h1M395.9 332.7h1M380.8 365.1h1M374.6 373.8h1M373.2 375.0h1M386.0 377.6h1M373.0 379.0h1M377.3 368.4h1M378.3 359.4h1M389.0 345.0h1M379.6 331.3h1M398.2 327.7h1M384.8 357.3h1M387.3 370.4h1M384.4 372.3h1M386.2 368.1h1M385.9 351.4h1M385.5 376.2h1M377.7 379.6h1M378.1 349.6h1M374.3 377.3h1M389.7 328.3h1M392.6 343.5h1M386.3 359.4h1M376.3 371.8h1M389.5 345.4h1M377.2 362.7h1M386.0 341.1h1M372.9 354.6h1M373.7 380.2h1M376.4 380.7h1M384.6 343.4h1M383.0 372.3h1M397.3 341.6h1M379.8 385.5h1M381.8 362.4h1M390.7 344.0h1M386.6 358.4h1M375.1 375.7h1M374.3 354.7h1M380.5 365.1h1M377.1 381.0h1M385.6 354.5h1M393.5 332.4h1M398.8 329.9h1M392.7 330.6h1M377.8 349.4h1M378.5 343.8h1M381.8 338.7h1M384.3 347.6h1M386.0 341.2h1M374.3 355.6h1M400.1 345.5h1M381.2 367.1h1M375.8 377.0h1M385.5 364.0h1M387.6 362.3h1M375.3 381.6h1M389.7 355.1h1M393.9 331.8h1M377.1 380.9h1M377.2 378.8h1M381.2 328.3h1M384.7 379.9h1M398.5 329.7h1M381.6 367.2h1M387.5 332.7h1M378.5 373.0h1M378.4 351.4h1M384.4 346.0h1M391.8 328.9h1M396.0 339.1h1M382.7 383.0h1M375.8 374.1h1M386.4 371.1h1M380.2 367.3h1M398.0 342.7h1M382.8 364.3h1M396.3 335.8h1M385.6 374.7h1M394.6 335.2h1M387.0 356.4h1M382.6 367.0h1M380.7 372.8h1M384.9 365.1h1M376.7 379.6h1M378.5 375.1h1M382.0 370.1h1M373.8 370.7h1M376.3 348.2h1M373.2 379.3h1M383.8 358.3h1M385.7 362.2h1M386.7 332.6h1M382.6 347.2h1M397.9 338.3h1M378.5 344.1h1M373.8 383.8h1M385.3 336.2h1M377.4 384.5h1M391.2 340.3h1M391.2 352.8h1M373.2 384.6h1M390.3 360.4h1M386.2 370.1h1M375.4 381.9h1M380.9 377.1h1M375.0 382.1h1M392.4 355.5h1M395.4 330.5h1M389.9 347.8h1M385.3 356.3h1M382.7 372.8h1M384.0 339.3h1M373.0 360.7h1M375.0 370.6h1M383.7 340.1h1M383.9 347.6h1M388.2 329.5h1M391.7 342.6h1M389.6 347.1h1M387.7 354.8h1M386.8 339.5h1M381.6 346.8h1M390.6 344.6h1M383.1 343.6h1M379.1 360.9h1M373.8 375.8h1M399.0 342.2h1M381.6 365.3h1M392.3 345.0h1M394.4 338.6h1M387.8 370.6h1M385.3 358.9h1M382.6 355.6h1M379.3 357.2h1M401.6 336.9h1M373.5 362.9h1M380.4 353.4h1M388.1 359.5h1M378.6 381.5h1M373.8 359.9h1M379.1 357.8h1M392.7 326.4h1M383.1 356.4h1M390.8 342.9h1M379.6 359.2h1M393.2 344.9h1M373.6 356.0h1M375.9 385.4h1M389.2 340.9h1M375.1 368.4h1M382.2 370.0h1M395.2 326.9h1M384.8 339.7h1M389.4 336.8h1M394.2 342.9h1M397.4 336.9h1M383.6 344.4h1M376.3 363.2h1M394.7 344.6h1M374.4 375.4h1M377.1 378.4h1M378.4 380.5h1M393.6 329.1h1M390.8 345.5h1M376.5 380.7h1M385.7 374.3h1M373.7 380.0h1M379.4 377.8h1M381.3 376.5h1M390.8 358.6h1M396.1 357.7h1M380.5 380.2h1M377.1 374.7h1M391.4 335.3h1M377.4 371.7h1M375.5 352.7h1M380.3 366.1h1M376.8 372.1h1M384.2 326.0h1M376.5 357.1h1M384.5 367.0h1M387.3 356.2h1M391.0 341.0h1M374.8 364.2h1M374.9 380.7h1M386.8 351.9h1M397.2 329.3h1M382.4 356.0h1M384.4 360.0h1M375.1 374.9h1M382.5 371.5h1M400.3 326.7h1M373.7 381.0h1M373.5 350.8h1M375.3 364.6h1M382.7 358.9h1M382.0 336.9h1M374.7 358.6h1M379.0 379.9h1M383.3 334.5h1M380.3 339.1h1M378.9 376.1h1M393.7 349.8h1M386.8 369.6h1M387.9 358.3h1M378.1 381.0h1M380.3 361.2h1M375.5 381.0h1M379.1 367.0h1M378.9 339.8h1M380.0 366.6h1M385.8 349.4h1M377.9 342.4h1M389.9 348.4h1M379.9 365.2h1M404.1 346.3h1M381.0 373.2h1M375.7 363.7h1M374.4 385.5h1M383.6 364.7h1M383.8 361.2h1M399.6 337.9h1M379.5 355.9h1M393.4 351.4h1M387.0 329.7h1M384.7 361.3h1M390.0 323.2h1M376.5 353.6h1M382.1 361.7h1M390.0 355.5h1M380.7 365.4h1M386.6 352.2h1M381.2 358.9h1M377.8 372.5h1M381.4 370.8h1M387.7 375.6h1M382.0 363.8h1M385.6 374.0h1M373.3 381.1h1M378.0 377.6h1M385.0 358.1h1M381.9 362.1h1M377.9 365.0h1M391.3 330.4h1M377.1 369.9h1M383.4 371.1h1M397.5 351.1h1M383.8 352.6h1M391.6 331.0h1M386.3 342.9h1M393.2 327.6h1M382.3 372.1h1M385.3 335.7h1M394.4 341.7h1M376.5 361.8h1M386.2 356.9h1M378.5 373.8h1M387.9 353.5h1M386.5 341.2h1M376.4 367.9h1M378.6 367.1h1M394.9 327.0h1M374.2 381.5h1M385.1 350.4h1M384.9 376.0h1M390.3 345.2h1M392.8 339.8h1M380.7 342.1h1M381.8 367.3h1M378.1 366.7h1M376.0 376.4h1M374.7 359.3h1M385.4 342.5h1M375.0 379.0h1M381.8 359.0h1M372.6 344.0h1M377.4 360.6h1M377.1 362.7h1M382.6 367.2h1M403.2 332.8h1M374.6 374.4h1M398.7 335.1h1M374.9 371.7h1M389.8 356.6h1M384.5 334.6h1M381.7 365.6h1M383.8 358.6h1M381.2 348.2h1M380.2 380.3h1M384.8 359.2h1M375.1 384.4h1M387.1 336.2h1M380.3 376.9h1M378.4 351.6h1M378.4 351.7h1M374.9 378.7h1M384.9 362.8h1M384.0 349.1h1M381.0 328.0h1M376.2 365.7h1M382.4 341.2h1M390.2 367.9h1M377.0 343.5h1M386.3 333.8h1M384.3 346.0h1M380.8 382.8h1M381.2 353.4h1M393.3 352.2h1M379.3 353.7h1M387.6 335.0h1M380.6 347.9h1M376.5 376.0h1M381.9 358.0h1M390.9 326.8h1M377.2 383.0h1M387.2 335.8h1M377.8 383.8h1M385.2 349.2h1M378.5 379.9h1M376.8 359.9h1M378.0 358.0h1M388.0 348.8h1M386.5 361.4h1M397.2 354.5h1M384.7 349.4h1M385.2 348.4h1M388.9 332.9h1M374.6 370.7h1M379.5 352.1h1M376.7 360.2h1M374.3 373.8h1M374.5 382.5h1M382.7 345.4h1M384.0 344.9h1M382.5 365.2h1M388.1 360.7h1M400.0 328.8h1M380.6 369.2h1M392.5 332.9h1M381.6 367.4h1M373.8 378.9h1M377.2 366.8h1M397.5 343.7h1M384.2 363.6h1M383.1 355.4h1M381.9 368.8h1M376.2 381.4h1M378.3 364.2h1M378.0 361.2h1M384.3 360.2h1M380.4 342.6h1M384.2 328.4h1M395.2 336.0h1M381.5 367.0h1M402.3 334.5h1M380.7 347.5h1M389.7 350.0h1M390.1 325.8h1M376.7 380.9h1M384.2 344.9h1M378.8 367.3h1M387.0 373.1h1M382.0 335.7h1M380.7 370.6h1M382.3 343.8h1M379.2 368.5h1M374.2 379.5h1M381.1 365.4h1M388.0 363.3h1M373.2 378.6h1M380.5 385.0h1M386.0 336.9h1M386.6 321.9h1M379.3 374.7h1M375.8 372.1h1M375.1 338.2h1M377.2 366.2h1M392.0 345.2h1M375.5 367.6h1M383.9 368.8h1M396.4 330.2h1M375.6 340.5h1M380.1 366.5h1M378.1 367.8h1M379.8 331.7h1M393.8 325.8h1M379.8 370.7h1M391.4 324.8h1M383.8 344.2h1M386.1 348.0h1M378.0 368.8h1M381.6 375.5h1M387.5 326.7h1M388.0 327.5h1M376.5 384.6h1M392.2 355.7h1M373.2 380.5h1M389.1 331.4h1M375.0 380.7h1M376.1 370.7h1M380.1 358.4h1M383.2 351.4h1M391.4 355.7h1M374.2 354.2h1M390.3 338.7h1M390.1 346.0h1M378.5 384.2h1M385.7 367.9h1M374.8 371.7h1M373.9 358.7h1M374.1 374.5h1M380.8 367.3h1M383.9 349.4h1M376.6 373.8h1M376.3 383.5h1M380.0 371.2h1M395.3 337.3h1M384.9 339.3h1M379.1 372.7h1M389.5 350.2h1M385.6 364.2h1M387.4 328.0h1M379.6 380.2h1M379.2 356.2h1M380.1 381.8h1M383.5 359.1h1M381.6 369.7h1M375.6 375.8h1M376.6 358.1h1M397.2 361.9h1M381.6 355.0h1M385.9 350.2h1M385.4 347.9h1M385.0 353.0h1M381.0 368.5h1M376.1 374.9h1M375.7 372.5h1M380.5 377.6h1M372.6 383.8h1M387.0 351.9h1M390.8 325.0h1M394.1 360.9h1M379.6 372.7h1M374.6 377.2h1M373.6 385.0h1M376.1 369.1h1M379.5 373.6h1M376.0 359.5h1M387.1 359.4h1M378.9 372.7h1M377.0 339.4h1M394.6 328.9h1M383.7 352.0h1M379.7 347.2h1M390.7 338.7h1M375.0 369.4h1M373.9 379.3h1M373.9 366.1h1M398.6 331.0h1M375.3 361.6h1M378.7 353.4h1M384.3 357.2h1M394.9 339.5h1M378.8 374.3h1M378.6 364.1h1M389.2 340.1h1M381.7 345.5h1M396.1 341.9h1M392.6 347.4h1M396.8 334.9h1M380.0 372.0h1M375.7 381.0h1M387.9 328.8h1M378.0 382.1h1M376.2 363.0h1M388.6 343.6h1M395.8 351.8h1M382.8 381.8h1M378.3 377.4h1M392.1 341.2h1M387.3 336.4h1M390.9 346.4h1M380.4 384.4h1M378.3 379.0h1M389.8 342.0h1M377.1 360.5h1M387.1 354.1h1M384.8 349.8h1M382.4 377.4h1M381.8 360.3h1M378.3 382.5h1M392.7 350.6h1M379.0 353.8h1M377.1 377.6h1M373.9 377.3h1M385.1 350.2h1M387.9 344.4h1M409.0 332.4h1M398.7 337.5h1M375.1 377.0h1M389.8 361.2h1M377.1 378.4h1M377.8 372.7h1M387.8 328.9h1M374.9 378.8h1M395.5 340.5h1M388.4 371.3h1M376.2 382.1h1M378.3 375.5h1M385.4 354.3h1M379.9 373.8h1M383.2 365.1h1M376.2 383.3h1M391.4 344.6h1M389.7 364.7h1M391.4 331.0h1M389.3 336.8h1M388.8 332.9h1M384.0 341.0h1M400.5 331.2h1M394.4 326.8h1M375.1 385.0h1M373.5 383.4h1M374.3 383.8h1M373.8 385.1h1M374.4 385.3h1M374.6 381.7h1M373.5 380.8h1M373.9 384.4h1M376.1 384.8h1" stroke="#000" stroke-width="1" stroke-opacity="0.16" fill="none"/>
</g>
<g filter="url(#bl)">
<path d="M412.5 328.9h1M416.4 326.5h1M414.9 328.1h1M413.7 328.8h1M411.1 328.3h1M414.6 328.2h1M412.4 329.2h1M412.2 329.6h1M413.4 330.8h1M417.2 328.2h1M413.6 328.9h1M420.9 324.4h1M412.2 330.0h1M414.8 327.2h1M410.2 330.8h1M415.6 328.1h1M416.4 327.7h1M417.7 329.9h1M414.7 328.0h1M417.8 327.6h1M415.6 328.8h1M413.4 329.1h1M413.2 328.2h1M416.3 328.2h1M414.8 326.4h1M415.1 330.2h1M413.5 332.9h1M415.9 330.1h1M413.1 331.9h1M415.2 329.6h1M417.7 327.5h1M413.9 326.7h1M412.8 329.1h1M411.6 328.9h1M417.9 327.2h1M412.3 331.0h1M416.9 326.7h1M419.9 327.2h1M418.8 328.3h1M411.4 334.0h1M416.6 326.8h1M417.3 328.9h1M418.4 326.4h1M415.1 328.0h1M414.8 329.9h1M413.4 326.1h1M415.6 328.6h1M417.2 328.9h1M417.1 325.9h1M419.7 324.5h1M415.0 325.6h1M416.0 326.0h1M416.8 324.6h1M413.9 329.0h1M411.8 328.8h1M415.5 328.9h1M417.1 327.8h1M418.0 327.9h1M416.8 329.4h1M419.8 326.6h1M418.5 327.6h1M415.1 329.0h1M417.1 329.4h1M420.3 327.7h1M415.1 327.6h1M415.3 326.1h1M416.9 325.9h1M416.4 331.0h1M413.0 328.1h1M413.1 328.3h1M414.4 327.5h1M416.4 327.8h1M420.1 323.3h1M415.2 329.3h1M418.8 328.2h1M418.6 327.2h1M414.3 330.0h1M415.0 329.9h1M415.2 328.0h1M419.8 329.8h1M414.1 328.0h1M412.5 329.0h1M413.1 330.0h1M417.1 326.2h1M416.2 328.4h1M417.9 325.9h1M414.1 328.7h1M415.8 327.6h1M416.7 327.0h1M414.5 327.9h1M414.3 327.3h1M418.5 326.5h1M412.4 328.6h1M417.2 327.3h1M413.6 329.6h1M419.1 326.3h1M416.4 326.9h1M415.3 325.6h1M416.0 328.2h1M419.7 330.6h1M417.5 325.9h1M417.4 327.7h1M421.0 325.4h1M416.7 326.4h1M413.7 330.4h1M417.1 328.1h1M415.6 330.2h1M411.7 329.8h1M417.8 326.2h1M415.2 330.3h1M415.8 326.5h1M417.7 327.8h1M418.5 326.2h1M413.0 327.0h1M411.2 329.3h1M415.3 327.1h1M414.6 326.7h1M415.5 326.8h1M418.3 328.4h1M413.8 331.0h1M414.4 324.2h1M410.6 330.3h1M416.6 326.3h1M415.4 327.3h1M419.1 328.0h1M426.6 326.7h1M411.8 329.8h1M409.2 331.6h1M418.0 324.3h1M421.8 324.6h1M421.2 321.2h1M412.2 329.2h1M407.3 327.4h1M407.3 328.1h1M407.1 334.1h1M419.5 326.3h1M413.1 325.8h1M414.3 329.9h1M416.9 321.6h1M410.0 328.4h1M416.5 327.3h1M412.6 329.0h1M413.5 330.6h1M415.2 330.3h1M413.6 326.7h1M420.3 329.9h1M408.2 329.6h1M409.3 328.7h1M420.4 324.2h1M418.8 326.2h1M416.2 334.2h1M414.6 328.7h1M416.8 328.5h1M416.3 325.0h1M411.0 329.9h1M418.5 326.1h1M415.5 327.9h1M418.2 328.8h1M413.6 329.7h1M414.8 324.1h1M416.1 332.3h1M419.7 325.5h1M424.2 328.1h1M406.6 332.5h1M422.8 327.3h1M407.3 330.3h1M423.1 326.3h1M413.4 329.5h1M409.4 333.4h1M413.7 329.0h1M417.5 328.2h1M422.0 325.0h1M416.4 328.6h1M405.1 332.2h1M423.6 324.3h1M410.6 334.0h1M406.6 335.3h1M413.5 328.9h1M407.4 327.3h1M415.8 329.8h1M414.9 326.9h1M411.4 330.7h1M409.6 322.9h1M423.1 327.6h1M413.6 326.9h1M410.5 329.5h1M415.6 328.1h1M408.3 328.8h1M416.1 324.3h1M417.4 334.0h1M413.8 332.9h1M422.1 325.9h1M418.1 330.0h1M412.6 325.5h1M408.0 326.8h1M413.6 323.9h1M410.2 327.8h1M411.6 327.3h1M419.4 328.5h1M416.4 330.4h1M410.2 329.8h1M415.1 326.5h1M415.5 329.1h1M409.6 325.2h1M411.6 330.6h1M415.8 327.6h1M414.9 325.2h1M416.6 322.1h1M417.9 330.8h1M418.7 327.6h1M417.9 325.4h1M409.1 331.3h1M410.5 330.6h1M417.3 330.5h1M409.8 327.1h1M419.3 330.0h1M417.5 327.3h1M415.9 329.3h1M415.7 328.8h1M411.9 325.4h1M415.7 327.1h1M418.0 328.9h1M416.7 327.3h1M412.5 330.4h1M412.4 325.9h1M422.5 322.5h1M417.5 329.0h1M408.2 325.2h1M415.5 328.7h1M415.2 331.9h1M413.4 326.7h1M404.5 328.4h1M419.4 323.6h1M418.1 328.5h1M412.5 331.1h1M423.3 325.9h1M419.6 323.2h1M413.5 327.2h1M409.7 330.9h1M420.3 329.4h1" stroke="#000" stroke-width="1" stroke-opacity="0.28" fill="none"/>
<path d="M411.5 330.8h1M417.5 327.9h1M413.8 328.4h1M418.5 326.5h1M415.2 328.6h1M414.1 329.9h1M417.5 326.6h1M416.5 326.4h1M412.1 327.6h1M414.7 327.7h1M417.8 327.7h1M415.4 327.6h1M413.9 325.2h1M413.7 327.2h1M416.4 330.4h1M419.3 328.5h1M413.0 328.0h1M415.8 327.6h1M415.1 329.5h1M411.3 329.9h1M414.2 329.3h1M413.7 328.1h1M413.7 330.4h1M416.0 326.4h1M415.6 329.4h1M415.2 329.8h1M416.3 329.6h1M412.5 328.2h1M411.8 332.8h1M415.7 329.7h1M415.6 326.3h1M413.6 328.5h1M416.3 329.3h1M416.2 326.4h1M411.8 331.8h1M412.1 329.8h1M413.9 329.1h1M412.9 329.2h1M412.8 329.2h1M414.8 327.8h1M419.8 327.1h1M417.6 328.4h1M419.4 323.3h1M416.7 327.5h1M418.7 326.4h1M412.4 328.1h1M414.1 329.4h1M412.3 328.7h1M416.9 328.8h1M416.5 327.6h1M412.3 331.5h1M417.3 328.0h1M416.7 326.1h1M413.2 328.4h1M417.5 324.5h1M414.4 328.4h1M413.7 330.5h1M411.0 328.9h1M418.9 327.3h1M418.4 327.1h1M414.6 329.4h1M412.3 330.6h1M417.9 328.8h1M417.8 327.3h1M414.7 329.3h1M417.8 330.1h1M416.8 330.0h1M414.5 329.8h1M420.3 325.2h1M414.4 327.5h1M416.4 328.0h1M413.0 329.6h1M415.7 329.7h1M419.4 327.1h1M414.9 330.1h1M412.2 332.3h1M412.4 331.1h1M415.4 328.6h1M415.0 327.1h1M412.2 330.0h1M412.3 330.2h1M413.7 328.2h1M413.2 329.0h1M417.5 330.3h1M417.9 328.6h1M413.1 329.4h1M419.4 329.2h1M411.8 329.2h1M413.3 329.3h1M416.9 329.0h1M417.2 326.3h1M412.3 332.3h1M413.5 325.9h1M416.4 329.6h1M413.9 327.5h1M417.5 327.2h1M413.8 331.6h1M415.2 328.1h1M409.4 332.4h1M414.6 327.0h1M417.6 327.9h1M414.2 327.0h1M416.4 327.6h1M416.3 326.2h1M414.4 326.6h1M413.6 327.3h1M415.8 328.8h1M415.8 327.0h1M415.1 328.2h1M414.9 330.1h1M415.3 332.2h1M413.6 329.5h1M412.8 330.1h1M416.6 327.7h1M415.6 327.5h1M415.5 329.6h1M413.8 329.5h1M413.2 326.8h1M419.4 326.7h1M412.6 327.8h1M422.3 326.5h1M412.2 325.2h1M413.9 324.9h1M420.7 326.0h1M418.0 325.6h1M412.8 330.4h1M410.7 337.2h1M416.6 329.0h1M410.4 335.4h1M412.9 333.6h1M416.5 324.7h1M413.3 332.1h1M415.7 322.9h1M412.3 330.0h1M420.1 328.4h1M415.3 328.3h1M413.0 330.0h1M424.2 323.2h1M411.9 333.0h1M419.3 327.1h1M408.7 328.6h1M417.0 325.3h1M415.0 326.9h1M418.0 330.9h1M412.5 330.1h1M408.3 331.9h1M423.9 324.0h1M412.2 329.4h1M410.9 327.9h1M418.0 325.3h1M409.0 330.1h1M415.4 329.6h1M413.8 327.9h1M406.3 334.8h1M414.0 329.7h1M410.0 332.9h1M418.1 327.1h1M418.8 323.4h1M413.1 330.4h1M414.7 326.8h1M424.1 322.4h1M415.4 326.1h1M416.1 325.0h1M407.2 327.7h1M415.7 324.2h1M413.5 335.6h1M414.3 325.8h1M408.8 330.0h1M411.5 333.7h1M419.5 325.3h1M424.3 326.7h1M418.2 327.8h1M410.3 326.8h1M407.4 327.6h1M404.8 330.6h1M407.3 325.4h1M420.3 328.6h1M412.1 326.6h1M415.0 329.4h1M407.8 329.9h1M412.2 328.6h1M418.0 327.7h1M406.6 334.9h1M410.7 330.8h1M418.3 331.9h1M416.6 327.5h1M418.1 326.2h1M416.4 326.9h1M420.7 325.5h1M411.3 331.9h1M416.9 328.4h1M422.8 324.2h1M419.4 323.7h1M417.4 328.1h1M417.0 326.5h1M422.7 328.9h1M415.5 331.5h1M414.3 331.3h1M417.4 327.1h1M409.3 328.9h1M410.3 330.6h1M419.7 323.0h1M416.1 329.4h1M415.8 332.0h1M418.9 324.0h1M418.7 327.0h1M425.8 327.6h1M418.7 331.1h1M417.4 327.3h1M412.4 327.7h1M411.4 322.8h1M418.2 331.3h1M415.7 325.4h1M416.5 329.9h1M422.4 324.3h1M404.3 329.9h1M417.8 328.1h1M425.6 322.5h1M421.0 325.8h1M413.3 332.5h1M418.0 329.1h1M419.1 327.1h1M415.1 323.3h1M418.3 325.1h1M409.4 328.5h1M414.5 327.0h1M407.4 326.5h1M414.1 328.6h1M410.2 331.1h1M407.6 328.1h1M417.6 325.9h1M414.5 328.8h1M418.2 332.4h1M415.9 328.4h1M415.4 327.2h1M415.0 325.4h1M411.4 330.2h1M421.9 324.6h1M416.0 327.3h1M417.6 328.4h1" stroke="#000" stroke-width="1" stroke-opacity="0.28" fill="none"/>
<path d="M417.4 326.1h1M414.6 329.8h1M417.4 326.7h1M409.2 329.0h1M414.3 328.9h1M416.5 328.3h1M419.3 325.0h1M415.0 328.5h1M416.7 328.1h1M414.4 328.6h1M416.6 327.1h1M417.2 326.6h1M414.8 328.2h1M413.5 327.5h1M419.9 326.4h1M418.0 325.4h1M411.3 332.1h1M417.3 327.8h1M416.1 328.9h1M417.3 327.1h1M419.3 326.6h1M416.7 328.2h1M415.8 327.7h1M412.4 330.0h1M418.2 327.2h1M412.6 327.8h1M412.5 330.6h1M418.5 327.4h1M412.8 328.9h1M412.2 329.7h1M414.7 327.8h1M413.2 327.2h1M410.8 331.8h1M417.6 327.5h1M419.2 328.4h1M412.9 327.9h1M414.8 327.2h1M416.4 328.0h1M416.9 325.8h1M419.0 324.6h1M415.4 327.3h1M413.2 329.0h1M414.0 329.7h1M418.5 326.5h1M412.6 326.5h1M412.5 330.8h1M414.6 328.9h1M414.2 327.3h1M418.7 328.2h1M419.2 328.5h1M415.3 326.9h1M418.4 324.2h1M414.4 330.0h1M412.9 330.0h1M415.7 326.9h1M418.0 326.9h1M413.8 326.6h1M416.1 327.6h1M418.1 330.2h1M414.6 330.6h1M413.6 327.8h1M415.5 326.4h1M417.7 328.4h1M416.8 329.0h1M416.6 327.4h1M416.0 325.7h1M416.4 327.1h1M413.6 332.2h1M419.9 327.8h1M413.0 329.8h1M417.1 329.6h1M417.0 328.6h1M413.8 327.1h1M413.7 329.7h1M416.2 328.6h1M416.7 329.7h1M417.0 328.1h1M412.9 328.8h1M414.3 331.7h1M418.7 328.2h1M413.3 326.5h1M418.9 327.4h1M414.4 327.6h1M413.2 329.1h1M416.7 328.2h1M420.0 327.9h1M413.3 329.6h1M414.1 329.1h1M413.2 329.0h1M417.9 329.0h1M416.5 327.6h1M414.2 327.0h1M416.3 330.6h1M412.3 329.1h1M419.8 326.2h1M421.2 324.3h1M416.7 329.3h1M414.8 328.4h1M416.5 328.8h1M411.6 328.7h1M418.9 330.1h1M415.8 327.8h1M414.1 329.3h1M411.8 329.3h1M416.0 329.9h1M416.2 325.8h1M414.1 329.0h1M416.8 325.8h1M412.6 330.6h1M412.7 330.9h1M416.0 328.8h1M413.4 328.0h1M414.6 329.0h1M416.0 327.7h1M412.7 328.6h1M410.7 331.6h1M413.8 328.0h1M414.5 327.9h1M412.1 330.5h1M415.6 328.2h1M413.2 329.5h1M420.5 326.5h1M412.2 328.9h1M416.3 332.1h1M410.3 328.9h1M420.0 328.8h1M409.9 336.0h1M423.9 320.4h1M420.3 326.5h1M427.5 326.7h1M413.7 326.2h1M422.0 320.4h1M413.3 327.9h1M419.2 332.8h1M410.9 329.4h1M418.4 327.8h1M413.1 328.0h1M413.1 331.6h1M408.0 333.0h1M416.8 331.1h1M414.7 330.7h1M418.7 327.1h1M412.1 333.4h1M409.0 333.8h1M409.8 329.4h1M415.0 331.3h1M410.4 326.9h1M403.6 327.9h1M414.2 330.6h1M415.1 326.3h1M412.5 328.2h1M414.1 332.3h1M413.7 328.6h1M417.6 326.5h1M411.3 329.1h1M416.5 326.3h1M423.0 322.2h1M413.1 327.5h1M413.3 331.4h1M410.6 329.7h1M414.5 326.0h1M414.5 327.5h1M417.0 328.5h1M415.7 331.7h1M420.8 326.7h1M420.9 324.8h1M414.9 324.6h1M417.1 328.2h1M416.2 328.5h1M420.0 330.1h1M417.1 329.6h1M413.9 324.7h1M416.3 324.8h1M407.4 331.6h1M407.3 330.4h1M411.0 332.5h1M420.8 328.6h1M416.0 327.7h1M417.0 326.6h1M416.5 325.3h1M412.4 326.0h1M403.9 332.4h1M406.7 330.9h1M415.9 330.1h1M416.0 335.8h1M412.9 327.1h1M407.8 330.1h1M410.9 330.4h1M420.6 322.6h1M416.1 327.2h1M413.6 329.1h1M415.5 332.0h1M413.2 323.2h1M415.0 325.5h1M414.5 331.2h1M413.8 329.6h1M405.9 332.8h1M416.6 326.9h1M414.6 327.3h1M419.3 334.5h1M416.7 325.5h1M413.6 327.8h1M423.9 327.7h1M416.1 327.9h1M410.8 328.0h1M421.0 322.8h1M414.1 330.6h1M413.7 330.3h1M413.9 324.7h1M420.6 323.2h1M418.0 324.1h1M415.1 331.5h1M405.9 332.8h1M411.8 328.0h1M416.0 327.0h1M416.6 330.3h1M411.9 329.8h1M415.5 329.2h1M418.7 323.8h1M418.7 327.4h1M418.7 326.7h1M406.9 328.6h1M409.3 326.9h1M418.6 323.9h1M416.0 327.6h1M422.2 328.4h1M420.5 325.8h1M415.7 327.0h1M415.6 325.0h1M413.5 330.8h1M410.0 331.0h1M412.1 330.0h1M419.4 328.0h1M415.6 327.8h1M416.8 327.9h1M417.5 327.4h1M418.1 329.1h1M416.7 327.4h1M413.9 330.8h1M419.6 326.0h1" stroke="#000" stroke-width="1" stroke-opacity="0.28" fill="none"/>
<path d="M416.7 326.7h1M412.9 330.8h1M418.1 329.3h1M418.8 326.5h1M413.5 325.8h1M419.0 327.1h1M417.7 326.2h1M416.8 328.0h1M413.8 328.7h1M414.0 325.5h1M412.8 330.1h1M415.6 331.6h1M417.0 328.0h1M412.1 327.6h1M412.3 329.5h1M414.9 331.6h1M413.0 327.4h1M417.4 327.9h1M410.8 330.8h1M414.7 328.7h1M417.8 330.1h1M411.4 328.9h1M415.3 327.0h1M417.2 326.8h1M412.1 329.0h1M420.3 327.4h1M416.9 327.5h1M418.4 325.7h1M417.5 327.2h1M417.5 329.2h1M418.1 327.3h1M414.3 327.0h1M416.0 329.3h1M419.8 327.1h1M418.1 327.0h1M416.8 328.4h1M415.7 326.9h1M417.7 327.6h1M415.3 328.4h1M414.0 329.9h1M417.6 323.6h1M416.8 326.7h1M418.6 330.5h1M416.0 328.9h1M411.7 329.9h1M414.5 330.7h1M417.8 327.1h1M411.0 328.2h1M419.0 325.7h1M415.5 327.4h1M415.2 326.2h1M412.9 327.4h1M416.2 327.8h1M414.1 327.7h1M410.4 331.2h1M416.8 327.6h1M417.9 329.2h1M415.0 327.8h1M414.3 328.9h1M417.8 324.6h1M415.7 330.1h1M413.4 329.5h1M417.2 331.2h1M416.5 328.0h1M414.3 329.9h1M416.7 328.2h1M411.6 327.9h1M414.4 327.8h1M412.5 328.7h1M413.5 327.8h1M413.4 328.3h1M414.5 327.3h1M415.7 330.8h1M417.9 326.0h1M416.6 325.5h1M418.1 326.7h1M417.5 327.1h1M420.4 326.4h1M419.9 325.6h1M412.0 329.7h1M412.9 329.5h1M417.1 326.6h1M415.5 326.5h1M411.9 330.3h1M414.8 328.1h1M415.9 329.0h1M417.0 326.8h1M421.0 329.0h1M411.7 329.2h1M415.7 328.4h1M415.1 328.9h1M414.7 330.6h1M415.1 324.1h1M419.4 326.6h1M417.6 325.0h1M417.4 326.7h1M417.8 324.9h1M413.2 328.8h1M413.7 328.5h1M417.3 329.3h1M414.0 328.6h1M417.7 327.3h1M417.5 328.7h1M414.5 329.5h1M414.2 328.9h1M414.5 326.3h1M417.9 328.3h1M417.6 325.4h1M414.1 328.2h1M415.9 329.2h1M412.1 328.0h1M420.1 326.2h1M415.5 328.4h1M414.5 326.5h1M415.0 324.8h1M414.6 325.2h1M414.3 329.8h1M416.9 326.3h1M413.3 332.5h1M415.2 327.5h1M409.8 326.3h1M421.6 329.1h1M411.5 327.3h1M408.1 333.3h1M418.8 322.8h1M418.9 325.2h1M415.6 324.0h1M410.7 322.7h1M418.4 321.8h1M416.9 331.3h1M409.5 331.9h1M424.3 327.0h1M416.7 330.1h1M411.0 329.1h1M407.2 328.7h1M416.9 327.3h1M408.7 332.6h1M416.1 330.5h1M415.6 328.4h1M414.1 327.1h1M416.3 328.5h1M408.2 330.3h1M418.2 326.3h1M404.1 334.4h1M419.2 324.4h1M406.4 332.1h1M413.6 328.4h1M416.5 325.2h1M418.1 326.2h1M419.7 328.4h1M420.3 328.0h1M419.1 328.9h1M417.3 327.7h1M420.8 324.0h1M419.5 324.5h1M417.1 329.4h1M416.2 325.7h1M425.8 323.6h1M414.1 327.9h1M407.5 330.2h1M416.2 324.5h1M415.5 328.4h1M420.4 325.5h1M418.2 326.9h1M416.4 323.9h1M416.7 328.6h1M418.6 327.5h1M404.9 330.8h1M414.1 324.3h1M413.4 325.9h1M418.5 329.8h1M411.7 328.2h1M413.1 327.1h1M409.8 328.3h1M417.3 325.0h1M422.7 326.1h1M416.9 328.8h1M416.1 323.9h1M416.5 331.9h1M416.7 331.0h1M415.8 327.2h1M413.5 330.0h1M410.5 330.4h1M419.5 324.7h1M413.6 327.9h1M416.9 330.6h1M414.1 325.2h1M421.0 328.4h1M418.0 329.3h1M420.1 324.1h1M415.6 325.0h1M409.1 331.0h1M412.4 330.2h1M407.2 333.5h1M413.2 328.9h1M411.9 324.4h1M417.9 327.4h1M417.3 330.8h1M422.6 320.6h1M409.7 329.3h1M410.4 331.5h1M406.3 330.3h1M413.1 328.7h1M413.3 325.9h1M419.3 327.2h1M416.4 326.8h1M415.1 325.1h1M406.0 327.5h1M414.5 328.7h1M410.8 331.1h1M413.7 325.0h1M414.8 327.9h1M414.7 334.1h1M405.7 333.1h1M412.4 326.9h1M419.9 327.7h1M412.2 324.8h1M412.4 327.3h1M417.2 325.5h1M412.6 323.3h1M422.6 323.9h1M416.2 325.9h1M414.7 327.6h1M419.7 324.2h1M421.7 324.8h1M414.7 328.7h1M412.3 330.2h1M414.3 326.2h1M422.2 328.4h1M409.7 333.0h1M417.7 322.1h1M422.2 322.9h1M412.1 328.0h1M416.2 320.7h1M411.8 326.6h1M418.6 326.8h1M408.1 332.0h1M417.4 331.7h1M413.9 329.2h1" stroke="#000" stroke-width="1" stroke-opacity="0.28" fill="none"/>
</g>
<polygon points="403.5,257.2 408.8,249.4 425.4,249.2 426.5,251.5 420.4,260.7 415.8,265.3 406.5,264.2" fill="none" stroke="#333" stroke-width="0.8"/>
<polygon points="404.5,327.7 411.1,320.2 428.0,320.0 428.4,321.5 421.1,331.5 418.4,335.8 408.8,335.8" fill="none" stroke="#333" stroke-width="0.8"/>
<text x="71.5" y="289.3" font-size="7.4" font-weight="bold" stroke="#000" stroke-width="0.25" textLength="23.3" lengthAdjust="spacingAndGlyphs">Ly6G+</text>
<text x="70.9" y="362.3" font-size="7.4" font-weight="bold" stroke="#000" stroke-width="0.25" textLength="21.6" lengthAdjust="spacingAndGlyphs">Ly6G+</text>
<text x="237.6" y="288.6" font-size="7.4" font-weight="bold" stroke="#000" stroke-width="0.25" textLength="22.0" lengthAdjust="spacingAndGlyphs">Ly6G+</text>
<text x="237.9" y="362.6" font-size="7.4" font-weight="bold" stroke="#000" stroke-width="0.25" textLength="22.3" lengthAdjust="spacingAndGlyphs">Ly6G+</text>
<text x="403.7" y="279.6" font-size="7.4" font-weight="bold" stroke="#000" stroke-width="0.25" textLength="21.7" lengthAdjust="spacingAndGlyphs">Ly6G+</text>
<text x="409.1" y="345.3" font-size="7.4" font-weight="bold" stroke="#000" stroke-width="0.25" textLength="22.3" lengthAdjust="spacingAndGlyphs">Ly6G+</text>
<line x1="86.9" y1="275.9" x2="93.7918223136817" y2="279.29396274744124" stroke="#000" stroke-width="1.2"/>
<polygon points="106.8,285.7 89.3,283.8 94.2,279.5 94.6,273.0" fill="#000"/>
<line x1="83.4" y1="349.9" x2="94.0" y2="349.9" stroke="#000" stroke-width="1.2"/>
<polygon points="108.5,349.9 92.0,355.9 94.5,349.9 92.0,343.9" fill="#000"/>
<line x1="250.0" y1="269.2" x2="256.6839528892306" y2="272.61018004552585" stroke="#000" stroke-width="1.2"/>
<polygon points="269.6,279.2 252.2,277.0 257.1,272.8 257.6,266.4" fill="#000"/>
<line x1="247.7" y1="344.6" x2="258.9" y2="344.6" stroke="#000" stroke-width="1.2"/>
<polygon points="273.4,344.6 256.9,350.6 259.4,344.6 256.9,338.6" fill="#000"/>
<line x1="426.3" y1="262.5" x2="433.686618499073" y2="266.41271375940994" stroke="#000" stroke-width="1.2"/>
<polygon points="446.5,273.2 429.1,270.8 434.1,266.6 434.7,260.2" fill="#000"/>
<line x1="422.5" y1="333.0" x2="434.7" y2="333.0" stroke="#000" stroke-width="1.2"/>
<polygon points="449.2,333.0 432.7,339.0 435.2,333.0 432.7,327.0" fill="#000"/>
<path d="M107.5 348.2V277.6H177.9V348.2" stroke="#9a9a9a" stroke-width="1.2" fill="none"/>
<line x1="107.0" y1="348.2" x2="177.9" y2="348.2" stroke="#333" stroke-width="1.1"/>
<line x1="122.80434782608695" y1="348.2" x2="122.80434782608695" y2="349.7" stroke="#555" stroke-width="0.8"/>
<line x1="107.5" y1="332.8521739130435" x2="106.0" y2="332.8521739130435" stroke="#777" stroke-width="0.8"/>
<line x1="138.1086956521739" y1="348.2" x2="138.1086956521739" y2="349.7" stroke="#555" stroke-width="0.8"/>
<line x1="107.5" y1="317.5043478260869" x2="106.0" y2="317.5043478260869" stroke="#777" stroke-width="0.8"/>
<line x1="153.41304347826087" y1="348.2" x2="153.41304347826087" y2="349.7" stroke="#555" stroke-width="0.8"/>
<line x1="107.5" y1="302.1565217391304" x2="106.0" y2="302.1565217391304" stroke="#777" stroke-width="0.8"/>
<line x1="168.71739130434784" y1="348.2" x2="168.71739130434784" y2="349.7" stroke="#555" stroke-width="0.8"/>
<line x1="107.5" y1="286.8086956521739" x2="106.0" y2="286.8086956521739" stroke="#777" stroke-width="0.8"/>
<polyline points="108.0,334.1 112.4,336.3 116.7,335.2 120.0,335.1 122.5,333.0 125.2,331.7 128.7,328.2 130.4,326.4 133.9,319.5 136.5,310.8 138.3,302.1 140.0,293.4 142.6,286.4 145.2,282.1 147.0,285.6 147.8,289.9 148.7,298.6 149.6,310.8 151.0,326.4 152.2,335.1 153.9,343.0 158.0,346.0" fill="none" stroke="#cfcfcf" stroke-width="1.0" stroke-linejoin="round"/>
<polyline points="108.0,346.2 120.0,346.2 130.4,345.3 135.7,343.5 139.1,339.5 140.9,333.4 142.6,324.7 144.3,312.5 146.1,302.1 147.8,293.4 148.7,289.9 150.4,292.5 152.2,288.2 154.8,283.0 156.2,280.3 157.0,288.2 157.9,305.6 158.8,323.0 160.0,338.6 161.7,345.3 167.0,346.2" fill="none" stroke="#a8a8a8" stroke-width="1.8" stroke-linejoin="round"/>
<path d="M273.6 348.2V281.6H339.5V348.2" stroke="#9a9a9a" stroke-width="1.2" fill="none"/>
<line x1="273.1" y1="348.2" x2="339.5" y2="348.2" stroke="#333" stroke-width="1.1"/>
<line x1="287.9260869565218" y1="348.2" x2="287.9260869565218" y2="349.7" stroke="#555" stroke-width="0.8"/>
<line x1="273.6" y1="333.7217391304348" x2="272.1" y2="333.7217391304348" stroke="#777" stroke-width="0.8"/>
<line x1="302.2521739130435" y1="348.2" x2="302.2521739130435" y2="349.7" stroke="#555" stroke-width="0.8"/>
<line x1="273.6" y1="319.24347826086955" x2="272.1" y2="319.24347826086955" stroke="#777" stroke-width="0.8"/>
<line x1="316.5782608695652" y1="348.2" x2="316.5782608695652" y2="349.7" stroke="#555" stroke-width="0.8"/>
<line x1="273.6" y1="304.76521739130436" x2="272.1" y2="304.76521739130436" stroke="#777" stroke-width="0.8"/>
<line x1="330.90434782608696" y1="348.2" x2="330.90434782608696" y2="349.7" stroke="#555" stroke-width="0.8"/>
<line x1="273.6" y1="290.28695652173917" x2="272.1" y2="290.28695652173917" stroke="#777" stroke-width="0.8"/>
<polyline points="273.7,339.3 279.2,340.2 284.7,339.3 290.2,338.4 295.7,334.7 299.3,327.3 302.1,309.0 303.9,307.2 305.8,294.3 307.6,286.1 309.4,290.7 311.3,309.0 312.5,323.7 314.0,336.5 316.8,343.9 320.4,345.7" fill="none" stroke="#cfcfcf" stroke-width="1.0" stroke-linejoin="round"/>
<polyline points="273.7,345.9 292.0,345.9 297.5,344.0 302.1,338.4 305.8,325.5 308.5,303.5 310.3,288.8 311.8,284.3 313.1,286.1 314.4,298.0 315.8,321.8 317.3,338.4 319.5,344.8 323.2,345.9" fill="none" stroke="#a8a8a8" stroke-width="1.8" stroke-linejoin="round"/>
<path d="M448.7 347.8V280.3H516.4V347.8" stroke="#9a9a9a" stroke-width="1.2" fill="none"/>
<line x1="448.2" y1="347.8" x2="516.4" y2="347.8" stroke="#333" stroke-width="1.1"/>
<line x1="463.4173913043478" y1="347.8" x2="463.4173913043478" y2="349.3" stroke="#555" stroke-width="0.8"/>
<line x1="448.7" y1="333.12608695652176" x2="447.2" y2="333.12608695652176" stroke="#777" stroke-width="0.8"/>
<line x1="478.1347826086956" y1="347.8" x2="478.1347826086956" y2="349.3" stroke="#555" stroke-width="0.8"/>
<line x1="448.7" y1="318.4521739130435" x2="447.2" y2="318.4521739130435" stroke="#777" stroke-width="0.8"/>
<line x1="492.8521739130435" y1="347.8" x2="492.8521739130435" y2="349.3" stroke="#555" stroke-width="0.8"/>
<line x1="448.7" y1="303.7782608695652" x2="447.2" y2="303.7782608695652" stroke="#777" stroke-width="0.8"/>
<line x1="507.5695652173913" y1="347.8" x2="507.5695652173913" y2="349.3" stroke="#555" stroke-width="0.8"/>
<line x1="448.7" y1="289.10434782608695" x2="447.2" y2="289.10434782608695" stroke="#777" stroke-width="0.8"/>
<polyline points="449.6,346.0 450.0,284.0 451.2,281.0 452.8,283.0 454.0,320.0 456.0,340.0 460.0,345.0 470.0,344.5 480.0,344.2 490.0,345.5 500.0,346.6" fill="none" stroke="#cfcfcf" stroke-width="1.0" stroke-linejoin="round"/>
<polyline points="450.2,346.0 450.4,285.0 451.2,281.5 452.6,282.0 453.5,295.0 454.3,316.8 455.7,338.1 457.5,343.6 460.3,346.4 468.0,346.6 475.1,345.9 479.7,345.5 484.0,346.0 490.0,346.6 500.0,346.8" fill="none" stroke="#333" stroke-width="0.8" stroke-linejoin="round"/>
<polyline points="449.6,346.0 449.8,290.0 450.2,281.0 451.2,280.4 452.6,281.0 453.6,292.0 454.3,316.8 455.2,328.9 456.6,337.2 458.5,340.9 460.3,342.2 462.2,341.3 464.0,339.9 465.9,338.1 467.2,338.5 468.6,337.2 470.0,334.9 471.4,332.5 472.8,333.5 474.2,331.6 475.5,333.0 476.5,330.7 477.4,325.2 478.3,322.4 479.2,324.2 480.6,323.8 482.0,327.0 483.4,328.9 484.8,333.5 485.7,337.2 487.1,339.9 488.9,342.2 490.8,344.5 492.6,345.9 495.4,346.9 500.0,347.0" fill="none" stroke="#a8a8a8" stroke-width="1.8" stroke-linejoin="round"/>
<text transform="translate(104.6,335.2) rotate(-90)" font-size="8.5" font-weight="bold" stroke="#000" stroke-width="0.25" textLength="37" lengthAdjust="spacingAndGlyphs">% of total</text>
<text x="110.0" y="323.3" font-size="6.6" font-weight="bold" stroke="#000" stroke-width="0.25" font-style="italic" textLength="33.2" lengthAdjust="spacingAndGlyphs">Adam17<tspan font-size="5.5" dy="-2.2" font-style="normal">+/+</tspan></text>
<text x="144.0" y="341.0" font-size="6.3" font-weight="bold" stroke="#b0b0b0" stroke-width="0.25" font-style="italic" fill="#b0b0b0" textLength="28.8" lengthAdjust="spacingAndGlyphs">Adam17<tspan font-size="5.5" dy="-2.2" font-style="normal">-/-</tspan></text>
<text transform="translate(272.2,340.0) rotate(-90)" font-size="8.5" font-weight="bold" stroke="#000" stroke-width="0.25" textLength="41" lengthAdjust="spacingAndGlyphs">% of total</text>
<text x="277.3" y="324.9" font-size="6.6" font-weight="bold" stroke="#000" stroke-width="0.25" font-style="italic" textLength="31.0" lengthAdjust="spacingAndGlyphs">Adam17<tspan font-size="5.5" dy="-2.2" font-style="normal">+/+</tspan></text>
<text x="307.8" y="340.0" font-size="6.3" font-weight="bold" stroke="#b0b0b0" stroke-width="0.25" font-style="italic" fill="#b0b0b0" textLength="29.3" lengthAdjust="spacingAndGlyphs">Adam17<tspan font-size="5.5" dy="-2.2" font-style="normal">-/-</tspan></text>
<text transform="translate(446.2,330.4) rotate(-90)" font-size="8.5" font-weight="bold" stroke="#000" stroke-width="0.25" textLength="35" lengthAdjust="spacingAndGlyphs">% of total</text>
<text x="450.0" y="315.6" font-size="6.6" font-weight="bold" stroke="#000" stroke-width="0.25" font-style="italic" textLength="33.2" lengthAdjust="spacingAndGlyphs">Adam17<tspan font-size="5.5" dy="-2.2" font-style="normal">+/+</tspan></text>
<text x="481.8" y="343.0" font-size="6.3" font-weight="bold" stroke="#b0b0b0" stroke-width="0.25" font-style="italic" fill="#b0b0b0" textLength="28.9" lengthAdjust="spacingAndGlyphs">Adam17<tspan font-size="5.5" dy="-2.2" font-style="normal">-/-</tspan></text>
<line x1="24.8" y1="341.4" x2="24.8" y2="307.5" stroke="#8c8c8c" stroke-width="2.0"/>
<polygon points="24.8,300.0 27.7,307.5 21.9,307.5" fill="#8c8c8c"/>
<text transform="translate(23.3,339.0) rotate(-90)" font-size="8.4" font-weight="bold" stroke="#000" stroke-width="0.25" textLength="29.5" lengthAdjust="spacingAndGlyphs">CD11b+</text>
<line x1="193.0" y1="341.4" x2="193.0" y2="308.5" stroke="#8c8c8c" stroke-width="2.0"/>
<polygon points="193.0,301.0 195.9,308.5 190.1,308.5" fill="#8c8c8c"/>
<text transform="translate(191.3,340.8) rotate(-90)" font-size="8.4" font-weight="bold" stroke="#000" stroke-width="0.25" textLength="30.100000000000023" lengthAdjust="spacingAndGlyphs">CD11b+</text>
<line x1="365.3" y1="341.4" x2="365.3" y2="307.9" stroke="#8c8c8c" stroke-width="2.0"/>
<polygon points="365.3,300.4 368.2,307.9 362.4,307.9" fill="#8c8c8c"/>
<text transform="translate(363.7,339.0) rotate(-90)" font-size="8.4" font-weight="bold" stroke="#000" stroke-width="0.25" textLength="29.0" lengthAdjust="spacingAndGlyphs">CD11b+</text>
<line x1="41.5" y1="392.6" x2="74.1" y2="392.6" stroke="#8c8c8c" stroke-width="2.0"/>
<polygon points="84.1,392.6 74.1,395.8 74.1,389.4" fill="#8c8c8c"/>
<text x="48.7" y="401.3" font-size="7.6" font-weight="bold" stroke="#000" stroke-width="0.25" textLength="24.1" lengthAdjust="spacingAndGlyphs">Ly6G+</text>
<line x1="211.4" y1="392.8" x2="244.1" y2="392.8" stroke="#8c8c8c" stroke-width="2.0"/>
<polygon points="254.1,392.8 244.1,396.0 244.1,389.6" fill="#8c8c8c"/>
<text x="216.9" y="401.3" font-size="7.6" font-weight="bold" stroke="#000" stroke-width="0.25" textLength="24.1" lengthAdjust="spacingAndGlyphs">Ly6G+</text>
<line x1="386.4" y1="391.7" x2="416.6" y2="391.7" stroke="#8c8c8c" stroke-width="2.0"/>
<polygon points="426.6,391.7 416.6,394.9 416.6,388.5" fill="#8c8c8c"/>
<text x="392.7" y="401.3" font-size="7.6" font-weight="bold" stroke="#000" stroke-width="0.25" textLength="23.9" lengthAdjust="spacingAndGlyphs">Ly6G+</text>
<line x1="119" y1="354.8" x2="150.0" y2="354.8" stroke="#8c8c8c" stroke-width="2.0"/>
<polygon points="160.0,354.8 150.0,358.0 150.0,351.6" fill="#8c8c8c"/>
<text x="119" y="364.2" font-size="7.6" font-weight="bold" stroke="#000" stroke-width="0.25" textLength="38.6" lengthAdjust="spacingAndGlyphs">L-selectin+</text>
<line x1="283" y1="353.5" x2="316.4" y2="353.5" stroke="#8c8c8c" stroke-width="2.0"/>
<polygon points="326.4,353.5 316.4,356.7 316.4,350.3" fill="#8c8c8c"/>
<text x="283" y="364.2" font-size="7.6" font-weight="bold" stroke="#000" stroke-width="0.25" textLength="43.4" lengthAdjust="spacingAndGlyphs">L-selectin+</text>
<line x1="460.2" y1="353.5" x2="489.0" y2="353.5" stroke="#8c8c8c" stroke-width="2.0"/>
<polygon points="499.0,353.5 489.0,356.7 489.0,350.3" fill="#8c8c8c"/>
<text x="460.2" y="364.2" font-size="7.6" font-weight="bold" stroke="#000" stroke-width="0.25" textLength="39.8" lengthAdjust="spacingAndGlyphs">L-selectin+</text>
<text transform="translate(13.7,307.9) rotate(-90)" font-size="10.3" font-weight="bold" stroke="#000" stroke-width="0.25" font-style="italic" textLength="46.39999999999998" lengthAdjust="spacingAndGlyphs">Adam17</text>
<text transform="translate(11.299999999999999,261.5) rotate(-90)" font-size="9.2" font-weight="bold" stroke="#000" stroke-width="0.25" textLength="15.0" lengthAdjust="spacingAndGlyphs">+/+</text>
<text transform="translate(14.6,384.1) rotate(-90)" font-size="10.3" font-weight="bold" stroke="#000" stroke-width="0.25" font-style="italic" textLength="42.10000000000002" lengthAdjust="spacingAndGlyphs">Adam17</text>
<text transform="translate(12.2,342.0) rotate(-90)" font-size="9.2" font-weight="bold" stroke="#000" stroke-width="0.25" textLength="15.300000000000011" lengthAdjust="spacingAndGlyphs">-/-</text>
<text transform="translate(354.6,308.8) rotate(-90)" font-size="10.3" font-weight="bold" stroke="#000" stroke-width="0.25" font-style="italic" textLength="43.80000000000001" lengthAdjust="spacingAndGlyphs">Adam17</text>
<text transform="translate(352.20000000000005,265.0) rotate(-90)" font-size="9.2" font-weight="bold" stroke="#000" stroke-width="0.25" textLength="17.80000000000001" lengthAdjust="spacingAndGlyphs">+/+</text>
<text transform="translate(357.3,382.6) rotate(-90)" font-size="10.3" font-weight="bold" stroke="#000" stroke-width="0.25" font-style="italic" textLength="49.10000000000002" lengthAdjust="spacingAndGlyphs">Adam17</text>
<text transform="translate(354.90000000000003,333.5) rotate(-90)" font-size="9.2" font-weight="bold" stroke="#000" stroke-width="0.25" textLength="17.19999999999999" lengthAdjust="spacingAndGlyphs">-/-</text>
</g>
</svg>
</body></html>
